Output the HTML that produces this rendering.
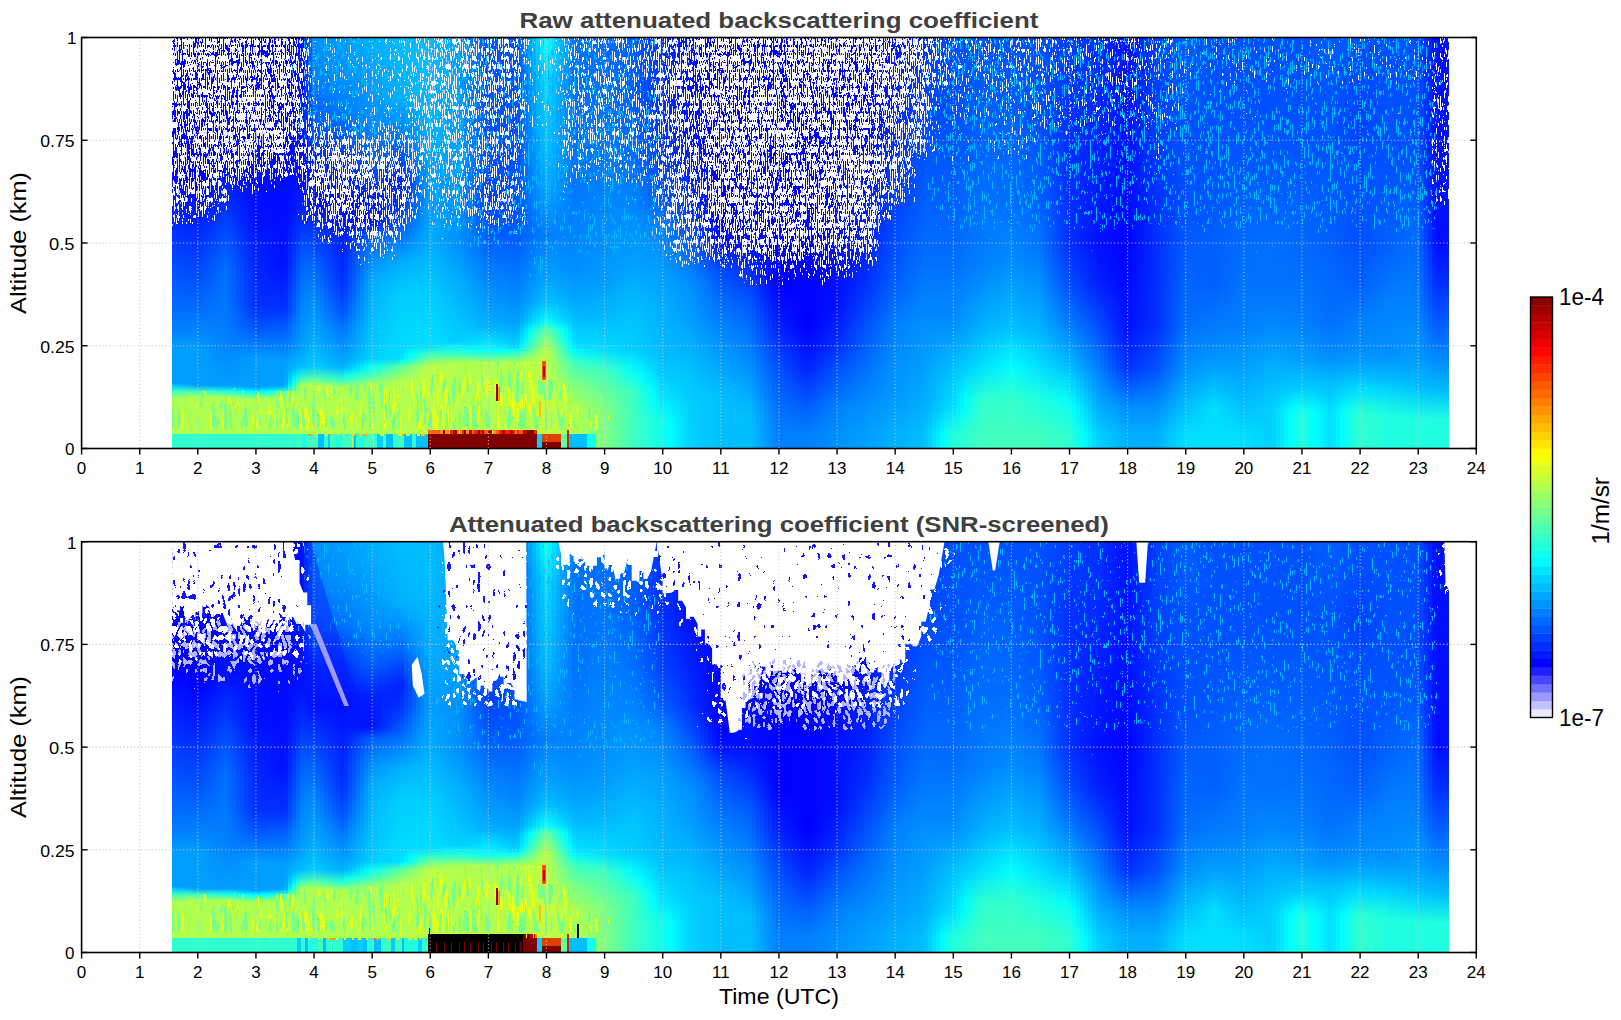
<!DOCTYPE html><html><head><meta charset="utf-8"><style>html,body{margin:0;padding:0;background:#fff;width:1621px;height:1020px;overflow:hidden;position:relative}i{position:absolute;top:0;height:100%;display:block}b{position:absolute;display:block}</style></head><body><div style="position:absolute;left:172.20px;top:37.50px;width:1276.79px;height:411.00px;overflow:hidden"><i style="left:0px;width:4.5px;background:linear-gradient(0deg,#afff50 3.5%,#afff50 12.0%,#96ff69 12.5%,#40ffbf 14.0%,#00c4ff 15.5%,#009fff 16.0%,#009fff 24.0%,#009fff 24.5%,#0080ff 29.0%,#007cff 30.0%,#0064ff 37.0%,#005fff 38.5%,#0048ff 46.0%,#003fff 49.0%,#002cff 55.0%,#001fff 59.0%,#000dff 65.0%,#0000ff 70.0%,#0000ff 100.0%)"></i><i style="left:4px;width:4.5px;background:linear-gradient(0deg,#afff50 3.5%,#afff50 12.0%,#9aff65 12.5%,#40ffbf 14.0%,#00beff 15.5%,#009fff 16.0%,#009fff 24.0%,#009fff 24.5%,#0081ff 29.0%,#007dff 30.0%,#0063ff 37.0%,#005eff 38.5%,#0047ff 46.0%,#003dff 49.0%,#002aff 55.0%,#001dff 59.0%,#000bff 65.0%,#0000ff 70.0%,#0000ff 100.0%)"></i><i style="left:8px;width:4.5px;background:linear-gradient(0deg,#afff50 3.5%,#afff50 12.0%,#9eff61 12.5%,#40ffbf 14.0%,#00b8ff 15.5%,#009fff 16.0%,#009fff 24.0%,#009eff 24.5%,#0082ff 29.0%,#007dff 30.0%,#0063ff 37.0%,#005eff 38.5%,#0045ff 46.0%,#003cff 49.0%,#0028ff 55.0%,#001bff 59.0%,#0009ff 65.0%,#0000ff 70.0%,#0000ff 100.0%)"></i><i style="left:12px;width:4.5px;background:linear-gradient(0deg,#afff50 3.5%,#afff50 12.0%,#a3ff5c 12.5%,#40ffbf 14.0%,#00b1ff 15.5%,#009fff 16.0%,#009fff 24.0%,#009eff 24.5%,#0082ff 29.0%,#007eff 30.0%,#0062ff 37.0%,#005dff 38.5%,#0044ff 46.0%,#003aff 49.0%,#0026ff 55.0%,#0019ff 59.0%,#0007ff 65.0%,#0000ff 70.0%,#0000ff 100.0%)"></i><i style="left:16px;width:4.5px;background:linear-gradient(0deg,#afff50 3.5%,#afff50 12.0%,#a7ff58 12.5%,#40ffbf 14.0%,#00abff 15.5%,#009fff 16.0%,#009fff 24.0%,#009eff 24.5%,#0083ff 29.0%,#007eff 30.0%,#0061ff 37.0%,#005cff 38.5%,#0042ff 46.0%,#0038ff 49.0%,#0024ff 55.0%,#0017ff 59.0%,#0004ff 65.0%,#0000ff 70.0%,#0000ff 100.0%)"></i><i style="left:20px;width:4.5px;background:linear-gradient(0deg,#afff50 3.5%,#afff50 12.0%,#abff54 12.5%,#40ffbf 14.0%,#00a5ff 15.5%,#009fff 16.0%,#009fff 24.0%,#009dff 24.5%,#0084ff 29.0%,#007fff 30.0%,#0060ff 37.0%,#005bff 38.5%,#0041ff 46.0%,#0037ff 49.0%,#0022ff 55.0%,#0015ff 59.0%,#0002ff 65.0%,#0000ff 70.0%,#0000ff 100.0%)"></i><i style="left:24px;width:4.5px;background:linear-gradient(0deg,#afff50 3.5%,#afff50 12.5%,#3fffc0 14.0%,#009fff 15.5%,#009fff 24.0%,#008fff 27.0%,#007fff 30.0%,#0060ff 37.0%,#004bff 43.0%,#0040ff 46.0%,#002bff 52.0%,#0020ff 55.0%,#0010ff 60.0%,#0000ff 65.0%,#0000ff 68.0%,#0000ff 100.0%)"></i><i style="left:28px;width:4.5px;background:linear-gradient(0deg,#afff50 3.5%,#afff50 12.5%,#3bffc4 14.0%,#009fff 15.5%,#009cff 24.0%,#008dff 27.0%,#007fff 30.0%,#0063ff 37.0%,#0050ff 43.0%,#0045ff 46.0%,#0030ff 52.0%,#0025ff 55.0%,#0015ff 60.0%,#0004ff 65.0%,#0002ff 68.0%,#0000ff 100.0%)"></i><i style="left:32px;width:4.5px;background:linear-gradient(0deg,#afff50 3.5%,#afff50 12.5%,#37ffc8 14.0%,#009fff 15.5%,#0099ff 24.0%,#008bff 27.0%,#007fff 30.0%,#0066ff 37.0%,#0055ff 43.0%,#004aff 46.0%,#0035ff 52.0%,#002aff 55.0%,#0019ff 60.0%,#0008ff 65.0%,#0005ff 68.0%,#0000ff 100.0%)"></i><i style="left:36px;width:4.5px;background:linear-gradient(0deg,#afff50 3.5%,#afff50 12.5%,#32ffcd 14.0%,#009fff 15.5%,#0095ff 24.0%,#0089ff 27.0%,#007eff 30.0%,#0069ff 37.0%,#005aff 43.0%,#0050ff 46.0%,#003aff 52.0%,#002fff 55.0%,#001eff 60.0%,#000cff 65.0%,#0007ff 68.0%,#0000ff 100.0%)"></i><i style="left:40px;width:4.5px;background:linear-gradient(0deg,#afff50 3.5%,#afff50 12.5%,#2effd1 14.0%,#009fff 15.5%,#0092ff 24.0%,#0086ff 27.0%,#007eff 30.0%,#006cff 37.0%,#005fff 43.0%,#0055ff 46.0%,#003fff 52.0%,#0034ff 55.0%,#0022ff 60.0%,#0010ff 65.0%,#0009ff 68.0%,#0000ff 100.0%)"></i><i style="left:44px;width:4.5px;background:linear-gradient(0deg,#afff50 3.5%,#afff50 12.5%,#29ffd6 14.0%,#009fff 15.5%,#008fff 24.0%,#0084ff 27.0%,#007dff 30.0%,#006fff 37.0%,#0064ff 43.0%,#005aff 46.0%,#0045ff 52.0%,#0039ff 55.0%,#0026ff 60.0%,#0014ff 65.0%,#000bff 68.0%,#0000ff 100.0%)"></i><i style="left:48px;width:4.5px;background:linear-gradient(0deg,#afff50 3.5%,#afff50 12.5%,#25ffda 14.0%,#009fff 15.5%,#008cff 24.0%,#0082ff 27.0%,#007dff 30.0%,#0072ff 37.0%,#006aff 43.0%,#005fff 46.0%,#004aff 52.0%,#003eff 55.0%,#002bff 60.0%,#0017ff 65.0%,#000dff 68.0%,#0000ff 100.0%)"></i><i style="left:52px;width:4.5px;background:linear-gradient(0deg,#afff50 3.5%,#afff50 12.5%,#21ffde 14.0%,#009fff 15.5%,#0088ff 24.0%,#0080ff 27.0%,#007dff 30.0%,#0075ff 37.0%,#006fff 43.0%,#0064ff 46.0%,#004fff 52.0%,#0043ff 55.0%,#002fff 60.0%,#001bff 65.0%,#0010ff 68.0%,#0000ff 100.0%)"></i><i style="left:56px;width:4.5px;background:linear-gradient(0deg,#afff50 3.5%,#afff50 12.0%,#aaff55 12.5%,#4affb5 13.5%,#1bffe4 14.0%,#00c5ff 15.0%,#009fff 15.5%,#008fff 22.0%,#0084ff 25.0%,#007dff 27.0%,#0077ff 30.0%,#006fff 35.0%,#0067ff 43.0%,#0054ff 49.0%,#0049ff 52.0%,#003eff 55.0%,#002cff 60.0%,#000fff 68.0%,#0000ff 100.0%)"></i><i style="left:60px;width:4.5px;background:linear-gradient(0deg,#afff50 3.5%,#afff50 12.0%,#a3ff5c 12.5%,#44ffbb 13.5%,#15ffea 14.0%,#00bfff 15.0%,#009fff 15.5%,#0092ff 22.0%,#0084ff 25.0%,#007bff 27.0%,#0071ff 30.0%,#0065ff 35.0%,#005dff 43.0%,#004cff 49.0%,#0042ff 52.0%,#0037ff 55.0%,#0027ff 60.0%,#000fff 68.0%,#0000ff 100.0%)"></i><i style="left:64px;width:4.5px;background:linear-gradient(0deg,#afff50 3.5%,#afff50 12.0%,#9dff62 12.5%,#3dffc2 13.5%,#0ffff0 14.0%,#00b9ff 15.0%,#009fff 15.5%,#0094ff 22.0%,#0083ff 25.0%,#0078ff 27.0%,#006bff 30.0%,#005cff 35.0%,#0053ff 43.0%,#0044ff 49.0%,#003aff 52.0%,#0030ff 55.0%,#0023ff 60.0%,#000eff 68.0%,#0000ff 100.0%)"></i><i style="left:68px;width:4.5px;background:linear-gradient(0deg,#afff50 3.5%,#afff50 12.0%,#96ff69 12.5%,#36ffc9 13.5%,#09fff6 14.0%,#00b3ff 15.0%,#009fff 15.5%,#0097ff 22.0%,#0082ff 25.0%,#0075ff 27.0%,#0065ff 30.0%,#0052ff 35.0%,#0049ff 43.0%,#003cff 49.0%,#0032ff 52.0%,#0028ff 55.0%,#001eff 60.0%,#000eff 68.0%,#0000ff 100.0%)"></i><i style="left:72px;width:4.5px;background:linear-gradient(0deg,#afff50 3.5%,#afff50 12.0%,#90ff6f 12.5%,#30ffcf 13.5%,#04fffb 14.0%,#00aeff 15.0%,#009fff 15.5%,#0099ff 22.0%,#0081ff 25.0%,#0073ff 27.0%,#005fff 30.0%,#0048ff 35.0%,#003fff 43.0%,#0033ff 49.0%,#002bff 52.0%,#0021ff 55.0%,#0019ff 60.0%,#000dff 68.0%,#0000ff 100.0%)"></i><i style="left:76px;width:4.5px;background:linear-gradient(0deg,#afff50 3.5%,#afff50 12.0%,#89ff76 12.5%,#29ffd6 13.5%,#00fdff 14.0%,#00a8ff 15.0%,#009fff 15.5%,#009cff 22.0%,#0081ff 25.0%,#0070ff 27.0%,#0059ff 30.0%,#003eff 35.0%,#0035ff 43.0%,#002bff 49.0%,#0023ff 52.0%,#001aff 55.0%,#0015ff 60.0%,#000cff 68.0%,#0000ff 100.0%)"></i><i style="left:80px;width:4.5px;background:linear-gradient(0deg,#afff50 3.5%,#afff50 12.0%,#82ff7d 12.5%,#23ffdc 13.5%,#00f7ff 14.0%,#00a2ff 15.0%,#009fff 15.5%,#009eff 22.0%,#0080ff 25.0%,#006eff 27.0%,#0052ff 30.0%,#0034ff 35.0%,#002bff 43.0%,#0023ff 49.0%,#001bff 52.0%,#0013ff 55.0%,#0010ff 60.0%,#000cff 68.0%,#0000ff 100.0%)"></i><i style="left:84px;width:4.5px;background:linear-gradient(0deg,#afff50 3.5%,#afff50 12.0%,#83ff7c 12.5%,#24ffdb 13.5%,#00f8ff 14.0%,#00a3ff 15.0%,#009fff 15.5%,#009fff 21.0%,#009fff 22.0%,#0080ff 25.0%,#005aff 29.0%,#0050ff 30.0%,#0036ff 34.0%,#0030ff 35.0%,#0023ff 45.0%,#001fff 49.0%,#0010ff 55.0%,#0000ff 100.0%)"></i><i style="left:88px;width:4.5px;background:linear-gradient(0deg,#afff50 3.5%,#afff50 12.0%,#8aff75 12.5%,#2affd5 13.5%,#00feff 14.0%,#00a9ff 15.0%,#009fff 15.5%,#009fff 21.0%,#009eff 22.0%,#0080ff 25.0%,#005bff 29.0%,#0051ff 30.0%,#0035ff 34.0%,#002fff 35.0%,#0020ff 45.0%,#001cff 49.0%,#000fff 55.0%,#0000ff 100.0%)"></i><i style="left:92px;width:4.5px;background:linear-gradient(0deg,#afff50 3.5%,#afff50 12.0%,#90ff6f 12.5%,#31ffce 13.5%,#04fffb 14.0%,#00aeff 15.0%,#009fff 15.5%,#009fff 21.0%,#009dff 22.0%,#0080ff 25.0%,#005cff 29.0%,#0052ff 30.0%,#0034ff 34.0%,#002fff 35.0%,#001dff 45.0%,#001aff 49.0%,#000fff 55.0%,#0000ff 100.0%)"></i><i style="left:96px;width:4.5px;background:linear-gradient(0deg,#afff50 3.5%,#afff50 12.0%,#97ff68 12.5%,#37ffc8 13.5%,#0afff5 14.0%,#00b4ff 15.0%,#009fff 15.5%,#009fff 21.0%,#009bff 22.0%,#0080ff 25.0%,#005cff 29.0%,#0053ff 30.0%,#0033ff 34.0%,#002eff 35.0%,#001aff 45.0%,#0017ff 49.0%,#000fff 55.0%,#0000ff 100.0%)"></i><i style="left:100px;width:4.5px;background:linear-gradient(0deg,#afff50 3.5%,#afff50 12.0%,#9eff61 12.5%,#3effc1 13.5%,#10ffef 14.0%,#00baff 15.0%,#009fff 15.5%,#009fff 21.0%,#009aff 22.0%,#0080ff 25.0%,#005dff 29.0%,#0054ff 30.0%,#0032ff 34.0%,#002eff 35.0%,#0018ff 45.0%,#0015ff 49.0%,#000eff 55.0%,#0000ff 100.0%)"></i><i style="left:104px;width:4.5px;background:linear-gradient(0deg,#afff50 3.5%,#afff50 12.0%,#a4ff5b 12.5%,#45ffba 13.5%,#16ffe9 14.0%,#00c0ff 15.0%,#009fff 15.5%,#009fff 21.0%,#0099ff 22.0%,#0080ff 25.0%,#005eff 29.0%,#0055ff 30.0%,#0031ff 34.0%,#002eff 35.0%,#0015ff 45.0%,#0013ff 49.0%,#000eff 55.0%,#0000ff 100.0%)"></i><i style="left:108px;width:4.5px;background:linear-gradient(0deg,#afff50 3.5%,#afff50 12.0%,#abff54 12.5%,#4bffb4 13.5%,#1cffe3 14.0%,#00c6ff 15.0%,#009fff 15.5%,#009fff 21.0%,#0098ff 22.0%,#0080ff 25.0%,#005fff 29.0%,#0055ff 30.0%,#0030ff 34.0%,#002dff 35.0%,#0012ff 45.0%,#0010ff 49.0%,#000dff 55.0%,#0000ff 100.0%)"></i><i style="left:112px;width:4.5px;background:linear-gradient(0deg,#afff50 3.5%,#afff50 12.5%,#2affd5 14.0%,#00b2ff 15.5%,#00aaff 17.0%,#00a2ff 20.0%,#00a1ff 21.0%,#0082ff 25.0%,#0063ff 29.0%,#0036ff 34.0%,#002dff 37.0%,#0016ff 45.0%,#0015ff 46.0%,#000fff 55.0%,#000bff 65.0%,#0005ff 85.0%,#0001ff 100.0%)"></i><i style="left:116px;width:4.5px;background:linear-gradient(0deg,#afff50 3.5%,#afff50 12.5%,#4bffb4 14.0%,#00f0ff 15.5%,#00cfff 17.0%,#00a9ff 20.0%,#00a7ff 21.0%,#0089ff 25.0%,#006fff 29.0%,#004aff 34.0%,#0041ff 37.0%,#0029ff 45.0%,#0028ff 46.0%,#0017ff 55.0%,#000cff 65.0%,#0008ff 85.0%,#0005ff 100.0%)"></i><i style="left:120px;width:4.5px;background:linear-gradient(0deg,#afff50 3.5%,#afff50 12.5%,#6cff93 14.0%,#2fffd0 15.5%,#00f4ff 17.0%,#00b0ff 20.0%,#00adff 21.0%,#0090ff 25.0%,#007cff 29.0%,#005eff 34.0%,#0056ff 37.0%,#003cff 45.0%,#003aff 46.0%,#001fff 55.0%,#000dff 65.0%,#000aff 85.0%,#0008ff 100.0%)"></i><i style="left:124px;width:4.5px;background:linear-gradient(0deg,#afff50 3.5%,#afff50 12.5%,#8dff72 14.0%,#6eff91 15.5%,#19ffe6 17.0%,#00b8ff 20.0%,#00b3ff 21.0%,#0098ff 25.0%,#0088ff 29.0%,#0072ff 34.0%,#006aff 37.0%,#004fff 45.0%,#004cff 46.0%,#0027ff 55.0%,#000fff 65.0%,#000dff 85.0%,#000cff 100.0%)"></i><i style="left:128px;width:4.5px;background:linear-gradient(0deg,#afff50 3.5%,#afff50 12.5%,#adff52 14.0%,#acff53 15.5%,#3effc1 17.0%,#00bfff 20.0%,#00b9ff 21.0%,#009fff 25.0%,#0094ff 29.0%,#0086ff 34.0%,#007eff 37.0%,#0062ff 45.0%,#005fff 46.0%,#002fff 55.0%,#0010ff 65.0%,#0010ff 85.0%,#0010ff 100.0%)"></i><i style="left:132px;width:4.5px;background:linear-gradient(0deg,#afff50 3.5%,#afff50 15.5%,#4affb5 17.0%,#00c4ff 20.0%,#00a6ff 25.0%,#00a3ff 26.0%,#0086ff 36.0%,#0083ff 37.0%,#006cff 43.0%,#0060ff 46.0%,#0040ff 52.0%,#002fff 55.0%,#001bff 60.0%,#0013ff 65.0%,#0015ff 70.0%,#002aff 80.0%,#002fff 85.0%,#0034ff 90.0%,#0039ff 100.0%)"></i><i style="left:136px;width:4.5px;background:linear-gradient(0deg,#afff50 3.5%,#afff50 15.5%,#55ffaa 17.0%,#00caff 20.0%,#00aeff 25.0%,#00a9ff 26.0%,#008bff 36.0%,#0087ff 37.0%,#006eff 43.0%,#0060ff 46.0%,#0040ff 52.0%,#002eff 55.0%,#0015ff 60.0%,#0015ff 65.0%,#001bff 70.0%,#0045ff 80.0%,#0050ff 85.0%,#005bff 90.0%,#0065ff 100.0%)"></i><i style="left:140px;width:4.5px;background:linear-gradient(0deg,#afff50 3.5%,#afff50 15.0%,#afff50 15.5%,#7aff85 16.5%,#5fffa0 17.0%,#00cfff 20.0%,#00b4ff 25.0%,#00afff 26.0%,#00a2ff 30.0%,#0095ff 34.0%,#008fff 36.0%,#007dff 40.0%,#006fff 43.0%,#004aff 50.0%,#0040ff 52.0%,#0010ff 60.0%,#0020ff 70.0%,#0060ff 80.0%,#0080ff 90.0%,#0090ff 100.0%)"></i><i style="left:144px;width:4.5px;background:linear-gradient(0deg,#afff50 3.5%,#afff50 15.0%,#aaff55 15.5%,#72ff8d 16.5%,#58ffa7 17.0%,#00cbff 20.0%,#00afff 25.0%,#00aaff 26.0%,#009bff 30.0%,#008cff 34.0%,#0085ff 36.0%,#0072ff 40.0%,#0066ff 43.0%,#0044ff 50.0%,#003bff 52.0%,#0010ff 60.0%,#0022ff 70.0%,#0062ff 80.0%,#0082ff 90.0%,#0092ff 100.0%)"></i><i style="left:148px;width:4.5px;background:linear-gradient(0deg,#afff50 3.5%,#afff50 15.0%,#a5ff5a 15.5%,#6aff95 16.5%,#51ffae 17.0%,#00c6ff 20.0%,#00aaff 25.0%,#00a5ff 26.0%,#0094ff 30.0%,#0082ff 34.0%,#007bff 36.0%,#0068ff 40.0%,#005cff 43.0%,#003eff 50.0%,#0036ff 52.0%,#0010ff 60.0%,#0024ff 70.0%,#0064ff 80.0%,#0084ff 90.0%,#0094ff 100.0%)"></i><i style="left:152px;width:4.5px;background:linear-gradient(0deg,#afff50 3.5%,#afff50 15.0%,#a0ff5f 15.5%,#62ff9d 16.5%,#4affb5 17.0%,#00c2ff 20.0%,#00a5ff 25.0%,#009fff 26.0%,#008dff 30.0%,#0078ff 34.0%,#0070ff 36.0%,#005dff 40.0%,#0053ff 43.0%,#0039ff 50.0%,#0031ff 52.0%,#0010ff 60.0%,#0027ff 70.0%,#0066ff 80.0%,#0086ff 90.0%,#0096ff 100.0%)"></i><i style="left:156px;width:4.5px;background:linear-gradient(0deg,#afff50 3.5%,#afff50 15.0%,#9bff64 15.5%,#5affa5 16.5%,#43ffbc 17.0%,#00bdff 20.0%,#00a0ff 25.0%,#009aff 26.0%,#0086ff 30.0%,#006fff 34.0%,#0066ff 36.0%,#0052ff 40.0%,#0049ff 43.0%,#0033ff 50.0%,#002cff 52.0%,#0010ff 60.0%,#0029ff 70.0%,#0068ff 80.0%,#0088ff 90.0%,#0098ff 100.0%)"></i><i style="left:160px;width:4.5px;background:linear-gradient(0deg,#afff50 3.5%,#afff50 15.0%,#96ff69 15.5%,#52ffad 16.5%,#3bffc4 17.0%,#00b9ff 20.0%,#009bff 25.0%,#0095ff 26.0%,#007fff 30.0%,#0065ff 34.0%,#005cff 36.0%,#0048ff 40.0%,#0040ff 43.0%,#002dff 50.0%,#0027ff 52.0%,#0010ff 60.0%,#002bff 70.0%,#006bff 80.0%,#008bff 90.0%,#009aff 100.0%)"></i><i style="left:164px;width:4.5px;background:linear-gradient(0deg,#afff50 3.5%,#afff50 15.0%,#90ff6f 15.5%,#4affb5 16.5%,#34ffcb 17.0%,#00b5ff 20.0%,#0096ff 25.0%,#0090ff 26.0%,#0078ff 30.0%,#005cff 34.0%,#0052ff 36.0%,#003dff 40.0%,#0037ff 43.0%,#0027ff 50.0%,#0023ff 52.0%,#0010ff 60.0%,#002dff 70.0%,#006dff 80.0%,#008dff 90.0%,#009dff 100.0%)"></i><i style="left:168px;width:4.5px;background:linear-gradient(0deg,#afff50 3.5%,#afff50 15.0%,#8bff74 15.5%,#42ffbd 16.5%,#2dffd2 17.0%,#00b0ff 20.0%,#0091ff 25.0%,#008aff 26.0%,#0071ff 30.0%,#0052ff 34.0%,#0047ff 36.0%,#0032ff 40.0%,#002dff 43.0%,#0021ff 50.0%,#001eff 52.0%,#0010ff 60.0%,#002fff 70.0%,#006fff 80.0%,#008fff 90.0%,#009fff 100.0%)"></i><i style="left:172px;width:4.5px;background:linear-gradient(0deg,#afff50 3.5%,#afff50 15.0%,#8eff71 15.5%,#47ffb8 16.5%,#09fff6 18.0%,#00b9ff 20.0%,#00a7ff 22.0%,#0096ff 25.0%,#0078ff 30.0%,#0071ff 31.0%,#005bff 34.0%,#003dff 40.0%,#0031ff 46.0%,#0028ff 50.0%,#0024ff 52.0%,#0017ff 55.0%,#0011ff 60.0%,#0017ff 62.0%,#0035ff 70.0%,#0073ff 80.0%,#0091ff 90.0%,#00a1ff 100.0%)"></i><i style="left:176px;width:4.5px;background:linear-gradient(0deg,#afff50 3.5%,#afff50 15.0%,#93ff6c 15.5%,#50ffaf 16.5%,#11ffee 18.0%,#00c5ff 20.0%,#00adff 22.0%,#009eff 25.0%,#0083ff 30.0%,#007dff 31.0%,#006aff 34.0%,#004fff 40.0%,#0040ff 46.0%,#0033ff 50.0%,#002dff 52.0%,#0016ff 55.0%,#0013ff 60.0%,#0019ff 62.0%,#003bff 70.0%,#0077ff 80.0%,#0093ff 90.0%,#00a3ff 100.0%)"></i><i style="left:180px;width:4.5px;background:linear-gradient(0deg,#afff50 3.5%,#afff50 15.0%,#98ff67 15.5%,#59ffa6 16.5%,#1affe5 18.0%,#00d1ff 20.0%,#00b4ff 22.0%,#00a6ff 25.0%,#008fff 30.0%,#0089ff 31.0%,#0078ff 34.0%,#0060ff 40.0%,#004eff 46.0%,#003eff 50.0%,#0036ff 52.0%,#0015ff 55.0%,#0014ff 60.0%,#001aff 62.0%,#0042ff 70.0%,#007cff 80.0%,#0096ff 90.0%,#00a5ff 100.0%)"></i><i style="left:184px;width:4.5px;background:linear-gradient(0deg,#afff50 3.5%,#afff50 15.0%,#9dff62 15.5%,#63ff9c 16.5%,#22ffdd 18.0%,#00ddff 20.0%,#00baff 22.0%,#00aeff 25.0%,#009aff 30.0%,#0095ff 31.0%,#0087ff 34.0%,#0072ff 40.0%,#005dff 46.0%,#0049ff 50.0%,#003fff 52.0%,#0014ff 55.0%,#0016ff 60.0%,#001bff 62.0%,#0049ff 70.0%,#0080ff 80.0%,#0098ff 90.0%,#00a8ff 100.0%)"></i><i style="left:188px;width:4.5px;background:linear-gradient(0deg,#afff50 3.5%,#afff50 15.0%,#a3ff5c 15.5%,#6cff93 16.5%,#2bffd4 18.0%,#00e9ff 20.0%,#00c0ff 22.0%,#00b6ff 25.0%,#00a5ff 30.0%,#00a1ff 31.0%,#0095ff 34.0%,#0084ff 40.0%,#006bff 46.0%,#0054ff 50.0%,#0049ff 52.0%,#0013ff 55.0%,#0017ff 60.0%,#001dff 62.0%,#004fff 70.0%,#0085ff 80.0%,#009aff 90.0%,#00aaff 100.0%)"></i><i style="left:192px;width:4.5px;background:linear-gradient(0deg,#afff50 3.5%,#afff50 15.0%,#a8ff57 15.5%,#75ff8a 16.5%,#33ffcc 18.0%,#00f5ff 20.0%,#00c6ff 22.0%,#00beff 25.0%,#00b0ff 30.0%,#00adff 31.0%,#00a4ff 34.0%,#0095ff 40.0%,#007aff 46.0%,#005fff 50.0%,#0052ff 52.0%,#0012ff 55.0%,#0019ff 60.0%,#001eff 62.0%,#0056ff 70.0%,#0089ff 80.0%,#009cff 90.0%,#00acff 100.0%)"></i><i style="left:196px;width:4.5px;background:linear-gradient(0deg,#afff50 3.5%,#afff50 15.0%,#adff52 15.5%,#7eff81 16.5%,#3cffc3 18.0%,#02fffd 20.0%,#00ccff 22.0%,#00c6ff 25.0%,#00bcff 30.0%,#00b9ff 31.0%,#00b3ff 34.0%,#00a7ff 40.0%,#0088ff 46.0%,#006aff 50.0%,#005bff 52.0%,#0010ff 55.0%,#001bff 60.0%,#001fff 62.0%,#005cff 70.0%,#008dff 80.0%,#009eff 90.0%,#00aeff 100.0%)"></i><i style="left:200px;width:4.5px;background:linear-gradient(0deg,#afff50 3.5%,#afff50 15.5%,#86ff79 16.5%,#45ffba 18.0%,#0efff1 20.0%,#00d0ff 22.0%,#00c1ff 31.0%,#00b6ff 37.0%,#00b1ff 40.0%,#0097ff 45.0%,#0091ff 46.0%,#0061ff 52.0%,#0015ff 55.0%,#001dff 60.0%,#0021ff 62.0%,#0036ff 65.0%,#005eff 70.0%,#0077ff 75.0%,#008fff 80.0%,#0099ff 85.0%,#00a1ff 90.0%,#00b0ff 100.0%)"></i><i style="left:204px;width:4.5px;background:linear-gradient(0deg,#afff50 3.5%,#afff50 15.5%,#8cff73 16.5%,#50ffaf 18.0%,#1affe5 20.0%,#00d2ff 22.0%,#00c4ff 31.0%,#00baff 37.0%,#00b3ff 40.0%,#009aff 45.0%,#0094ff 46.0%,#0063ff 52.0%,#001fff 55.0%,#0020ff 60.0%,#0022ff 62.0%,#0033ff 65.0%,#005bff 70.0%,#0076ff 75.0%,#008fff 80.0%,#009cff 85.0%,#00a4ff 90.0%,#00b3ff 100.0%)"></i><i style="left:208px;width:4.5px;background:linear-gradient(0deg,#afff50 3.5%,#afff50 15.5%,#92ff6d 16.5%,#5affa5 18.0%,#26ffd9 20.0%,#00d5ff 22.0%,#00c7ff 31.0%,#00beff 37.0%,#00b6ff 40.0%,#009eff 45.0%,#0097ff 46.0%,#0065ff 52.0%,#0029ff 55.0%,#0022ff 60.0%,#0023ff 62.0%,#0030ff 65.0%,#0057ff 70.0%,#0075ff 75.0%,#008fff 80.0%,#00a0ff 85.0%,#00a7ff 90.0%,#00b5ff 100.0%)"></i><i style="left:212px;width:4.5px;background:linear-gradient(0deg,#afff50 3.5%,#afff50 15.5%,#98ff67 16.5%,#65ff9a 18.0%,#32ffcd 20.0%,#00d7ff 22.0%,#00caff 31.0%,#00c1ff 37.0%,#00b9ff 40.0%,#00a2ff 45.0%,#009aff 46.0%,#0067ff 52.0%,#0033ff 55.0%,#0025ff 60.0%,#0024ff 62.0%,#002cff 65.0%,#0054ff 70.0%,#0074ff 75.0%,#008fff 80.0%,#00a3ff 85.0%,#00aaff 90.0%,#00b7ff 100.0%)"></i><i style="left:216px;width:4.5px;background:linear-gradient(0deg,#afff50 3.5%,#afff50 15.5%,#9eff61 16.5%,#70ff8f 18.0%,#3effc1 20.0%,#00d9ff 22.0%,#00cdff 31.0%,#00c5ff 37.0%,#00bcff 40.0%,#00a5ff 45.0%,#009eff 46.0%,#006aff 52.0%,#003cff 55.0%,#0028ff 60.0%,#0026ff 62.0%,#0029ff 65.0%,#0051ff 70.0%,#0073ff 75.0%,#008fff 80.0%,#00a6ff 85.0%,#00adff 90.0%,#00b9ff 100.0%)"></i><i style="left:220px;width:4.5px;background:linear-gradient(0deg,#afff50 3.5%,#afff50 15.5%,#a5ff5a 16.5%,#7aff85 18.0%,#4affb5 20.0%,#00dbff 22.0%,#00d0ff 31.0%,#00c9ff 37.0%,#00beff 40.0%,#00a9ff 45.0%,#00a1ff 46.0%,#006cff 52.0%,#0046ff 55.0%,#002bff 60.0%,#0027ff 62.0%,#0026ff 65.0%,#004dff 70.0%,#0071ff 75.0%,#008fff 80.0%,#00aaff 85.0%,#00afff 90.0%,#00bbff 100.0%)"></i><i style="left:224px;width:4.5px;background:linear-gradient(0deg,#afff50 3.5%,#afff50 15.5%,#abff54 16.5%,#85ff7a 18.0%,#57ffa8 20.0%,#00ddff 22.0%,#00d3ff 31.0%,#00ccff 37.0%,#00c1ff 40.0%,#00adff 45.0%,#00a4ff 46.0%,#006eff 52.0%,#0050ff 55.0%,#002eff 60.0%,#0028ff 62.0%,#0022ff 65.0%,#004aff 70.0%,#0070ff 75.0%,#008fff 80.0%,#00adff 85.0%,#00b2ff 90.0%,#00beff 100.0%)"></i><i style="left:228px;width:4.5px;background:linear-gradient(0deg,#b0ff4f 3.5%,#b0ff4f 16.5%,#63ff9c 20.0%,#04fffb 21.5%,#00e4ff 22.0%,#00e1ff 23.0%,#00dcff 25.0%,#00cfff 37.0%,#00b0ff 45.0%,#0083ff 50.0%,#0072ff 52.0%,#0034ff 60.0%,#0024ff 65.0%,#0072ff 75.0%,#00b0ff 85.0%,#00b5ff 90.0%,#00bfff 100.0%)"></i><i style="left:232px;width:4.5px;background:linear-gradient(0deg,#b2ff4d 3.5%,#b2ff4d 16.5%,#70ff8f 20.0%,#16ffe9 21.5%,#00f7ff 22.0%,#00efff 23.0%,#00dcff 25.0%,#00cfff 37.0%,#00b1ff 45.0%,#008aff 50.0%,#007aff 52.0%,#0043ff 60.0%,#0037ff 65.0%,#007aff 75.0%,#00b1ff 85.0%,#00b6ff 90.0%,#00bfff 100.0%)"></i><i style="left:236px;width:4.5px;background:linear-gradient(0deg,#b4ff4b 3.5%,#b4ff4b 16.5%,#7dff82 20.0%,#27ffd8 21.5%,#0bfff4 22.0%,#00fcff 23.0%,#00ddff 25.0%,#00cfff 37.0%,#00b3ff 45.0%,#0090ff 50.0%,#0082ff 52.0%,#0052ff 60.0%,#0049ff 65.0%,#0083ff 75.0%,#00b3ff 85.0%,#00b8ff 90.0%,#00bfff 100.0%)"></i><i style="left:240px;width:4.5px;background:linear-gradient(0deg,#b6ff49 3.5%,#b6ff49 16.5%,#8aff75 20.0%,#39ffc6 21.5%,#1effe1 22.0%,#0afff5 23.0%,#00ddff 25.0%,#00cfff 37.0%,#00b5ff 45.0%,#0096ff 50.0%,#008bff 52.0%,#0062ff 60.0%,#005bff 65.0%,#008cff 75.0%,#00b4ff 85.0%,#00b9ff 90.0%,#00bfff 100.0%)"></i><i style="left:244px;width:4.5px;background:linear-gradient(0deg,#b9ff46 3.5%,#b9ff46 16.5%,#98ff67 20.0%,#4bffb4 21.5%,#31ffce 22.0%,#18ffe7 23.0%,#00deff 25.0%,#00cfff 37.0%,#00b6ff 45.0%,#009cff 50.0%,#0093ff 52.0%,#0071ff 60.0%,#006dff 65.0%,#0095ff 75.0%,#00b6ff 85.0%,#00bbff 90.0%,#00bfff 100.0%)"></i><i style="left:248px;width:4.5px;background:linear-gradient(0deg,#bbff44 3.5%,#bbff44 16.5%,#a5ff5a 20.0%,#5cffa3 21.5%,#44ffbb 22.0%,#25ffda 23.0%,#00deff 25.0%,#00cfff 37.0%,#00b8ff 45.0%,#00a3ff 50.0%,#009bff 52.0%,#0080ff 60.0%,#0080ff 65.0%,#009eff 75.0%,#00b7ff 85.0%,#00bcff 90.0%,#00bfff 100.0%)"></i><i style="left:252px;width:4.5px;background:linear-gradient(0deg,#bdff42 3.5%,#bdff42 16.5%,#b2ff4d 20.0%,#6eff91 21.5%,#57ffa8 22.0%,#32ffcd 23.0%,#00dfff 25.0%,#00cfff 37.0%,#00baff 45.0%,#00a9ff 50.0%,#00a4ff 52.0%,#0090ff 60.0%,#0092ff 65.0%,#00a6ff 75.0%,#00b8ff 85.0%,#00beff 90.0%,#00bfff 100.0%)"></i><i style="left:256px;width:4.5px;background:linear-gradient(0deg,#bfff40 3.5%,#bfff40 16.5%,#bfff40 20.0%,#7fff80 21.5%,#6aff95 22.0%,#3fffc0 23.0%,#00dfff 25.0%,#00cfff 37.0%,#00bcff 45.0%,#00afff 50.0%,#00acff 52.0%,#009fff 60.0%,#00a4ff 65.0%,#00afff 75.0%,#00baff 85.0%,#00bfff 90.0%,#00bfff 100.0%)"></i><i style="left:260px;width:4.5px;background:linear-gradient(0deg,#bdff42 3.5%,#bdff42 20.0%,#98ff67 21.0%,#82ff7d 21.5%,#40ffbf 23.0%,#00e2ff 25.0%,#00dcff 26.0%,#00ccff 37.0%,#00c5ff 40.0%,#00abff 50.0%,#009dff 60.0%,#00a9ff 70.0%,#00adff 75.0%,#00bbff 90.0%,#00bbff 100.0%)"></i><i style="left:264px;width:4.5px;background:linear-gradient(0deg,#bbff44 3.5%,#bbff44 20.0%,#9cff63 21.0%,#85ff7a 21.5%,#40ffbf 23.0%,#00e5ff 25.0%,#00daff 26.0%,#00c8ff 37.0%,#00c1ff 40.0%,#00a7ff 50.0%,#009bff 60.0%,#00a7ff 70.0%,#00abff 75.0%,#00b7ff 90.0%,#00b7ff 100.0%)"></i><i style="left:268px;width:4.5px;background:linear-gradient(0deg,#b9ff46 3.5%,#b9ff46 20.0%,#a0ff5f 21.0%,#88ff77 21.5%,#40ffbf 23.0%,#00e8ff 25.0%,#00d8ff 26.0%,#00c5ff 37.0%,#00beff 40.0%,#00a2ff 50.0%,#0099ff 60.0%,#00a6ff 70.0%,#00a9ff 75.0%,#00b2ff 90.0%,#00b2ff 100.0%)"></i><i style="left:272px;width:4.5px;background:linear-gradient(0deg,#b7ff48 3.5%,#b7ff48 20.0%,#a3ff5c 21.0%,#8aff75 21.5%,#40ffbf 23.0%,#00ebff 25.0%,#00d6ff 26.0%,#00c1ff 37.0%,#00baff 40.0%,#009eff 50.0%,#0097ff 60.0%,#00a4ff 70.0%,#00a7ff 75.0%,#00aeff 90.0%,#00aeff 100.0%)"></i><i style="left:276px;width:4.5px;background:linear-gradient(0deg,#b4ff4b 3.5%,#b4ff4b 20.0%,#a7ff58 21.0%,#8dff72 21.5%,#40ffbf 23.0%,#00eeff 25.0%,#00d4ff 26.0%,#00beff 37.0%,#00b7ff 40.0%,#0099ff 50.0%,#0094ff 60.0%,#00a3ff 70.0%,#00a4ff 75.0%,#00a9ff 90.0%,#00a9ff 100.0%)"></i><i style="left:280px;width:4.5px;background:linear-gradient(0deg,#b2ff4d 3.5%,#b2ff4d 20.0%,#abff54 21.0%,#90ff6f 21.5%,#40ffbf 23.0%,#00f1ff 25.0%,#00d2ff 26.0%,#00bbff 37.0%,#00b4ff 40.0%,#0095ff 50.0%,#0092ff 60.0%,#00a1ff 70.0%,#00a2ff 75.0%,#00a5ff 90.0%,#00a5ff 100.0%)"></i><i style="left:284px;width:4.5px;background:linear-gradient(0deg,#b0ff4f 3.5%,#b0ff4f 20.0%,#aeff51 21.0%,#93ff6c 21.5%,#40ffbf 23.0%,#00f4ff 25.0%,#00d0ff 26.0%,#00b7ff 37.0%,#00b0ff 40.0%,#0091ff 50.0%,#0090ff 60.0%,#00a0ff 70.0%,#00a0ff 75.0%,#00a1ff 90.0%,#00a1ff 100.0%)"></i><i style="left:288px;width:4.5px;background:linear-gradient(0deg,#afff50 3.5%,#afff50 21.0%,#75ff8a 22.0%,#3effc1 23.0%,#18ffe7 24.0%,#00d1ff 26.0%,#00c4ff 30.0%,#00aeff 39.0%,#00acff 40.0%,#0095ff 47.0%,#008bff 50.0%,#0089ff 56.0%,#0088ff 60.0%,#008aff 62.0%,#0098ff 70.0%,#0098ff 100.0%)"></i><i style="left:292px;width:4.5px;background:linear-gradient(0deg,#afff50 3.5%,#afff50 21.0%,#72ff8d 22.0%,#3cffc3 23.0%,#14ffeb 24.0%,#00d4ff 26.0%,#00c1ff 30.0%,#00aaff 39.0%,#00a7ff 40.0%,#008fff 47.0%,#0085ff 50.0%,#0080ff 56.0%,#007eff 60.0%,#007fff 62.0%,#008dff 70.0%,#008dff 100.0%)"></i><i style="left:296px;width:4.5px;background:linear-gradient(0deg,#afff50 3.5%,#afff50 21.0%,#6fff90 22.0%,#3affc5 23.0%,#11ffee 24.0%,#00d7ff 26.0%,#00beff 30.0%,#00a5ff 39.0%,#00a2ff 40.0%,#008aff 47.0%,#0080ff 50.0%,#0078ff 56.0%,#0074ff 60.0%,#0074ff 62.0%,#0082ff 70.0%,#0082ff 100.0%)"></i><i style="left:300px;width:4.5px;background:linear-gradient(0deg,#afff50 3.5%,#afff50 21.0%,#6bff94 22.0%,#38ffc7 23.0%,#0dfff2 24.0%,#00daff 26.0%,#00baff 30.0%,#00a0ff 39.0%,#009dff 40.0%,#0084ff 47.0%,#007aff 50.0%,#006fff 56.0%,#0069ff 60.0%,#0068ff 62.0%,#0077ff 70.0%,#0077ff 100.0%)"></i><i style="left:304px;width:4.5px;background:linear-gradient(0deg,#afff50 3.5%,#afff50 21.0%,#68ff97 22.0%,#35ffca 23.0%,#09fff6 24.0%,#00ddff 26.0%,#00b7ff 30.0%,#009bff 39.0%,#0098ff 40.0%,#007eff 47.0%,#0074ff 50.0%,#0066ff 56.0%,#005fff 60.0%,#005dff 62.0%,#006cff 70.0%,#006cff 100.0%)"></i><i style="left:308px;width:4.5px;background:linear-gradient(0deg,#afff50 3.5%,#afff50 21.0%,#65ff9a 22.0%,#33ffcc 23.0%,#06fff9 24.0%,#00e0ff 26.0%,#00b4ff 30.0%,#0097ff 39.0%,#0093ff 40.0%,#0078ff 47.0%,#006eff 50.0%,#005dff 56.0%,#0055ff 60.0%,#0051ff 62.0%,#0061ff 70.0%,#0061ff 100.0%)"></i><i style="left:312px;width:4.5px;background:linear-gradient(0deg,#afff50 3.5%,#afff50 21.0%,#61ff9e 22.0%,#31ffce 23.0%,#02fffd 24.0%,#00e3ff 26.0%,#00b1ff 30.0%,#0092ff 39.0%,#008eff 40.0%,#0073ff 47.0%,#0068ff 50.0%,#0054ff 56.0%,#004bff 60.0%,#0046ff 62.0%,#0056ff 70.0%,#0056ff 100.0%)"></i><i style="left:316px;width:4.5px;background:linear-gradient(0deg,#afff50 3.5%,#afff50 21.0%,#61ff9e 22.0%,#31ffce 23.0%,#00ffff 24.0%,#00f0ff 25.0%,#00afff 30.0%,#00abff 31.0%,#008eff 39.0%,#006fff 47.0%,#0065ff 50.0%,#0050ff 56.0%,#0046ff 60.0%,#0041ff 62.0%,#0050ff 70.0%,#0050ff 100.0%)"></i><i style="left:320px;width:4.5px;background:linear-gradient(0deg,#afff50 3.5%,#afff50 21.0%,#64ff9b 22.0%,#33ffcc 23.0%,#02fffd 24.0%,#00ebff 25.0%,#00aeff 30.0%,#00a9ff 31.0%,#008cff 39.0%,#006eff 47.0%,#0064ff 50.0%,#0051ff 56.0%,#0047ff 60.0%,#0043ff 62.0%,#0050ff 70.0%,#0050ff 100.0%)"></i><i style="left:324px;width:4.5px;background:linear-gradient(0deg,#afff50 3.5%,#afff50 21.0%,#68ff97 22.0%,#35ffca 23.0%,#03fffc 24.0%,#00e6ff 25.0%,#00adff 30.0%,#00a8ff 31.0%,#008aff 39.0%,#006dff 47.0%,#0063ff 50.0%,#0052ff 56.0%,#0049ff 60.0%,#0045ff 62.0%,#0050ff 70.0%,#0050ff 100.0%)"></i><i style="left:328px;width:4.5px;background:linear-gradient(0deg,#afff50 3.5%,#afff50 21.0%,#6bff94 22.0%,#37ffc8 23.0%,#04fffb 24.0%,#00e1ff 25.0%,#00acff 30.0%,#00a6ff 31.0%,#0088ff 39.0%,#006cff 47.0%,#0062ff 50.0%,#0053ff 56.0%,#004aff 60.0%,#0047ff 62.0%,#0050ff 70.0%,#0050ff 100.0%)"></i><i style="left:332px;width:4.5px;background:linear-gradient(0deg,#afff50 3.5%,#afff50 21.0%,#6eff91 22.0%,#3affc5 23.0%,#05fffa 24.0%,#00ddff 25.0%,#00aaff 30.0%,#00a4ff 31.0%,#0086ff 39.0%,#006bff 47.0%,#0062ff 50.0%,#0054ff 56.0%,#004cff 60.0%,#004aff 62.0%,#0050ff 70.0%,#0050ff 100.0%)"></i><i style="left:336px;width:4.5px;background:linear-gradient(0deg,#afff50 3.5%,#afff50 21.0%,#72ff8d 22.0%,#3cffc3 23.0%,#06fff9 24.0%,#00d8ff 25.0%,#00a9ff 30.0%,#00a2ff 31.0%,#0083ff 39.0%,#006aff 47.0%,#0061ff 50.0%,#0054ff 56.0%,#004dff 60.0%,#004cff 62.0%,#0050ff 70.0%,#0050ff 100.0%)"></i><i style="left:340px;width:4.5px;background:linear-gradient(0deg,#afff50 3.5%,#afff50 21.0%,#75ff8a 22.0%,#3effc1 23.0%,#07fff8 24.0%,#00d3ff 25.0%,#00a8ff 30.0%,#00a1ff 31.0%,#0081ff 39.0%,#0069ff 47.0%,#0060ff 50.0%,#0055ff 56.0%,#004fff 60.0%,#004eff 62.0%,#0050ff 70.0%,#0050ff 100.0%)"></i><i style="left:344px;width:4.5px;background:linear-gradient(0deg,#b0ff4f 3.5%,#b0ff4f 21.0%,#43ffbc 23.0%,#0dfff2 24.0%,#00d5ff 25.0%,#00b4ff 29.0%,#00a2ff 31.0%,#008dff 36.0%,#0081ff 39.0%,#0075ff 43.0%,#0061ff 50.0%,#005dff 52.0%,#0052ff 60.0%,#0053ff 70.0%,#0053ff 90.0%,#0055ff 100.0%)"></i><i style="left:348px;width:4.5px;background:linear-gradient(0deg,#b2ff4d 3.5%,#b2ff4d 21.0%,#55ffaa 23.0%,#26ffd9 24.0%,#00f3ff 25.0%,#00ccff 29.0%,#00afff 31.0%,#0094ff 36.0%,#0088ff 39.0%,#007bff 43.0%,#0066ff 50.0%,#0062ff 52.0%,#005dff 60.0%,#0062ff 70.0%,#0067ff 90.0%,#006fff 100.0%)"></i><i style="left:352px;width:4.5px;background:linear-gradient(0deg,#b4ff4b 3.5%,#b4ff4b 21.0%,#66ff99 23.0%,#3fffc0 24.0%,#12ffed 25.0%,#00e4ff 29.0%,#00bcff 31.0%,#009bff 36.0%,#008fff 39.0%,#0081ff 43.0%,#006bff 50.0%,#0067ff 52.0%,#0068ff 60.0%,#0071ff 70.0%,#007bff 90.0%,#0089ff 100.0%)"></i><i style="left:356px;width:4.5px;background:linear-gradient(0deg,#b6ff49 3.5%,#b6ff49 21.0%,#78ff87 23.0%,#58ffa7 24.0%,#31ffce 25.0%,#00fcff 29.0%,#00c9ff 31.0%,#00a2ff 36.0%,#0095ff 39.0%,#0087ff 43.0%,#0071ff 50.0%,#006cff 52.0%,#0073ff 60.0%,#0081ff 70.0%,#008fff 90.0%,#00a4ff 100.0%)"></i><i style="left:360px;width:4.5px;background:linear-gradient(0deg,#b9ff46 3.5%,#b9ff46 21.0%,#89ff76 23.0%,#72ff8d 24.0%,#4fffb0 25.0%,#15ffea 29.0%,#00d7ff 31.0%,#00a9ff 36.0%,#009cff 39.0%,#008dff 43.0%,#0076ff 50.0%,#0071ff 52.0%,#007eff 60.0%,#0090ff 70.0%,#00a2ff 90.0%,#00beff 100.0%)"></i><i style="left:364px;width:4.5px;background:linear-gradient(0deg,#bbff44 3.5%,#bbff44 21.0%,#9bff64 23.0%,#8bff74 24.0%,#6dff92 25.0%,#2effd1 29.0%,#00e4ff 31.0%,#00b0ff 36.0%,#00a3ff 39.0%,#0093ff 43.0%,#007bff 50.0%,#0075ff 52.0%,#0089ff 60.0%,#009fff 70.0%,#00b6ff 90.0%,#00d8ff 100.0%)"></i><i style="left:368px;width:4.5px;background:linear-gradient(0deg,#bdff42 3.5%,#bdff42 21.0%,#acff53 23.0%,#a4ff5b 24.0%,#8cff73 25.0%,#46ffb9 29.0%,#00f1ff 31.0%,#00b8ff 36.0%,#00aaff 39.0%,#0099ff 43.0%,#0081ff 50.0%,#007aff 52.0%,#0094ff 60.0%,#00afff 70.0%,#00caff 90.0%,#00f3ff 100.0%)"></i><i style="left:372px;width:4.5px;background:linear-gradient(0deg,#bfff40 3.5%,#bfff40 21.0%,#beff41 23.0%,#bdff42 24.0%,#aaff55 25.0%,#5effa1 29.0%,#00feff 31.0%,#00bfff 36.0%,#00b1ff 39.0%,#009fff 43.0%,#0086ff 50.0%,#007fff 52.0%,#009fff 60.0%,#00beff 70.0%,#00deff 90.0%,#0efff1 100.0%)"></i><i style="left:376px;width:4.5px;background:linear-gradient(0deg,#bdff42 3.5%,#bdff42 10.0%,#b7ff48 15.5%,#afff50 21.0%,#a6ff59 24.0%,#92ff6d 25.0%,#4dffb2 29.0%,#00f7ff 31.0%,#00d3ff 34.0%,#00bcff 36.0%,#009dff 43.0%,#0080ff 52.0%,#008aff 55.0%,#009bff 60.0%,#00b5ff 70.0%,#00d1ff 90.0%,#00fbff 100.0%)"></i><i style="left:380px;width:4.5px;background:linear-gradient(0deg,#bbff44 3.5%,#bbff44 10.0%,#aeff51 15.5%,#9dff62 21.0%,#8aff75 24.0%,#76ff89 25.0%,#38ffc7 29.0%,#00eeff 31.0%,#00ceff 34.0%,#00b9ff 36.0%,#009bff 43.0%,#0081ff 52.0%,#0088ff 55.0%,#0096ff 60.0%,#00aaff 70.0%,#00c2ff 90.0%,#00e5ff 100.0%)"></i><i style="left:384px;width:4.5px;background:linear-gradient(0deg,#b9ff46 3.5%,#b9ff46 10.0%,#a6ff59 15.5%,#8cff73 21.0%,#6fff90 24.0%,#5affa5 25.0%,#24ffdb 29.0%,#00e5ff 31.0%,#00c8ff 34.0%,#00b6ff 36.0%,#0099ff 43.0%,#0081ff 52.0%,#0087ff 55.0%,#0090ff 60.0%,#009fff 70.0%,#00b2ff 90.0%,#00cfff 100.0%)"></i><i style="left:388px;width:4.5px;background:linear-gradient(0deg,#b7ff48 3.5%,#b7ff48 10.0%,#9dff62 15.5%,#7aff85 21.0%,#54ffab 24.0%,#3effc1 25.0%,#0ffff0 29.0%,#00ddff 31.0%,#00c2ff 34.0%,#00b3ff 36.0%,#0097ff 43.0%,#0082ff 52.0%,#0085ff 55.0%,#008bff 60.0%,#0094ff 70.0%,#00a3ff 90.0%,#00b9ff 100.0%)"></i><i style="left:392px;width:4.5px;background:linear-gradient(0deg,#b4ff4b 3.5%,#b4ff4b 10.0%,#94ff6b 15.5%,#69ff96 21.0%,#38ffc7 24.0%,#22ffdd 25.0%,#00faff 29.0%,#00d4ff 31.0%,#00bdff 34.0%,#00b0ff 36.0%,#0095ff 43.0%,#0082ff 52.0%,#0083ff 55.0%,#0086ff 60.0%,#0089ff 70.0%,#0093ff 90.0%,#00a3ff 100.0%)"></i><i style="left:396px;width:4.5px;background:linear-gradient(0deg,#b2ff4d 3.5%,#b2ff4d 10.0%,#8bff74 15.5%,#57ffa8 21.0%,#1dffe2 24.0%,#06fff9 25.0%,#00e5ff 29.0%,#00cbff 31.0%,#00b7ff 34.0%,#00acff 36.0%,#0092ff 43.0%,#0083ff 52.0%,#0082ff 55.0%,#0081ff 60.0%,#007eff 70.0%,#0084ff 90.0%,#008dff 100.0%)"></i><i style="left:400px;width:4.5px;background:linear-gradient(0deg,#b0ff4f 3.5%,#b0ff4f 10.0%,#82ff7d 15.5%,#46ffb9 21.0%,#01fffe 24.0%,#00e9ff 25.0%,#00d1ff 29.0%,#00c2ff 31.0%,#00b1ff 34.0%,#00a9ff 36.0%,#0090ff 43.0%,#0083ff 52.0%,#0080ff 55.0%,#007cff 60.0%,#0073ff 70.0%,#0075ff 90.0%,#0077ff 100.0%)"></i><i style="left:404px;width:4.5px;background:linear-gradient(0deg,#abff54 3.5%,#abff54 10.0%,#7cff83 15.5%,#50ffaf 19.5%,#3dffc2 21.0%,#00f5ff 24.0%,#00dfff 25.0%,#00bfff 31.0%,#00b0ff 34.0%,#009bff 40.0%,#0090ff 43.0%,#0087ff 50.0%,#0081ff 55.0%,#0071ff 70.0%,#0070ff 90.0%,#0070ff 100.0%)"></i><i style="left:408px;width:4.5px;background:linear-gradient(0deg,#a4ff5b 3.5%,#a4ff5b 10.0%,#77ff88 15.5%,#4dffb2 19.5%,#38ffc7 21.0%,#00f2ff 24.0%,#00deff 25.0%,#00bfff 31.0%,#00b1ff 34.0%,#009bff 40.0%,#0092ff 43.0%,#0088ff 50.0%,#0082ff 55.0%,#0073ff 70.0%,#0070ff 90.0%,#0070ff 100.0%)"></i><i style="left:412px;width:4.5px;background:linear-gradient(0deg,#9eff61 3.5%,#9eff61 10.0%,#72ff8d 15.5%,#4bffb4 19.5%,#34ffcb 21.0%,#00eeff 24.0%,#00ddff 25.0%,#00bfff 31.0%,#00b1ff 34.0%,#009cff 40.0%,#0094ff 43.0%,#008aff 50.0%,#0084ff 55.0%,#0075ff 70.0%,#0070ff 90.0%,#0070ff 100.0%)"></i><i style="left:416px;width:4.5px;background:linear-gradient(0deg,#97ff68 3.5%,#97ff68 10.0%,#6dff92 15.5%,#48ffb7 19.5%,#30ffcf 21.0%,#00ebff 24.0%,#00ddff 25.0%,#00bfff 31.0%,#00b2ff 34.0%,#009dff 40.0%,#0095ff 43.0%,#008bff 50.0%,#0086ff 55.0%,#0078ff 70.0%,#0070ff 90.0%,#0070ff 100.0%)"></i><i style="left:420px;width:4.5px;background:linear-gradient(0deg,#91ff6e 3.5%,#91ff6e 10.0%,#68ff97 15.5%,#46ffb9 19.5%,#2bffd4 21.0%,#00e8ff 24.0%,#00dcff 25.0%,#00bfff 31.0%,#00b3ff 34.0%,#009dff 40.0%,#0097ff 43.0%,#008cff 50.0%,#0087ff 55.0%,#007aff 70.0%,#0070ff 90.0%,#0070ff 100.0%)"></i><i style="left:424px;width:4.5px;background:linear-gradient(0deg,#8aff75 3.5%,#8aff75 10.0%,#63ff9c 15.5%,#44ffbb 19.5%,#27ffd8 21.0%,#00e4ff 24.0%,#00dcff 25.0%,#00bfff 31.0%,#00b3ff 34.0%,#009eff 40.0%,#0098ff 43.0%,#008dff 50.0%,#0089ff 55.0%,#007cff 70.0%,#0070ff 90.0%,#0070ff 100.0%)"></i><i style="left:428px;width:4.5px;background:linear-gradient(0deg,#83ff7c 3.5%,#83ff7c 10.0%,#5effa1 15.5%,#41ffbe 19.5%,#23ffdc 21.0%,#00e1ff 24.0%,#00dbff 25.0%,#00bfff 31.0%,#00b4ff 34.0%,#009fff 40.0%,#009aff 43.0%,#008fff 50.0%,#008aff 55.0%,#007eff 70.0%,#0070ff 90.0%,#0070ff 100.0%)"></i><i style="left:432px;width:4.5px;background:linear-gradient(0deg,#7cff83 3.5%,#7cff83 10.0%,#66ff99 13.5%,#47ffb8 18.0%,#3cffc3 19.5%,#00deff 24.0%,#00c0ff 31.0%,#00b5ff 34.0%,#00a0ff 40.0%,#0096ff 46.0%,#0090ff 50.0%,#008cff 55.0%,#007fff 70.0%,#0072ff 85.0%,#006fff 90.0%,#006fff 100.0%)"></i><i style="left:436px;width:4.5px;background:linear-gradient(0deg,#73ff8c 3.5%,#73ff8c 10.0%,#60ff9f 13.5%,#3fffc0 18.0%,#33ffcc 19.5%,#00dcff 24.0%,#00c0ff 31.0%,#00b7ff 34.0%,#00a2ff 40.0%,#0098ff 46.0%,#0091ff 50.0%,#008cff 55.0%,#007cff 70.0%,#0070ff 85.0%,#006cff 90.0%,#006cff 100.0%)"></i><i style="left:440px;width:4.5px;background:linear-gradient(0deg,#6aff95 3.5%,#6aff95 10.0%,#5bffa4 13.5%,#37ffc8 18.0%,#2bffd4 19.5%,#00daff 24.0%,#00c1ff 31.0%,#00b8ff 34.0%,#00a5ff 40.0%,#0099ff 46.0%,#0092ff 50.0%,#008dff 55.0%,#007aff 70.0%,#006dff 85.0%,#006aff 90.0%,#006aff 100.0%)"></i><i style="left:444px;width:4.5px;background:linear-gradient(0deg,#62ff9d 3.5%,#62ff9d 10.0%,#55ffaa 13.5%,#2fffd0 18.0%,#22ffdd 19.5%,#00d8ff 24.0%,#00c1ff 31.0%,#00baff 34.0%,#00a7ff 40.0%,#009aff 46.0%,#0094ff 50.0%,#008dff 55.0%,#0078ff 70.0%,#006aff 85.0%,#0068ff 90.0%,#0068ff 100.0%)"></i><i style="left:448px;width:4.5px;background:linear-gradient(0deg,#59ffa6 3.5%,#59ffa6 10.0%,#50ffaf 13.5%,#27ffd8 18.0%,#19ffe6 19.5%,#00d5ff 24.0%,#00c2ff 31.0%,#00bbff 34.0%,#00a9ff 40.0%,#009cff 46.0%,#0095ff 50.0%,#008eff 55.0%,#0076ff 70.0%,#0067ff 85.0%,#0066ff 90.0%,#0066ff 100.0%)"></i><i style="left:452px;width:4.5px;background:linear-gradient(0deg,#50ffaf 3.5%,#50ffaf 10.0%,#4affb5 13.5%,#1fffe0 18.0%,#10ffef 19.5%,#00d3ff 24.0%,#00c3ff 31.0%,#00bdff 34.0%,#00abff 40.0%,#009dff 46.0%,#0096ff 50.0%,#008eff 55.0%,#0074ff 70.0%,#0065ff 85.0%,#0064ff 90.0%,#0064ff 100.0%)"></i><i style="left:456px;width:4.5px;background:linear-gradient(0deg,#47ffb8 3.5%,#47ffb8 10.0%,#45ffba 13.5%,#17ffe8 18.0%,#08fff7 19.5%,#00d1ff 24.0%,#00c3ff 31.0%,#00beff 34.0%,#00adff 40.0%,#009eff 46.0%,#0097ff 50.0%,#008fff 55.0%,#0071ff 70.0%,#0062ff 85.0%,#0062ff 90.0%,#0062ff 100.0%)"></i><i style="left:460px;width:4.5px;background:linear-gradient(0deg,#3fffc0 3.5%,#3fffc0 7.0%,#3effc1 13.5%,#0ffff0 18.0%,#00e4ff 22.0%,#00cfff 24.0%,#00bfff 34.0%,#00a7ff 43.0%,#009fff 46.0%,#008fff 55.0%,#0084ff 60.0%,#006fff 70.0%,#005fff 85.0%,#005fff 100.0%)"></i><i style="left:464px;width:4.5px;background:linear-gradient(0deg,#38ffc7 3.5%,#38ffc7 7.0%,#31ffce 13.5%,#06fff9 18.0%,#00dfff 22.0%,#00ccff 24.0%,#00bdff 34.0%,#00a6ff 43.0%,#009eff 46.0%,#008dff 55.0%,#007fff 60.0%,#0068ff 70.0%,#0058ff 85.0%,#0058ff 100.0%)"></i><i style="left:468px;width:4.5px;background:linear-gradient(0deg,#32ffcd 3.5%,#32ffcd 7.0%,#24ffdb 13.5%,#00fcff 18.0%,#00daff 22.0%,#00caff 24.0%,#00bbff 34.0%,#00a5ff 43.0%,#009dff 46.0%,#008bff 55.0%,#007aff 60.0%,#0062ff 70.0%,#0052ff 85.0%,#0052ff 100.0%)"></i><i style="left:472px;width:4.5px;background:linear-gradient(0deg,#2bffd4 3.5%,#2bffd4 7.0%,#17ffe8 13.5%,#00f3ff 18.0%,#00d4ff 22.0%,#00c7ff 24.0%,#00b8ff 34.0%,#00a4ff 43.0%,#009cff 46.0%,#0089ff 55.0%,#0075ff 60.0%,#005bff 70.0%,#004bff 85.0%,#004bff 100.0%)"></i><i style="left:476px;width:4.5px;background:linear-gradient(0deg,#25ffda 3.5%,#25ffda 7.0%,#09fff6 13.5%,#00eaff 18.0%,#00cfff 22.0%,#00c5ff 24.0%,#00b6ff 34.0%,#00a3ff 43.0%,#009bff 46.0%,#0086ff 55.0%,#0070ff 60.0%,#0054ff 70.0%,#0044ff 85.0%,#0044ff 100.0%)"></i><i style="left:480px;width:4.5px;background:linear-gradient(0deg,#1effe1 3.5%,#1effe1 7.0%,#00fbff 13.5%,#00e1ff 18.0%,#00caff 22.0%,#00c2ff 24.0%,#00b4ff 34.0%,#00a2ff 43.0%,#009aff 46.0%,#0084ff 55.0%,#006bff 60.0%,#004eff 70.0%,#003eff 85.0%,#003eff 100.0%)"></i><i style="left:484px;width:4.5px;background:linear-gradient(0deg,#17ffe8 3.5%,#17ffe8 7.0%,#00eeff 13.5%,#00d8ff 18.0%,#00c5ff 22.0%,#00bfff 24.0%,#00b2ff 34.0%,#00a1ff 43.0%,#0099ff 46.0%,#0082ff 55.0%,#0065ff 60.0%,#0047ff 70.0%,#0037ff 85.0%,#0037ff 100.0%)"></i><i style="left:488px;width:4.5px;background:linear-gradient(0deg,#11ffee 3.5%,#11ffee 7.0%,#00e1ff 13.5%,#00cfff 18.0%,#00c0ff 22.0%,#00bdff 24.0%,#00b0ff 34.0%,#00a0ff 43.0%,#0098ff 46.0%,#0080ff 55.0%,#0060ff 60.0%,#0041ff 70.0%,#0031ff 85.0%,#0031ff 100.0%)"></i><i style="left:492px;width:4.5px;background:linear-gradient(0deg,#08fff7 3.5%,#08fff7 7.0%,#00f4ff 10.0%,#00ddff 13.5%,#00c8ff 19.5%,#00beff 22.0%,#00b1ff 31.0%,#00adff 34.0%,#00a2ff 40.0%,#009cff 43.0%,#0087ff 50.0%,#0079ff 55.0%,#005aff 60.0%,#003cff 70.0%,#0031ff 80.0%,#002cff 85.0%,#002cff 100.0%)"></i><i style="left:496px;width:4.5px;background:linear-gradient(0deg,#00ffff 3.5%,#00ffff 7.0%,#00eeff 10.0%,#00daff 13.5%,#00c6ff 19.5%,#00bdff 22.0%,#00aeff 31.0%,#00aaff 34.0%,#009fff 40.0%,#0098ff 43.0%,#0081ff 50.0%,#0071ff 55.0%,#0053ff 60.0%,#0038ff 70.0%,#002cff 80.0%,#0028ff 85.0%,#0028ff 100.0%)"></i><i style="left:500px;width:4.5px;background:linear-gradient(0deg,#00f6ff 3.5%,#00f6ff 7.0%,#00e8ff 10.0%,#00d7ff 13.5%,#00c5ff 19.5%,#00bdff 22.0%,#00abff 31.0%,#00a7ff 34.0%,#009cff 40.0%,#0093ff 43.0%,#007bff 50.0%,#0069ff 55.0%,#004dff 60.0%,#0033ff 70.0%,#0026ff 80.0%,#0023ff 85.0%,#0023ff 100.0%)"></i><i style="left:504px;width:4.5px;background:linear-gradient(0deg,#00edff 3.5%,#00edff 7.0%,#00e3ff 10.0%,#00d4ff 13.5%,#00c4ff 19.5%,#00bcff 22.0%,#00a9ff 31.0%,#00a4ff 34.0%,#0099ff 40.0%,#008fff 43.0%,#0075ff 50.0%,#0062ff 55.0%,#0046ff 60.0%,#002fff 70.0%,#0021ff 80.0%,#001fff 85.0%,#001fff 100.0%)"></i><i style="left:508px;width:4.5px;background:linear-gradient(0deg,#00e4ff 3.5%,#00e4ff 7.0%,#00ddff 10.0%,#00d1ff 13.5%,#00c2ff 19.5%,#00bbff 22.0%,#00a6ff 31.0%,#00a1ff 34.0%,#0096ff 40.0%,#008bff 43.0%,#006fff 50.0%,#005aff 55.0%,#0040ff 60.0%,#002aff 70.0%,#001cff 80.0%,#001aff 85.0%,#001aff 100.0%)"></i><i style="left:512px;width:4.5px;background:linear-gradient(0deg,#00dbff 3.5%,#00dbff 7.0%,#00d7ff 10.0%,#00ceff 13.5%,#00c1ff 19.5%,#00baff 22.0%,#00a3ff 31.0%,#009eff 34.0%,#0094ff 40.0%,#0087ff 43.0%,#0068ff 50.0%,#0052ff 55.0%,#0039ff 60.0%,#0026ff 70.0%,#0017ff 80.0%,#0016ff 85.0%,#0016ff 100.0%)"></i><i style="left:516px;width:4.5px;background:linear-gradient(0deg,#00d3ff 3.5%,#00d3ff 7.0%,#00d1ff 10.0%,#00cbff 13.5%,#00c0ff 19.5%,#00b9ff 22.0%,#00a0ff 31.0%,#009bff 34.0%,#0091ff 40.0%,#0083ff 43.0%,#0062ff 50.0%,#004bff 55.0%,#0032ff 60.0%,#0022ff 70.0%,#0012ff 80.0%,#0012ff 85.0%,#0012ff 100.0%)"></i><i style="left:520px;width:4.5px;background:linear-gradient(0deg,#00ceff 3.5%,#00ceff 10.0%,#00c9ff 13.0%,#00bdff 19.5%,#00b6ff 22.0%,#009dff 31.0%,#008bff 40.0%,#007dff 43.0%,#0059ff 50.0%,#0042ff 55.0%,#002cff 60.0%,#001dff 70.0%,#000fff 80.0%,#000fff 100.0%)"></i><i style="left:524px;width:4.5px;background:linear-gradient(0deg,#00ccff 3.5%,#00ccff 10.0%,#00c8ff 13.0%,#00baff 19.5%,#00b3ff 22.0%,#0098ff 31.0%,#0084ff 40.0%,#0076ff 43.0%,#004eff 50.0%,#0038ff 55.0%,#0025ff 60.0%,#0019ff 70.0%,#000cff 80.0%,#000cff 100.0%)"></i><i style="left:528px;width:4.5px;background:linear-gradient(0deg,#00c9ff 3.5%,#00c9ff 10.0%,#00c6ff 13.0%,#00b7ff 19.5%,#00afff 22.0%,#0094ff 31.0%,#007dff 40.0%,#006fff 43.0%,#0043ff 50.0%,#002eff 55.0%,#001fff 60.0%,#0014ff 70.0%,#000aff 80.0%,#000aff 100.0%)"></i><i style="left:532px;width:4.5px;background:linear-gradient(0deg,#00c7ff 3.5%,#00c7ff 10.0%,#00c5ff 13.0%,#00b4ff 19.5%,#00acff 22.0%,#0090ff 31.0%,#0076ff 40.0%,#0069ff 43.0%,#0038ff 50.0%,#0024ff 55.0%,#0018ff 60.0%,#0010ff 70.0%,#0008ff 80.0%,#0008ff 100.0%)"></i><i style="left:536px;width:4.5px;background:linear-gradient(0deg,#00c5ff 3.5%,#00c5ff 10.0%,#00c3ff 13.0%,#00b1ff 19.5%,#00a9ff 22.0%,#008bff 31.0%,#006fff 40.0%,#0062ff 43.0%,#002dff 50.0%,#001aff 55.0%,#0012ff 60.0%,#000cff 70.0%,#0006ff 80.0%,#0006ff 100.0%)"></i><i style="left:540px;width:4.5px;background:linear-gradient(0deg,#00c3ff 3.5%,#00c3ff 10.0%,#00c2ff 13.0%,#00adff 19.5%,#00a5ff 22.0%,#0087ff 31.0%,#0067ff 40.0%,#005bff 43.0%,#0022ff 50.0%,#0010ff 55.0%,#000bff 60.0%,#0007ff 70.0%,#0004ff 80.0%,#0004ff 100.0%)"></i><i style="left:544px;width:4.5px;background:linear-gradient(0deg,#00c1ff 3.5%,#00c1ff 10.0%,#00c0ff 13.0%,#00aaff 19.5%,#00a2ff 22.0%,#0082ff 31.0%,#0060ff 40.0%,#0054ff 43.0%,#0017ff 50.0%,#0007ff 55.0%,#0004ff 60.0%,#0003ff 70.0%,#0001ff 80.0%,#0001ff 100.0%)"></i><i style="left:548px;width:4.5px;background:linear-gradient(0deg,#00bfff 3.5%,#00bfff 8.5%,#00beff 13.0%,#00b4ff 16.0%,#009eff 22.0%,#0094ff 25.0%,#007fff 31.0%,#0073ff 34.0%,#004eff 43.0%,#0010ff 50.0%,#0001ff 55.0%,#0000ff 100.0%)"></i><i style="left:552px;width:4.5px;background:linear-gradient(0deg,#00bfff 3.5%,#00bfff 8.5%,#00bcff 13.0%,#00b1ff 16.0%,#009bff 22.0%,#0091ff 25.0%,#007cff 31.0%,#0070ff 34.0%,#004aff 43.0%,#0010ff 50.0%,#0003ff 55.0%,#0000ff 100.0%)"></i><i style="left:556px;width:4.5px;background:linear-gradient(0deg,#00bfff 3.5%,#00bfff 8.5%,#00b9ff 13.0%,#00aeff 16.0%,#0099ff 22.0%,#008eff 25.0%,#0079ff 31.0%,#006dff 34.0%,#0045ff 43.0%,#0010ff 50.0%,#0005ff 55.0%,#0000ff 100.0%)"></i><i style="left:560px;width:4.5px;background:linear-gradient(0deg,#00bfff 3.5%,#00bfff 8.5%,#00b6ff 13.0%,#00abff 16.0%,#0096ff 22.0%,#008bff 25.0%,#0076ff 31.0%,#006aff 34.0%,#0041ff 43.0%,#0010ff 50.0%,#0007ff 55.0%,#0000ff 100.0%)"></i><i style="left:564px;width:4.5px;background:linear-gradient(0deg,#00bfff 3.5%,#00bfff 8.5%,#00b4ff 13.0%,#00a8ff 16.0%,#0093ff 22.0%,#0088ff 25.0%,#0073ff 31.0%,#0068ff 34.0%,#003dff 43.0%,#0010ff 50.0%,#0009ff 55.0%,#0000ff 100.0%)"></i><i style="left:568px;width:4.5px;background:linear-gradient(0deg,#00bfff 3.5%,#00bfff 8.5%,#00b1ff 13.0%,#00a5ff 16.0%,#0090ff 22.0%,#0085ff 25.0%,#0070ff 31.0%,#0065ff 34.0%,#0038ff 43.0%,#0010ff 50.0%,#000bff 55.0%,#0000ff 100.0%)"></i><i style="left:572px;width:4.5px;background:linear-gradient(0deg,#00bfff 3.5%,#00bfff 8.5%,#00afff 13.0%,#00a2ff 16.0%,#008dff 22.0%,#0082ff 25.0%,#006dff 31.0%,#0062ff 34.0%,#0034ff 43.0%,#0010ff 50.0%,#000dff 55.0%,#0000ff 100.0%)"></i><i style="left:576px;width:4.5px;background:linear-gradient(0deg,#00bfff 3.5%,#00beff 8.5%,#00b8ff 10.0%,#009fff 16.0%,#0091ff 20.0%,#007fff 25.0%,#006dff 30.0%,#005fff 34.0%,#003fff 40.0%,#002fff 43.0%,#0010ff 50.0%,#0000ff 100.0%)"></i><i style="left:580px;width:4.5px;background:linear-gradient(0deg,#00b6ff 3.5%,#00b4ff 8.5%,#00aeff 10.0%,#0095ff 16.0%,#0088ff 20.0%,#0075ff 25.0%,#0062ff 30.0%,#0054ff 34.0%,#0036ff 40.0%,#0029ff 43.0%,#000eff 50.0%,#0000ff 100.0%)"></i><i style="left:584px;width:4.5px;background:linear-gradient(0deg,#00adff 3.5%,#00aaff 8.5%,#00a4ff 10.0%,#008cff 16.0%,#007eff 20.0%,#006bff 25.0%,#0058ff 30.0%,#004aff 34.0%,#002eff 40.0%,#0022ff 43.0%,#000bff 50.0%,#0000ff 100.0%)"></i><i style="left:588px;width:4.5px;background:linear-gradient(0deg,#00a4ff 3.5%,#009fff 8.5%,#009aff 10.0%,#0083ff 16.0%,#0075ff 20.0%,#0061ff 25.0%,#004dff 30.0%,#003fff 34.0%,#0025ff 40.0%,#001cff 43.0%,#0009ff 50.0%,#0000ff 100.0%)"></i><i style="left:592px;width:4.5px;background:linear-gradient(0deg,#009bff 3.5%,#0095ff 8.5%,#0090ff 10.0%,#007aff 16.0%,#006cff 20.0%,#0057ff 25.0%,#0042ff 30.0%,#0035ff 34.0%,#001cff 40.0%,#0015ff 43.0%,#0007ff 50.0%,#0000ff 100.0%)"></i><i style="left:596px;width:4.5px;background:linear-gradient(0deg,#0093ff 3.5%,#008aff 8.5%,#0086ff 10.0%,#0071ff 16.0%,#0063ff 20.0%,#004dff 25.0%,#0037ff 30.0%,#002aff 34.0%,#0013ff 40.0%,#000eff 43.0%,#0005ff 50.0%,#0000ff 100.0%)"></i><i style="left:600px;width:4.5px;background:linear-gradient(0deg,#008aff 3.5%,#0080ff 8.5%,#007cff 10.0%,#0067ff 16.0%,#005aff 20.0%,#0044ff 25.0%,#002dff 30.0%,#0020ff 34.0%,#000aff 40.0%,#0008ff 43.0%,#0003ff 50.0%,#0000ff 100.0%)"></i><i style="left:604px;width:4.5px;background:linear-gradient(0deg,#0081ff 3.5%,#0075ff 8.5%,#0071ff 10.0%,#005eff 16.0%,#0051ff 20.0%,#003aff 25.0%,#0022ff 30.0%,#0015ff 34.0%,#0002ff 40.0%,#0001ff 43.0%,#0000ff 50.0%,#0000ff 100.0%)"></i><i style="left:608px;width:4.5px;background:linear-gradient(0deg,#0080ff 3.5%,#006eff 10.0%,#005cff 15.0%,#004aff 20.0%,#001cff 30.0%,#0000ff 40.0%,#0000ff 100.0%)"></i><i style="left:612px;width:4.5px;background:linear-gradient(0deg,#0080ff 3.5%,#006cff 10.0%,#0058ff 15.0%,#0044ff 20.0%,#0018ff 30.0%,#0000ff 40.0%,#0000ff 100.0%)"></i><i style="left:616px;width:4.5px;background:linear-gradient(0deg,#0080ff 3.5%,#0069ff 10.0%,#0053ff 15.0%,#003dff 20.0%,#0014ff 30.0%,#0000ff 40.0%,#0000ff 100.0%)"></i><i style="left:620px;width:4.5px;background:linear-gradient(0deg,#0080ff 3.5%,#0067ff 10.0%,#004fff 15.0%,#0037ff 20.0%,#000fff 30.0%,#0000ff 40.0%,#0000ff 100.0%)"></i><i style="left:624px;width:4.5px;background:linear-gradient(0deg,#0080ff 3.5%,#0065ff 10.0%,#004bff 15.0%,#0030ff 20.0%,#000bff 30.0%,#0000ff 40.0%,#0000ff 100.0%)"></i><i style="left:628px;width:4.5px;background:linear-gradient(0deg,#0080ff 3.5%,#0063ff 10.0%,#0046ff 15.0%,#0029ff 20.0%,#0006ff 30.0%,#0000ff 40.0%,#0000ff 100.0%)"></i><i style="left:632px;width:4.5px;background:linear-gradient(0deg,#0080ff 3.5%,#0061ff 10.0%,#0042ff 15.0%,#0023ff 20.0%,#0002ff 30.0%,#0000ff 40.0%,#0000ff 100.0%)"></i><i style="left:636px;width:4.5px;background:linear-gradient(0deg,#0081ff 3.5%,#0062ff 10.0%,#0043ff 15.0%,#0023ff 20.0%,#0012ff 25.0%,#0002ff 30.0%,#0001ff 35.0%,#0001ff 45.0%,#0001ff 50.0%,#0000ff 100.0%)"></i><i style="left:640px;width:4.5px;background:linear-gradient(0deg,#0083ff 3.5%,#0066ff 10.0%,#0048ff 15.0%,#002aff 20.0%,#0017ff 25.0%,#0007ff 30.0%,#0003ff 35.0%,#0003ff 45.0%,#0003ff 50.0%,#0000ff 100.0%)"></i><i style="left:644px;width:4.5px;background:linear-gradient(0deg,#0085ff 3.5%,#006bff 10.0%,#004eff 15.0%,#0031ff 20.0%,#001bff 25.0%,#000bff 30.0%,#0006ff 35.0%,#0006ff 45.0%,#0006ff 50.0%,#0000ff 100.0%)"></i><i style="left:648px;width:4.5px;background:linear-gradient(0deg,#0087ff 3.5%,#006fff 10.0%,#0053ff 15.0%,#0037ff 20.0%,#0020ff 25.0%,#0010ff 30.0%,#0008ff 35.0%,#0008ff 45.0%,#0008ff 50.0%,#0000ff 100.0%)"></i><i style="left:652px;width:4.5px;background:linear-gradient(0deg,#0089ff 3.5%,#0074ff 10.0%,#0059ff 15.0%,#003eff 20.0%,#0024ff 25.0%,#0014ff 30.0%,#000aff 35.0%,#000aff 45.0%,#000aff 50.0%,#0000ff 100.0%)"></i><i style="left:656px;width:4.5px;background:linear-gradient(0deg,#008cff 3.5%,#0078ff 10.0%,#005eff 15.0%,#0044ff 20.0%,#0028ff 25.0%,#0018ff 30.0%,#000cff 35.0%,#000cff 45.0%,#000cff 50.0%,#0000ff 100.0%)"></i><i style="left:660px;width:4.5px;background:linear-gradient(0deg,#008eff 3.5%,#007cff 10.0%,#0064ff 15.0%,#004bff 20.0%,#002dff 25.0%,#001dff 30.0%,#000eff 35.0%,#000eff 45.0%,#000eff 50.0%,#0000ff 100.0%)"></i><i style="left:664px;width:4.5px;background:linear-gradient(0deg,#0090ff 3.5%,#0080ff 10.0%,#0051ff 20.0%,#0032ff 25.0%,#0022ff 30.0%,#0012ff 35.0%,#0011ff 40.0%,#0011ff 45.0%,#0011ff 50.0%,#000dff 60.0%,#000aff 70.0%,#0000ff 100.0%)"></i><i style="left:668px;width:4.5px;background:linear-gradient(0deg,#0092ff 3.5%,#0082ff 10.0%,#0055ff 20.0%,#0038ff 25.0%,#0028ff 30.0%,#0018ff 35.0%,#0016ff 40.0%,#0014ff 45.0%,#0013ff 50.0%,#0010ff 60.0%,#000bff 70.0%,#0000ff 100.0%)"></i><i style="left:672px;width:4.5px;background:linear-gradient(0deg,#0094ff 3.5%,#0085ff 10.0%,#005aff 20.0%,#003fff 25.0%,#002fff 30.0%,#001fff 35.0%,#001aff 40.0%,#0017ff 45.0%,#0015ff 50.0%,#0013ff 60.0%,#000cff 70.0%,#0000ff 100.0%)"></i><i style="left:676px;width:4.5px;background:linear-gradient(0deg,#0097ff 3.5%,#0087ff 10.0%,#005eff 20.0%,#0045ff 25.0%,#0035ff 30.0%,#0026ff 35.0%,#001eff 40.0%,#001bff 45.0%,#0017ff 50.0%,#0015ff 60.0%,#000cff 70.0%,#0000ff 100.0%)"></i><i style="left:680px;width:4.5px;background:linear-gradient(0deg,#0099ff 3.5%,#0089ff 10.0%,#0062ff 20.0%,#004cff 25.0%,#003cff 30.0%,#002cff 35.0%,#0023ff 40.0%,#001eff 45.0%,#0019ff 50.0%,#0018ff 60.0%,#000dff 70.0%,#0000ff 100.0%)"></i><i style="left:684px;width:4.5px;background:linear-gradient(0deg,#009bff 3.5%,#008bff 10.0%,#0067ff 20.0%,#0053ff 25.0%,#0043ff 30.0%,#0033ff 35.0%,#0027ff 40.0%,#0021ff 45.0%,#001cff 50.0%,#001bff 60.0%,#000eff 70.0%,#0000ff 100.0%)"></i><i style="left:688px;width:4.5px;background:linear-gradient(0deg,#009dff 3.5%,#008dff 10.0%,#006bff 20.0%,#0059ff 25.0%,#0049ff 30.0%,#0039ff 35.0%,#002cff 40.0%,#0025ff 45.0%,#001eff 50.0%,#001dff 60.0%,#000fff 70.0%,#0000ff 100.0%)"></i><i style="left:692px;width:4.5px;background:linear-gradient(0deg,#009fff 3.5%,#008fff 10.0%,#0070ff 20.0%,#0050ff 30.0%,#0030ff 40.0%,#0020ff 50.0%,#0020ff 60.0%,#0010ff 70.0%,#000dff 75.0%,#0000ff 100.0%)"></i><i style="left:696px;width:4.5px;background:linear-gradient(0deg,#00a2ff 3.5%,#0092ff 10.0%,#0074ff 20.0%,#0056ff 30.0%,#0037ff 40.0%,#0027ff 50.0%,#0024ff 60.0%,#0015ff 70.0%,#0012ff 75.0%,#0002ff 100.0%)"></i><i style="left:700px;width:4.5px;background:linear-gradient(0deg,#00a4ff 3.5%,#0094ff 10.0%,#0078ff 20.0%,#005dff 30.0%,#003dff 40.0%,#002dff 50.0%,#0029ff 60.0%,#001aff 70.0%,#0017ff 75.0%,#0004ff 100.0%)"></i><i style="left:704px;width:4.5px;background:linear-gradient(0deg,#00a6ff 3.5%,#0096ff 10.0%,#007dff 20.0%,#0064ff 30.0%,#0044ff 40.0%,#0034ff 50.0%,#002dff 60.0%,#001fff 70.0%,#001cff 75.0%,#0007ff 100.0%)"></i><i style="left:708px;width:4.5px;background:linear-gradient(0deg,#00a8ff 3.5%,#0098ff 10.0%,#0081ff 20.0%,#006aff 30.0%,#004aff 40.0%,#003aff 50.0%,#0032ff 60.0%,#0025ff 70.0%,#0020ff 75.0%,#0009ff 100.0%)"></i><i style="left:712px;width:4.5px;background:linear-gradient(0deg,#00aaff 3.5%,#009aff 10.0%,#0086ff 20.0%,#0071ff 30.0%,#0051ff 40.0%,#0041ff 50.0%,#0036ff 60.0%,#002aff 70.0%,#0025ff 75.0%,#000bff 100.0%)"></i><i style="left:716px;width:4.5px;background:linear-gradient(0deg,#00adff 3.5%,#009dff 10.0%,#008aff 20.0%,#0077ff 30.0%,#0057ff 40.0%,#0047ff 50.0%,#003aff 60.0%,#002fff 70.0%,#002aff 75.0%,#000dff 100.0%)"></i><i style="left:720px;width:4.5px;background:linear-gradient(0deg,#00afff 3.5%,#009fff 10.0%,#008eff 20.0%,#007eff 30.0%,#005eff 40.0%,#004eff 50.0%,#003fff 60.0%,#0034ff 70.0%,#002fff 75.0%,#000fff 100.0%)"></i><i style="left:724px;width:4.5px;background:linear-gradient(0deg,#00b1ff 3.5%,#00a1ff 10.0%,#0091ff 20.0%,#0081ff 30.0%,#0062ff 40.0%,#005aff 45.0%,#0052ff 50.0%,#0043ff 60.0%,#0033ff 75.0%,#0020ff 90.0%,#0013ff 100.0%)"></i><i style="left:728px;width:4.5px;background:linear-gradient(0deg,#00b3ff 3.5%,#00a3ff 10.0%,#0093ff 20.0%,#0083ff 30.0%,#0066ff 40.0%,#005dff 45.0%,#0056ff 50.0%,#0047ff 60.0%,#0038ff 75.0%,#0025ff 90.0%,#0018ff 100.0%)"></i><i style="left:732px;width:4.5px;background:linear-gradient(0deg,#00b5ff 3.5%,#00a5ff 10.0%,#0095ff 20.0%,#0086ff 30.0%,#006aff 40.0%,#0061ff 45.0%,#005aff 50.0%,#004cff 60.0%,#003cff 75.0%,#002aff 90.0%,#001cff 100.0%)"></i><i style="left:736px;width:4.5px;background:linear-gradient(0deg,#00b8ff 3.5%,#00a8ff 10.0%,#0098ff 20.0%,#0088ff 30.0%,#006dff 40.0%,#0064ff 45.0%,#005dff 50.0%,#0050ff 60.0%,#0040ff 75.0%,#002fff 90.0%,#0020ff 100.0%)"></i><i style="left:740px;width:4.5px;background:linear-gradient(0deg,#00baff 3.5%,#00aaff 10.0%,#009aff 20.0%,#008aff 30.0%,#0071ff 40.0%,#0067ff 45.0%,#0061ff 50.0%,#0055ff 60.0%,#0045ff 75.0%,#0034ff 90.0%,#0025ff 100.0%)"></i><i style="left:744px;width:4.5px;background:linear-gradient(0deg,#00bcff 3.5%,#00acff 10.0%,#009cff 20.0%,#008cff 30.0%,#0075ff 40.0%,#006bff 45.0%,#0065ff 50.0%,#0059ff 60.0%,#0049ff 75.0%,#0038ff 90.0%,#0029ff 100.0%)"></i><i style="left:748px;width:4.5px;background:linear-gradient(0deg,#00beff 3.5%,#00aeff 10.0%,#009eff 20.0%,#008eff 30.0%,#0078ff 40.0%,#006eff 45.0%,#0068ff 50.0%,#005dff 60.0%,#004dff 75.0%,#003dff 90.0%,#002eff 100.0%)"></i><i style="left:752px;width:4.5px;background:linear-gradient(0deg,#00c6ff 3.5%,#00b3ff 10.0%,#00a2ff 20.0%,#008fff 30.0%,#0070ff 45.0%,#0060ff 60.0%,#0050ff 75.0%,#004bff 80.0%,#0041ff 90.0%,#0032ff 100.0%)"></i><i style="left:756px;width:4.5px;background:linear-gradient(0deg,#00d3ff 3.5%,#00b9ff 10.0%,#00a6ff 20.0%,#008fff 30.0%,#0070ff 45.0%,#0060ff 60.0%,#0051ff 75.0%,#004bff 80.0%,#0043ff 90.0%,#0036ff 100.0%)"></i><i style="left:760px;width:4.5px;background:linear-gradient(0deg,#00e0ff 3.5%,#00c0ff 10.0%,#00aaff 20.0%,#008fff 30.0%,#0070ff 45.0%,#0060ff 60.0%,#0051ff 75.0%,#004cff 80.0%,#0045ff 90.0%,#003bff 100.0%)"></i><i style="left:764px;width:4.5px;background:linear-gradient(0deg,#00edff 3.5%,#00c6ff 10.0%,#00afff 20.0%,#008fff 30.0%,#0070ff 45.0%,#0060ff 60.0%,#0052ff 75.0%,#004dff 80.0%,#0047ff 90.0%,#003fff 100.0%)"></i><i style="left:768px;width:4.5px;background:linear-gradient(0deg,#00faff 3.5%,#00cdff 10.0%,#00b3ff 20.0%,#008fff 30.0%,#0070ff 45.0%,#0060ff 60.0%,#0052ff 75.0%,#004eff 80.0%,#004aff 90.0%,#0044ff 100.0%)"></i><i style="left:772px;width:4.5px;background:linear-gradient(0deg,#09fff6 3.5%,#00d3ff 10.0%,#00b7ff 20.0%,#008fff 30.0%,#0070ff 45.0%,#0060ff 60.0%,#0053ff 75.0%,#004eff 80.0%,#004cff 90.0%,#0048ff 100.0%)"></i><i style="left:776px;width:4.5px;background:linear-gradient(0deg,#16ffe9 3.5%,#00daff 10.0%,#00bcff 20.0%,#008fff 30.0%,#0070ff 45.0%,#0060ff 60.0%,#0053ff 75.0%,#004fff 80.0%,#004eff 90.0%,#004cff 100.0%)"></i><i style="left:780px;width:4.5px;background:linear-gradient(0deg,#21ffde 3.5%,#00e2ff 10.0%,#00dbff 12.0%,#00c0ff 20.0%,#0090ff 30.0%,#0070ff 45.0%,#0060ff 60.0%,#0050ff 80.0%,#0050ff 100.0%)"></i><i style="left:784px;width:4.5px;background:linear-gradient(0deg,#25ffda 3.5%,#00edff 10.0%,#00e7ff 12.0%,#00c5ff 20.0%,#0095ff 30.0%,#0072ff 45.0%,#0062ff 60.0%,#0052ff 80.0%,#0050ff 100.0%)"></i><i style="left:788px;width:4.5px;background:linear-gradient(0deg,#2affd5 3.5%,#00f9ff 10.0%,#00f3ff 12.0%,#00c9ff 20.0%,#0099ff 30.0%,#0074ff 45.0%,#0065ff 60.0%,#0055ff 80.0%,#0050ff 100.0%)"></i><i style="left:792px;width:4.5px;background:linear-gradient(0deg,#2effd1 3.5%,#05fffa 10.0%,#00ffff 12.0%,#00cdff 20.0%,#009eff 30.0%,#0077ff 45.0%,#0067ff 60.0%,#0057ff 80.0%,#0050ff 100.0%)"></i><i style="left:796px;width:4.5px;background:linear-gradient(0deg,#32ffcd 3.5%,#11ffee 10.0%,#0cfff3 12.0%,#00d2ff 20.0%,#00a2ff 30.0%,#0079ff 45.0%,#0069ff 60.0%,#0059ff 80.0%,#0050ff 100.0%)"></i><i style="left:800px;width:4.5px;background:linear-gradient(0deg,#37ffc8 3.5%,#1cffe3 10.0%,#18ffe7 12.0%,#00d6ff 20.0%,#00a6ff 30.0%,#007bff 45.0%,#006bff 60.0%,#005bff 80.0%,#0050ff 100.0%)"></i><i style="left:804px;width:4.5px;background:linear-gradient(0deg,#3bffc4 3.5%,#28ffd7 10.0%,#24ffdb 12.0%,#00dbff 20.0%,#00abff 30.0%,#007dff 45.0%,#006dff 60.0%,#005dff 80.0%,#0050ff 100.0%)"></i><i style="left:808px;width:4.5px;background:linear-gradient(0deg,#40ffbf 3.5%,#33ffcc 10.0%,#2fffd0 12.0%,#00dfff 20.0%,#00afff 30.0%,#007fff 45.0%,#006fff 60.0%,#0060ff 80.0%,#0050ff 100.0%)"></i><i style="left:812px;width:4.5px;background:linear-gradient(0deg,#40ffbf 3.5%,#30ffcf 12.0%,#27ffd8 13.0%,#00e3ff 20.0%,#00b1ff 30.0%,#0082ff 45.0%,#0070ff 60.0%,#0060ff 80.0%,#0050ff 100.0%)"></i><i style="left:816px;width:4.5px;background:linear-gradient(0deg,#40ffbf 3.5%,#30ffcf 12.0%,#29ffd6 13.0%,#00e8ff 20.0%,#00b4ff 30.0%,#0084ff 45.0%,#0070ff 60.0%,#0060ff 80.0%,#0050ff 100.0%)"></i><i style="left:820px;width:4.5px;background:linear-gradient(0deg,#40ffbf 3.5%,#30ffcf 12.0%,#2affd5 13.0%,#00ecff 20.0%,#00b6ff 30.0%,#0086ff 45.0%,#0070ff 60.0%,#0060ff 80.0%,#0050ff 100.0%)"></i><i style="left:824px;width:4.5px;background:linear-gradient(0deg,#40ffbf 3.5%,#31ffce 12.0%,#2bffd4 13.0%,#00f1ff 20.0%,#00b8ff 30.0%,#0088ff 45.0%,#0070ff 60.0%,#0060ff 80.0%,#0050ff 100.0%)"></i><i style="left:828px;width:4.5px;background:linear-gradient(0deg,#40ffbf 3.5%,#31ffce 12.0%,#2dffd2 13.0%,#00f5ff 20.0%,#00baff 30.0%,#008aff 45.0%,#0070ff 60.0%,#0060ff 80.0%,#0050ff 100.0%)"></i><i style="left:832px;width:4.5px;background:linear-gradient(0deg,#40ffbf 3.5%,#31ffce 12.0%,#2effd1 13.0%,#00f9ff 20.0%,#00bcff 30.0%,#008dff 45.0%,#0070ff 60.0%,#0060ff 80.0%,#0050ff 100.0%)"></i><i style="left:836px;width:4.5px;background:linear-gradient(0deg,#40ffbf 3.5%,#31ffce 12.0%,#2fffd0 13.0%,#00feff 20.0%,#00bfff 30.0%,#008fff 45.0%,#0070ff 60.0%,#0060ff 80.0%,#0050ff 100.0%)"></i><i style="left:840px;width:4.5px;background:linear-gradient(0deg,#40ffbf 3.5%,#30ffcf 12.0%,#2effd1 13.0%,#00fcff 20.0%,#00beff 30.0%,#008eff 45.0%,#006eff 60.0%,#005eff 80.0%,#0050ff 100.0%)"></i><i style="left:844px;width:4.5px;background:linear-gradient(0deg,#40ffbf 3.5%,#2dffd2 12.0%,#2affd5 13.0%,#00f8ff 20.0%,#00bcff 30.0%,#008cff 45.0%,#006cff 60.0%,#005cff 80.0%,#0050ff 100.0%)"></i><i style="left:848px;width:4.5px;background:linear-gradient(0deg,#40ffbf 3.5%,#2bffd4 12.0%,#27ffd8 13.0%,#00f3ff 20.0%,#00b9ff 30.0%,#008aff 45.0%,#006aff 60.0%,#005aff 80.0%,#0050ff 100.0%)"></i><i style="left:852px;width:4.5px;background:linear-gradient(0deg,#40ffbf 3.5%,#29ffd6 12.0%,#24ffdb 13.0%,#00efff 20.0%,#00b7ff 30.0%,#0087ff 45.0%,#0067ff 60.0%,#0058ff 80.0%,#0050ff 100.0%)"></i><i style="left:856px;width:4.5px;background:linear-gradient(0deg,#40ffbf 3.5%,#26ffd9 12.0%,#20ffdf 13.0%,#00eaff 20.0%,#00b5ff 30.0%,#0085ff 45.0%,#0065ff 60.0%,#0055ff 80.0%,#0050ff 100.0%)"></i><i style="left:860px;width:4.5px;background:linear-gradient(0deg,#40ffbf 3.5%,#24ffdb 12.0%,#1dffe2 13.0%,#00e6ff 20.0%,#00b3ff 30.0%,#0083ff 45.0%,#0063ff 60.0%,#0053ff 80.0%,#0050ff 100.0%)"></i><i style="left:864px;width:4.5px;background:linear-gradient(0deg,#40ffbf 3.5%,#21ffde 12.0%,#1affe5 13.0%,#00e2ff 20.0%,#00b1ff 30.0%,#0081ff 45.0%,#0061ff 60.0%,#0051ff 80.0%,#0050ff 100.0%)"></i><i style="left:868px;width:4.5px;background:linear-gradient(0deg,#3fffc0 3.5%,#26ffd9 10.0%,#1effe1 12.0%,#00ddff 20.0%,#00acff 30.0%,#008cff 40.0%,#007cff 45.0%,#0071ff 50.0%,#005dff 60.0%,#004eff 80.0%,#004fff 100.0%)"></i><i style="left:872px;width:4.5px;background:linear-gradient(0deg,#3dffc2 3.5%,#23ffdc 10.0%,#1affe5 12.0%,#00d9ff 20.0%,#00a6ff 30.0%,#0083ff 40.0%,#0073ff 45.0%,#0067ff 50.0%,#0056ff 60.0%,#0049ff 80.0%,#004dff 100.0%)"></i><i style="left:876px;width:4.5px;background:linear-gradient(0deg,#3affc5 3.5%,#20ffdf 10.0%,#15ffea 12.0%,#00d4ff 20.0%,#009fff 30.0%,#007aff 40.0%,#006aff 45.0%,#005eff 50.0%,#0050ff 60.0%,#0045ff 80.0%,#004aff 100.0%)"></i><i style="left:880px;width:4.5px;background:linear-gradient(0deg,#38ffc7 3.5%,#1cffe3 10.0%,#11ffee 12.0%,#00d0ff 20.0%,#0099ff 30.0%,#0071ff 40.0%,#0061ff 45.0%,#0054ff 50.0%,#0049ff 60.0%,#0041ff 80.0%,#0048ff 100.0%)"></i><i style="left:884px;width:4.5px;background:linear-gradient(0deg,#36ffc9 3.5%,#19ffe6 10.0%,#0cfff3 12.0%,#00ccff 20.0%,#0092ff 30.0%,#0069ff 40.0%,#0059ff 45.0%,#004bff 50.0%,#0042ff 60.0%,#003cff 80.0%,#0046ff 100.0%)"></i><i style="left:888px;width:4.5px;background:linear-gradient(0deg,#34ffcb 3.5%,#16ffe9 10.0%,#08fff7 12.0%,#00c7ff 20.0%,#008cff 30.0%,#0060ff 40.0%,#0050ff 45.0%,#0041ff 50.0%,#003cff 60.0%,#0038ff 80.0%,#0044ff 100.0%)"></i><i style="left:892px;width:4.5px;background:linear-gradient(0deg,#32ffcd 3.5%,#13ffec 10.0%,#04fffb 12.0%,#00c3ff 20.0%,#0085ff 30.0%,#0057ff 40.0%,#0047ff 45.0%,#0038ff 50.0%,#0035ff 60.0%,#0033ff 80.0%,#0042ff 100.0%)"></i><i style="left:896px;width:4.5px;background:linear-gradient(0deg,#2effd1 3.5%,#0efff1 10.0%,#00beff 20.0%,#007eff 30.0%,#004fff 40.0%,#002fff 50.0%,#002fff 60.0%,#002fff 70.0%,#0030ff 80.0%,#0038ff 90.0%,#003fff 100.0%)"></i><i style="left:900px;width:4.5px;background:linear-gradient(0deg,#20ffdf 3.5%,#01fffe 10.0%,#00b5ff 20.0%,#0078ff 30.0%,#0048ff 40.0%,#002bff 50.0%,#002cff 60.0%,#002dff 70.0%,#002fff 80.0%,#0036ff 90.0%,#003dff 100.0%)"></i><i style="left:904px;width:4.5px;background:linear-gradient(0deg,#13ffec 3.5%,#00f2ff 10.0%,#00acff 20.0%,#0071ff 30.0%,#0041ff 40.0%,#0026ff 50.0%,#0029ff 60.0%,#002bff 70.0%,#002dff 80.0%,#0035ff 90.0%,#003bff 100.0%)"></i><i style="left:908px;width:4.5px;background:linear-gradient(0deg,#06fff9 3.5%,#00e5ff 10.0%,#00a3ff 20.0%,#006bff 30.0%,#003bff 40.0%,#0022ff 50.0%,#0025ff 60.0%,#0029ff 70.0%,#002cff 80.0%,#0034ff 90.0%,#0039ff 100.0%)"></i><i style="left:912px;width:4.5px;background:linear-gradient(0deg,#00f8ff 3.5%,#00d8ff 10.0%,#009bff 20.0%,#0064ff 30.0%,#0034ff 40.0%,#001eff 50.0%,#0022ff 60.0%,#0027ff 70.0%,#002bff 80.0%,#0033ff 90.0%,#0037ff 100.0%)"></i><i style="left:916px;width:4.5px;background:linear-gradient(0deg,#00ebff 3.5%,#00cbff 10.0%,#0092ff 20.0%,#005dff 30.0%,#002eff 40.0%,#0019ff 50.0%,#001fff 60.0%,#0024ff 70.0%,#002aff 80.0%,#0032ff 90.0%,#0034ff 100.0%)"></i><i style="left:920px;width:4.5px;background:linear-gradient(0deg,#00deff 3.5%,#00beff 10.0%,#0089ff 20.0%,#0057ff 30.0%,#0027ff 40.0%,#0015ff 50.0%,#001cff 60.0%,#0022ff 70.0%,#0029ff 80.0%,#0031ff 90.0%,#0032ff 100.0%)"></i><i style="left:924px;width:4.5px;background:linear-gradient(0deg,#00d0ff 3.5%,#00b1ff 10.0%,#0080ff 20.0%,#0050ff 30.0%,#0020ff 40.0%,#0010ff 50.0%,#0018ff 60.0%,#0020ff 70.0%,#0028ff 80.0%,#0030ff 90.0%,#0030ff 100.0%)"></i><i style="left:928px;width:4.5px;background:linear-gradient(0deg,#00cbff 3.5%,#00abff 10.0%,#0090ff 15.0%,#0076ff 20.0%,#0048ff 30.0%,#001dff 40.0%,#000eff 50.0%,#001eff 70.0%,#002cff 90.0%,#002cff 100.0%)"></i><i style="left:932px;width:4.5px;background:linear-gradient(0deg,#00c7ff 3.5%,#00a7ff 10.0%,#0089ff 15.0%,#006bff 20.0%,#003fff 30.0%,#001aff 40.0%,#000cff 50.0%,#001cff 70.0%,#0027ff 90.0%,#0027ff 100.0%)"></i><i style="left:936px;width:4.5px;background:linear-gradient(0deg,#00c2ff 3.5%,#00a3ff 10.0%,#0081ff 15.0%,#0060ff 20.0%,#0036ff 30.0%,#0016ff 40.0%,#000aff 50.0%,#0019ff 70.0%,#0023ff 90.0%,#0023ff 100.0%)"></i><i style="left:940px;width:4.5px;background:linear-gradient(0deg,#00beff 3.5%,#009eff 10.0%,#0079ff 15.0%,#0055ff 20.0%,#002dff 30.0%,#0013ff 40.0%,#0007ff 50.0%,#0017ff 70.0%,#001fff 90.0%,#001fff 100.0%)"></i><i style="left:944px;width:4.5px;background:linear-gradient(0deg,#00baff 3.5%,#009aff 10.0%,#0072ff 15.0%,#004aff 20.0%,#0025ff 30.0%,#0010ff 40.0%,#0005ff 50.0%,#0015ff 70.0%,#001aff 90.0%,#001aff 100.0%)"></i><i style="left:948px;width:4.5px;background:linear-gradient(0deg,#00b5ff 3.5%,#0095ff 10.0%,#006aff 15.0%,#003fff 20.0%,#001cff 30.0%,#000cff 40.0%,#0003ff 50.0%,#0013ff 70.0%,#0016ff 90.0%,#0016ff 100.0%)"></i><i style="left:952px;width:4.5px;background:linear-gradient(0deg,#00b1ff 3.5%,#0091ff 10.0%,#0062ff 15.0%,#0034ff 20.0%,#0013ff 30.0%,#0009ff 40.0%,#0001ff 50.0%,#0011ff 70.0%,#0012ff 90.0%,#0012ff 100.0%)"></i><i style="left:956px;width:4.5px;background:linear-gradient(0deg,#00afff 3.5%,#008fff 10.0%,#0061ff 15.0%,#0033ff 20.0%,#0013ff 30.0%,#0008ff 45.0%,#0004ff 50.0%,#000bff 60.0%,#0013ff 70.0%,#0014ff 80.0%,#0014ff 90.0%,#0014ff 100.0%)"></i><i style="left:960px;width:4.5px;background:linear-gradient(0deg,#00afff 3.5%,#008fff 10.0%,#0063ff 15.0%,#0037ff 20.0%,#0017ff 30.0%,#000eff 45.0%,#000bff 50.0%,#0011ff 60.0%,#0019ff 70.0%,#001bff 80.0%,#001bff 90.0%,#001bff 100.0%)"></i><i style="left:964px;width:4.5px;background:linear-gradient(0deg,#00afff 3.5%,#008fff 10.0%,#0065ff 15.0%,#003bff 20.0%,#001cff 30.0%,#0014ff 45.0%,#0011ff 50.0%,#0016ff 60.0%,#001eff 70.0%,#0021ff 80.0%,#0021ff 90.0%,#0021ff 100.0%)"></i><i style="left:968px;width:4.5px;background:linear-gradient(0deg,#00afff 3.5%,#008fff 10.0%,#0068ff 15.0%,#0040ff 20.0%,#0020ff 30.0%,#001aff 45.0%,#0018ff 50.0%,#001cff 60.0%,#0024ff 70.0%,#0028ff 80.0%,#0028ff 90.0%,#0028ff 100.0%)"></i><i style="left:972px;width:4.5px;background:linear-gradient(0deg,#00afff 3.5%,#008fff 10.0%,#006aff 15.0%,#0044ff 20.0%,#0024ff 30.0%,#0020ff 45.0%,#001fff 50.0%,#0021ff 60.0%,#0029ff 70.0%,#002eff 80.0%,#002eff 90.0%,#002eff 100.0%)"></i><i style="left:976px;width:4.5px;background:linear-gradient(0deg,#00afff 3.5%,#008fff 10.0%,#006cff 15.0%,#0049ff 20.0%,#0029ff 30.0%,#0026ff 45.0%,#0025ff 50.0%,#0027ff 60.0%,#002fff 70.0%,#0035ff 80.0%,#0035ff 90.0%,#0035ff 100.0%)"></i><i style="left:980px;width:4.5px;background:linear-gradient(0deg,#00afff 3.5%,#008fff 10.0%,#006eff 15.0%,#004dff 20.0%,#002dff 30.0%,#002cff 45.0%,#002cff 50.0%,#002cff 60.0%,#0034ff 70.0%,#003cff 80.0%,#003cff 90.0%,#003cff 100.0%)"></i><i style="left:984px;width:4.5px;background:linear-gradient(0deg,#00b2ff 3.5%,#0092ff 10.0%,#0053ff 20.0%,#0033ff 30.0%,#0032ff 45.0%,#0031ff 60.0%,#0041ff 80.0%,#0041ff 100.0%)"></i><i style="left:988px;width:4.5px;background:linear-gradient(0deg,#00b8ff 3.5%,#0099ff 10.0%,#005cff 20.0%,#003cff 30.0%,#0039ff 45.0%,#0036ff 60.0%,#0043ff 80.0%,#0046ff 100.0%)"></i><i style="left:992px;width:4.5px;background:linear-gradient(0deg,#00bfff 3.5%,#009fff 10.0%,#0065ff 20.0%,#0045ff 30.0%,#003fff 45.0%,#003aff 60.0%,#0045ff 80.0%,#004aff 100.0%)"></i><i style="left:996px;width:4.5px;background:linear-gradient(0deg,#00c6ff 3.5%,#00a6ff 10.0%,#006dff 20.0%,#004dff 30.0%,#0046ff 45.0%,#003fff 60.0%,#0047ff 80.0%,#004fff 100.0%)"></i><i style="left:1000px;width:4.5px;background:linear-gradient(0deg,#00ccff 3.5%,#00acff 10.0%,#0076ff 20.0%,#0056ff 30.0%,#004dff 45.0%,#0043ff 60.0%,#0049ff 80.0%,#0053ff 100.0%)"></i><i style="left:1004px;width:4.5px;background:linear-gradient(0deg,#00d3ff 3.5%,#00b3ff 10.0%,#007fff 20.0%,#005fff 30.0%,#0053ff 45.0%,#0047ff 60.0%,#004cff 80.0%,#0057ff 100.0%)"></i><i style="left:1008px;width:4.5px;background:linear-gradient(0deg,#00d9ff 3.5%,#00b9ff 10.0%,#0088ff 20.0%,#0068ff 30.0%,#005aff 45.0%,#004cff 60.0%,#004eff 80.0%,#005cff 100.0%)"></i><i style="left:1012px;width:4.5px;background:linear-gradient(0deg,#00dfff 3.5%,#00c0ff 10.0%,#00a8ff 15.0%,#0090ff 20.0%,#0076ff 28.0%,#0070ff 30.0%,#0065ff 40.0%,#0060ff 45.0%,#005aff 50.0%,#0050ff 60.0%,#0050ff 70.0%,#0050ff 80.0%,#005fff 100.0%)"></i><i style="left:1016px;width:4.5px;background:linear-gradient(0deg,#00dfff 3.5%,#00c4ff 10.0%,#00abff 15.0%,#0092ff 20.0%,#0077ff 28.0%,#0071ff 30.0%,#0064ff 40.0%,#0060ff 45.0%,#005bff 50.0%,#0051ff 60.0%,#0050ff 70.0%,#0050ff 80.0%,#005dff 100.0%)"></i><i style="left:1020px;width:4.5px;background:linear-gradient(0deg,#00dfff 3.5%,#00c9ff 10.0%,#00aeff 15.0%,#0094ff 20.0%,#0079ff 28.0%,#0073ff 30.0%,#0063ff 40.0%,#0060ff 45.0%,#005cff 50.0%,#0052ff 60.0%,#0050ff 70.0%,#0050ff 80.0%,#005bff 100.0%)"></i><i style="left:1024px;width:4.5px;background:linear-gradient(0deg,#00dfff 3.5%,#00cdff 10.0%,#00b2ff 15.0%,#0096ff 20.0%,#007aff 28.0%,#0074ff 30.0%,#0063ff 40.0%,#0060ff 45.0%,#005dff 50.0%,#0053ff 60.0%,#0050ff 70.0%,#0050ff 80.0%,#0059ff 100.0%)"></i><i style="left:1028px;width:4.5px;background:linear-gradient(0deg,#00dfff 3.5%,#00d1ff 10.0%,#00b5ff 15.0%,#0098ff 20.0%,#007bff 28.0%,#0076ff 30.0%,#0062ff 40.0%,#0060ff 45.0%,#005dff 50.0%,#0054ff 60.0%,#0050ff 70.0%,#0050ff 80.0%,#0057ff 100.0%)"></i><i style="left:1032px;width:4.5px;background:linear-gradient(0deg,#00dfff 3.5%,#00d6ff 10.0%,#00b8ff 15.0%,#009bff 20.0%,#007dff 28.0%,#0077ff 30.0%,#0061ff 40.0%,#0060ff 45.0%,#005eff 50.0%,#0055ff 60.0%,#0050ff 70.0%,#0050ff 80.0%,#0054ff 100.0%)"></i><i style="left:1036px;width:4.5px;background:linear-gradient(0deg,#00dfff 3.5%,#00daff 10.0%,#00bbff 15.0%,#009dff 20.0%,#007eff 28.0%,#0079ff 30.0%,#0060ff 40.0%,#0060ff 45.0%,#005fff 50.0%,#0056ff 60.0%,#0050ff 70.0%,#0050ff 80.0%,#0052ff 100.0%)"></i><i style="left:1040px;width:4.5px;background:linear-gradient(0deg,#00dfff 3.5%,#00deff 10.0%,#00bfff 15.0%,#009fff 20.0%,#007fff 28.0%,#007aff 30.0%,#0060ff 40.0%,#0060ff 45.0%,#0060ff 50.0%,#0057ff 60.0%,#0050ff 70.0%,#0050ff 80.0%,#0050ff 100.0%)"></i><i style="left:1044px;width:4.5px;background:linear-gradient(0deg,#00dfff 3.5%,#00dbff 10.0%,#00bdff 15.0%,#009fff 20.0%,#0080ff 28.0%,#007bff 30.0%,#0062ff 40.0%,#0061ff 45.0%,#0061ff 50.0%,#0059ff 60.0%,#0051ff 70.0%,#0050ff 80.0%,#0050ff 100.0%)"></i><i style="left:1048px;width:4.5px;background:linear-gradient(0deg,#00dfff 3.5%,#00d7ff 10.0%,#00bbff 15.0%,#009fff 20.0%,#0081ff 28.0%,#007cff 30.0%,#0065ff 40.0%,#0064ff 45.0%,#0062ff 50.0%,#005aff 60.0%,#0052ff 70.0%,#0050ff 80.0%,#0050ff 100.0%)"></i><i style="left:1052px;width:4.5px;background:linear-gradient(0deg,#00dfff 3.5%,#00d3ff 10.0%,#00b9ff 15.0%,#009fff 20.0%,#0082ff 28.0%,#007cff 30.0%,#0068ff 40.0%,#0066ff 45.0%,#0064ff 50.0%,#005bff 60.0%,#0053ff 70.0%,#0050ff 80.0%,#0050ff 100.0%)"></i><i style="left:1056px;width:4.5px;background:linear-gradient(0deg,#00dfff 3.5%,#00ceff 10.0%,#00b7ff 15.0%,#009fff 20.0%,#0083ff 28.0%,#007dff 30.0%,#006bff 40.0%,#0068ff 45.0%,#0065ff 50.0%,#005cff 60.0%,#0054ff 70.0%,#0050ff 80.0%,#0050ff 100.0%)"></i><i style="left:1060px;width:4.5px;background:linear-gradient(0deg,#00dfff 3.5%,#00caff 10.0%,#00b5ff 15.0%,#009fff 20.0%,#0084ff 28.0%,#007eff 30.0%,#006eff 40.0%,#006aff 45.0%,#0067ff 50.0%,#005dff 60.0%,#0055ff 70.0%,#0050ff 80.0%,#0050ff 100.0%)"></i><i style="left:1064px;width:4.5px;background:linear-gradient(0deg,#00dfff 3.5%,#00c5ff 10.0%,#00b2ff 15.0%,#009fff 20.0%,#0085ff 28.0%,#007eff 30.0%,#0071ff 40.0%,#006cff 45.0%,#0068ff 50.0%,#005eff 60.0%,#0056ff 70.0%,#0050ff 80.0%,#0050ff 100.0%)"></i><i style="left:1068px;width:4.5px;background:linear-gradient(0deg,#00dfff 3.5%,#00c1ff 10.0%,#00b0ff 15.0%,#009fff 20.0%,#0086ff 28.0%,#007fff 30.0%,#0074ff 40.0%,#006fff 45.0%,#006aff 50.0%,#005fff 60.0%,#0057ff 70.0%,#0050ff 80.0%,#0050ff 100.0%)"></i><i style="left:1072px;width:4.5px;background:linear-gradient(0deg,#00deff 3.5%,#00c1ff 10.0%,#00a1ff 20.0%,#0087ff 28.0%,#0080ff 30.0%,#0074ff 40.0%,#0070ff 45.0%,#006bff 50.0%,#0060ff 60.0%,#0050ff 80.0%,#0050ff 100.0%)"></i><i style="left:1076px;width:4.5px;background:linear-gradient(0deg,#00dcff 3.5%,#00c3ff 10.0%,#00a3ff 20.0%,#0088ff 28.0%,#0082ff 30.0%,#0074ff 40.0%,#0070ff 45.0%,#006bff 50.0%,#0060ff 60.0%,#0050ff 80.0%,#0050ff 100.0%)"></i><i style="left:1080px;width:4.5px;background:linear-gradient(0deg,#00d9ff 3.5%,#00c5ff 10.0%,#00a5ff 20.0%,#0089ff 28.0%,#0083ff 30.0%,#0073ff 40.0%,#0070ff 45.0%,#006cff 50.0%,#0060ff 60.0%,#0050ff 80.0%,#0050ff 100.0%)"></i><i style="left:1084px;width:4.5px;background:linear-gradient(0deg,#00d7ff 3.5%,#00c7ff 10.0%,#00a7ff 20.0%,#008bff 28.0%,#0085ff 30.0%,#0072ff 40.0%,#0070ff 45.0%,#006dff 50.0%,#0060ff 60.0%,#0050ff 80.0%,#0050ff 100.0%)"></i><i style="left:1088px;width:4.5px;background:linear-gradient(0deg,#00d5ff 3.5%,#00c9ff 10.0%,#00a9ff 20.0%,#008cff 28.0%,#0086ff 30.0%,#0072ff 40.0%,#0070ff 45.0%,#006eff 50.0%,#0060ff 60.0%,#0050ff 80.0%,#0050ff 100.0%)"></i><i style="left:1092px;width:4.5px;background:linear-gradient(0deg,#00d3ff 3.5%,#00ccff 10.0%,#00acff 20.0%,#008dff 28.0%,#0088ff 30.0%,#0071ff 40.0%,#0070ff 45.0%,#006eff 50.0%,#0060ff 60.0%,#0050ff 80.0%,#0050ff 100.0%)"></i><i style="left:1096px;width:4.5px;background:linear-gradient(0deg,#00d1ff 3.5%,#00ceff 10.0%,#00aeff 20.0%,#008fff 28.0%,#0089ff 30.0%,#0070ff 40.0%,#0070ff 45.0%,#006fff 50.0%,#0060ff 60.0%,#0050ff 80.0%,#0050ff 100.0%)"></i><i style="left:1100px;width:4.5px;background:linear-gradient(0deg,#00d3ff 3.5%,#00d3ff 8.5%,#00d2ff 10.0%,#00c1ff 14.5%,#00afff 20.0%,#00a7ff 22.0%,#008fff 28.0%,#0087ff 31.0%,#0070ff 40.0%,#0070ff 43.0%,#006fff 50.0%,#0060ff 60.0%,#0050ff 80.0%,#0050ff 100.0%)"></i><i style="left:1104px;width:4.5px;background:linear-gradient(0deg,#00deff 3.5%,#00deff 8.5%,#00daff 10.0%,#00c3ff 14.5%,#00afff 20.0%,#00a6ff 22.0%,#008eff 28.0%,#0086ff 31.0%,#0070ff 40.0%,#0070ff 43.0%,#006eff 50.0%,#0060ff 60.0%,#0050ff 80.0%,#0050ff 100.0%)"></i><i style="left:1108px;width:4.5px;background:linear-gradient(0deg,#00e9ff 3.5%,#00e9ff 8.5%,#00e2ff 10.0%,#00c5ff 14.5%,#00aeff 20.0%,#00a5ff 22.0%,#008eff 28.0%,#0085ff 31.0%,#0071ff 40.0%,#0070ff 43.0%,#006dff 50.0%,#0060ff 60.0%,#0050ff 80.0%,#0050ff 100.0%)"></i><i style="left:1112px;width:4.5px;background:linear-gradient(0deg,#00f4ff 3.5%,#00f4ff 8.5%,#00ebff 10.0%,#00c7ff 14.5%,#00aeff 20.0%,#00a4ff 22.0%,#008dff 28.0%,#0084ff 31.0%,#0071ff 40.0%,#0070ff 43.0%,#006dff 50.0%,#0060ff 60.0%,#0050ff 80.0%,#0050ff 100.0%)"></i><i style="left:1116px;width:4.5px;background:linear-gradient(0deg,#00ffff 3.5%,#00ffff 8.5%,#00f3ff 10.0%,#00c9ff 14.5%,#00adff 20.0%,#00a3ff 22.0%,#008cff 28.0%,#0083ff 31.0%,#0072ff 40.0%,#0070ff 43.0%,#006cff 50.0%,#0060ff 60.0%,#0050ff 80.0%,#0050ff 100.0%)"></i><i style="left:1120px;width:4.5px;background:linear-gradient(0deg,#0bfff4 3.5%,#0bfff4 8.5%,#00fbff 10.0%,#00cbff 14.5%,#00adff 20.0%,#00a2ff 22.0%,#008cff 28.0%,#0082ff 31.0%,#0072ff 40.0%,#0070ff 43.0%,#006bff 50.0%,#0060ff 60.0%,#0050ff 80.0%,#0050ff 100.0%)"></i><i style="left:1124px;width:4.5px;background:linear-gradient(0deg,#16ffe9 3.5%,#16ffe9 8.5%,#04fffb 10.0%,#00cdff 14.5%,#00adff 20.0%,#00a0ff 22.0%,#008bff 28.0%,#0081ff 31.0%,#0073ff 40.0%,#0070ff 43.0%,#006aff 50.0%,#0060ff 60.0%,#0050ff 80.0%,#0050ff 100.0%)"></i><i style="left:1128px;width:4.5px;background:linear-gradient(0deg,#1fffe0 3.5%,#1fffe0 8.5%,#19ffe6 9.0%,#00cfff 14.5%,#00c6ff 16.0%,#009fff 22.0%,#007fff 31.0%,#006fff 43.0%,#0069ff 50.0%,#0060ff 60.0%,#0050ff 80.0%,#0050ff 100.0%)"></i><i style="left:1132px;width:4.5px;background:linear-gradient(0deg,#17ffe8 3.5%,#17ffe8 8.5%,#11ffee 9.0%,#00ceff 14.5%,#00c5ff 16.0%,#009dff 22.0%,#007dff 31.0%,#006eff 43.0%,#0068ff 50.0%,#005fff 60.0%,#0050ff 80.0%,#0052ff 100.0%)"></i><i style="left:1136px;width:4.5px;background:linear-gradient(0deg,#0efff1 3.5%,#0efff1 8.5%,#09fff6 9.0%,#00cdff 14.5%,#00c4ff 16.0%,#009bff 22.0%,#007bff 31.0%,#006dff 43.0%,#0066ff 50.0%,#005eff 60.0%,#0050ff 80.0%,#0054ff 100.0%)"></i><i style="left:1140px;width:4.5px;background:linear-gradient(0deg,#05fffa 3.5%,#05fffa 8.5%,#01fffe 9.0%,#00cbff 14.5%,#00c3ff 16.0%,#0099ff 22.0%,#0079ff 31.0%,#006bff 43.0%,#0065ff 50.0%,#005dff 60.0%,#0050ff 80.0%,#0056ff 100.0%)"></i><i style="left:1144px;width:4.5px;background:linear-gradient(0deg,#00fbff 3.5%,#00fbff 8.5%,#00f8ff 9.0%,#00caff 14.5%,#00c2ff 16.0%,#0096ff 22.0%,#0077ff 31.0%,#006aff 43.0%,#0064ff 50.0%,#005dff 60.0%,#0050ff 80.0%,#0059ff 100.0%)"></i><i style="left:1148px;width:4.5px;background:linear-gradient(0deg,#00f2ff 3.5%,#00f2ff 8.5%,#00f0ff 9.0%,#00c9ff 14.5%,#00c1ff 16.0%,#0094ff 22.0%,#0074ff 31.0%,#0069ff 43.0%,#0062ff 50.0%,#005cff 60.0%,#0050ff 80.0%,#005bff 100.0%)"></i><i style="left:1152px;width:4.5px;background:linear-gradient(0deg,#00eaff 3.5%,#00eaff 8.5%,#00e9ff 9.0%,#00c8ff 14.5%,#00c0ff 16.0%,#0092ff 22.0%,#0072ff 31.0%,#0067ff 43.0%,#0061ff 50.0%,#005bff 60.0%,#0050ff 80.0%,#005dff 100.0%)"></i><i style="left:1156px;width:4.5px;background:linear-gradient(0deg,#00e1ff 3.5%,#00e1ff 8.5%,#00e1ff 9.0%,#00c6ff 14.5%,#00bfff 16.0%,#0090ff 22.0%,#0070ff 31.0%,#0066ff 43.0%,#0060ff 50.0%,#005aff 60.0%,#0050ff 80.0%,#005fff 100.0%)"></i><i style="left:1160px;width:4.5px;background:linear-gradient(0deg,#00e8ff 3.5%,#00e8ff 8.5%,#00e7ff 9.0%,#00c9ff 14.5%,#00c1ff 16.0%,#00a8ff 19.0%,#0091ff 22.0%,#0089ff 24.0%,#0071ff 31.0%,#0067ff 40.0%,#005eff 50.0%,#0054ff 70.0%,#004eff 80.0%,#005eff 100.0%)"></i><i style="left:1164px;width:4.5px;background:linear-gradient(0deg,#00f3ff 3.5%,#00f3ff 8.5%,#00f1ff 9.0%,#00ccff 14.5%,#00c3ff 16.0%,#00a9ff 19.0%,#0093ff 22.0%,#008aff 24.0%,#0074ff 31.0%,#0066ff 40.0%,#005cff 50.0%,#0054ff 70.0%,#004cff 80.0%,#005cff 100.0%)"></i><i style="left:1168px;width:4.5px;background:linear-gradient(0deg,#00feff 3.5%,#00feff 8.5%,#00fbff 9.0%,#00d0ff 14.5%,#00c5ff 16.0%,#00aaff 19.0%,#0094ff 22.0%,#008bff 24.0%,#0076ff 31.0%,#0065ff 40.0%,#0059ff 50.0%,#0053ff 70.0%,#004aff 80.0%,#0059ff 100.0%)"></i><i style="left:1172px;width:4.5px;background:linear-gradient(0deg,#0afff5 3.5%,#0afff5 8.5%,#06fff9 9.0%,#00d3ff 14.5%,#00c8ff 16.0%,#00acff 19.0%,#0096ff 22.0%,#008cff 24.0%,#0078ff 31.0%,#0064ff 40.0%,#0057ff 50.0%,#0052ff 70.0%,#0047ff 80.0%,#0057ff 100.0%)"></i><i style="left:1176px;width:4.5px;background:linear-gradient(0deg,#15ffea 3.5%,#15ffea 8.5%,#10ffef 9.0%,#00d7ff 14.5%,#00caff 16.0%,#00adff 19.0%,#0098ff 22.0%,#008dff 24.0%,#007aff 31.0%,#0062ff 40.0%,#0055ff 50.0%,#0051ff 70.0%,#0045ff 80.0%,#0055ff 100.0%)"></i><i style="left:1180px;width:4.5px;background:linear-gradient(0deg,#20ffdf 3.5%,#20ffdf 8.5%,#1affe5 9.0%,#00daff 14.5%,#00ccff 16.0%,#00aeff 19.0%,#009aff 22.0%,#008eff 24.0%,#007cff 31.0%,#0061ff 40.0%,#0053ff 50.0%,#0051ff 70.0%,#0043ff 80.0%,#0053ff 100.0%)"></i><i style="left:1184px;width:4.5px;background:linear-gradient(0deg,#2bffd4 3.5%,#2bffd4 8.5%,#24ffdb 9.0%,#00deff 14.5%,#00ceff 16.0%,#00afff 19.0%,#009bff 22.0%,#008fff 24.0%,#007eff 31.0%,#0060ff 40.0%,#0051ff 50.0%,#0050ff 70.0%,#0041ff 80.0%,#0051ff 100.0%)"></i><i style="left:1188px;width:4.5px;background:linear-gradient(0deg,#2fffd0 3.5%,#2fffd0 8.0%,#2effd1 8.5%,#00deff 14.5%,#00c9ff 16.5%,#00afff 19.0%,#0095ff 23.0%,#008fff 24.0%,#0080ff 31.0%,#006fff 36.0%,#0061ff 40.0%,#0051ff 50.0%,#0050ff 70.0%,#0041ff 80.0%,#0050ff 100.0%)"></i><i style="left:1192px;width:4.5px;background:linear-gradient(0deg,#2cffd3 3.5%,#2cffd3 8.0%,#2bffd4 8.5%,#00ddff 14.5%,#00c8ff 16.5%,#00afff 19.0%,#0094ff 23.0%,#008fff 24.0%,#0081ff 31.0%,#0072ff 36.0%,#0064ff 40.0%,#0053ff 50.0%,#0050ff 70.0%,#0043ff 80.0%,#0050ff 100.0%)"></i><i style="left:1196px;width:4.5px;background:linear-gradient(0deg,#2affd5 3.5%,#2affd5 8.0%,#28ffd7 8.5%,#00dcff 14.5%,#00c6ff 16.5%,#00aeff 19.0%,#0094ff 23.0%,#008fff 24.0%,#0082ff 31.0%,#0074ff 36.0%,#0068ff 40.0%,#0055ff 50.0%,#0050ff 70.0%,#0045ff 80.0%,#0050ff 100.0%)"></i><i style="left:1200px;width:4.5px;background:linear-gradient(0deg,#28ffd7 3.5%,#28ffd7 8.0%,#25ffda 8.5%,#00dbff 14.5%,#00c5ff 16.5%,#00aeff 19.0%,#0093ff 23.0%,#008fff 24.0%,#0082ff 31.0%,#0076ff 36.0%,#006bff 40.0%,#0057ff 50.0%,#0050ff 70.0%,#0047ff 80.0%,#0050ff 100.0%)"></i><i style="left:1204px;width:4.5px;background:linear-gradient(0deg,#26ffd9 3.5%,#26ffd9 8.0%,#22ffdd 8.5%,#00d9ff 14.5%,#00c3ff 16.5%,#00aeff 19.0%,#0092ff 23.0%,#008fff 24.0%,#0083ff 31.0%,#0079ff 36.0%,#006eff 40.0%,#005aff 50.0%,#0050ff 70.0%,#004aff 80.0%,#0050ff 100.0%)"></i><i style="left:1208px;width:4.5px;background:linear-gradient(0deg,#24ffdb 3.5%,#24ffdb 8.0%,#1fffe0 8.5%,#00d8ff 14.5%,#00c2ff 16.5%,#00adff 19.0%,#0091ff 23.0%,#008fff 24.0%,#0084ff 31.0%,#007bff 36.0%,#0071ff 40.0%,#005cff 50.0%,#0050ff 70.0%,#004cff 80.0%,#0050ff 100.0%)"></i><i style="left:1212px;width:4.5px;background:linear-gradient(0deg,#21ffde 3.5%,#21ffde 8.0%,#1cffe3 8.5%,#00d7ff 14.5%,#00c0ff 16.5%,#00adff 19.0%,#0090ff 23.0%,#008eff 24.0%,#0085ff 31.0%,#007eff 36.0%,#0074ff 40.0%,#005eff 50.0%,#0050ff 70.0%,#004eff 80.0%,#0050ff 100.0%)"></i><i style="left:1216px;width:4.5px;background:linear-gradient(0deg,#20ffdf 3.5%,#20ffdf 7.0%,#1fffe0 8.0%,#00d0ff 15.0%,#00bfff 16.5%,#009eff 21.0%,#0090ff 23.0%,#0080ff 36.0%,#0060ff 50.0%,#0058ff 60.0%,#0050ff 70.0%,#0050ff 100.0%)"></i><i style="left:1220px;width:4.5px;background:linear-gradient(0deg,#20ffdf 3.5%,#20ffdf 7.0%,#1effe1 8.0%,#00cdff 15.0%,#00beff 16.5%,#009eff 21.0%,#0091ff 23.0%,#0080ff 36.0%,#0062ff 50.0%,#0059ff 60.0%,#0050ff 70.0%,#0050ff 100.0%)"></i><i style="left:1224px;width:4.5px;background:linear-gradient(0deg,#20ffdf 3.5%,#20ffdf 7.0%,#1cffe3 8.0%,#00cbff 15.0%,#00bdff 16.5%,#009fff 21.0%,#0093ff 23.0%,#0080ff 36.0%,#0065ff 50.0%,#005aff 60.0%,#0050ff 70.0%,#0050ff 100.0%)"></i><i style="left:1228px;width:4.5px;background:linear-gradient(0deg,#20ffdf 3.5%,#20ffdf 7.0%,#1affe5 8.0%,#00c9ff 15.0%,#00bcff 16.5%,#009fff 21.0%,#0095ff 23.0%,#0080ff 36.0%,#0067ff 50.0%,#005bff 60.0%,#0050ff 70.0%,#0050ff 100.0%)"></i><i style="left:1232px;width:4.5px;background:linear-gradient(0deg,#20ffdf 3.5%,#20ffdf 7.0%,#19ffe6 8.0%,#00c6ff 15.0%,#00bbff 16.5%,#009fff 21.0%,#0096ff 23.0%,#0080ff 36.0%,#0069ff 50.0%,#005cff 60.0%,#0050ff 70.0%,#0050ff 100.0%)"></i><i style="left:1236px;width:4.5px;background:linear-gradient(0deg,#20ffdf 3.5%,#20ffdf 7.0%,#17ffe8 8.0%,#00c4ff 15.0%,#00b9ff 16.5%,#009fff 21.0%,#0098ff 23.0%,#0080ff 36.0%,#006bff 50.0%,#005dff 60.0%,#0050ff 70.0%,#0050ff 100.0%)"></i><i style="left:1240px;width:4.5px;background:linear-gradient(0deg,#20ffdf 3.5%,#20ffdf 7.0%,#16ffe9 8.0%,#00c2ff 15.0%,#00b8ff 16.5%,#009fff 21.0%,#009aff 23.0%,#0080ff 36.0%,#006dff 50.0%,#005fff 60.0%,#0050ff 70.0%,#0050ff 100.0%)"></i><i style="left:1244px;width:4.5px;background:linear-gradient(0deg,#20ffdf 3.5%,#20ffdf 7.0%,#00cbff 14.0%,#00bfff 15.0%,#009fff 21.0%,#008cff 30.0%,#007fff 36.0%,#007bff 40.0%,#0070ff 50.0%,#0060ff 60.0%,#0050ff 70.0%,#0050ff 100.0%)"></i><i style="left:1248px;width:4.5px;background:linear-gradient(0deg,#20ffdf 3.5%,#20ffdf 7.0%,#00c8ff 14.0%,#00beff 15.0%,#009cff 21.0%,#0082ff 30.0%,#0072ff 36.0%,#006aff 40.0%,#005aff 50.0%,#004dff 60.0%,#0041ff 70.0%,#0041ff 100.0%)"></i><i style="left:1252px;width:4.5px;background:linear-gradient(0deg,#20ffdf 3.5%,#20ffdf 7.0%,#00c6ff 14.0%,#00bcff 15.0%,#0098ff 21.0%,#0078ff 30.0%,#0064ff 36.0%,#0058ff 40.0%,#0044ff 50.0%,#003bff 60.0%,#0032ff 70.0%,#0032ff 100.0%)"></i><i style="left:1256px;width:4.5px;background:linear-gradient(0deg,#20ffdf 3.5%,#20ffdf 7.0%,#00c3ff 14.0%,#00bbff 15.0%,#0094ff 21.0%,#006eff 30.0%,#0056ff 36.0%,#0047ff 40.0%,#002eff 50.0%,#0029ff 60.0%,#0024ff 70.0%,#0024ff 100.0%)"></i><i style="left:1260px;width:4.5px;background:linear-gradient(0deg,#20ffdf 3.5%,#20ffdf 7.0%,#00c0ff 14.0%,#00b9ff 15.0%,#0091ff 21.0%,#0063ff 30.0%,#0048ff 36.0%,#0036ff 40.0%,#0018ff 50.0%,#0016ff 60.0%,#0015ff 70.0%,#0015ff 100.0%)"></i><i style="left:1264px;width:4.5px;background:linear-gradient(0deg,#20ffdf 3.5%,#20ffdf 7.0%,#00bfff 14.0%,#008fff 21.0%,#0060ff 30.0%,#0030ff 40.0%,#0010ff 50.0%,#0010ff 100.0%)"></i><i style="left:1268px;width:4.5px;background:linear-gradient(0deg,#20ffdf 3.5%,#20ffdf 7.0%,#00bfff 14.0%,#008fff 21.0%,#0060ff 30.0%,#0030ff 40.0%,#0010ff 50.0%,#0010ff 100.0%)"></i><i style="left:1272px;width:4.5px;background:linear-gradient(0deg,#20ffdf 3.5%,#20ffdf 7.0%,#00bfff 14.0%,#008fff 21.0%,#0060ff 30.0%,#0030ff 40.0%,#0010ff 50.0%,#0010ff 100.0%)"></i><i style="left:1276px;width:4.5px;background:linear-gradient(0deg,#20ffdf 3.5%,#20ffdf 7.0%,#00bfff 14.0%,#008fff 21.0%,#0060ff 30.0%,#0030ff 40.0%,#0010ff 50.0%,#0010ff 100.0%)"></i></div><div style="position:absolute;left:172.20px;top:37.50px;width:1276.79px;height:411.00px;overflow:hidden;filter:url(#spkY)"><i style="left:0px;width:12.5px;background:linear-gradient(0deg,#000000 3.0%,#cfcfcf 5.0%,#cfcfcf 11.0%,#c8c8c8 12.0%,#9e9e9e 14.0%,#000000 16.0%,#000000 100.0%)"></i><i style="left:12px;width:12.5px;background:linear-gradient(0deg,#000000 3.0%,#cfcfcf 5.0%,#cfcfcf 11.0%,#c9c9c9 12.0%,#a7a7a7 14.0%,#000000 16.0%,#000000 100.0%)"></i><i style="left:24px;width:12.5px;background:linear-gradient(0deg,#000000 3.0%,#cfcfcf 5.0%,#cfcfcf 11.0%,#cacaca 12.0%,#adadad 14.0%,#000000 16.0%,#000000 100.0%)"></i><i style="left:36px;width:12.5px;background:linear-gradient(0deg,#000000 3.0%,#cfcfcf 5.0%,#cfcfcf 11.0%,#cacaca 12.0%,#b3b3b3 14.0%,#000000 16.0%,#000000 100.0%)"></i><i style="left:48px;width:12.5px;background:linear-gradient(0deg,#000000 3.0%,#cfcfcf 5.0%,#cfcfcf 11.0%,#cbcbcb 12.0%,#b5b5b5 14.0%,#000000 16.0%,#000000 100.0%)"></i><i style="left:60px;width:12.5px;background:linear-gradient(0deg,#000000 3.0%,#cfcfcf 5.0%,#cfcfcf 11.0%,#cbcbcb 12.0%,#b7b7b7 14.0%,#000000 16.0%,#000000 100.0%)"></i><i style="left:72px;width:12.5px;background:linear-gradient(0deg,#000000 3.0%,#cfcfcf 5.0%,#cfcfcf 11.0%,#cccccc 12.0%,#b9b9b9 14.0%,#000000 16.0%,#000000 100.0%)"></i><i style="left:84px;width:12.5px;background:linear-gradient(0deg,#000000 3.0%,#cfcfcf 5.0%,#cfcfcf 11.0%,#cdcdcd 12.0%,#bbbbbb 14.0%,#000000 16.0%,#000000 100.0%)"></i><i style="left:96px;width:12.5px;background:linear-gradient(0deg,#000000 3.0%,#cfcfcf 5.0%,#cfcfcf 11.0%,#cecece 12.0%,#bdbdbd 14.0%,#000000 16.0%,#000000 100.0%)"></i><i style="left:108px;width:12.5px;background:linear-gradient(0deg,#000000 3.0%,#cfcfcf 5.0%,#cfcfcf 11.0%,#cecece 12.0%,#bfbfbf 14.0%,#000000 16.0%,#000000 100.0%)"></i><i style="left:120px;width:12.5px;background:linear-gradient(0deg,#000000 3.0%,#cfcfcf 5.0%,#cfcfcf 12.0%,#c1c1c1 14.0%,#9a9a9a 16.0%,#000000 18.0%,#000000 100.0%)"></i><i style="left:132px;width:12.5px;background:linear-gradient(0deg,#000000 3.0%,#cfcfcf 5.0%,#cfcfcf 12.0%,#c4c4c4 14.0%,#a6a6a6 16.0%,#000000 18.0%,#000000 100.0%)"></i><i style="left:144px;width:12.5px;background:linear-gradient(0deg,#000000 3.0%,#cfcfcf 5.0%,#cfcfcf 12.0%,#c7c7c7 14.0%,#adadad 16.0%,#000000 18.0%,#000000 100.0%)"></i><i style="left:156px;width:12.5px;background:linear-gradient(0deg,#000000 3.0%,#cfcfcf 5.0%,#cfcfcf 12.0%,#c8c8c8 14.0%,#b3b3b3 16.0%,#000000 18.0%,#000000 100.0%)"></i><i style="left:168px;width:12.5px;background:linear-gradient(0deg,#000000 3.0%,#cfcfcf 5.0%,#cfcfcf 12.0%,#c9c9c9 14.0%,#b6b6b6 16.0%,#000000 18.0%,#000000 100.0%)"></i><i style="left:180px;width:12.5px;background:linear-gradient(0deg,#000000 3.0%,#cfcfcf 5.0%,#cfcfcf 12.0%,#cacaca 14.0%,#b8b8b8 16.0%,#000000 18.0%,#000000 100.0%)"></i><i style="left:192px;width:12.5px;background:linear-gradient(0deg,#000000 3.0%,#cfcfcf 5.0%,#cfcfcf 12.0%,#cccccc 14.0%,#bbbbbb 16.0%,#000000 18.0%,#000000 100.0%)"></i><i style="left:204px;width:12.5px;background:linear-gradient(0deg,#000000 3.0%,#cfcfcf 5.0%,#cfcfcf 12.0%,#cdcdcd 14.0%,#bdbdbd 16.0%,#000000 18.0%,#000000 100.0%)"></i><i style="left:216px;width:12.5px;background:linear-gradient(0deg,#000000 3.0%,#cfcfcf 5.0%,#cfcfcf 12.0%,#cecece 14.0%,#bfbfbf 16.0%,#000000 18.0%,#000000 100.0%)"></i><i style="left:228px;width:12.5px;background:linear-gradient(0deg,#000000 3.0%,#bdbdbd 4.0%,#d0d0d0 5.0%,#d0d0d0 14.0%,#bdbdbd 17.0%,#b1b1b1 18.0%,#000000 21.0%,#000000 100.0%)"></i><i style="left:240px;width:12.5px;background:linear-gradient(0deg,#000000 3.0%,#b4b4b4 4.0%,#d2d2d2 5.0%,#d2d2d2 14.0%,#cbcbcb 17.0%,#c2c2c2 18.0%,#000000 21.0%,#000000 100.0%)"></i><i style="left:252px;width:12.5px;background:linear-gradient(0deg,#000000 3.0%,#000000 4.0%,#d4d4d4 5.0%,#d4d4d4 14.0%,#d4d4d4 17.0%,#cdcdcd 18.0%,#000000 21.0%,#000000 100.0%)"></i><i style="left:264px;width:12.5px;background:linear-gradient(0deg,#000000 4.0%,#d4d4d4 5.0%,#d4d4d4 17.0%,#cdcdcd 18.0%,#a5a5a5 21.0%,#000000 23.0%,#000000 100.0%)"></i><i style="left:276px;width:12.5px;background:linear-gradient(0deg,#000000 4.0%,#d4d4d4 5.0%,#d4d4d4 17.0%,#cecece 18.0%,#acacac 21.0%,#000000 23.0%,#000000 100.0%)"></i><i style="left:288px;width:12.5px;background:linear-gradient(0deg,#000000 4.0%,#d4d4d4 5.0%,#d4d4d4 17.0%,#cfcfcf 18.0%,#b3b3b3 21.0%,#000000 23.0%,#000000 100.0%)"></i><i style="left:300px;width:12.5px;background:linear-gradient(0deg,#000000 4.0%,#d4d4d4 5.0%,#d4d4d4 17.0%,#d0d0d0 18.0%,#b5b5b5 21.0%,#000000 23.0%,#000000 100.0%)"></i><i style="left:312px;width:12.5px;background:linear-gradient(0deg,#000000 4.0%,#d4d4d4 5.0%,#d4d4d4 17.0%,#d1d1d1 18.0%,#b8b8b8 21.0%,#000000 23.0%,#000000 100.0%)"></i><i style="left:324px;width:12.5px;background:linear-gradient(0deg,#000000 4.0%,#d4d4d4 5.0%,#d4d4d4 17.0%,#d1d1d1 18.0%,#bababa 21.0%,#000000 23.0%,#000000 100.0%)"></i><i style="left:336px;width:12.5px;background:linear-gradient(0deg,#000000 4.0%,#d4d4d4 5.0%,#d4d4d4 17.0%,#d2d2d2 18.0%,#bcbcbc 21.0%,#000000 23.0%,#000000 100.0%)"></i><i style="left:348px;width:12.5px;background:linear-gradient(0deg,#000000 4.0%,#d4d4d4 5.0%,#d4d4d4 17.0%,#d4d4d4 18.0%,#bebebe 21.0%,#000000 23.0%,#000000 100.0%)"></i><i style="left:360px;width:12.5px;background:linear-gradient(0deg,#000000 3.0%,#a0a0a0 4.0%,#d3d3d3 5.0%,#d3d3d3 12.0%,#d1d1d1 16.0%,#d1d1d1 18.0%,#000000 23.0%,#000000 100.0%)"></i><i style="left:372px;width:12.5px;background:linear-gradient(0deg,#000000 3.0%,#b1b1b1 4.0%,#d0d0d0 5.0%,#d0d0d0 12.0%,#cacaca 16.0%,#cacaca 18.0%,#000000 23.0%,#000000 100.0%)"></i><i style="left:384px;width:12.5px;background:linear-gradient(0deg,#000000 3.0%,#b7b7b7 4.0%,#cdcdcd 5.0%,#cdcdcd 12.0%,#bcbcbc 16.0%,#bcbcbc 18.0%,#000000 23.0%,#000000 100.0%)"></i><i style="left:396px;width:12.5px;background:linear-gradient(0deg,#000000 3.0%,#bcbcbc 4.0%,#cbcbcb 5.0%,#cbcbcb 12.0%,#a1a1a1 16.0%,#a1a1a1 18.0%,#000000 23.0%,#000000 100.0%)"></i><i style="left:408px;width:12.5px;background:linear-gradient(0deg,#000000 3.0%,#c7c7c7 5.0%,#c7c7c7 10.0%,#c7c7c7 12.0%,#bebebe 13.0%,#000000 16.0%,#000000 100.0%)"></i><i style="left:420px;width:12.5px;background:linear-gradient(0deg,#000000 3.0%,#bfbfbf 5.0%,#bfbfbf 10.0%,#bcbcbc 12.0%,#b7b7b7 13.0%,#000000 16.0%,#000000 100.0%)"></i><i style="left:432px;width:12.5px;background:linear-gradient(0deg,#000000 3.0%,#b8b8b8 5.0%,#b8b8b8 10.0%,#b3b3b3 12.0%,#a9a9a9 13.0%,#000000 16.0%,#000000 100.0%)"></i><i style="left:444px;width:12.5px;background:linear-gradient(0deg,#000000 0.0%,#000000 3.0%,#aaaaaa 5.0%,#aaaaaa 10.0%,#000000 13.0%,#000000 100.0%)"></i></div><div style="position:absolute;left:172.20px;top:37.50px;width:1276.79px;height:411.00px;overflow:hidden;filter:url(#spkG)"><i style="left:0px;width:12.5px;background:linear-gradient(0deg,#000000 3.0%,#cbcbcb 5.0%,#cbcbcb 11.0%,#c3c3c3 12.0%,#9c9c9c 14.0%,#000000 16.0%,#000000 100.0%)"></i><i style="left:12px;width:12.5px;background:linear-gradient(0deg,#000000 3.0%,#cbcbcb 5.0%,#cbcbcb 11.0%,#c5c5c5 12.0%,#a5a5a5 14.0%,#000000 16.0%,#000000 100.0%)"></i><i style="left:24px;width:12.5px;background:linear-gradient(0deg,#000000 3.0%,#cbcbcb 5.0%,#cbcbcb 11.0%,#c6c6c6 12.0%,#aaaaaa 14.0%,#000000 16.0%,#000000 100.0%)"></i><i style="left:36px;width:12.5px;background:linear-gradient(0deg,#000000 3.0%,#cbcbcb 5.0%,#cbcbcb 11.0%,#c7c7c7 12.0%,#afafaf 14.0%,#000000 16.0%,#000000 100.0%)"></i><i style="left:48px;width:12.5px;background:linear-gradient(0deg,#000000 3.0%,#cbcbcb 5.0%,#cbcbcb 11.0%,#c8c8c8 12.0%,#b3b3b3 14.0%,#000000 16.0%,#000000 100.0%)"></i><i style="left:60px;width:12.5px;background:linear-gradient(0deg,#000000 3.0%,#cbcbcb 5.0%,#cbcbcb 11.0%,#c8c8c8 12.0%,#b5b5b5 14.0%,#000000 16.0%,#000000 100.0%)"></i><i style="left:72px;width:12.5px;background:linear-gradient(0deg,#000000 3.0%,#cbcbcb 5.0%,#cbcbcb 11.0%,#c9c9c9 12.0%,#b6b6b6 14.0%,#000000 16.0%,#000000 100.0%)"></i><i style="left:84px;width:12.5px;background:linear-gradient(0deg,#000000 3.0%,#cbcbcb 5.0%,#cbcbcb 11.0%,#c9c9c9 12.0%,#b8b8b8 14.0%,#000000 16.0%,#000000 100.0%)"></i><i style="left:96px;width:12.5px;background:linear-gradient(0deg,#000000 3.0%,#cbcbcb 5.0%,#cbcbcb 11.0%,#cacaca 12.0%,#bababa 14.0%,#000000 16.0%,#000000 100.0%)"></i><i style="left:108px;width:12.5px;background:linear-gradient(0deg,#000000 3.0%,#cbcbcb 5.0%,#cbcbcb 11.0%,#cacaca 12.0%,#bbbbbb 14.0%,#000000 16.0%,#000000 100.0%)"></i><i style="left:120px;width:12.5px;background:linear-gradient(0deg,#000000 3.0%,#cbcbcb 5.0%,#cbcbcb 12.0%,#bdbdbd 14.0%,#999999 16.0%,#000000 18.0%,#000000 100.0%)"></i><i style="left:132px;width:12.5px;background:linear-gradient(0deg,#000000 3.0%,#cbcbcb 5.0%,#cbcbcb 12.0%,#bfbfbf 14.0%,#a4a4a4 16.0%,#000000 18.0%,#000000 100.0%)"></i><i style="left:144px;width:12.5px;background:linear-gradient(0deg,#000000 3.0%,#cbcbcb 5.0%,#cbcbcb 12.0%,#c1c1c1 14.0%,#aaaaaa 16.0%,#000000 18.0%,#000000 100.0%)"></i><i style="left:156px;width:12.5px;background:linear-gradient(0deg,#000000 3.0%,#cbcbcb 5.0%,#cbcbcb 12.0%,#c3c3c3 14.0%,#b0b0b0 16.0%,#000000 18.0%,#000000 100.0%)"></i><i style="left:168px;width:12.5px;background:linear-gradient(0deg,#000000 3.0%,#cbcbcb 5.0%,#cbcbcb 12.0%,#c6c6c6 14.0%,#b4b4b4 16.0%,#000000 18.0%,#000000 100.0%)"></i><i style="left:180px;width:12.5px;background:linear-gradient(0deg,#000000 3.0%,#cbcbcb 5.0%,#cbcbcb 12.0%,#c7c7c7 14.0%,#b6b6b6 16.0%,#000000 18.0%,#000000 100.0%)"></i><i style="left:192px;width:12.5px;background:linear-gradient(0deg,#000000 3.0%,#cbcbcb 5.0%,#cbcbcb 12.0%,#c8c8c8 14.0%,#b8b8b8 16.0%,#000000 18.0%,#000000 100.0%)"></i><i style="left:204px;width:12.5px;background:linear-gradient(0deg,#000000 3.0%,#cbcbcb 5.0%,#cbcbcb 12.0%,#c9c9c9 14.0%,#bababa 16.0%,#000000 18.0%,#000000 100.0%)"></i><i style="left:216px;width:12.5px;background:linear-gradient(0deg,#000000 3.0%,#cbcbcb 5.0%,#cbcbcb 12.0%,#cacaca 14.0%,#bcbcbc 16.0%,#000000 18.0%,#000000 100.0%)"></i><i style="left:228px;width:12.5px;background:linear-gradient(0deg,#000000 3.0%,#bababa 4.0%,#cbcbcb 5.0%,#cbcbcb 14.0%,#bababa 17.0%,#aeaeae 18.0%,#000000 21.0%,#000000 100.0%)"></i><i style="left:240px;width:12.5px;background:linear-gradient(0deg,#000000 3.0%,#b3b3b3 4.0%,#cccccc 5.0%,#cccccc 14.0%,#c7c7c7 17.0%,#bdbdbd 18.0%,#000000 21.0%,#000000 100.0%)"></i><i style="left:252px;width:12.5px;background:linear-gradient(0deg,#000000 3.0%,#000000 4.0%,#cecece 5.0%,#cecece 14.0%,#cecece 17.0%,#c9c9c9 18.0%,#000000 21.0%,#000000 100.0%)"></i><i style="left:264px;width:12.5px;background:linear-gradient(0deg,#000000 4.0%,#cecece 5.0%,#cecece 17.0%,#cacaca 18.0%,#a2a2a2 21.0%,#000000 23.0%,#000000 100.0%)"></i><i style="left:276px;width:12.5px;background:linear-gradient(0deg,#000000 4.0%,#cecece 5.0%,#cecece 17.0%,#cacaca 18.0%,#a9a9a9 21.0%,#000000 23.0%,#000000 100.0%)"></i><i style="left:288px;width:12.5px;background:linear-gradient(0deg,#000000 4.0%,#cecece 5.0%,#cecece 17.0%,#cbcbcb 18.0%,#afafaf 21.0%,#000000 23.0%,#000000 100.0%)"></i><i style="left:300px;width:12.5px;background:linear-gradient(0deg,#000000 4.0%,#cecece 5.0%,#cecece 17.0%,#cbcbcb 18.0%,#b3b3b3 21.0%,#000000 23.0%,#000000 100.0%)"></i><i style="left:312px;width:12.5px;background:linear-gradient(0deg,#000000 4.0%,#cecece 5.0%,#cecece 17.0%,#cccccc 18.0%,#b5b5b5 21.0%,#000000 23.0%,#000000 100.0%)"></i><i style="left:324px;width:12.5px;background:linear-gradient(0deg,#000000 4.0%,#cecece 5.0%,#cecece 17.0%,#cccccc 18.0%,#b7b7b7 21.0%,#000000 23.0%,#000000 100.0%)"></i><i style="left:336px;width:12.5px;background:linear-gradient(0deg,#000000 4.0%,#cecece 5.0%,#cecece 17.0%,#cdcdcd 18.0%,#b9b9b9 21.0%,#000000 23.0%,#000000 100.0%)"></i><i style="left:348px;width:12.5px;background:linear-gradient(0deg,#000000 4.0%,#cecece 5.0%,#cecece 17.0%,#cecece 18.0%,#bbbbbb 21.0%,#000000 23.0%,#000000 100.0%)"></i><i style="left:360px;width:12.5px;background:linear-gradient(0deg,#000000 3.0%,#9e9e9e 4.0%,#cdcdcd 5.0%,#cdcdcd 12.0%,#cccccc 16.0%,#cccccc 18.0%,#000000 23.0%,#000000 100.0%)"></i><i style="left:372px;width:12.5px;background:linear-gradient(0deg,#000000 3.0%,#adadad 4.0%,#cbcbcb 5.0%,#cbcbcb 12.0%,#c6c6c6 16.0%,#c6c6c6 18.0%,#000000 23.0%,#000000 100.0%)"></i><i style="left:384px;width:12.5px;background:linear-gradient(0deg,#000000 3.0%,#b5b5b5 4.0%,#c9c9c9 5.0%,#c9c9c9 12.0%,#b9b9b9 16.0%,#b9b9b9 18.0%,#000000 23.0%,#000000 100.0%)"></i><i style="left:396px;width:12.5px;background:linear-gradient(0deg,#000000 3.0%,#b9b9b9 4.0%,#c8c8c8 5.0%,#c8c8c8 12.0%,#9f9f9f 16.0%,#9f9f9f 18.0%,#000000 23.0%,#000000 100.0%)"></i><i style="left:408px;width:12.5px;background:linear-gradient(0deg,#000000 3.0%,#c2c2c2 5.0%,#c2c2c2 10.0%,#c0c0c0 12.0%,#bbbbbb 13.0%,#000000 16.0%,#000000 100.0%)"></i><i style="left:420px;width:12.5px;background:linear-gradient(0deg,#000000 3.0%,#bcbcbc 5.0%,#bcbcbc 10.0%,#b9b9b9 12.0%,#b5b5b5 13.0%,#000000 16.0%,#000000 100.0%)"></i><i style="left:432px;width:12.5px;background:linear-gradient(0deg,#000000 3.0%,#b6b6b6 5.0%,#b6b6b6 10.0%,#b0b0b0 12.0%,#a7a7a7 13.0%,#000000 16.0%,#000000 100.0%)"></i><i style="left:444px;width:12.5px;background:linear-gradient(0deg,#000000 0.0%,#000000 3.0%,#a8a8a8 5.0%,#a8a8a8 10.0%,#000000 13.0%,#000000 100.0%)"></i></div><b style="left:172.2px;top:433.7px;width:124.4px;height:14.8px;background:#30ffcf"></b><b style="left:296.6px;top:433.7px;width:4.1px;height:14.8px;background:#40ffbf"></b><b style="left:300.7px;top:433.7px;width:6.2px;height:14.8px;background:#20ffdf"></b><b style="left:307.0px;top:433.7px;width:4.1px;height:14.8px;background:#40ffbf"></b><b style="left:311.1px;top:433.7px;width:2.7px;height:14.8px;background:#40ffbf"></b><b style="left:313.8px;top:433.7px;width:4.2px;height:14.8px;background:#40ffbf"></b><b style="left:318.0px;top:433.7px;width:5.9px;height:14.8px;background:#00bfff"></b><b style="left:323.9px;top:433.7px;width:4.1px;height:14.8px;background:#30ffcf"></b><b style="left:328.0px;top:433.7px;width:2.2px;height:14.8px;background:#00cfff"></b><b style="left:330.2px;top:433.7px;width:5.1px;height:14.8px;background:#40ffbf"></b><b style="left:335.3px;top:433.7px;width:6.9px;height:14.8px;background:#20ffdf"></b><b style="left:342.2px;top:433.7px;width:5.2px;height:14.8px;background:#40ffbf"></b><b style="left:347.3px;top:433.7px;width:5.1px;height:14.8px;background:#40ffbf"></b><b style="left:352.5px;top:433.7px;width:1.8px;height:14.8px;background:#40ffbf"></b><b style="left:354.3px;top:433.7px;width:2.1px;height:14.8px;background:#00bfff"></b><b style="left:356.4px;top:433.7px;width:2.7px;height:14.8px;background:#30ffcf"></b><b style="left:359.1px;top:433.7px;width:4.9px;height:14.8px;background:#20ffdf"></b><b style="left:364.0px;top:433.7px;width:3.4px;height:14.8px;background:#40ffbf"></b><b style="left:367.4px;top:433.7px;width:6.1px;height:14.8px;background:#40ffbf"></b><b style="left:373.6px;top:433.7px;width:3.0px;height:14.8px;background:#30ffcf"></b><b style="left:376.5px;top:433.7px;width:4.4px;height:14.8px;background:#00cfff"></b><b style="left:380.9px;top:433.7px;width:2.2px;height:14.8px;background:#00cfff"></b><b style="left:383.1px;top:433.7px;width:3.2px;height:14.8px;background:#40ffbf"></b><b style="left:386.3px;top:433.7px;width:7.0px;height:14.8px;background:#00bfff"></b><b style="left:393.2px;top:433.7px;width:5.4px;height:14.8px;background:#30ffcf"></b><b style="left:398.7px;top:433.7px;width:5.7px;height:14.8px;background:#40ffbf"></b><b style="left:404.4px;top:433.7px;width:3.3px;height:14.8px;background:#00bfff"></b><b style="left:407.6px;top:433.7px;width:4.7px;height:14.8px;background:#00bfff"></b><b style="left:412.3px;top:433.7px;width:3.8px;height:14.8px;background:#30ffcf"></b><b style="left:416.2px;top:433.7px;width:3.8px;height:14.8px;background:#00bfff"></b><b style="left:419.9px;top:433.7px;width:6.2px;height:14.8px;background:#00bfff"></b><b style="left:426.1px;top:433.7px;width:1.8px;height:14.8px;background:#00bfff"></b><b style="left:308.2px;top:433.7px;width:2.8px;height:2.5px;background:#ffa000"></b><b style="left:314.7px;top:433.7px;width:3.1px;height:2.5px;background:#ffd000"></b><b style="left:324.6px;top:433.7px;width:2.1px;height:2.5px;background:#f0ff10"></b><b style="left:329.4px;top:433.7px;width:1.2px;height:2.5px;background:#ffa000"></b><b style="left:337.3px;top:433.7px;width:1.6px;height:2.5px;background:#ffd000"></b><b style="left:345.0px;top:433.7px;width:1.2px;height:2.5px;background:#ffa000"></b><b style="left:353.1px;top:433.7px;width:1.8px;height:2.5px;background:#ffd000"></b><b style="left:358.8px;top:433.7px;width:1.8px;height:2.5px;background:#ffd000"></b><b style="left:364.3px;top:433.7px;width:2.5px;height:2.5px;background:#ffa000"></b><b style="left:370.5px;top:433.7px;width:1.9px;height:2.5px;background:#c0ff40"></b><b style="left:379.9px;top:433.7px;width:4.6px;height:2.5px;background:#c0ff40"></b><b style="left:393.2px;top:433.7px;width:1.2px;height:2.5px;background:#ffd000"></b><b style="left:397.8px;top:433.7px;width:4.1px;height:2.5px;background:#f0ff10"></b><b style="left:402.4px;top:433.7px;width:1.7px;height:2.5px;background:#ffa000"></b><b style="left:406.3px;top:433.7px;width:3.9px;height:2.5px;background:#c0ff40"></b><b style="left:417.4px;top:433.7px;width:2.5px;height:2.5px;background:#f0ff10"></b><b style="left:420.7px;top:433.7px;width:3.2px;height:2.5px;background:#ffd000"></b><b style="left:424.0px;top:433.7px;width:2.4px;height:2.5px;background:#ffa000"></b><b style="left:427.5px;top:433.7px;width:0.4px;height:2.5px;background:#ffd000"></b><b style="left:428.0px;top:433.7px;width:108.7px;height:14.8px;background:#800000"></b><b style="left:428.0px;top:430.0px;width:1.8px;height:3.7px;background:#ff6000"></b><b style="left:429.8px;top:430.0px;width:2.2px;height:3.7px;background:#ff6000"></b><b style="left:432.0px;top:430.0px;width:4.0px;height:3.7px;background:#ff6000"></b><b style="left:436.0px;top:430.0px;width:3.7px;height:3.7px;background:#ff6000"></b><b style="left:439.7px;top:430.0px;width:3.7px;height:3.7px;background:#ff9000"></b><b style="left:443.4px;top:430.0px;width:1.8px;height:3.7px;background:#800000"></b><b style="left:445.3px;top:430.0px;width:4.2px;height:3.7px;background:#ff9000"></b><b style="left:449.5px;top:430.0px;width:1.4px;height:3.7px;background:#ff2000"></b><b style="left:451.0px;top:430.0px;width:1.5px;height:3.7px;background:#ff2000"></b><b style="left:452.5px;top:430.0px;width:2.9px;height:3.7px;background:#c00000"></b><b style="left:455.4px;top:430.0px;width:2.0px;height:3.7px;background:#800000"></b><b style="left:457.4px;top:430.0px;width:2.1px;height:3.7px;background:#ff9000"></b><b style="left:459.5px;top:430.0px;width:2.9px;height:3.7px;background:#ff9000"></b><b style="left:462.4px;top:430.0px;width:1.8px;height:3.7px;background:#ff2000"></b><b style="left:464.1px;top:430.0px;width:1.6px;height:3.7px;background:#800000"></b><b style="left:465.7px;top:430.0px;width:3.1px;height:3.7px;background:#ff9000"></b><b style="left:468.9px;top:430.0px;width:3.3px;height:3.7px;background:#c00000"></b><b style="left:472.2px;top:430.0px;width:1.9px;height:3.7px;background:#ff6000"></b><b style="left:474.1px;top:430.0px;width:3.8px;height:3.7px;background:#ff2000"></b><b style="left:477.8px;top:430.0px;width:2.1px;height:3.7px;background:#800000"></b><b style="left:479.9px;top:430.0px;width:2.0px;height:3.7px;background:#ff2000"></b><b style="left:482.0px;top:430.0px;width:1.8px;height:3.7px;background:#c00000"></b><b style="left:483.7px;top:430.0px;width:3.0px;height:3.7px;background:#ff6000"></b><b style="left:486.8px;top:430.0px;width:1.5px;height:3.7px;background:#ff6000"></b><b style="left:488.2px;top:430.0px;width:4.3px;height:3.7px;background:#c00000"></b><b style="left:492.5px;top:430.0px;width:3.5px;height:3.7px;background:#ff9000"></b><b style="left:496.0px;top:430.0px;width:3.2px;height:3.7px;background:#ff6000"></b><b style="left:499.2px;top:430.0px;width:3.2px;height:3.7px;background:#ff2000"></b><b style="left:502.4px;top:430.0px;width:2.8px;height:3.7px;background:#c00000"></b><b style="left:505.2px;top:430.0px;width:3.6px;height:3.7px;background:#ff2000"></b><b style="left:508.8px;top:430.0px;width:1.2px;height:3.7px;background:#ff2000"></b><b style="left:510.0px;top:430.0px;width:2.8px;height:3.7px;background:#c00000"></b><b style="left:512.9px;top:430.0px;width:2.3px;height:3.7px;background:#ff2000"></b><b style="left:515.2px;top:430.0px;width:1.4px;height:3.7px;background:#ff9000"></b><b style="left:516.6px;top:430.0px;width:2.4px;height:3.7px;background:#ff2000"></b><b style="left:519.0px;top:430.0px;width:4.3px;height:3.7px;background:#ff6000"></b><b style="left:523.3px;top:430.0px;width:3.9px;height:3.7px;background:#c00000"></b><b style="left:527.3px;top:430.0px;width:2.4px;height:3.7px;background:#800000"></b><b style="left:529.6px;top:430.0px;width:4.3px;height:3.7px;background:#800000"></b><b style="left:533.9px;top:430.0px;width:2.7px;height:3.7px;background:#ff2000"></b><b style="left:536.6px;top:433.7px;width:5.2px;height:14.8px;background:#00cfff"></b><b style="left:541.9px;top:441.8px;width:19.2px;height:6.7px;background:#800000"></b><b style="left:541.9px;top:433.7px;width:19.2px;height:8.1px;background:#e04000"></b><b style="left:561.0px;top:433.7px;width:6.4px;height:14.8px;background:#60ff9f"></b><b style="left:567.4px;top:430.0px;width:1.7px;height:18.5px;background:#d02000"></b><b style="left:569.2px;top:433.7px;width:18.0px;height:14.8px;background:#00bfff"></b><b style="left:587.2px;top:433.7px;width:8.7px;height:14.8px;background:#10ffef"></b><b style="left:495.9px;top:384.4px;width:1.7px;height:16.4px;background:#a00000"></b><b style="left:497.7px;top:386.9px;width:2.3px;height:14.0px;background:#ffa000"></b><b style="left:542.4px;top:361.0px;width:4.1px;height:18.5px;background:#ff5000"></b><b style="left:543.3px;top:366.3px;width:1.7px;height:10.3px;background:#c00000"></b><b style="left:538.9px;top:400.8px;width:1.7px;height:16.4px;background:#ffc000"></b><div style="position:absolute;left:172.20px;top:37.50px;width:1276.79px;height:411.00px;overflow:hidden;filter:url(#spkC)"><i style="left:120px;width:6.5px;background:linear-gradient(0deg,#000000 0.0%,#000000 60.0%,#ababab 75.0%,#b1b1b1 100.0%)"></i><i style="left:126px;width:6.5px;background:linear-gradient(0deg,#000000 0.0%,#000000 60.0%,#b6b6b6 75.0%,#bbbbbb 100.0%)"></i><i style="left:132px;width:6.5px;background:linear-gradient(0deg,#000000 0.0%,#000000 60.0%,#bcbcbc 75.0%,#c4c4c4 100.0%)"></i><i style="left:138px;width:6.5px;background:linear-gradient(0deg,#000000 60.0%,#bdbdbd 75.0%,#c6c6c6 100.0%)"></i><i style="left:144px;width:6.5px;background:linear-gradient(0deg,#000000 60.0%,#bdbdbd 75.0%,#c6c6c6 100.0%)"></i><i style="left:150px;width:6.5px;background:linear-gradient(0deg,#000000 60.0%,#bdbdbd 75.0%,#c6c6c6 100.0%)"></i><i style="left:156px;width:6.5px;background:linear-gradient(0deg,#000000 60.0%,#bdbdbd 75.0%,#c6c6c6 100.0%)"></i><i style="left:162px;width:6.5px;background:linear-gradient(0deg,#000000 60.0%,#bdbdbd 75.0%,#c6c6c6 100.0%)"></i><i style="left:168px;width:6.5px;background:linear-gradient(0deg,#000000 60.0%,#bdbdbd 75.0%,#c6c6c6 100.0%)"></i><i style="left:174px;width:6.5px;background:linear-gradient(0deg,#000000 60.0%,#bdbdbd 75.0%,#c6c6c6 100.0%)"></i><i style="left:180px;width:6.5px;background:linear-gradient(0deg,#000000 60.0%,#bdbdbd 75.0%,#c6c6c6 100.0%)"></i><i style="left:186px;width:6.5px;background:linear-gradient(0deg,#000000 60.0%,#bdbdbd 75.0%,#c6c6c6 100.0%)"></i><i style="left:192px;width:6.5px;background:linear-gradient(0deg,#000000 60.0%,#bdbdbd 75.0%,#c6c6c6 100.0%)"></i><i style="left:198px;width:6.5px;background:linear-gradient(0deg,#000000 60.0%,#bdbdbd 75.0%,#c6c6c6 100.0%)"></i><i style="left:204px;width:6.5px;background:linear-gradient(0deg,#000000 60.0%,#bdbdbd 75.0%,#c6c6c6 100.0%)"></i><i style="left:210px;width:6.5px;background:linear-gradient(0deg,#000000 60.0%,#bdbdbd 75.0%,#c6c6c6 100.0%)"></i><i style="left:216px;width:6.5px;background:linear-gradient(0deg,#000000 60.0%,#bdbdbd 75.0%,#c6c6c6 100.0%)"></i><i style="left:222px;width:6.5px;background:linear-gradient(0deg,#000000 60.0%,#bdbdbd 75.0%,#c6c6c6 100.0%)"></i><i style="left:228px;width:6.5px;background:linear-gradient(0deg,#000000 60.0%,#bdbdbd 75.0%,#c6c6c6 100.0%)"></i><i style="left:234px;width:6.5px;background:linear-gradient(0deg,#000000 60.0%,#bdbdbd 75.0%,#c6c6c6 100.0%)"></i><i style="left:240px;width:6.5px;background:linear-gradient(0deg,#000000 60.0%,#bdbdbd 75.0%,#c6c6c6 100.0%)"></i><i style="left:246px;width:6.5px;background:linear-gradient(0deg,#000000 40.0%,#a2a2a2 50.0%,#a3a3a3 60.0%,#bdbdbd 75.0%,#c6c6c6 100.0%)"></i><i style="left:252px;width:6.5px;background:linear-gradient(0deg,#000000 40.0%,#b0b0b0 50.0%,#b2b2b2 60.0%,#bebebe 75.0%,#c6c6c6 100.0%)"></i><i style="left:258px;width:6.5px;background:linear-gradient(0deg,#000000 40.0%,#b6b6b6 50.0%,#b8b8b8 60.0%,#bfbfbf 75.0%,#c6c6c6 100.0%)"></i><i style="left:264px;width:6.5px;background:linear-gradient(0deg,#000000 40.0%,#bbbbbb 50.0%,#bcbcbc 60.0%,#c0c0c0 75.0%,#c6c6c6 100.0%)"></i><i style="left:270px;width:6.5px;background:linear-gradient(0deg,#000000 40.0%,#bdbdbd 50.0%,#c6c6c6 100.0%)"></i><i style="left:276px;width:6.5px;background:linear-gradient(0deg,#000000 40.0%,#bdbdbd 50.0%,#c6c6c6 100.0%)"></i><i style="left:282px;width:6.5px;background:linear-gradient(0deg,#000000 40.0%,#bdbdbd 50.0%,#c6c6c6 100.0%)"></i><i style="left:288px;width:6.5px;background:linear-gradient(0deg,#000000 40.0%,#bdbdbd 50.0%,#c6c6c6 100.0%)"></i><i style="left:294px;width:6.5px;background:linear-gradient(0deg,#000000 40.0%,#bdbdbd 50.0%,#c6c6c6 100.0%)"></i><i style="left:300px;width:6.5px;background:linear-gradient(0deg,#000000 40.0%,#bdbdbd 50.0%,#c6c6c6 100.0%)"></i><i style="left:306px;width:6.5px;background:linear-gradient(0deg,#000000 40.0%,#bdbdbd 50.0%,#c6c6c6 100.0%)"></i><i style="left:312px;width:6.5px;background:linear-gradient(0deg,#000000 40.0%,#bdbdbd 50.0%,#c6c6c6 100.0%)"></i><i style="left:318px;width:6.5px;background:linear-gradient(0deg,#000000 40.0%,#bdbdbd 50.0%,#c6c6c6 100.0%)"></i><i style="left:324px;width:6.5px;background:linear-gradient(0deg,#000000 40.0%,#bdbdbd 50.0%,#c6c6c6 100.0%)"></i><i style="left:330px;width:6.5px;background:linear-gradient(0deg,#000000 40.0%,#bdbdbd 50.0%,#c6c6c6 100.0%)"></i><i style="left:336px;width:6.5px;background:linear-gradient(0deg,#000000 40.0%,#bdbdbd 50.0%,#c6c6c6 100.0%)"></i><i style="left:342px;width:6.5px;background:linear-gradient(0deg,#000000 40.0%,#bdbdbd 50.0%,#c6c6c6 100.0%)"></i><i style="left:348px;width:6.5px;background:linear-gradient(0deg,#000000 40.0%,#bdbdbd 50.0%,#c6c6c6 100.0%)"></i><i style="left:354px;width:6.5px;background:linear-gradient(0deg,#000000 30.0%,#a8a8a8 40.0%,#bfbfbf 50.0%,#c8c8c8 100.0%)"></i><i style="left:360px;width:6.5px;background:linear-gradient(0deg,#000000 30.0%,#b1b1b1 40.0%,#c1c1c1 50.0%,#c9c9c9 100.0%)"></i><i style="left:366px;width:6.5px;background:linear-gradient(0deg,#000000 30.0%,#b6b6b6 40.0%,#c4c4c4 50.0%,#cacaca 100.0%)"></i><i style="left:372px;width:6.5px;background:linear-gradient(0deg,#000000 30.0%,#c6c6c6 50.0%,#cacaca 100.0%)"></i><i style="left:378px;width:6.5px;background:linear-gradient(0deg,#000000 30.0%,#c3c3c3 50.0%,#c8c8c8 100.0%)"></i><i style="left:384px;width:6.5px;background:linear-gradient(0deg,#000000 30.0%,#c1c1c1 50.0%,#c5c5c5 100.0%)"></i><i style="left:390px;width:6.5px;background:linear-gradient(0deg,#000000 30.0%,#bebebe 50.0%,#c0c0c0 100.0%)"></i><i style="left:396px;width:6.5px;background:linear-gradient(0deg,#000000 30.0%,#bdbdbd 50.0%,#bdbdbd 100.0%)"></i><i style="left:402px;width:6.5px;background:linear-gradient(0deg,#000000 30.0%,#bdbdbd 50.0%,#bdbdbd 100.0%)"></i><i style="left:408px;width:6.5px;background:linear-gradient(0deg,#000000 30.0%,#bdbdbd 50.0%,#bdbdbd 100.0%)"></i><i style="left:414px;width:6.5px;background:linear-gradient(0deg,#000000 30.0%,#bdbdbd 50.0%,#bdbdbd 100.0%)"></i><i style="left:420px;width:6.5px;background:linear-gradient(0deg,#000000 30.0%,#bdbdbd 50.0%,#bdbdbd 100.0%)"></i><i style="left:426px;width:6.5px;background:linear-gradient(0deg,#000000 30.0%,#bdbdbd 50.0%,#bdbdbd 100.0%)"></i><i style="left:432px;width:6.5px;background:linear-gradient(0deg,#000000 30.0%,#bdbdbd 50.0%,#bdbdbd 100.0%)"></i><i style="left:438px;width:6.5px;background:linear-gradient(0deg,#000000 30.0%,#bdbdbd 50.0%,#bdbdbd 100.0%)"></i><i style="left:444px;width:6.5px;background:linear-gradient(0deg,#000000 30.0%,#bdbdbd 50.0%,#bdbdbd 100.0%)"></i><i style="left:450px;width:6.5px;background:linear-gradient(0deg,#000000 30.0%,#bdbdbd 50.0%,#bdbdbd 100.0%)"></i><i style="left:456px;width:6.5px;background:linear-gradient(0deg,#000000 30.0%,#bdbdbd 50.0%,#bdbdbd 100.0%)"></i><i style="left:462px;width:6.5px;background:linear-gradient(0deg,#000000 30.0%,#bdbdbd 50.0%,#bdbdbd 100.0%)"></i><i style="left:468px;width:6.5px;background:linear-gradient(0deg,#000000 30.0%,#bdbdbd 50.0%,#bdbdbd 100.0%)"></i><i style="left:474px;width:6.5px;background:linear-gradient(0deg,#000000 30.0%,#bdbdbd 50.0%,#bdbdbd 100.0%)"></i><i style="left:480px;width:6.5px;background:linear-gradient(0deg,#000000 30.0%,#bdbdbd 50.0%,#bdbdbd 100.0%)"></i><i style="left:486px;width:6.5px;background:linear-gradient(0deg,#000000 0.0%,#000000 30.0%,#b7b7b7 50.0%,#b7b7b7 100.0%)"></i><i style="left:492px;width:6.5px;background:linear-gradient(0deg,#000000 0.0%,#000000 30.0%,#a3a3a3 50.0%,#a3a3a3 100.0%)"></i><i style="left:750px;width:6.5px;background:linear-gradient(0deg,#000000 0.0%,#000000 40.0%,#9d9d9d 55.0%,#9e9e9e 100.0%)"></i><i style="left:756px;width:6.5px;background:linear-gradient(0deg,#000000 0.0%,#000000 40.0%,#b0b0b0 55.0%,#b3b3b3 100.0%)"></i><i style="left:762px;width:6.5px;background:linear-gradient(0deg,#000000 0.0%,#000000 40.0%,#b7b7b7 55.0%,#bababa 100.0%)"></i><i style="left:768px;width:6.5px;background:linear-gradient(0deg,#000000 0.0%,#000000 40.0%,#bcbcbc 55.0%,#c1c1c1 100.0%)"></i><i style="left:774px;width:6.5px;background:linear-gradient(0deg,#000000 40.0%,#c0c0c0 55.0%,#c6c6c6 100.0%)"></i><i style="left:780px;width:6.5px;background:linear-gradient(0deg,#000000 40.0%,#c0c0c0 55.0%,#c6c6c6 100.0%)"></i><i style="left:786px;width:6.5px;background:linear-gradient(0deg,#000000 40.0%,#c0c0c0 55.0%,#c6c6c6 100.0%)"></i><i style="left:792px;width:6.5px;background:linear-gradient(0deg,#000000 40.0%,#c0c0c0 55.0%,#c6c6c6 100.0%)"></i><i style="left:798px;width:6.5px;background:linear-gradient(0deg,#000000 40.0%,#c0c0c0 55.0%,#c6c6c6 100.0%)"></i><i style="left:804px;width:6.5px;background:linear-gradient(0deg,#000000 40.0%,#c0c0c0 55.0%,#c6c6c6 100.0%)"></i><i style="left:810px;width:6.5px;background:linear-gradient(0deg,#000000 40.0%,#c0c0c0 55.0%,#c6c6c6 100.0%)"></i><i style="left:816px;width:6.5px;background:linear-gradient(0deg,#000000 40.0%,#c0c0c0 55.0%,#c6c6c6 100.0%)"></i><i style="left:822px;width:6.5px;background:linear-gradient(0deg,#000000 40.0%,#c0c0c0 55.0%,#c6c6c6 100.0%)"></i><i style="left:828px;width:6.5px;background:linear-gradient(0deg,#000000 40.0%,#c0c0c0 55.0%,#c6c6c6 100.0%)"></i><i style="left:834px;width:6.5px;background:linear-gradient(0deg,#000000 40.0%,#c0c0c0 55.0%,#c6c6c6 100.0%)"></i><i style="left:840px;width:6.5px;background:linear-gradient(0deg,#000000 40.0%,#c0c0c0 55.0%,#c6c6c6 100.0%)"></i><i style="left:846px;width:6.5px;background:linear-gradient(0deg,#000000 40.0%,#c0c0c0 55.0%,#c6c6c6 100.0%)"></i><i style="left:852px;width:6.5px;background:linear-gradient(0deg,#000000 40.0%,#c0c0c0 55.0%,#c6c6c6 100.0%)"></i><i style="left:858px;width:6.5px;background:linear-gradient(0deg,#000000 40.0%,#c0c0c0 55.0%,#c6c6c6 100.0%)"></i><i style="left:864px;width:6.5px;background:linear-gradient(0deg,#000000 40.0%,#c0c0c0 55.0%,#c6c6c6 100.0%)"></i><i style="left:870px;width:6.5px;background:linear-gradient(0deg,#000000 40.0%,#c0c0c0 55.0%,#c6c6c6 100.0%)"></i><i style="left:876px;width:6.5px;background:linear-gradient(0deg,#000000 40.0%,#c0c0c0 55.0%,#c6c6c6 100.0%)"></i><i style="left:882px;width:6.5px;background:linear-gradient(0deg,#000000 40.0%,#c0c0c0 55.0%,#c6c6c6 100.0%)"></i><i style="left:888px;width:6.5px;background:linear-gradient(0deg,#000000 40.0%,#c0c0c0 55.0%,#c6c6c6 100.0%)"></i><i style="left:894px;width:6.5px;background:linear-gradient(0deg,#000000 40.0%,#c0c0c0 55.0%,#c6c6c6 100.0%)"></i><i style="left:900px;width:6.5px;background:linear-gradient(0deg,#000000 40.0%,#c0c0c0 55.0%,#c6c6c6 100.0%)"></i><i style="left:906px;width:6.5px;background:linear-gradient(0deg,#000000 40.0%,#c0c0c0 55.0%,#c6c6c6 100.0%)"></i><i style="left:912px;width:6.5px;background:linear-gradient(0deg,#000000 40.0%,#c0c0c0 55.0%,#c6c6c6 100.0%)"></i><i style="left:918px;width:6.5px;background:linear-gradient(0deg,#000000 40.0%,#c0c0c0 55.0%,#c6c6c6 100.0%)"></i><i style="left:924px;width:6.5px;background:linear-gradient(0deg,#000000 40.0%,#c0c0c0 55.0%,#c6c6c6 100.0%)"></i><i style="left:930px;width:6.5px;background:linear-gradient(0deg,#000000 40.0%,#c0c0c0 55.0%,#c6c6c6 100.0%)"></i><i style="left:936px;width:6.5px;background:linear-gradient(0deg,#000000 40.0%,#c0c0c0 55.0%,#c6c6c6 100.0%)"></i><i style="left:942px;width:6.5px;background:linear-gradient(0deg,#000000 40.0%,#c0c0c0 55.0%,#c6c6c6 100.0%)"></i><i style="left:948px;width:6.5px;background:linear-gradient(0deg,#000000 40.0%,#c0c0c0 55.0%,#c6c6c6 100.0%)"></i><i style="left:954px;width:6.5px;background:linear-gradient(0deg,#000000 40.0%,#c0c0c0 55.0%,#c6c6c6 100.0%)"></i><i style="left:960px;width:6.5px;background:linear-gradient(0deg,#000000 40.0%,#c0c0c0 55.0%,#c6c6c6 100.0%)"></i><i style="left:966px;width:6.5px;background:linear-gradient(0deg,#000000 40.0%,#c0c0c0 55.0%,#c6c6c6 100.0%)"></i><i style="left:972px;width:6.5px;background:linear-gradient(0deg,#000000 40.0%,#c0c0c0 55.0%,#c6c6c6 100.0%)"></i><i style="left:978px;width:6.5px;background:linear-gradient(0deg,#000000 40.0%,#c0c0c0 55.0%,#c6c6c6 100.0%)"></i><i style="left:984px;width:6.5px;background:linear-gradient(0deg,#000000 40.0%,#c0c0c0 55.0%,#c6c6c6 100.0%)"></i><i style="left:990px;width:6.5px;background:linear-gradient(0deg,#000000 40.0%,#c0c0c0 55.0%,#c6c6c6 100.0%)"></i><i style="left:996px;width:6.5px;background:linear-gradient(0deg,#000000 40.0%,#c0c0c0 55.0%,#c6c6c6 100.0%)"></i><i style="left:1002px;width:6.5px;background:linear-gradient(0deg,#000000 40.0%,#c0c0c0 55.0%,#c6c6c6 100.0%)"></i><i style="left:1008px;width:6.5px;background:linear-gradient(0deg,#000000 40.0%,#c0c0c0 55.0%,#c6c6c6 100.0%)"></i><i style="left:1014px;width:6.5px;background:linear-gradient(0deg,#000000 40.0%,#c0c0c0 55.0%,#c6c6c6 100.0%)"></i><i style="left:1020px;width:6.5px;background:linear-gradient(0deg,#000000 40.0%,#c0c0c0 55.0%,#c6c6c6 100.0%)"></i><i style="left:1026px;width:6.5px;background:linear-gradient(0deg,#000000 40.0%,#c0c0c0 55.0%,#c6c6c6 100.0%)"></i><i style="left:1032px;width:6.5px;background:linear-gradient(0deg,#000000 40.0%,#c0c0c0 55.0%,#c6c6c6 100.0%)"></i><i style="left:1038px;width:6.5px;background:linear-gradient(0deg,#000000 40.0%,#c0c0c0 55.0%,#c6c6c6 100.0%)"></i><i style="left:1044px;width:6.5px;background:linear-gradient(0deg,#000000 40.0%,#c0c0c0 55.0%,#c6c6c6 100.0%)"></i><i style="left:1050px;width:6.5px;background:linear-gradient(0deg,#000000 40.0%,#c0c0c0 55.0%,#c6c6c6 100.0%)"></i><i style="left:1056px;width:6.5px;background:linear-gradient(0deg,#000000 40.0%,#c0c0c0 55.0%,#c6c6c6 100.0%)"></i><i style="left:1062px;width:6.5px;background:linear-gradient(0deg,#000000 40.0%,#c0c0c0 55.0%,#c6c6c6 100.0%)"></i><i style="left:1068px;width:6.5px;background:linear-gradient(0deg,#000000 40.0%,#c0c0c0 55.0%,#c6c6c6 100.0%)"></i><i style="left:1074px;width:6.5px;background:linear-gradient(0deg,#000000 40.0%,#c0c0c0 55.0%,#c6c6c6 100.0%)"></i><i style="left:1080px;width:6.5px;background:linear-gradient(0deg,#000000 40.0%,#c0c0c0 55.0%,#c6c6c6 100.0%)"></i><i style="left:1086px;width:6.5px;background:linear-gradient(0deg,#000000 40.0%,#c0c0c0 55.0%,#c6c6c6 100.0%)"></i><i style="left:1092px;width:6.5px;background:linear-gradient(0deg,#000000 40.0%,#c0c0c0 55.0%,#c6c6c6 100.0%)"></i><i style="left:1098px;width:6.5px;background:linear-gradient(0deg,#000000 40.0%,#c0c0c0 55.0%,#c6c6c6 100.0%)"></i><i style="left:1104px;width:6.5px;background:linear-gradient(0deg,#000000 40.0%,#c0c0c0 55.0%,#c6c6c6 100.0%)"></i><i style="left:1110px;width:6.5px;background:linear-gradient(0deg,#000000 40.0%,#c0c0c0 55.0%,#c6c6c6 100.0%)"></i><i style="left:1116px;width:6.5px;background:linear-gradient(0deg,#000000 40.0%,#c0c0c0 55.0%,#c6c6c6 100.0%)"></i><i style="left:1122px;width:6.5px;background:linear-gradient(0deg,#000000 40.0%,#c0c0c0 55.0%,#c6c6c6 100.0%)"></i><i style="left:1128px;width:6.5px;background:linear-gradient(0deg,#000000 40.0%,#c0c0c0 55.0%,#c6c6c6 100.0%)"></i><i style="left:1134px;width:6.5px;background:linear-gradient(0deg,#000000 40.0%,#c0c0c0 55.0%,#c6c6c6 100.0%)"></i><i style="left:1140px;width:6.5px;background:linear-gradient(0deg,#000000 40.0%,#c0c0c0 55.0%,#c6c6c6 100.0%)"></i><i style="left:1146px;width:6.5px;background:linear-gradient(0deg,#000000 40.0%,#c0c0c0 55.0%,#c6c6c6 100.0%)"></i><i style="left:1152px;width:6.5px;background:linear-gradient(0deg,#000000 40.0%,#c0c0c0 55.0%,#c6c6c6 100.0%)"></i><i style="left:1158px;width:6.5px;background:linear-gradient(0deg,#000000 40.0%,#c0c0c0 55.0%,#c6c6c6 100.0%)"></i><i style="left:1164px;width:6.5px;background:linear-gradient(0deg,#000000 40.0%,#c0c0c0 55.0%,#c6c6c6 100.0%)"></i><i style="left:1170px;width:6.5px;background:linear-gradient(0deg,#000000 40.0%,#c0c0c0 55.0%,#c6c6c6 100.0%)"></i><i style="left:1176px;width:6.5px;background:linear-gradient(0deg,#000000 40.0%,#c0c0c0 55.0%,#c6c6c6 100.0%)"></i><i style="left:1182px;width:6.5px;background:linear-gradient(0deg,#000000 40.0%,#c0c0c0 55.0%,#c6c6c6 100.0%)"></i><i style="left:1188px;width:6.5px;background:linear-gradient(0deg,#000000 40.0%,#c0c0c0 55.0%,#c6c6c6 100.0%)"></i><i style="left:1194px;width:6.5px;background:linear-gradient(0deg,#000000 40.0%,#c0c0c0 55.0%,#c6c6c6 100.0%)"></i><i style="left:1200px;width:6.5px;background:linear-gradient(0deg,#000000 40.0%,#c0c0c0 55.0%,#c6c6c6 100.0%)"></i><i style="left:1206px;width:6.5px;background:linear-gradient(0deg,#000000 40.0%,#c0c0c0 55.0%,#c6c6c6 100.0%)"></i><i style="left:1212px;width:6.5px;background:linear-gradient(0deg,#000000 40.0%,#c0c0c0 55.0%,#c6c6c6 100.0%)"></i><i style="left:1218px;width:6.5px;background:linear-gradient(0deg,#000000 40.0%,#c0c0c0 55.0%,#c6c6c6 100.0%)"></i><i style="left:1224px;width:6.5px;background:linear-gradient(0deg,#000000 40.0%,#c0c0c0 55.0%,#c6c6c6 100.0%)"></i><i style="left:1230px;width:6.5px;background:linear-gradient(0deg,#000000 40.0%,#c0c0c0 55.0%,#c6c6c6 100.0%)"></i><i style="left:1236px;width:6.5px;background:linear-gradient(0deg,#000000 40.0%,#c0c0c0 55.0%,#c6c6c6 100.0%)"></i><i style="left:1242px;width:6.5px;background:linear-gradient(0deg,#000000 40.0%,#c0c0c0 55.0%,#c6c6c6 100.0%)"></i><i style="left:1248px;width:6.5px;background:linear-gradient(0deg,#000000 40.0%,#c0c0c0 55.0%,#c6c6c6 100.0%)"></i><i style="left:1254px;width:6.5px;background:linear-gradient(0deg,#000000 40.0%,#c0c0c0 55.0%,#c6c6c6 100.0%)"></i><i style="left:1260px;width:6.5px;background:linear-gradient(0deg,#000000 40.0%,#c0c0c0 55.0%,#c6c6c6 100.0%)"></i><i style="left:1266px;width:6.5px;background:linear-gradient(0deg,#000000 0.0%,#000000 40.0%,#9d9d9d 55.0%,#9e9e9e 100.0%)"></i></div><div style="position:absolute;left:172.20px;top:37.50px;width:1276.79px;height:411.00px;overflow:hidden;filter:url(#spkRL)"><i style="left:0px;width:6.5px;background:linear-gradient(0deg,#000000 50.0%,#b3b3b3 55.0%,#b6b6b6 56.0%,#c6c6c6 62.0%,#c6c6c6 64.0%,#c9c9c9 100.0%)"></i><i style="left:6px;width:6.5px;background:linear-gradient(0deg,#000000 50.0%,#b2b2b2 55.0%,#b5b5b5 56.0%,#c5c5c5 62.0%,#c6c6c6 64.0%,#c9c9c9 100.0%)"></i><i style="left:12px;width:6.5px;background:linear-gradient(0deg,#000000 50.0%,#b1b1b1 55.0%,#b4b4b4 56.0%,#c4c4c4 62.0%,#c6c6c6 64.0%,#c9c9c9 100.0%)"></i><i style="left:18px;width:6.5px;background:linear-gradient(0deg,#000000 50.0%,#b0b0b0 55.0%,#b3b3b3 56.0%,#c3c3c3 62.0%,#c6c6c6 64.0%,#c9c9c9 100.0%)"></i><i style="left:24px;width:6.5px;background:linear-gradient(0deg,#000000 50.0%,#aeaeae 55.0%,#b3b3b3 56.0%,#c2c2c2 62.0%,#c6c6c6 64.0%,#c9c9c9 100.0%)"></i><i style="left:30px;width:6.5px;background:linear-gradient(0deg,#000000 50.0%,#adadad 55.0%,#b1b1b1 56.0%,#c1c1c1 62.0%,#c6c6c6 64.0%,#c9c9c9 100.0%)"></i><i style="left:36px;width:6.5px;background:linear-gradient(0deg,#000000 50.0%,#acacac 55.0%,#aeaeae 56.0%,#c1c1c1 62.0%,#c6c6c6 64.0%,#c9c9c9 100.0%)"></i><i style="left:42px;width:6.5px;background:linear-gradient(0deg,#000000 50.0%,#ababab 56.0%,#b9b9b9 60.0%,#c4c4c4 64.0%,#c5c5c5 66.0%,#c7c7c7 70.0%,#c9c9c9 100.0%)"></i><i style="left:48px;width:6.5px;background:linear-gradient(0deg,#000000 50.0%,#a6a6a6 56.0%,#b4b4b4 60.0%,#bebebe 64.0%,#c1c1c1 66.0%,#c7c7c7 70.0%,#c9c9c9 100.0%)"></i><i style="left:54px;width:6.5px;background:linear-gradient(0deg,#000000 50.0%,#9e9e9e 56.0%,#a7a7a7 60.0%,#b9b9b9 64.0%,#bdbdbd 66.0%,#c8c8c8 70.0%,#c9c9c9 100.0%)"></i><i style="left:60px;width:6.5px;background:linear-gradient(0deg,#000000 60.0%,#acacac 62.0%,#bbbbbb 66.0%,#bebebe 67.0%,#c8c8c8 70.0%,#c8c8c8 72.0%,#c9c9c9 100.0%)"></i><i style="left:66px;width:6.5px;background:linear-gradient(0deg,#000000 60.0%,#ababab 62.0%,#bbbbbb 66.0%,#bebebe 67.0%,#c8c8c8 70.0%,#c8c8c8 72.0%,#c9c9c9 100.0%)"></i><i style="left:72px;width:6.5px;background:linear-gradient(0deg,#000000 60.0%,#a9a9a9 62.0%,#bbbbbb 66.0%,#bebebe 67.0%,#c7c7c7 70.0%,#c8c8c8 72.0%,#c9c9c9 100.0%)"></i><i style="left:78px;width:6.5px;background:linear-gradient(0deg,#000000 60.0%,#a7a7a7 62.0%,#bbbbbb 66.0%,#bebebe 67.0%,#c7c7c7 70.0%,#c8c8c8 72.0%,#c9c9c9 100.0%)"></i><i style="left:84px;width:6.5px;background:linear-gradient(0deg,#000000 60.0%,#a6a6a6 62.0%,#bbbbbb 66.0%,#bebebe 67.0%,#c7c7c7 70.0%,#c8c8c8 72.0%,#c9c9c9 100.0%)"></i><i style="left:90px;width:6.5px;background:linear-gradient(0deg,#000000 60.0%,#a2a2a2 62.0%,#bababa 66.0%,#bebebe 67.0%,#c7c7c7 70.0%,#c8c8c8 72.0%,#c9c9c9 100.0%)"></i><i style="left:96px;width:6.5px;background:linear-gradient(0deg,#000000 60.0%,#9f9f9f 62.0%,#bababa 66.0%,#bebebe 67.0%,#c6c6c6 70.0%,#c8c8c8 72.0%,#c9c9c9 100.0%)"></i><i style="left:102px;width:6.5px;background:linear-gradient(0deg,#000000 60.0%,#9c9c9c 62.0%,#bababa 66.0%,#bebebe 67.0%,#c6c6c6 70.0%,#c8c8c8 72.0%,#c9c9c9 100.0%)"></i><i style="left:108px;width:6.5px;background:linear-gradient(0deg,#000000 60.0%,#999999 62.0%,#bababa 66.0%,#bdbdbd 67.0%,#c5c5c5 70.0%,#c8c8c8 72.0%,#c9c9c9 100.0%)"></i><i style="left:114px;width:6.5px;background:linear-gradient(0deg,#000000 62.0%,#bbbbbb 67.0%,#c1c1c1 70.0%,#c6c6c6 72.0%,#c8c8c8 80.0%,#c8c8c8 90.0%,#c7c7c7 100.0%)"></i><i style="left:120px;width:6.5px;background:linear-gradient(0deg,#000000 62.0%,#b6b6b6 67.0%,#bcbcbc 70.0%,#bebebe 72.0%,#c7c7c7 80.0%,#c4c4c4 90.0%,#bfbfbf 100.0%)"></i><i style="left:126px;width:6.5px;background:linear-gradient(0deg,#000000 50.0%,#aaaaaa 56.0%,#afafaf 62.0%,#b7b7b7 65.0%,#bdbdbd 70.0%,#c1c1c1 75.0%,#c1c1c1 80.0%,#bfbfbf 82.0%,#bdbdbd 90.0%,#bababa 100.0%)"></i><i style="left:132px;width:6.5px;background:linear-gradient(0deg,#000000 50.0%,#b5b5b5 56.0%,#b9b9b9 62.0%,#bdbdbd 65.0%,#c0c0c0 70.0%,#c2c2c2 75.0%,#bbbbbb 80.0%,#b8b8b8 82.0%,#b7b7b7 90.0%,#b4b4b4 100.0%)"></i><i style="left:138px;width:6.5px;background:linear-gradient(0deg,#000000 50.0%,#bababa 56.0%,#c1c1c1 62.0%,#c5c5c5 65.0%,#c4c4c4 70.0%,#c3c3c3 75.0%,#b6b6b6 80.0%,#adadad 82.0%,#ababab 90.0%,#a8a8a8 100.0%)"></i><i style="left:144px;width:6.5px;background:linear-gradient(0deg,#000000 45.0%,#a2a2a2 50.0%,#b2b2b2 52.0%,#bcbcbc 56.0%,#c1c1c1 60.0%,#c6c6c6 65.0%,#c4c4c4 75.0%,#b4b4b4 80.0%,#aaaaaa 82.0%,#a6a6a6 100.0%)"></i><i style="left:150px;width:6.5px;background:linear-gradient(0deg,#000000 45.0%,#aaaaaa 50.0%,#b5b5b5 52.0%,#bdbdbd 56.0%,#c2c2c2 60.0%,#c6c6c6 65.0%,#c4c4c4 75.0%,#b3b3b3 80.0%,#aaaaaa 82.0%,#a6a6a6 100.0%)"></i><i style="left:156px;width:6.5px;background:linear-gradient(0deg,#000000 45.0%,#b1b1b1 50.0%,#b7b7b7 52.0%,#bebebe 56.0%,#c3c3c3 60.0%,#c6c6c6 65.0%,#c5c5c5 75.0%,#b1b1b1 80.0%,#aaaaaa 82.0%,#a6a6a6 100.0%)"></i><i style="left:162px;width:6.5px;background:linear-gradient(0deg,#000000 45.0%,#b4b4b4 50.0%,#b9b9b9 52.0%,#bfbfbf 56.0%,#c5c5c5 60.0%,#c6c6c6 65.0%,#c5c5c5 75.0%,#adadad 80.0%,#aaaaaa 82.0%,#a6a6a6 100.0%)"></i><i style="left:168px;width:6.5px;background:linear-gradient(0deg,#000000 44.0%,#000000 45.0%,#bbbbbb 52.0%,#c6c6c6 60.0%,#c6c6c6 75.0%,#aaaaaa 80.0%,#a6a6a6 100.0%)"></i><i style="left:174px;width:6.5px;background:linear-gradient(0deg,#000000 44.0%,#9b9b9b 45.0%,#bcbcbc 52.0%,#c6c6c6 60.0%,#c5c5c5 75.0%,#aaaaaa 80.0%,#a6a6a6 100.0%)"></i><i style="left:180px;width:6.5px;background:linear-gradient(0deg,#000000 44.0%,#9d9d9d 45.0%,#bcbcbc 52.0%,#c6c6c6 60.0%,#c5c5c5 75.0%,#aaaaaa 80.0%,#a6a6a6 100.0%)"></i><i style="left:186px;width:6.5px;background:linear-gradient(0deg,#000000 44.0%,#a0a0a0 45.0%,#bdbdbd 52.0%,#c6c6c6 60.0%,#c4c4c4 75.0%,#aaaaaa 80.0%,#a6a6a6 100.0%)"></i><i style="left:192px;width:6.5px;background:linear-gradient(0deg,#000000 44.0%,#a2a2a2 45.0%,#bdbdbd 52.0%,#c6c6c6 60.0%,#c4c4c4 75.0%,#aaaaaa 80.0%,#a6a6a6 100.0%)"></i><i style="left:198px;width:6.5px;background:linear-gradient(0deg,#000000 44.0%,#ababab 46.0%,#bdbdbd 52.0%,#c0c0c0 55.0%,#c6c6c6 60.0%,#c5c5c5 65.0%,#c3c3c3 72.0%,#c3c3c3 75.0%,#aaaaaa 80.0%,#a6a6a6 100.0%)"></i><i style="left:204px;width:6.5px;background:linear-gradient(0deg,#000000 44.0%,#a9a9a9 46.0%,#bcbcbc 52.0%,#bfbfbf 55.0%,#c5c5c5 60.0%,#c5c5c5 65.0%,#c2c2c2 72.0%,#c0c0c0 75.0%,#ababab 80.0%,#a8a8a8 100.0%)"></i><i style="left:210px;width:6.5px;background:linear-gradient(0deg,#000000 44.0%,#a6a6a6 46.0%,#bbbbbb 52.0%,#bebebe 55.0%,#c3c3c3 60.0%,#c4c4c4 65.0%,#c0c0c0 72.0%,#bebebe 75.0%,#ababab 80.0%,#aaaaaa 100.0%)"></i><i style="left:216px;width:6.5px;background:linear-gradient(0deg,#000000 44.0%,#a3a3a3 46.0%,#b9b9b9 52.0%,#bdbdbd 55.0%,#c2c2c2 60.0%,#c4c4c4 65.0%,#bfbfbf 72.0%,#bcbcbc 75.0%,#acacac 80.0%,#ababab 100.0%)"></i><i style="left:222px;width:6.5px;background:linear-gradient(0deg,#000000 44.0%,#9f9f9f 46.0%,#b8b8b8 52.0%,#bcbcbc 55.0%,#c1c1c1 60.0%,#c4c4c4 65.0%,#bdbdbd 72.0%,#bababa 75.0%,#acacac 80.0%,#adadad 100.0%)"></i><i style="left:228px;width:6.5px;background:linear-gradient(0deg,#000000 44.0%,#9b9b9b 46.0%,#b7b7b7 52.0%,#bcbcbc 55.0%,#bfbfbf 60.0%,#c3c3c3 65.0%,#bcbcbc 72.0%,#b9b9b9 75.0%,#adadad 80.0%,#afafaf 100.0%)"></i><i style="left:234px;width:6.5px;background:linear-gradient(0deg,#000000 46.0%,#b9b9b9 55.0%,#bebebe 62.0%,#c1c1c1 65.0%,#bdbdbd 70.0%,#bbbbbb 72.0%,#b0b0b0 80.0%,#b3b3b3 100.0%)"></i><i style="left:240px;width:6.5px;background:linear-gradient(0deg,#000000 46.0%,#b4b4b4 55.0%,#b9b9b9 62.0%,#bcbcbc 65.0%,#bbbbbb 70.0%,#bababa 72.0%,#b5b5b5 80.0%,#b6b6b6 100.0%)"></i><i style="left:246px;width:6.5px;background:linear-gradient(0deg,#000000 46.0%,#a7a7a7 55.0%,#b4b4b4 62.0%,#b7b7b7 65.0%,#b9b9b9 70.0%,#b9b9b9 72.0%,#b8b8b8 80.0%,#b9b9b9 100.0%)"></i><i style="left:252px;width:6.5px;background:linear-gradient(0deg,#000000 45.0%,#9b9b9b 55.0%,#acacac 60.0%,#afafaf 62.0%,#b9b9b9 70.0%,#bbbbbb 100.0%)"></i><i style="left:258px;width:6.5px;background:linear-gradient(0deg,#000000 45.0%,#a2a2a2 55.0%,#b1b1b1 60.0%,#b3b3b3 62.0%,#b9b9b9 70.0%,#bbbbbb 100.0%)"></i><i style="left:264px;width:6.5px;background:linear-gradient(0deg,#000000 45.0%,#a8a8a8 55.0%,#b4b4b4 60.0%,#b5b5b5 62.0%,#bababa 70.0%,#bcbcbc 100.0%)"></i><i style="left:270px;width:6.5px;background:linear-gradient(0deg,#000000 45.0%,#acacac 55.0%,#b6b6b6 60.0%,#b7b7b7 62.0%,#bababa 70.0%,#bcbcbc 100.0%)"></i><i style="left:276px;width:6.5px;background:linear-gradient(0deg,#000000 45.0%,#afafaf 55.0%,#b8b8b8 60.0%,#b9b9b9 62.0%,#bbbbbb 70.0%,#bcbcbc 100.0%)"></i><i style="left:282px;width:6.5px;background:linear-gradient(0deg,#000000 45.0%,#b3b3b3 55.0%,#bababa 60.0%,#bababa 62.0%,#bbbbbb 70.0%,#bcbcbc 100.0%)"></i><i style="left:288px;width:6.5px;background:linear-gradient(0deg,#000000 45.0%,#b3b3b3 55.0%,#bbbbbb 60.0%,#bcbcbc 100.0%)"></i><i style="left:294px;width:6.5px;background:linear-gradient(0deg,#000000 45.0%,#b3b3b3 55.0%,#bbbbbb 60.0%,#bcbcbc 100.0%)"></i><i style="left:300px;width:6.5px;background:linear-gradient(0deg,#000000 45.0%,#b3b3b3 55.0%,#bbbbbb 60.0%,#bcbcbc 100.0%)"></i><i style="left:306px;width:6.5px;background:linear-gradient(0deg,#000000 45.0%,#b3b3b3 55.0%,#bbbbbb 60.0%,#bcbcbc 100.0%)"></i><i style="left:312px;width:6.5px;background:linear-gradient(0deg,#000000 45.0%,#b3b3b3 55.0%,#bbbbbb 60.0%,#bcbcbc 100.0%)"></i><i style="left:318px;width:6.5px;background:linear-gradient(0deg,#000000 45.0%,#b3b3b3 55.0%,#bbbbbb 60.0%,#bcbcbc 100.0%)"></i><i style="left:324px;width:6.5px;background:linear-gradient(0deg,#000000 45.0%,#b3b3b3 55.0%,#bbbbbb 60.0%,#bcbcbc 100.0%)"></i><i style="left:330px;width:6.5px;background:linear-gradient(0deg,#000000 45.0%,#b3b3b3 55.0%,#bbbbbb 60.0%,#bcbcbc 100.0%)"></i><i style="left:336px;width:6.5px;background:linear-gradient(0deg,#000000 45.0%,#b3b3b3 55.0%,#bbbbbb 60.0%,#bcbcbc 100.0%)"></i><i style="left:342px;width:6.5px;background:linear-gradient(0deg,#000000 45.0%,#b3b3b3 55.0%,#bbbbbb 60.0%,#bcbcbc 100.0%)"></i><i style="left:348px;width:6.5px;background:linear-gradient(0deg,#000000 45.0%,#aaaaaa 55.0%,#b3b3b3 60.0%,#b5b5b5 80.0%,#b5b5b5 100.0%)"></i><i style="left:354px;width:6.5px;background:linear-gradient(0deg,#000000 60.0%,#a6a6a6 80.0%,#a6a6a6 100.0%)"></i><i style="left:360px;width:6.5px;background:linear-gradient(0deg,#000000 60.0%,#a6a6a6 80.0%,#a7a7a7 100.0%)"></i><i style="left:366px;width:6.5px;background:linear-gradient(0deg,#000000 60.0%,#a6a6a6 80.0%,#a9a9a9 100.0%)"></i><i style="left:372px;width:6.5px;background:linear-gradient(0deg,#000000 60.0%,#a6a6a6 80.0%,#aaaaaa 100.0%)"></i><i style="left:378px;width:6.5px;background:linear-gradient(0deg,#000000 60.0%,#a6a6a6 80.0%,#acacac 100.0%)"></i><i style="left:384px;width:6.5px;background:linear-gradient(0deg,#000000 55.0%,#999999 60.0%,#9e9e9e 65.0%,#a7a7a7 75.0%,#a8a8a8 80.0%,#afafaf 100.0%)"></i><i style="left:390px;width:6.5px;background:linear-gradient(0deg,#000000 55.0%,#a0a0a0 60.0%,#a8a8a8 65.0%,#b4b4b4 75.0%,#b4b4b4 80.0%,#b5b5b5 100.0%)"></i><i style="left:396px;width:6.5px;background:linear-gradient(0deg,#000000 55.0%,#adadad 65.0%,#b9b9b9 75.0%,#b9b9b9 100.0%)"></i><i style="left:402px;width:6.5px;background:linear-gradient(0deg,#000000 55.0%,#adadad 65.0%,#b9b9b9 75.0%,#b9b9b9 100.0%)"></i><i style="left:408px;width:6.5px;background:linear-gradient(0deg,#000000 55.0%,#adadad 65.0%,#b9b9b9 75.0%,#b9b9b9 100.0%)"></i><i style="left:414px;width:6.5px;background:linear-gradient(0deg,#000000 55.0%,#adadad 65.0%,#b9b9b9 75.0%,#b9b9b9 100.0%)"></i><i style="left:420px;width:6.5px;background:linear-gradient(0deg,#000000 55.0%,#adadad 65.0%,#b9b9b9 75.0%,#b9b9b9 100.0%)"></i><i style="left:426px;width:6.5px;background:linear-gradient(0deg,#000000 55.0%,#adadad 65.0%,#b9b9b9 75.0%,#b9b9b9 100.0%)"></i><i style="left:432px;width:6.5px;background:linear-gradient(0deg,#000000 55.0%,#adadad 65.0%,#b9b9b9 75.0%,#b9b9b9 100.0%)"></i><i style="left:438px;width:6.5px;background:linear-gradient(0deg,#000000 55.0%,#adadad 65.0%,#b9b9b9 75.0%,#b9b9b9 100.0%)"></i><i style="left:444px;width:6.5px;background:linear-gradient(0deg,#000000 55.0%,#adadad 65.0%,#b9b9b9 75.0%,#b9b9b9 100.0%)"></i><i style="left:450px;width:6.5px;background:linear-gradient(0deg,#000000 55.0%,#adadad 65.0%,#b9b9b9 75.0%,#b9b9b9 100.0%)"></i><i style="left:456px;width:6.5px;background:linear-gradient(0deg,#000000 55.0%,#adadad 65.0%,#b9b9b9 75.0%,#b9b9b9 100.0%)"></i><i style="left:462px;width:6.5px;background:linear-gradient(0deg,#000000 55.0%,#adadad 65.0%,#b9b9b9 75.0%,#b9b9b9 100.0%)"></i><i style="left:468px;width:6.5px;background:linear-gradient(0deg,#000000 55.0%,#adadad 65.0%,#b9b9b9 75.0%,#b9b9b9 100.0%)"></i><i style="left:474px;width:6.5px;background:linear-gradient(0deg,#000000 55.0%,#adadad 65.0%,#b9b9b9 75.0%,#b9b9b9 100.0%)"></i><i style="left:480px;width:6.5px;background:linear-gradient(0deg,#000000 45.0%,#a9a9a9 50.0%,#aeaeae 55.0%,#b5b5b5 60.0%,#b6b6b6 65.0%,#bbbbbb 75.0%,#bcbcbc 100.0%)"></i><i style="left:486px;width:6.5px;background:linear-gradient(0deg,#000000 45.0%,#b5b5b5 50.0%,#b9b9b9 55.0%,#bebebe 60.0%,#bebebe 65.0%,#c0c0c0 75.0%,#c1c1c1 100.0%)"></i><i style="left:492px;width:6.5px;background:linear-gradient(0deg,#000000 40.0%,#9c9c9c 45.0%,#b7b7b7 50.0%,#c1c1c1 60.0%,#c4c4c4 100.0%)"></i><i style="left:498px;width:6.5px;background:linear-gradient(0deg,#000000 40.0%,#a2a2a2 45.0%,#b8b8b8 50.0%,#c2c2c2 60.0%,#c5c5c5 100.0%)"></i><i style="left:504px;width:6.5px;background:linear-gradient(0deg,#000000 40.0%,#a7a7a7 45.0%,#b9b9b9 50.0%,#c3c3c3 60.0%,#c6c6c6 100.0%)"></i><i style="left:510px;width:6.5px;background:linear-gradient(0deg,#000000 40.0%,#aaaaaa 45.0%,#bababa 50.0%,#c4c4c4 60.0%,#c7c7c7 100.0%)"></i><i style="left:516px;width:6.5px;background:linear-gradient(0deg,#000000 40.0%,#adadad 45.0%,#bbbbbb 50.0%,#c4c4c4 60.0%,#c7c7c7 100.0%)"></i><i style="left:522px;width:6.5px;background:linear-gradient(0deg,#000000 40.0%,#b0b0b0 45.0%,#bcbcbc 50.0%,#c5c5c5 60.0%,#c8c8c8 100.0%)"></i><i style="left:528px;width:6.5px;background:linear-gradient(0deg,#000000 40.0%,#b3b3b3 45.0%,#bdbdbd 50.0%,#c6c6c6 60.0%,#c8c8c8 100.0%)"></i><i style="left:534px;width:6.5px;background:linear-gradient(0deg,#000000 40.0%,#b4b4b4 45.0%,#bebebe 50.0%,#c7c7c7 60.0%,#c8c8c8 100.0%)"></i><i style="left:540px;width:6.5px;background:linear-gradient(0deg,#000000 40.0%,#b5b5b5 45.0%,#bfbfbf 50.0%,#c7c7c7 60.0%,#c9c9c9 100.0%)"></i><i style="left:546px;width:6.5px;background:linear-gradient(0deg,#000000 38.0%,#000000 40.0%,#b6b6b6 45.0%,#c0c0c0 50.0%,#c8c8c8 60.0%,#c9c9c9 100.0%)"></i><i style="left:552px;width:6.5px;background:linear-gradient(0deg,#000000 38.0%,#9c9c9c 40.0%,#b7b7b7 45.0%,#c2c2c2 50.0%,#c8c8c8 60.0%,#c9c9c9 100.0%)"></i><i style="left:558px;width:6.5px;background:linear-gradient(0deg,#000000 38.0%,#a0a0a0 40.0%,#b7b7b7 45.0%,#c4c4c4 50.0%,#c8c8c8 60.0%,#c9c9c9 100.0%)"></i><i style="left:564px;width:6.5px;background:linear-gradient(0deg,#000000 38.0%,#a4a4a4 40.0%,#b8b8b8 45.0%,#c6c6c6 50.0%,#c8c8c8 60.0%,#c9c9c9 100.0%)"></i><i style="left:570px;width:6.5px;background:linear-gradient(0deg,#000000 38.0%,#a7a7a7 40.0%,#b8b8b8 45.0%,#c7c7c7 50.0%,#c8c8c8 60.0%,#c9c9c9 100.0%)"></i><i style="left:576px;width:6.5px;background:linear-gradient(0deg,#000000 38.0%,#a9a9a9 40.0%,#b9b9b9 45.0%,#c8c8c8 50.0%,#c9c9c9 100.0%)"></i><i style="left:582px;width:6.5px;background:linear-gradient(0deg,#000000 38.0%,#a8a8a8 40.0%,#b9b9b9 45.0%,#c8c8c8 50.0%,#c9c9c9 100.0%)"></i><i style="left:588px;width:6.5px;background:linear-gradient(0deg,#000000 38.0%,#a8a8a8 40.0%,#b9b9b9 45.0%,#c8c8c8 50.0%,#c9c9c9 100.0%)"></i><i style="left:594px;width:6.5px;background:linear-gradient(0deg,#000000 38.0%,#a7a7a7 40.0%,#b9b9b9 45.0%,#c8c8c8 50.0%,#c9c9c9 100.0%)"></i><i style="left:600px;width:6.5px;background:linear-gradient(0deg,#000000 38.0%,#a7a7a7 40.0%,#b9b9b9 45.0%,#c8c8c8 50.0%,#c9c9c9 100.0%)"></i><i style="left:606px;width:6.5px;background:linear-gradient(0deg,#000000 38.0%,#a6a6a6 40.0%,#b9b9b9 45.0%,#c8c8c8 50.0%,#c9c9c9 100.0%)"></i><i style="left:612px;width:6.5px;background:linear-gradient(0deg,#000000 38.0%,#a5a5a5 40.0%,#b9b9b9 45.0%,#c8c8c8 50.0%,#c9c9c9 100.0%)"></i><i style="left:618px;width:6.5px;background:linear-gradient(0deg,#000000 38.0%,#a4a4a4 40.0%,#b9b9b9 45.0%,#c8c8c8 50.0%,#c9c9c9 100.0%)"></i><i style="left:624px;width:6.5px;background:linear-gradient(0deg,#000000 38.0%,#a3a3a3 40.0%,#b9b9b9 45.0%,#c8c8c8 50.0%,#c9c9c9 100.0%)"></i><i style="left:630px;width:6.5px;background:linear-gradient(0deg,#000000 38.0%,#a2a2a2 40.0%,#b9b9b9 45.0%,#c8c8c8 50.0%,#c9c9c9 100.0%)"></i><i style="left:636px;width:6.5px;background:linear-gradient(0deg,#000000 38.0%,#a1a1a1 40.0%,#b9b9b9 45.0%,#c8c8c8 50.0%,#c9c9c9 100.0%)"></i><i style="left:642px;width:6.5px;background:linear-gradient(0deg,#000000 38.0%,#a0a0a0 40.0%,#b9b9b9 45.0%,#c8c8c8 50.0%,#c9c9c9 100.0%)"></i><i style="left:648px;width:6.5px;background:linear-gradient(0deg,#000000 38.0%,#9f9f9f 40.0%,#b9b9b9 45.0%,#c8c8c8 50.0%,#c9c9c9 100.0%)"></i><i style="left:654px;width:6.5px;background:linear-gradient(0deg,#000000 38.0%,#9e9e9e 40.0%,#b9b9b9 45.0%,#c8c8c8 50.0%,#c9c9c9 100.0%)"></i><i style="left:660px;width:6.5px;background:linear-gradient(0deg,#000000 38.0%,#9d9d9d 40.0%,#b9b9b9 45.0%,#c8c8c8 50.0%,#c9c9c9 100.0%)"></i><i style="left:666px;width:6.5px;background:linear-gradient(0deg,#000000 38.0%,#9c9c9c 40.0%,#b9b9b9 45.0%,#c8c8c8 50.0%,#c9c9c9 100.0%)"></i><i style="left:672px;width:6.5px;background:linear-gradient(0deg,#000000 38.0%,#9b9b9b 40.0%,#b9b9b9 45.0%,#c8c8c8 50.0%,#c9c9c9 100.0%)"></i><i style="left:678px;width:6.5px;background:linear-gradient(0deg,#000000 38.0%,#9a9a9a 40.0%,#b9b9b9 45.0%,#c8c8c8 50.0%,#c9c9c9 100.0%)"></i><i style="left:684px;width:6.5px;background:linear-gradient(0deg,#000000 38.0%,#999999 40.0%,#b9b9b9 45.0%,#c8c8c8 50.0%,#c9c9c9 100.0%)"></i><i style="left:690px;width:6.5px;background:linear-gradient(0deg,#000000 38.0%,#000000 40.0%,#b9b9b9 45.0%,#c8c8c8 50.0%,#c9c9c9 100.0%)"></i><i style="left:696px;width:6.5px;background:linear-gradient(0deg,#000000 40.0%,#b4b4b4 45.0%,#c1c1c1 50.0%,#c4c4c4 55.0%,#c7c7c7 60.0%,#c9c9c9 100.0%)"></i><i style="left:702px;width:6.5px;background:linear-gradient(0deg,#000000 40.0%,#a7a7a7 45.0%,#b8b8b8 50.0%,#bebebe 55.0%,#c5c5c5 60.0%,#c9c9c9 100.0%)"></i><i style="left:708px;width:6.5px;background:linear-gradient(0deg,#000000 45.0%,#b8b8b8 55.0%,#c1c1c1 60.0%,#c4c4c4 65.0%,#c9c9c9 100.0%)"></i><i style="left:714px;width:6.5px;background:linear-gradient(0deg,#000000 45.0%,#b1b1b1 55.0%,#bebebe 60.0%,#c4c4c4 65.0%,#c9c9c9 100.0%)"></i><i style="left:720px;width:6.5px;background:linear-gradient(0deg,#000000 55.0%,#bbbbbb 60.0%,#c3c3c3 65.0%,#c5c5c5 72.0%,#c7c7c7 78.0%,#c9c9c9 100.0%)"></i><i style="left:726px;width:6.5px;background:linear-gradient(0deg,#000000 55.0%,#b7b7b7 60.0%,#bdbdbd 65.0%,#c2c2c2 72.0%,#c6c6c6 78.0%,#c9c9c9 100.0%)"></i><i style="left:732px;width:6.5px;background:linear-gradient(0deg,#000000 55.0%,#b3b3b3 60.0%,#b7b7b7 65.0%,#bfbfbf 72.0%,#c5c5c5 78.0%,#c9c9c9 100.0%)"></i><i style="left:738px;width:6.5px;background:linear-gradient(0deg,#000000 55.0%,#a8a8a8 60.0%,#adadad 65.0%,#bdbdbd 72.0%,#c4c4c4 78.0%,#c9c9c9 100.0%)"></i><i style="left:744px;width:6.5px;background:linear-gradient(0deg,#000000 65.0%,#bbbbbb 72.0%,#c2c2c2 78.0%,#c5c5c5 85.0%,#c7c7c7 90.0%,#c9c9c9 100.0%)"></i><i style="left:750px;width:6.5px;background:linear-gradient(0deg,#000000 65.0%,#b7b7b7 72.0%,#bcbcbc 78.0%,#bebebe 85.0%,#c4c4c4 90.0%,#c8c8c8 100.0%)"></i><i style="left:756px;width:6.5px;background:linear-gradient(0deg,#000000 65.0%,#b2b2b2 72.0%,#b6b6b6 78.0%,#b7b7b7 85.0%,#c1c1c1 90.0%,#c6c6c6 100.0%)"></i><i style="left:762px;width:6.5px;background:linear-gradient(0deg,#000000 65.0%,#a7a7a7 72.0%,#ababab 78.0%,#adadad 85.0%,#bdbdbd 90.0%,#c3c3c3 100.0%)"></i><i style="left:768px;width:6.5px;background:linear-gradient(0deg,#000000 70.0%,#9b9b9b 85.0%,#bababa 90.0%,#bebebe 100.0%)"></i><i style="left:774px;width:6.5px;background:linear-gradient(0deg,#000000 70.0%,#a5a5a5 85.0%,#b4b4b4 90.0%,#b7b7b7 100.0%)"></i><i style="left:780px;width:6.5px;background:linear-gradient(0deg,#000000 60.0%,#000000 70.0%,#a6a6a6 80.0%,#adadad 90.0%,#b0b0b0 100.0%)"></i><i style="left:786px;width:6.5px;background:linear-gradient(0deg,#000000 60.0%,#999999 70.0%,#a6a6a6 80.0%,#adadad 90.0%,#b0b0b0 100.0%)"></i><i style="left:792px;width:6.5px;background:linear-gradient(0deg,#000000 60.0%,#9a9a9a 70.0%,#a7a7a7 80.0%,#aeaeae 90.0%,#b1b1b1 100.0%)"></i><i style="left:798px;width:6.5px;background:linear-gradient(0deg,#000000 60.0%,#9b9b9b 70.0%,#a7a7a7 80.0%,#aeaeae 90.0%,#b1b1b1 100.0%)"></i><i style="left:804px;width:6.5px;background:linear-gradient(0deg,#000000 60.0%,#9c9c9c 70.0%,#a8a8a8 80.0%,#aeaeae 90.0%,#b1b1b1 100.0%)"></i><i style="left:810px;width:6.5px;background:linear-gradient(0deg,#000000 60.0%,#9d9d9d 70.0%,#a8a8a8 80.0%,#aeaeae 90.0%,#b2b2b2 100.0%)"></i><i style="left:816px;width:6.5px;background:linear-gradient(0deg,#000000 60.0%,#9e9e9e 70.0%,#a9a9a9 80.0%,#afafaf 90.0%,#b2b2b2 100.0%)"></i><i style="left:822px;width:6.5px;background:linear-gradient(0deg,#000000 60.0%,#9f9f9f 70.0%,#a9a9a9 80.0%,#afafaf 90.0%,#b2b2b2 100.0%)"></i><i style="left:828px;width:6.5px;background:linear-gradient(0deg,#000000 60.0%,#a0a0a0 70.0%,#aaaaaa 80.0%,#afafaf 90.0%,#b3b3b3 100.0%)"></i><i style="left:834px;width:6.5px;background:linear-gradient(0deg,#000000 60.0%,#a1a1a1 70.0%,#aaaaaa 80.0%,#afafaf 90.0%,#b3b3b3 100.0%)"></i><i style="left:840px;width:6.5px;background:linear-gradient(0deg,#000000 60.0%,#a2a2a2 70.0%,#ababab 80.0%,#b0b0b0 90.0%,#b3b3b3 100.0%)"></i><i style="left:846px;width:6.5px;background:linear-gradient(0deg,#000000 60.0%,#a3a3a3 70.0%,#ababab 80.0%,#b0b0b0 90.0%,#b3b3b3 100.0%)"></i><i style="left:852px;width:6.5px;background:linear-gradient(0deg,#000000 60.0%,#a4a4a4 70.0%,#acacac 80.0%,#b0b0b0 90.0%,#b3b3b3 100.0%)"></i><i style="left:858px;width:6.5px;background:linear-gradient(0deg,#000000 60.0%,#a5a5a5 70.0%,#acacac 80.0%,#b0b0b0 90.0%,#b3b3b3 100.0%)"></i><i style="left:864px;width:6.5px;background:linear-gradient(0deg,#000000 60.0%,#a6a6a6 70.0%,#adadad 80.0%,#b1b1b1 90.0%,#b3b3b3 100.0%)"></i><i style="left:870px;width:6.5px;background:linear-gradient(0deg,#000000 60.0%,#adadad 80.0%,#b3b3b3 100.0%)"></i><i style="left:876px;width:6.5px;background:linear-gradient(0deg,#000000 60.0%,#adadad 80.0%,#b3b3b3 100.0%)"></i><i style="left:882px;width:6.5px;background:linear-gradient(0deg,#000000 60.0%,#adadad 80.0%,#b3b3b3 100.0%)"></i><i style="left:888px;width:6.5px;background:linear-gradient(0deg,#000000 60.0%,#adadad 80.0%,#b3b3b3 100.0%)"></i><i style="left:894px;width:6.5px;background:linear-gradient(0deg,#000000 60.0%,#adadad 80.0%,#b3b3b3 100.0%)"></i><i style="left:900px;width:6.5px;background:linear-gradient(0deg,#000000 60.0%,#adadad 80.0%,#b3b3b3 100.0%)"></i><i style="left:906px;width:6.5px;background:linear-gradient(0deg,#000000 60.0%,#adadad 80.0%,#b3b3b3 100.0%)"></i><i style="left:912px;width:6.5px;background:linear-gradient(0deg,#000000 60.0%,#adadad 80.0%,#b3b3b3 100.0%)"></i><i style="left:918px;width:6.5px;background:linear-gradient(0deg,#000000 60.0%,#adadad 80.0%,#b3b3b3 100.0%)"></i><i style="left:924px;width:6.5px;background:linear-gradient(0deg,#000000 60.0%,#adadad 80.0%,#b3b3b3 100.0%)"></i><i style="left:930px;width:6.5px;background:linear-gradient(0deg,#000000 60.0%,#adadad 80.0%,#b3b3b3 100.0%)"></i><i style="left:936px;width:6.5px;background:linear-gradient(0deg,#000000 60.0%,#adadad 80.0%,#b3b3b3 100.0%)"></i><i style="left:942px;width:6.5px;background:linear-gradient(0deg,#000000 60.0%,#adadad 80.0%,#b3b3b3 100.0%)"></i><i style="left:948px;width:6.5px;background:linear-gradient(0deg,#000000 60.0%,#adadad 80.0%,#b3b3b3 100.0%)"></i><i style="left:954px;width:6.5px;background:linear-gradient(0deg,#000000 60.0%,#adadad 80.0%,#b3b3b3 100.0%)"></i><i style="left:960px;width:6.5px;background:linear-gradient(0deg,#000000 60.0%,#adadad 80.0%,#b3b3b3 100.0%)"></i><i style="left:966px;width:6.5px;background:linear-gradient(0deg,#000000 60.0%,#adadad 80.0%,#b3b3b3 100.0%)"></i><i style="left:972px;width:6.5px;background:linear-gradient(0deg,#000000 60.0%,#adadad 80.0%,#b3b3b3 100.0%)"></i><i style="left:978px;width:6.5px;background:linear-gradient(0deg,#000000 60.0%,#adadad 80.0%,#b3b3b3 100.0%)"></i><i style="left:984px;width:6.5px;background:linear-gradient(0deg,#000000 60.0%,#a5a5a5 70.0%,#acacac 80.0%,#b0b0b0 90.0%,#b3b3b3 100.0%)"></i><i style="left:990px;width:6.5px;background:linear-gradient(0deg,#000000 60.0%,#a2a2a2 70.0%,#aaaaaa 80.0%,#adadad 90.0%,#b0b0b0 100.0%)"></i><i style="left:996px;width:6.5px;background:linear-gradient(0deg,#000000 60.0%,#9f9f9f 70.0%,#a7a7a7 80.0%,#ababab 90.0%,#adadad 100.0%)"></i><i style="left:1002px;width:6.5px;background:linear-gradient(0deg,#000000 60.0%,#9c9c9c 70.0%,#a4a4a4 80.0%,#a8a8a8 90.0%,#aaaaaa 100.0%)"></i><i style="left:1008px;width:6.5px;background:linear-gradient(0deg,#000000 60.0%,#999999 70.0%,#9f9f9f 80.0%,#a5a5a5 90.0%,#a7a7a7 100.0%)"></i><i style="left:1014px;width:6.5px;background:linear-gradient(0deg,#000000 70.0%,#a3a3a3 90.0%,#a6a6a6 100.0%)"></i><i style="left:1020px;width:6.5px;background:linear-gradient(0deg,#000000 70.0%,#a3a3a3 90.0%,#a6a6a6 100.0%)"></i><i style="left:1026px;width:6.5px;background:linear-gradient(0deg,#000000 70.0%,#a3a3a3 90.0%,#a6a6a6 100.0%)"></i><i style="left:1032px;width:6.5px;background:linear-gradient(0deg,#000000 70.0%,#a3a3a3 90.0%,#a6a6a6 100.0%)"></i><i style="left:1038px;width:6.5px;background:linear-gradient(0deg,#000000 70.0%,#a3a3a3 90.0%,#a6a6a6 100.0%)"></i><i style="left:1044px;width:6.5px;background:linear-gradient(0deg,#000000 70.0%,#a3a3a3 90.0%,#a6a6a6 100.0%)"></i><i style="left:1050px;width:6.5px;background:linear-gradient(0deg,#000000 70.0%,#a3a3a3 90.0%,#a6a6a6 100.0%)"></i><i style="left:1056px;width:6.5px;background:linear-gradient(0deg,#000000 70.0%,#a3a3a3 90.0%,#a6a6a6 100.0%)"></i><i style="left:1062px;width:6.5px;background:linear-gradient(0deg,#000000 70.0%,#a3a3a3 90.0%,#a6a6a6 100.0%)"></i><i style="left:1068px;width:6.5px;background:linear-gradient(0deg,#000000 70.0%,#a3a3a3 90.0%,#a6a6a6 100.0%)"></i><i style="left:1074px;width:6.5px;background:linear-gradient(0deg,#000000 70.0%,#a3a3a3 90.0%,#a6a6a6 100.0%)"></i><i style="left:1080px;width:6.5px;background:linear-gradient(0deg,#000000 70.0%,#a3a3a3 90.0%,#a6a6a6 100.0%)"></i><i style="left:1086px;width:6.5px;background:linear-gradient(0deg,#000000 70.0%,#a3a3a3 90.0%,#a6a6a6 100.0%)"></i><i style="left:1092px;width:6.5px;background:linear-gradient(0deg,#000000 70.0%,#a3a3a3 90.0%,#a6a6a6 100.0%)"></i><i style="left:1098px;width:6.5px;background:linear-gradient(0deg,#000000 70.0%,#a3a3a3 90.0%,#a6a6a6 100.0%)"></i><i style="left:1104px;width:6.5px;background:linear-gradient(0deg,#000000 70.0%,#a3a3a3 90.0%,#a6a6a6 100.0%)"></i><i style="left:1110px;width:6.5px;background:linear-gradient(0deg,#000000 70.0%,#a3a3a3 90.0%,#a6a6a6 100.0%)"></i><i style="left:1116px;width:6.5px;background:linear-gradient(0deg,#000000 70.0%,#a3a3a3 90.0%,#a6a6a6 100.0%)"></i><i style="left:1122px;width:6.5px;background:linear-gradient(0deg,#000000 70.0%,#a3a3a3 90.0%,#a6a6a6 100.0%)"></i><i style="left:1128px;width:6.5px;background:linear-gradient(0deg,#000000 70.0%,#a3a3a3 90.0%,#a6a6a6 100.0%)"></i><i style="left:1134px;width:6.5px;background:linear-gradient(0deg,#000000 70.0%,#a3a3a3 90.0%,#a6a6a6 100.0%)"></i><i style="left:1140px;width:6.5px;background:linear-gradient(0deg,#000000 70.0%,#a3a3a3 90.0%,#a6a6a6 100.0%)"></i><i style="left:1146px;width:6.5px;background:linear-gradient(0deg,#000000 70.0%,#a3a3a3 90.0%,#a6a6a6 100.0%)"></i><i style="left:1152px;width:6.5px;background:linear-gradient(0deg,#000000 70.0%,#a3a3a3 90.0%,#a6a6a6 100.0%)"></i><i style="left:1158px;width:6.5px;background:linear-gradient(0deg,#000000 70.0%,#a3a3a3 90.0%,#a6a6a6 100.0%)"></i><i style="left:1164px;width:6.5px;background:linear-gradient(0deg,#000000 70.0%,#a3a3a3 90.0%,#a6a6a6 100.0%)"></i><i style="left:1170px;width:6.5px;background:linear-gradient(0deg,#000000 70.0%,#a3a3a3 90.0%,#a6a6a6 100.0%)"></i><i style="left:1176px;width:6.5px;background:linear-gradient(0deg,#000000 70.0%,#a3a3a3 90.0%,#a6a6a6 100.0%)"></i><i style="left:1182px;width:6.5px;background:linear-gradient(0deg,#000000 70.0%,#a3a3a3 90.0%,#a6a6a6 100.0%)"></i><i style="left:1188px;width:6.5px;background:linear-gradient(0deg,#000000 70.0%,#a3a3a3 90.0%,#a6a6a6 100.0%)"></i><i style="left:1194px;width:6.5px;background:linear-gradient(0deg,#000000 70.0%,#a3a3a3 90.0%,#a6a6a6 100.0%)"></i><i style="left:1200px;width:6.5px;background:linear-gradient(0deg,#000000 70.0%,#a3a3a3 90.0%,#a6a6a6 100.0%)"></i><i style="left:1206px;width:6.5px;background:linear-gradient(0deg,#000000 70.0%,#a3a3a3 90.0%,#a6a6a6 100.0%)"></i><i style="left:1212px;width:6.5px;background:linear-gradient(0deg,#000000 70.0%,#a3a3a3 90.0%,#a6a6a6 100.0%)"></i><i style="left:1218px;width:6.5px;background:linear-gradient(0deg,#000000 70.0%,#a3a3a3 90.0%,#a6a6a6 100.0%)"></i><i style="left:1224px;width:6.5px;background:linear-gradient(0deg,#000000 70.0%,#a3a3a3 90.0%,#a6a6a6 100.0%)"></i><i style="left:1230px;width:6.5px;background:linear-gradient(0deg,#000000 70.0%,#a3a3a3 90.0%,#a6a6a6 100.0%)"></i><i style="left:1236px;width:6.5px;background:linear-gradient(0deg,#000000 70.0%,#a3a3a3 90.0%,#a6a6a6 100.0%)"></i><i style="left:1242px;width:6.5px;background:linear-gradient(0deg,#000000 70.0%,#a3a3a3 90.0%,#a6a6a6 100.0%)"></i><i style="left:1248px;width:6.5px;background:linear-gradient(0deg,#000000 70.0%,#a3a3a3 90.0%,#a6a6a6 100.0%)"></i><i style="left:1254px;width:6.5px;background:linear-gradient(0deg,#000000 70.0%,#a3a3a3 90.0%,#a6a6a6 100.0%)"></i><i style="left:1260px;width:6.5px;background:linear-gradient(0deg,#000000 50.0%,#acacac 60.0%,#adadad 70.0%,#b2b2b2 90.0%,#b3b3b3 100.0%)"></i><i style="left:1266px;width:6.5px;background:linear-gradient(0deg,#000000 50.0%,#b3b3b3 60.0%,#b6b6b6 100.0%)"></i><i style="left:1272px;width:6.5px;background:linear-gradient(0deg,#000000 50.0%,#b3b3b3 60.0%,#b6b6b6 100.0%)"></i></div><div style="position:absolute;left:172.20px;top:37.50px;width:1276.79px;height:411.00px;overflow:hidden;filter:url(#spkW)"><i style="left:0px;width:6.5px;background:linear-gradient(0deg,#000000 50.0%,#c5c5c5 55.0%,#cacaca 56.0%,#e6e6e6 62.0%,#e8e8e8 64.0%,#efefef 100.0%)"></i><i style="left:6px;width:6.5px;background:linear-gradient(0deg,#000000 50.0%,#c3c3c3 55.0%,#c9c9c9 56.0%,#e5e5e5 62.0%,#e7e7e7 64.0%,#efefef 100.0%)"></i><i style="left:12px;width:6.5px;background:linear-gradient(0deg,#000000 50.0%,#c1c1c1 55.0%,#c8c8c8 56.0%,#e5e5e5 62.0%,#e7e7e7 64.0%,#efefef 100.0%)"></i><i style="left:18px;width:6.5px;background:linear-gradient(0deg,#000000 50.0%,#c0c0c0 55.0%,#c6c6c6 56.0%,#e4e4e4 62.0%,#e7e7e7 64.0%,#efefef 100.0%)"></i><i style="left:24px;width:6.5px;background:linear-gradient(0deg,#000000 50.0%,#bebebe 55.0%,#c4c4c4 56.0%,#e3e3e3 62.0%,#e7e7e7 64.0%,#efefef 100.0%)"></i><i style="left:30px;width:6.5px;background:linear-gradient(0deg,#000000 50.0%,#bcbcbc 55.0%,#c1c1c1 56.0%,#e2e2e2 62.0%,#e7e7e7 64.0%,#efefef 100.0%)"></i><i style="left:36px;width:6.5px;background:linear-gradient(0deg,#000000 50.0%,#bbbbbb 55.0%,#bebebe 56.0%,#e1e1e1 62.0%,#e7e7e7 64.0%,#efefef 100.0%)"></i><i style="left:42px;width:6.5px;background:linear-gradient(0deg,#000000 50.0%,#bbbbbb 56.0%,#d0d0d0 60.0%,#e5e5e5 64.0%,#e6e6e6 66.0%,#e9e9e9 70.0%,#efefef 100.0%)"></i><i style="left:48px;width:6.5px;background:linear-gradient(0deg,#000000 50.0%,#b5b5b5 56.0%,#c8c8c8 60.0%,#dddddd 64.0%,#e2e2e2 66.0%,#eaeaea 70.0%,#efefef 100.0%)"></i><i style="left:54px;width:6.5px;background:linear-gradient(0deg,#000000 50.0%,#a8a8a8 56.0%,#b6b6b6 60.0%,#d0d0d0 64.0%,#dadada 66.0%,#ebebeb 70.0%,#efefef 100.0%)"></i><i style="left:60px;width:6.5px;background:linear-gradient(0deg,#000000 60.0%,#bcbcbc 62.0%,#d4d4d4 66.0%,#dcdcdc 67.0%,#ebebeb 70.0%,#ececec 72.0%,#efefef 100.0%)"></i><i style="left:66px;width:6.5px;background:linear-gradient(0deg,#000000 60.0%,#bababa 62.0%,#d4d4d4 66.0%,#dcdcdc 67.0%,#ebebeb 70.0%,#ececec 72.0%,#efefef 100.0%)"></i><i style="left:72px;width:6.5px;background:linear-gradient(0deg,#000000 60.0%,#b8b8b8 62.0%,#d4d4d4 66.0%,#dcdcdc 67.0%,#eaeaea 70.0%,#ededed 72.0%,#efefef 100.0%)"></i><i style="left:78px;width:6.5px;background:linear-gradient(0deg,#000000 60.0%,#b6b6b6 62.0%,#d3d3d3 66.0%,#dcdcdc 67.0%,#e9e9e9 70.0%,#ededed 72.0%,#efefef 100.0%)"></i><i style="left:84px;width:6.5px;background:linear-gradient(0deg,#000000 60.0%,#b4b4b4 62.0%,#d3d3d3 66.0%,#dcdcdc 67.0%,#e9e9e9 70.0%,#ededed 72.0%,#efefef 100.0%)"></i><i style="left:90px;width:6.5px;background:linear-gradient(0deg,#000000 60.0%,#b1b1b1 62.0%,#d3d3d3 66.0%,#dbdbdb 67.0%,#e8e8e8 70.0%,#ededed 72.0%,#efefef 100.0%)"></i><i style="left:96px;width:6.5px;background:linear-gradient(0deg,#000000 60.0%,#ababab 62.0%,#d2d2d2 66.0%,#dbdbdb 67.0%,#e7e7e7 70.0%,#ededed 72.0%,#efefef 100.0%)"></i><i style="left:102px;width:6.5px;background:linear-gradient(0deg,#000000 60.0%,#a6a6a6 62.0%,#d2d2d2 66.0%,#dbdbdb 67.0%,#e7e7e7 70.0%,#ededed 72.0%,#efefef 100.0%)"></i><i style="left:108px;width:6.5px;background:linear-gradient(0deg,#000000 60.0%,#9b9b9b 62.0%,#d2d2d2 66.0%,#dbdbdb 67.0%,#e6e6e6 70.0%,#eeeeee 72.0%,#efefef 100.0%)"></i><i style="left:114px;width:6.5px;background:linear-gradient(0deg,#000000 62.0%,#d3d3d3 67.0%,#e2e2e2 70.0%,#e6e6e6 72.0%,#ececec 80.0%,#ebebeb 90.0%,#e9e9e9 100.0%)"></i><i style="left:120px;width:6.5px;background:linear-gradient(0deg,#000000 62.0%,#cbcbcb 67.0%,#d7d7d7 70.0%,#dddddd 72.0%,#e8e8e8 80.0%,#e5e5e5 90.0%,#dfdfdf 100.0%)"></i><i style="left:126px;width:6.5px;background:linear-gradient(0deg,#000000 50.0%,#b9b9b9 56.0%,#bfbfbf 62.0%,#cccccc 65.0%,#dadada 70.0%,#e2e2e2 75.0%,#e2e2e2 80.0%,#dfdfdf 82.0%,#dbdbdb 90.0%,#d1d1d1 100.0%)"></i><i style="left:132px;width:6.5px;background:linear-gradient(0deg,#000000 50.0%,#c9c9c9 56.0%,#d0d0d0 62.0%,#dadada 65.0%,#e1e1e1 70.0%,#e3e3e3 75.0%,#d5d5d5 80.0%,#cecece 82.0%,#cccccc 90.0%,#c8c8c8 100.0%)"></i><i style="left:138px;width:6.5px;background:linear-gradient(0deg,#000000 50.0%,#d2d2d2 56.0%,#e2e2e2 62.0%,#e5e5e5 65.0%,#e5e5e5 70.0%,#e4e4e4 75.0%,#cbcbcb 80.0%,#bdbdbd 82.0%,#bababa 90.0%,#b7b7b7 100.0%)"></i><i style="left:144px;width:6.5px;background:linear-gradient(0deg,#000000 45.0%,#b1b1b1 50.0%,#c3c3c3 52.0%,#d6d6d6 56.0%,#e1e1e1 60.0%,#e7e7e7 65.0%,#e4e4e4 75.0%,#c8c8c8 80.0%,#b9b9b9 82.0%,#b4b4b4 100.0%)"></i><i style="left:150px;width:6.5px;background:linear-gradient(0deg,#000000 45.0%,#bababa 50.0%,#c9c9c9 52.0%,#d9d9d9 56.0%,#e3e3e3 60.0%,#e7e7e7 65.0%,#e5e5e5 75.0%,#c5c5c5 80.0%,#b9b9b9 82.0%,#b4b4b4 100.0%)"></i><i style="left:156px;width:6.5px;background:linear-gradient(0deg,#000000 45.0%,#c1c1c1 50.0%,#cccccc 52.0%,#dcdcdc 56.0%,#e4e4e4 60.0%,#e7e7e7 65.0%,#e5e5e5 75.0%,#c1c1c1 80.0%,#b9b9b9 82.0%,#b4b4b4 100.0%)"></i><i style="left:162px;width:6.5px;background:linear-gradient(0deg,#000000 45.0%,#c8c8c8 50.0%,#d0d0d0 52.0%,#dfdfdf 56.0%,#e5e5e5 60.0%,#e7e7e7 65.0%,#e6e6e6 75.0%,#bdbdbd 80.0%,#b9b9b9 82.0%,#b4b4b4 100.0%)"></i><i style="left:168px;width:6.5px;background:linear-gradient(0deg,#000000 44.0%,#000000 45.0%,#d4d4d4 52.0%,#e7e7e7 60.0%,#e7e7e7 75.0%,#b9b9b9 80.0%,#b4b4b4 100.0%)"></i><i style="left:174px;width:6.5px;background:linear-gradient(0deg,#000000 44.0%,#a0a0a0 45.0%,#d6d6d6 52.0%,#e7e7e7 60.0%,#e6e6e6 75.0%,#b9b9b9 80.0%,#b4b4b4 100.0%)"></i><i style="left:180px;width:6.5px;background:linear-gradient(0deg,#000000 44.0%,#a7a7a7 45.0%,#d7d7d7 52.0%,#e7e7e7 60.0%,#e5e5e5 75.0%,#b9b9b9 80.0%,#b4b4b4 100.0%)"></i><i style="left:186px;width:6.5px;background:linear-gradient(0deg,#000000 44.0%,#acacac 45.0%,#d8d8d8 52.0%,#e7e7e7 60.0%,#e5e5e5 75.0%,#b9b9b9 80.0%,#b4b4b4 100.0%)"></i><i style="left:192px;width:6.5px;background:linear-gradient(0deg,#000000 44.0%,#b0b0b0 45.0%,#dadada 52.0%,#e7e7e7 60.0%,#e4e4e4 75.0%,#b9b9b9 80.0%,#b4b4b4 100.0%)"></i><i style="left:198px;width:6.5px;background:linear-gradient(0deg,#000000 44.0%,#bababa 46.0%,#dadada 52.0%,#e1e1e1 55.0%,#e7e7e7 60.0%,#e5e5e5 65.0%,#e4e4e4 72.0%,#e3e3e3 75.0%,#b9b9b9 80.0%,#b5b5b5 100.0%)"></i><i style="left:204px;width:6.5px;background:linear-gradient(0deg,#000000 44.0%,#b8b8b8 46.0%,#d7d7d7 52.0%,#e0e0e0 55.0%,#e5e5e5 60.0%,#e5e5e5 65.0%,#e2e2e2 72.0%,#e1e1e1 75.0%,#bababa 80.0%,#b7b7b7 100.0%)"></i><i style="left:210px;width:6.5px;background:linear-gradient(0deg,#000000 44.0%,#b5b5b5 46.0%,#d4d4d4 52.0%,#dddddd 55.0%,#e4e4e4 60.0%,#e5e5e5 65.0%,#e1e1e1 72.0%,#dddddd 75.0%,#bbbbbb 80.0%,#b9b9b9 100.0%)"></i><i style="left:216px;width:6.5px;background:linear-gradient(0deg,#000000 44.0%,#b2b2b2 46.0%,#d1d1d1 52.0%,#dadada 55.0%,#e3e3e3 60.0%,#e5e5e5 65.0%,#dedede 72.0%,#d8d8d8 75.0%,#bbbbbb 80.0%,#bbbbbb 100.0%)"></i><i style="left:222px;width:6.5px;background:linear-gradient(0deg,#000000 44.0%,#aaaaaa 46.0%,#cecece 52.0%,#d8d8d8 55.0%,#e2e2e2 60.0%,#e4e4e4 65.0%,#dadada 72.0%,#d3d3d3 75.0%,#bcbcbc 80.0%,#bdbdbd 100.0%)"></i><i style="left:228px;width:6.5px;background:linear-gradient(0deg,#000000 44.0%,#a1a1a1 46.0%,#cccccc 52.0%,#d6d6d6 55.0%,#e0e0e0 60.0%,#e4e4e4 65.0%,#d6d6d6 72.0%,#cfcfcf 75.0%,#bcbcbc 80.0%,#bfbfbf 100.0%)"></i><i style="left:234px;width:6.5px;background:linear-gradient(0deg,#000000 46.0%,#d0d0d0 55.0%,#dddddd 62.0%,#e2e2e2 65.0%,#d8d8d8 70.0%,#d4d4d4 72.0%,#c0c0c0 80.0%,#c5c5c5 100.0%)"></i><i style="left:240px;width:6.5px;background:linear-gradient(0deg,#000000 46.0%,#c7c7c7 55.0%,#d0d0d0 62.0%,#d6d6d6 65.0%,#d4d4d4 70.0%,#d2d2d2 72.0%,#c9c9c9 80.0%,#cbcbcb 100.0%)"></i><i style="left:246px;width:6.5px;background:linear-gradient(0deg,#000000 46.0%,#b5b5b5 55.0%,#c7c7c7 62.0%,#cbcbcb 65.0%,#d0d0d0 70.0%,#d0d0d0 72.0%,#cecece 80.0%,#d0d0d0 100.0%)"></i><i style="left:252px;width:6.5px;background:linear-gradient(0deg,#000000 45.0%,#a3a3a3 55.0%,#bbbbbb 60.0%,#bfbfbf 62.0%,#cfcfcf 70.0%,#d5d5d5 100.0%)"></i><i style="left:258px;width:6.5px;background:linear-gradient(0deg,#000000 45.0%,#b1b1b1 55.0%,#c2c2c2 60.0%,#c6c6c6 62.0%,#d0d0d0 70.0%,#d5d5d5 100.0%)"></i><i style="left:264px;width:6.5px;background:linear-gradient(0deg,#000000 45.0%,#b7b7b7 55.0%,#c8c8c8 60.0%,#c9c9c9 62.0%,#d1d1d1 70.0%,#d6d6d6 100.0%)"></i><i style="left:270px;width:6.5px;background:linear-gradient(0deg,#000000 45.0%,#bbbbbb 55.0%,#cbcbcb 60.0%,#cccccc 62.0%,#d2d2d2 70.0%,#d7d7d7 100.0%)"></i><i style="left:276px;width:6.5px;background:linear-gradient(0deg,#000000 45.0%,#bfbfbf 55.0%,#cfcfcf 60.0%,#cfcfcf 62.0%,#d4d4d4 70.0%,#d7d7d7 100.0%)"></i><i style="left:282px;width:6.5px;background:linear-gradient(0deg,#000000 45.0%,#c4c4c4 55.0%,#d3d3d3 60.0%,#d3d3d3 62.0%,#d5d5d5 70.0%,#d8d8d8 100.0%)"></i><i style="left:288px;width:6.5px;background:linear-gradient(0deg,#000000 45.0%,#c6c6c6 55.0%,#d4d4d4 60.0%,#d8d8d8 100.0%)"></i><i style="left:294px;width:6.5px;background:linear-gradient(0deg,#000000 45.0%,#c6c6c6 55.0%,#d4d4d4 60.0%,#d8d8d8 100.0%)"></i><i style="left:300px;width:6.5px;background:linear-gradient(0deg,#000000 45.0%,#c6c6c6 55.0%,#d4d4d4 60.0%,#d8d8d8 100.0%)"></i><i style="left:306px;width:6.5px;background:linear-gradient(0deg,#000000 45.0%,#c6c6c6 55.0%,#d4d4d4 60.0%,#d8d8d8 100.0%)"></i><i style="left:312px;width:6.5px;background:linear-gradient(0deg,#000000 45.0%,#c6c6c6 55.0%,#d4d4d4 60.0%,#d8d8d8 100.0%)"></i><i style="left:318px;width:6.5px;background:linear-gradient(0deg,#000000 45.0%,#c6c6c6 55.0%,#d4d4d4 60.0%,#d8d8d8 100.0%)"></i><i style="left:324px;width:6.5px;background:linear-gradient(0deg,#000000 45.0%,#c6c6c6 55.0%,#d4d4d4 60.0%,#d8d8d8 100.0%)"></i><i style="left:330px;width:6.5px;background:linear-gradient(0deg,#000000 45.0%,#c6c6c6 55.0%,#d4d4d4 60.0%,#d8d8d8 100.0%)"></i><i style="left:336px;width:6.5px;background:linear-gradient(0deg,#000000 45.0%,#c6c6c6 55.0%,#d4d4d4 60.0%,#d8d8d8 100.0%)"></i><i style="left:342px;width:6.5px;background:linear-gradient(0deg,#000000 45.0%,#c6c6c6 55.0%,#d4d4d4 60.0%,#d8d8d8 100.0%)"></i><i style="left:348px;width:6.5px;background:linear-gradient(0deg,#000000 45.0%,#b9b9b9 55.0%,#c6c6c6 60.0%,#c9c9c9 80.0%,#cacaca 100.0%)"></i><i style="left:354px;width:6.5px;background:linear-gradient(0deg,#000000 60.0%,#b4b4b4 80.0%,#b4b4b4 100.0%)"></i><i style="left:360px;width:6.5px;background:linear-gradient(0deg,#000000 60.0%,#b4b4b4 80.0%,#b6b6b6 100.0%)"></i><i style="left:366px;width:6.5px;background:linear-gradient(0deg,#000000 60.0%,#b4b4b4 80.0%,#b8b8b8 100.0%)"></i><i style="left:372px;width:6.5px;background:linear-gradient(0deg,#000000 60.0%,#b4b4b4 80.0%,#bababa 100.0%)"></i><i style="left:378px;width:6.5px;background:linear-gradient(0deg,#000000 60.0%,#b4b4b4 80.0%,#bbbbbb 100.0%)"></i><i style="left:384px;width:6.5px;background:linear-gradient(0deg,#000000 55.0%,#9c9c9c 60.0%,#a8a8a8 65.0%,#b5b5b5 75.0%,#b8b8b8 80.0%,#bfbfbf 100.0%)"></i><i style="left:390px;width:6.5px;background:linear-gradient(0deg,#000000 55.0%,#adadad 60.0%,#b7b7b7 65.0%,#c8c8c8 75.0%,#c8c8c8 80.0%,#cacaca 100.0%)"></i><i style="left:396px;width:6.5px;background:linear-gradient(0deg,#000000 55.0%,#bdbdbd 65.0%,#cfcfcf 75.0%,#cfcfcf 100.0%)"></i><i style="left:402px;width:6.5px;background:linear-gradient(0deg,#000000 55.0%,#bdbdbd 65.0%,#cfcfcf 75.0%,#cfcfcf 100.0%)"></i><i style="left:408px;width:6.5px;background:linear-gradient(0deg,#000000 55.0%,#bdbdbd 65.0%,#cfcfcf 75.0%,#cfcfcf 100.0%)"></i><i style="left:414px;width:6.5px;background:linear-gradient(0deg,#000000 55.0%,#bdbdbd 65.0%,#cfcfcf 75.0%,#cfcfcf 100.0%)"></i><i style="left:420px;width:6.5px;background:linear-gradient(0deg,#000000 55.0%,#bdbdbd 65.0%,#cfcfcf 75.0%,#cfcfcf 100.0%)"></i><i style="left:426px;width:6.5px;background:linear-gradient(0deg,#000000 55.0%,#bdbdbd 65.0%,#cfcfcf 75.0%,#cfcfcf 100.0%)"></i><i style="left:432px;width:6.5px;background:linear-gradient(0deg,#000000 55.0%,#bdbdbd 65.0%,#cfcfcf 75.0%,#cfcfcf 100.0%)"></i><i style="left:438px;width:6.5px;background:linear-gradient(0deg,#000000 55.0%,#bdbdbd 65.0%,#cfcfcf 75.0%,#cfcfcf 100.0%)"></i><i style="left:444px;width:6.5px;background:linear-gradient(0deg,#000000 55.0%,#bdbdbd 65.0%,#cfcfcf 75.0%,#cfcfcf 100.0%)"></i><i style="left:450px;width:6.5px;background:linear-gradient(0deg,#000000 55.0%,#bdbdbd 65.0%,#cfcfcf 75.0%,#cfcfcf 100.0%)"></i><i style="left:456px;width:6.5px;background:linear-gradient(0deg,#000000 55.0%,#bdbdbd 65.0%,#cfcfcf 75.0%,#cfcfcf 100.0%)"></i><i style="left:462px;width:6.5px;background:linear-gradient(0deg,#000000 55.0%,#bdbdbd 65.0%,#cfcfcf 75.0%,#cfcfcf 100.0%)"></i><i style="left:468px;width:6.5px;background:linear-gradient(0deg,#000000 55.0%,#bdbdbd 65.0%,#cfcfcf 75.0%,#cfcfcf 100.0%)"></i><i style="left:474px;width:6.5px;background:linear-gradient(0deg,#000000 55.0%,#bdbdbd 65.0%,#cfcfcf 75.0%,#cfcfcf 100.0%)"></i><i style="left:480px;width:6.5px;background:linear-gradient(0deg,#000000 45.0%,#b8b8b8 50.0%,#bebebe 55.0%,#c8c8c8 60.0%,#cbcbcb 65.0%,#d5d5d5 75.0%,#d7d7d7 100.0%)"></i><i style="left:486px;width:6.5px;background:linear-gradient(0deg,#000000 45.0%,#c8c8c8 50.0%,#d0d0d0 55.0%,#dbdbdb 60.0%,#dddddd 65.0%,#e1e1e1 75.0%,#e2e2e2 100.0%)"></i><i style="left:492px;width:6.5px;background:linear-gradient(0deg,#000000 40.0%,#a6a6a6 45.0%,#cccccc 50.0%,#e2e2e2 60.0%,#e4e4e4 100.0%)"></i><i style="left:498px;width:6.5px;background:linear-gradient(0deg,#000000 40.0%,#b0b0b0 45.0%,#cecece 50.0%,#e2e2e2 60.0%,#e5e5e5 100.0%)"></i><i style="left:504px;width:6.5px;background:linear-gradient(0deg,#000000 40.0%,#b5b5b5 45.0%,#d0d0d0 50.0%,#e3e3e3 60.0%,#e6e6e6 100.0%)"></i><i style="left:510px;width:6.5px;background:linear-gradient(0deg,#000000 40.0%,#b9b9b9 45.0%,#d2d2d2 50.0%,#e4e4e4 60.0%,#e8e8e8 100.0%)"></i><i style="left:516px;width:6.5px;background:linear-gradient(0deg,#000000 40.0%,#bcbcbc 45.0%,#d4d4d4 50.0%,#e5e5e5 60.0%,#e9e9e9 100.0%)"></i><i style="left:522px;width:6.5px;background:linear-gradient(0deg,#000000 40.0%,#c0c0c0 45.0%,#d7d7d7 50.0%,#e6e6e6 60.0%,#ebebeb 100.0%)"></i><i style="left:528px;width:6.5px;background:linear-gradient(0deg,#000000 40.0%,#c4c4c4 45.0%,#d9d9d9 50.0%,#e7e7e7 60.0%,#ececec 100.0%)"></i><i style="left:534px;width:6.5px;background:linear-gradient(0deg,#000000 40.0%,#c7c7c7 45.0%,#dcdcdc 50.0%,#e9e9e9 60.0%,#ededed 100.0%)"></i><i style="left:540px;width:6.5px;background:linear-gradient(0deg,#000000 40.0%,#c9c9c9 45.0%,#dfdfdf 50.0%,#eaeaea 60.0%,#eeeeee 100.0%)"></i><i style="left:546px;width:6.5px;background:linear-gradient(0deg,#000000 38.0%,#000000 40.0%,#cbcbcb 45.0%,#e1e1e1 50.0%,#ececec 60.0%,#eeeeee 100.0%)"></i><i style="left:552px;width:6.5px;background:linear-gradient(0deg,#000000 38.0%,#a6a6a6 40.0%,#cbcbcb 45.0%,#e3e3e3 50.0%,#ececec 60.0%,#eeeeee 100.0%)"></i><i style="left:558px;width:6.5px;background:linear-gradient(0deg,#000000 38.0%,#adadad 40.0%,#cccccc 45.0%,#e5e5e5 50.0%,#ececec 60.0%,#efefef 100.0%)"></i><i style="left:564px;width:6.5px;background:linear-gradient(0deg,#000000 38.0%,#b3b3b3 40.0%,#cdcdcd 45.0%,#e7e7e7 50.0%,#ededed 60.0%,#efefef 100.0%)"></i><i style="left:570px;width:6.5px;background:linear-gradient(0deg,#000000 38.0%,#b6b6b6 40.0%,#cecece 45.0%,#eaeaea 50.0%,#ededed 60.0%,#efefef 100.0%)"></i><i style="left:576px;width:6.5px;background:linear-gradient(0deg,#000000 38.0%,#b8b8b8 40.0%,#cfcfcf 45.0%,#ececec 50.0%,#efefef 100.0%)"></i><i style="left:582px;width:6.5px;background:linear-gradient(0deg,#000000 38.0%,#b7b7b7 40.0%,#cfcfcf 45.0%,#ececec 50.0%,#efefef 100.0%)"></i><i style="left:588px;width:6.5px;background:linear-gradient(0deg,#000000 38.0%,#b7b7b7 40.0%,#cfcfcf 45.0%,#ececec 50.0%,#efefef 100.0%)"></i><i style="left:594px;width:6.5px;background:linear-gradient(0deg,#000000 38.0%,#b6b6b6 40.0%,#cfcfcf 45.0%,#ececec 50.0%,#efefef 100.0%)"></i><i style="left:600px;width:6.5px;background:linear-gradient(0deg,#000000 38.0%,#b5b5b5 40.0%,#cfcfcf 45.0%,#ececec 50.0%,#efefef 100.0%)"></i><i style="left:606px;width:6.5px;background:linear-gradient(0deg,#000000 38.0%,#b5b5b5 40.0%,#cfcfcf 45.0%,#ececec 50.0%,#efefef 100.0%)"></i><i style="left:612px;width:6.5px;background:linear-gradient(0deg,#000000 38.0%,#b4b4b4 40.0%,#cfcfcf 45.0%,#ececec 50.0%,#efefef 100.0%)"></i><i style="left:618px;width:6.5px;background:linear-gradient(0deg,#000000 38.0%,#b3b3b3 40.0%,#cfcfcf 45.0%,#ececec 50.0%,#efefef 100.0%)"></i><i style="left:624px;width:6.5px;background:linear-gradient(0deg,#000000 38.0%,#b3b3b3 40.0%,#cfcfcf 45.0%,#ececec 50.0%,#efefef 100.0%)"></i><i style="left:630px;width:6.5px;background:linear-gradient(0deg,#000000 38.0%,#b1b1b1 40.0%,#cfcfcf 45.0%,#ececec 50.0%,#efefef 100.0%)"></i><i style="left:636px;width:6.5px;background:linear-gradient(0deg,#000000 38.0%,#afafaf 40.0%,#cfcfcf 45.0%,#ececec 50.0%,#efefef 100.0%)"></i><i style="left:642px;width:6.5px;background:linear-gradient(0deg,#000000 38.0%,#adadad 40.0%,#cfcfcf 45.0%,#ececec 50.0%,#efefef 100.0%)"></i><i style="left:648px;width:6.5px;background:linear-gradient(0deg,#000000 38.0%,#ababab 40.0%,#cfcfcf 45.0%,#ececec 50.0%,#efefef 100.0%)"></i><i style="left:654px;width:6.5px;background:linear-gradient(0deg,#000000 38.0%,#aaaaaa 40.0%,#cfcfcf 45.0%,#ececec 50.0%,#efefef 100.0%)"></i><i style="left:660px;width:6.5px;background:linear-gradient(0deg,#000000 38.0%,#a8a8a8 40.0%,#cfcfcf 45.0%,#ececec 50.0%,#efefef 100.0%)"></i><i style="left:666px;width:6.5px;background:linear-gradient(0deg,#000000 38.0%,#a6a6a6 40.0%,#cfcfcf 45.0%,#ececec 50.0%,#efefef 100.0%)"></i><i style="left:672px;width:6.5px;background:linear-gradient(0deg,#000000 38.0%,#a3a3a3 40.0%,#cfcfcf 45.0%,#ececec 50.0%,#efefef 100.0%)"></i><i style="left:678px;width:6.5px;background:linear-gradient(0deg,#000000 38.0%,#9f9f9f 40.0%,#cfcfcf 45.0%,#ececec 50.0%,#efefef 100.0%)"></i><i style="left:684px;width:6.5px;background:linear-gradient(0deg,#000000 38.0%,#9c9c9c 40.0%,#cfcfcf 45.0%,#ececec 50.0%,#efefef 100.0%)"></i><i style="left:690px;width:6.5px;background:linear-gradient(0deg,#000000 38.0%,#000000 40.0%,#cfcfcf 45.0%,#ececec 50.0%,#efefef 100.0%)"></i><i style="left:696px;width:6.5px;background:linear-gradient(0deg,#000000 40.0%,#c8c8c8 45.0%,#e2e2e2 50.0%,#e5e5e5 55.0%,#eaeaea 60.0%,#efefef 100.0%)"></i><i style="left:702px;width:6.5px;background:linear-gradient(0deg,#000000 40.0%,#b6b6b6 45.0%,#cfcfcf 50.0%,#dddddd 55.0%,#e5e5e5 60.0%,#efefef 100.0%)"></i><i style="left:708px;width:6.5px;background:linear-gradient(0deg,#000000 45.0%,#cfcfcf 55.0%,#e2e2e2 60.0%,#e5e5e5 65.0%,#efefef 100.0%)"></i><i style="left:714px;width:6.5px;background:linear-gradient(0deg,#000000 45.0%,#c1c1c1 55.0%,#dcdcdc 60.0%,#e4e4e4 65.0%,#efefef 100.0%)"></i><i style="left:720px;width:6.5px;background:linear-gradient(0deg,#000000 55.0%,#d4d4d4 60.0%,#e4e4e4 65.0%,#e6e6e6 72.0%,#e8e8e8 78.0%,#efefef 100.0%)"></i><i style="left:726px;width:6.5px;background:linear-gradient(0deg,#000000 55.0%,#cccccc 60.0%,#d8d8d8 65.0%,#e3e3e3 72.0%,#e7e7e7 78.0%,#efefef 100.0%)"></i><i style="left:732px;width:6.5px;background:linear-gradient(0deg,#000000 55.0%,#c5c5c5 60.0%,#cccccc 65.0%,#e0e0e0 72.0%,#e5e5e5 78.0%,#efefef 100.0%)"></i><i style="left:738px;width:6.5px;background:linear-gradient(0deg,#000000 55.0%,#b7b7b7 60.0%,#bdbdbd 65.0%,#dadada 72.0%,#e4e4e4 78.0%,#efefef 100.0%)"></i><i style="left:744px;width:6.5px;background:linear-gradient(0deg,#000000 65.0%,#d3d3d3 72.0%,#e3e3e3 78.0%,#e6e6e6 85.0%,#eaeaea 90.0%,#efefef 100.0%)"></i><i style="left:750px;width:6.5px;background:linear-gradient(0deg,#000000 65.0%,#cccccc 72.0%,#d7d7d7 78.0%,#dcdcdc 85.0%,#e5e5e5 90.0%,#ececec 100.0%)"></i><i style="left:756px;width:6.5px;background:linear-gradient(0deg,#000000 65.0%,#c3c3c3 72.0%,#cbcbcb 78.0%,#cdcdcd 85.0%,#e1e1e1 90.0%,#e7e7e7 100.0%)"></i><i style="left:762px;width:6.5px;background:linear-gradient(0deg,#000000 65.0%,#b6b6b6 72.0%,#bababa 78.0%,#bcbcbc 85.0%,#dadada 90.0%,#e3e3e3 100.0%)"></i><i style="left:768px;width:6.5px;background:linear-gradient(0deg,#000000 70.0%,#a1a1a1 85.0%,#d1d1d1 90.0%,#dddddd 100.0%)"></i><i style="left:774px;width:6.5px;background:linear-gradient(0deg,#000000 70.0%,#b4b4b4 85.0%,#c8c8c8 90.0%,#cccccc 100.0%)"></i><i style="left:780px;width:6.5px;background:linear-gradient(0deg,#000000 60.0%,#999999 70.0%,#b4b4b4 80.0%,#bdbdbd 90.0%,#c0c0c0 100.0%)"></i><i style="left:786px;width:6.5px;background:linear-gradient(0deg,#000000 60.0%,#9c9c9c 70.0%,#b5b5b5 80.0%,#bdbdbd 90.0%,#c1c1c1 100.0%)"></i><i style="left:792px;width:6.5px;background:linear-gradient(0deg,#000000 60.0%,#9f9f9f 70.0%,#b6b6b6 80.0%,#bdbdbd 90.0%,#c1c1c1 100.0%)"></i><i style="left:798px;width:6.5px;background:linear-gradient(0deg,#000000 60.0%,#a2a2a2 70.0%,#b6b6b6 80.0%,#bebebe 90.0%,#c1c1c1 100.0%)"></i><i style="left:804px;width:6.5px;background:linear-gradient(0deg,#000000 60.0%,#a6a6a6 70.0%,#b7b7b7 80.0%,#bebebe 90.0%,#c2c2c2 100.0%)"></i><i style="left:810px;width:6.5px;background:linear-gradient(0deg,#000000 60.0%,#a7a7a7 70.0%,#b7b7b7 80.0%,#bebebe 90.0%,#c2c2c2 100.0%)"></i><i style="left:816px;width:6.5px;background:linear-gradient(0deg,#000000 60.0%,#a9a9a9 70.0%,#b8b8b8 80.0%,#bebebe 90.0%,#c3c3c3 100.0%)"></i><i style="left:822px;width:6.5px;background:linear-gradient(0deg,#000000 60.0%,#ababab 70.0%,#b9b9b9 80.0%,#bfbfbf 90.0%,#c3c3c3 100.0%)"></i><i style="left:828px;width:6.5px;background:linear-gradient(0deg,#000000 60.0%,#acacac 70.0%,#b9b9b9 80.0%,#bfbfbf 90.0%,#c4c4c4 100.0%)"></i><i style="left:834px;width:6.5px;background:linear-gradient(0deg,#000000 60.0%,#aeaeae 70.0%,#bababa 80.0%,#bfbfbf 90.0%,#c4c4c4 100.0%)"></i><i style="left:840px;width:6.5px;background:linear-gradient(0deg,#000000 60.0%,#b0b0b0 70.0%,#bababa 80.0%,#c0c0c0 90.0%,#c4c4c4 100.0%)"></i><i style="left:846px;width:6.5px;background:linear-gradient(0deg,#000000 60.0%,#b1b1b1 70.0%,#bbbbbb 80.0%,#c0c0c0 90.0%,#c5c5c5 100.0%)"></i><i style="left:852px;width:6.5px;background:linear-gradient(0deg,#000000 60.0%,#b3b3b3 70.0%,#bbbbbb 80.0%,#c0c0c0 90.0%,#c5c5c5 100.0%)"></i><i style="left:858px;width:6.5px;background:linear-gradient(0deg,#000000 60.0%,#b3b3b3 70.0%,#bcbcbc 80.0%,#c1c1c1 90.0%,#c6c6c6 100.0%)"></i><i style="left:864px;width:6.5px;background:linear-gradient(0deg,#000000 60.0%,#b4b4b4 70.0%,#bdbdbd 80.0%,#c1c1c1 90.0%,#c6c6c6 100.0%)"></i><i style="left:870px;width:6.5px;background:linear-gradient(0deg,#000000 60.0%,#bdbdbd 80.0%,#c6c6c6 100.0%)"></i><i style="left:876px;width:6.5px;background:linear-gradient(0deg,#000000 60.0%,#bdbdbd 80.0%,#c6c6c6 100.0%)"></i><i style="left:882px;width:6.5px;background:linear-gradient(0deg,#000000 60.0%,#bdbdbd 80.0%,#c6c6c6 100.0%)"></i><i style="left:888px;width:6.5px;background:linear-gradient(0deg,#000000 60.0%,#bdbdbd 80.0%,#c6c6c6 100.0%)"></i><i style="left:894px;width:6.5px;background:linear-gradient(0deg,#000000 60.0%,#bdbdbd 80.0%,#c6c6c6 100.0%)"></i><i style="left:900px;width:6.5px;background:linear-gradient(0deg,#000000 60.0%,#bdbdbd 80.0%,#c6c6c6 100.0%)"></i><i style="left:906px;width:6.5px;background:linear-gradient(0deg,#000000 60.0%,#bdbdbd 80.0%,#c6c6c6 100.0%)"></i><i style="left:912px;width:6.5px;background:linear-gradient(0deg,#000000 60.0%,#bdbdbd 80.0%,#c6c6c6 100.0%)"></i><i style="left:918px;width:6.5px;background:linear-gradient(0deg,#000000 60.0%,#bdbdbd 80.0%,#c6c6c6 100.0%)"></i><i style="left:924px;width:6.5px;background:linear-gradient(0deg,#000000 60.0%,#bdbdbd 80.0%,#c6c6c6 100.0%)"></i><i style="left:930px;width:6.5px;background:linear-gradient(0deg,#000000 60.0%,#bdbdbd 80.0%,#c6c6c6 100.0%)"></i><i style="left:936px;width:6.5px;background:linear-gradient(0deg,#000000 60.0%,#bdbdbd 80.0%,#c6c6c6 100.0%)"></i><i style="left:942px;width:6.5px;background:linear-gradient(0deg,#000000 60.0%,#bdbdbd 80.0%,#c6c6c6 100.0%)"></i><i style="left:948px;width:6.5px;background:linear-gradient(0deg,#000000 60.0%,#bdbdbd 80.0%,#c6c6c6 100.0%)"></i><i style="left:954px;width:6.5px;background:linear-gradient(0deg,#000000 60.0%,#bdbdbd 80.0%,#c6c6c6 100.0%)"></i><i style="left:960px;width:6.5px;background:linear-gradient(0deg,#000000 60.0%,#bdbdbd 80.0%,#c6c6c6 100.0%)"></i><i style="left:966px;width:6.5px;background:linear-gradient(0deg,#000000 60.0%,#bdbdbd 80.0%,#c6c6c6 100.0%)"></i><i style="left:972px;width:6.5px;background:linear-gradient(0deg,#000000 60.0%,#bdbdbd 80.0%,#c6c6c6 100.0%)"></i><i style="left:978px;width:6.5px;background:linear-gradient(0deg,#000000 60.0%,#bdbdbd 80.0%,#c6c6c6 100.0%)"></i><i style="left:984px;width:6.5px;background:linear-gradient(0deg,#000000 60.0%,#b3b3b3 70.0%,#bcbcbc 80.0%,#c0c0c0 90.0%,#c4c4c4 100.0%)"></i><i style="left:990px;width:6.5px;background:linear-gradient(0deg,#000000 60.0%,#b0b0b0 70.0%,#b9b9b9 80.0%,#bdbdbd 90.0%,#c0c0c0 100.0%)"></i><i style="left:996px;width:6.5px;background:linear-gradient(0deg,#000000 60.0%,#ababab 70.0%,#b6b6b6 80.0%,#bababa 90.0%,#bdbdbd 100.0%)"></i><i style="left:1002px;width:6.5px;background:linear-gradient(0deg,#000000 60.0%,#a5a5a5 70.0%,#b3b3b3 80.0%,#b7b7b7 90.0%,#b9b9b9 100.0%)"></i><i style="left:1008px;width:6.5px;background:linear-gradient(0deg,#000000 60.0%,#9c9c9c 70.0%,#acacac 80.0%,#b4b4b4 90.0%,#b6b6b6 100.0%)"></i><i style="left:1014px;width:6.5px;background:linear-gradient(0deg,#000000 70.0%,#b2b2b2 90.0%,#b4b4b4 100.0%)"></i><i style="left:1020px;width:6.5px;background:linear-gradient(0deg,#000000 70.0%,#b2b2b2 90.0%,#b4b4b4 100.0%)"></i><i style="left:1026px;width:6.5px;background:linear-gradient(0deg,#000000 70.0%,#b2b2b2 90.0%,#b4b4b4 100.0%)"></i><i style="left:1032px;width:6.5px;background:linear-gradient(0deg,#000000 70.0%,#b2b2b2 90.0%,#b4b4b4 100.0%)"></i><i style="left:1038px;width:6.5px;background:linear-gradient(0deg,#000000 70.0%,#b2b2b2 90.0%,#b4b4b4 100.0%)"></i><i style="left:1044px;width:6.5px;background:linear-gradient(0deg,#000000 70.0%,#b2b2b2 90.0%,#b4b4b4 100.0%)"></i><i style="left:1050px;width:6.5px;background:linear-gradient(0deg,#000000 70.0%,#b2b2b2 90.0%,#b4b4b4 100.0%)"></i><i style="left:1056px;width:6.5px;background:linear-gradient(0deg,#000000 70.0%,#b2b2b2 90.0%,#b4b4b4 100.0%)"></i><i style="left:1062px;width:6.5px;background:linear-gradient(0deg,#000000 70.0%,#b2b2b2 90.0%,#b4b4b4 100.0%)"></i><i style="left:1068px;width:6.5px;background:linear-gradient(0deg,#000000 70.0%,#b2b2b2 90.0%,#b4b4b4 100.0%)"></i><i style="left:1074px;width:6.5px;background:linear-gradient(0deg,#000000 70.0%,#b2b2b2 90.0%,#b4b4b4 100.0%)"></i><i style="left:1080px;width:6.5px;background:linear-gradient(0deg,#000000 70.0%,#b2b2b2 90.0%,#b4b4b4 100.0%)"></i><i style="left:1086px;width:6.5px;background:linear-gradient(0deg,#000000 70.0%,#b2b2b2 90.0%,#b4b4b4 100.0%)"></i><i style="left:1092px;width:6.5px;background:linear-gradient(0deg,#000000 70.0%,#b2b2b2 90.0%,#b4b4b4 100.0%)"></i><i style="left:1098px;width:6.5px;background:linear-gradient(0deg,#000000 70.0%,#b2b2b2 90.0%,#b4b4b4 100.0%)"></i><i style="left:1104px;width:6.5px;background:linear-gradient(0deg,#000000 70.0%,#b2b2b2 90.0%,#b4b4b4 100.0%)"></i><i style="left:1110px;width:6.5px;background:linear-gradient(0deg,#000000 70.0%,#b2b2b2 90.0%,#b4b4b4 100.0%)"></i><i style="left:1116px;width:6.5px;background:linear-gradient(0deg,#000000 70.0%,#b2b2b2 90.0%,#b4b4b4 100.0%)"></i><i style="left:1122px;width:6.5px;background:linear-gradient(0deg,#000000 70.0%,#b2b2b2 90.0%,#b4b4b4 100.0%)"></i><i style="left:1128px;width:6.5px;background:linear-gradient(0deg,#000000 70.0%,#b2b2b2 90.0%,#b4b4b4 100.0%)"></i><i style="left:1134px;width:6.5px;background:linear-gradient(0deg,#000000 70.0%,#b2b2b2 90.0%,#b4b4b4 100.0%)"></i><i style="left:1140px;width:6.5px;background:linear-gradient(0deg,#000000 70.0%,#b2b2b2 90.0%,#b4b4b4 100.0%)"></i><i style="left:1146px;width:6.5px;background:linear-gradient(0deg,#000000 70.0%,#b2b2b2 90.0%,#b4b4b4 100.0%)"></i><i style="left:1152px;width:6.5px;background:linear-gradient(0deg,#000000 70.0%,#b2b2b2 90.0%,#b4b4b4 100.0%)"></i><i style="left:1158px;width:6.5px;background:linear-gradient(0deg,#000000 70.0%,#b2b2b2 90.0%,#b4b4b4 100.0%)"></i><i style="left:1164px;width:6.5px;background:linear-gradient(0deg,#000000 70.0%,#b2b2b2 90.0%,#b4b4b4 100.0%)"></i><i style="left:1170px;width:6.5px;background:linear-gradient(0deg,#000000 70.0%,#b2b2b2 90.0%,#b4b4b4 100.0%)"></i><i style="left:1176px;width:6.5px;background:linear-gradient(0deg,#000000 70.0%,#b2b2b2 90.0%,#b4b4b4 100.0%)"></i><i style="left:1182px;width:6.5px;background:linear-gradient(0deg,#000000 70.0%,#b2b2b2 90.0%,#b4b4b4 100.0%)"></i><i style="left:1188px;width:6.5px;background:linear-gradient(0deg,#000000 70.0%,#b2b2b2 90.0%,#b4b4b4 100.0%)"></i><i style="left:1194px;width:6.5px;background:linear-gradient(0deg,#000000 70.0%,#b2b2b2 90.0%,#b4b4b4 100.0%)"></i><i style="left:1200px;width:6.5px;background:linear-gradient(0deg,#000000 70.0%,#b2b2b2 90.0%,#b4b4b4 100.0%)"></i><i style="left:1206px;width:6.5px;background:linear-gradient(0deg,#000000 70.0%,#b2b2b2 90.0%,#b4b4b4 100.0%)"></i><i style="left:1212px;width:6.5px;background:linear-gradient(0deg,#000000 70.0%,#b2b2b2 90.0%,#b4b4b4 100.0%)"></i><i style="left:1218px;width:6.5px;background:linear-gradient(0deg,#000000 70.0%,#b2b2b2 90.0%,#b4b4b4 100.0%)"></i><i style="left:1224px;width:6.5px;background:linear-gradient(0deg,#000000 70.0%,#b2b2b2 90.0%,#b4b4b4 100.0%)"></i><i style="left:1230px;width:6.5px;background:linear-gradient(0deg,#000000 70.0%,#b2b2b2 90.0%,#b4b4b4 100.0%)"></i><i style="left:1236px;width:6.5px;background:linear-gradient(0deg,#000000 70.0%,#b2b2b2 90.0%,#b4b4b4 100.0%)"></i><i style="left:1242px;width:6.5px;background:linear-gradient(0deg,#000000 70.0%,#b2b2b2 90.0%,#b4b4b4 100.0%)"></i><i style="left:1248px;width:6.5px;background:linear-gradient(0deg,#000000 70.0%,#b2b2b2 90.0%,#b4b4b4 100.0%)"></i><i style="left:1254px;width:6.5px;background:linear-gradient(0deg,#000000 70.0%,#b2b2b2 90.0%,#b4b4b4 100.0%)"></i><i style="left:1260px;width:6.5px;background:linear-gradient(0deg,#000000 50.0%,#bbbbbb 60.0%,#bdbdbd 70.0%,#c2c2c2 90.0%,#c5c5c5 100.0%)"></i><i style="left:1266px;width:6.5px;background:linear-gradient(0deg,#000000 50.0%,#c6c6c6 60.0%,#cbcbcb 100.0%)"></i><i style="left:1272px;width:6.5px;background:linear-gradient(0deg,#000000 50.0%,#c6c6c6 60.0%,#cbcbcb 100.0%)"></i></div><div style="position:absolute;left:172.20px;top:541.70px;width:1276.79px;height:410.80px;overflow:hidden"><i style="left:0px;width:4.5px;background:linear-gradient(0deg,#afff50 3.5%,#afff50 12.0%,#96ff69 12.5%,#40ffbf 14.0%,#00c4ff 15.5%,#009fff 16.0%,#009fff 24.0%,#009fff 24.5%,#0080ff 29.0%,#007cff 30.0%,#0064ff 37.0%,#005fff 38.5%,#0048ff 46.0%,#003fff 49.0%,#002cff 55.0%,#001fff 59.0%,#000dff 65.0%,#0000ff 70.0%,#0000ff 100.0%)"></i><i style="left:4px;width:4.5px;background:linear-gradient(0deg,#afff50 3.5%,#afff50 12.0%,#9aff65 12.5%,#40ffbf 14.0%,#00beff 15.5%,#009fff 16.0%,#009fff 24.0%,#009fff 24.5%,#0081ff 29.0%,#007dff 30.0%,#0063ff 37.0%,#005eff 38.5%,#0047ff 46.0%,#003dff 49.0%,#002aff 55.0%,#001dff 59.0%,#000bff 65.0%,#0000ff 70.0%,#0000ff 100.0%)"></i><i style="left:8px;width:4.5px;background:linear-gradient(0deg,#afff50 3.5%,#afff50 12.0%,#9eff61 12.5%,#40ffbf 14.0%,#00b8ff 15.5%,#009fff 16.0%,#009fff 24.0%,#009eff 24.5%,#0082ff 29.0%,#007dff 30.0%,#0063ff 37.0%,#005eff 38.5%,#0045ff 46.0%,#003cff 49.0%,#0028ff 55.0%,#001bff 59.0%,#0009ff 65.0%,#0000ff 70.0%,#0000ff 100.0%)"></i><i style="left:12px;width:4.5px;background:linear-gradient(0deg,#afff50 3.5%,#afff50 12.0%,#a3ff5c 12.5%,#40ffbf 14.0%,#00b1ff 15.5%,#009fff 16.0%,#009fff 24.0%,#009eff 24.5%,#0082ff 29.0%,#007eff 30.0%,#0062ff 37.0%,#005dff 38.5%,#0044ff 46.0%,#003aff 49.0%,#0026ff 55.0%,#0019ff 59.0%,#0007ff 65.0%,#0000ff 70.0%,#0000ff 100.0%)"></i><i style="left:16px;width:4.5px;background:linear-gradient(0deg,#afff50 3.5%,#afff50 12.0%,#a7ff58 12.5%,#40ffbf 14.0%,#00abff 15.5%,#009fff 16.0%,#009fff 24.0%,#009eff 24.5%,#0083ff 29.0%,#007eff 30.0%,#0061ff 37.0%,#005cff 38.5%,#0042ff 46.0%,#0038ff 49.0%,#0024ff 55.0%,#0017ff 59.0%,#0004ff 65.0%,#0000ff 70.0%,#0000ff 100.0%)"></i><i style="left:20px;width:4.5px;background:linear-gradient(0deg,#afff50 3.5%,#afff50 12.0%,#abff54 12.5%,#40ffbf 14.0%,#00a5ff 15.5%,#009fff 16.0%,#009fff 24.0%,#009dff 24.5%,#0084ff 29.0%,#007fff 30.0%,#0060ff 37.0%,#005bff 38.5%,#0041ff 46.0%,#0037ff 49.0%,#0022ff 55.0%,#0015ff 59.0%,#0002ff 65.0%,#0000ff 70.0%,#0000ff 100.0%)"></i><i style="left:24px;width:4.5px;background:linear-gradient(0deg,#afff50 3.5%,#afff50 12.5%,#3fffc0 14.0%,#009fff 15.5%,#009fff 24.0%,#008fff 27.0%,#007fff 30.0%,#0060ff 37.0%,#004bff 43.0%,#0040ff 46.0%,#002bff 52.0%,#0020ff 55.0%,#0010ff 60.0%,#0000ff 65.0%,#0000ff 68.0%,#0000ff 100.0%)"></i><i style="left:28px;width:4.5px;background:linear-gradient(0deg,#afff50 3.5%,#afff50 12.5%,#3bffc4 14.0%,#009fff 15.5%,#009cff 24.0%,#008dff 27.0%,#007fff 30.0%,#0063ff 37.0%,#0050ff 43.0%,#0045ff 46.0%,#0030ff 52.0%,#0025ff 55.0%,#0015ff 60.0%,#0004ff 65.0%,#0002ff 68.0%,#0000ff 100.0%)"></i><i style="left:32px;width:4.5px;background:linear-gradient(0deg,#afff50 3.5%,#afff50 12.5%,#37ffc8 14.0%,#009fff 15.5%,#0099ff 24.0%,#008bff 27.0%,#007fff 30.0%,#0066ff 37.0%,#0055ff 43.0%,#004aff 46.0%,#0035ff 52.0%,#002aff 55.0%,#0019ff 60.0%,#0008ff 65.0%,#0005ff 68.0%,#0000ff 100.0%)"></i><i style="left:36px;width:4.5px;background:linear-gradient(0deg,#afff50 3.5%,#afff50 12.5%,#32ffcd 14.0%,#009fff 15.5%,#0095ff 24.0%,#0089ff 27.0%,#007eff 30.0%,#0069ff 37.0%,#005aff 43.0%,#0050ff 46.0%,#003aff 52.0%,#002fff 55.0%,#001eff 60.0%,#000cff 65.0%,#0007ff 68.0%,#0000ff 100.0%)"></i><i style="left:40px;width:4.5px;background:linear-gradient(0deg,#afff50 3.5%,#afff50 12.5%,#2effd1 14.0%,#009fff 15.5%,#0092ff 24.0%,#0086ff 27.0%,#007eff 30.0%,#006cff 37.0%,#005fff 43.0%,#0055ff 46.0%,#003fff 52.0%,#0034ff 55.0%,#0022ff 60.0%,#0010ff 65.0%,#0009ff 68.0%,#0000ff 100.0%)"></i><i style="left:44px;width:4.5px;background:linear-gradient(0deg,#afff50 3.5%,#afff50 12.5%,#29ffd6 14.0%,#009fff 15.5%,#008fff 24.0%,#0084ff 27.0%,#007dff 30.0%,#006fff 37.0%,#0064ff 43.0%,#005aff 46.0%,#0045ff 52.0%,#0039ff 55.0%,#0026ff 60.0%,#0014ff 65.0%,#000bff 68.0%,#0000ff 100.0%)"></i><i style="left:48px;width:4.5px;background:linear-gradient(0deg,#afff50 3.5%,#afff50 12.5%,#25ffda 14.0%,#009fff 15.5%,#008cff 24.0%,#0082ff 27.0%,#007dff 30.0%,#0072ff 37.0%,#006aff 43.0%,#005fff 46.0%,#004aff 52.0%,#003eff 55.0%,#002bff 60.0%,#0017ff 65.0%,#000dff 68.0%,#0000ff 100.0%)"></i><i style="left:52px;width:4.5px;background:linear-gradient(0deg,#afff50 3.5%,#afff50 12.5%,#21ffde 14.0%,#009fff 15.5%,#0088ff 24.0%,#0080ff 27.0%,#007dff 30.0%,#0075ff 37.0%,#006fff 43.0%,#0064ff 46.0%,#004fff 52.0%,#0043ff 55.0%,#002fff 60.0%,#001bff 65.0%,#0010ff 68.0%,#0000ff 100.0%)"></i><i style="left:56px;width:4.5px;background:linear-gradient(0deg,#afff50 3.5%,#afff50 12.0%,#aaff55 12.5%,#4affb5 13.5%,#1bffe4 14.0%,#00c5ff 15.0%,#009fff 15.5%,#008fff 22.0%,#0084ff 25.0%,#007dff 27.0%,#0077ff 30.0%,#006fff 35.0%,#0067ff 43.0%,#0054ff 49.0%,#0049ff 52.0%,#003eff 55.0%,#002cff 60.0%,#000fff 68.0%,#0000ff 100.0%)"></i><i style="left:60px;width:4.5px;background:linear-gradient(0deg,#afff50 3.5%,#afff50 12.0%,#a3ff5c 12.5%,#44ffbb 13.5%,#15ffea 14.0%,#00bfff 15.0%,#009fff 15.5%,#0092ff 22.0%,#0084ff 25.0%,#007bff 27.0%,#0071ff 30.0%,#0065ff 35.0%,#005dff 43.0%,#004cff 49.0%,#0042ff 52.0%,#0037ff 55.0%,#0027ff 60.0%,#000fff 68.0%,#0000ff 100.0%)"></i><i style="left:64px;width:4.5px;background:linear-gradient(0deg,#afff50 3.5%,#afff50 12.0%,#9dff62 12.5%,#3dffc2 13.5%,#0ffff0 14.0%,#00b9ff 15.0%,#009fff 15.5%,#0094ff 22.0%,#0083ff 25.0%,#0078ff 27.0%,#006bff 30.0%,#005cff 35.0%,#0053ff 43.0%,#0044ff 49.0%,#003aff 52.0%,#0030ff 55.0%,#0023ff 60.0%,#000eff 68.0%,#0000ff 100.0%)"></i><i style="left:68px;width:4.5px;background:linear-gradient(0deg,#afff50 3.5%,#afff50 12.0%,#96ff69 12.5%,#36ffc9 13.5%,#09fff6 14.0%,#00b3ff 15.0%,#009fff 15.5%,#0097ff 22.0%,#0082ff 25.0%,#0075ff 27.0%,#0065ff 30.0%,#0052ff 35.0%,#0049ff 43.0%,#003cff 49.0%,#0032ff 52.0%,#0028ff 55.0%,#001eff 60.0%,#000eff 68.0%,#0000ff 100.0%)"></i><i style="left:72px;width:4.5px;background:linear-gradient(0deg,#afff50 3.5%,#afff50 12.0%,#90ff6f 12.5%,#30ffcf 13.5%,#04fffb 14.0%,#00aeff 15.0%,#009fff 15.5%,#0099ff 22.0%,#0081ff 25.0%,#0073ff 27.0%,#005fff 30.0%,#0048ff 35.0%,#003fff 43.0%,#0033ff 49.0%,#002bff 52.0%,#0021ff 55.0%,#0019ff 60.0%,#000dff 68.0%,#0000ff 100.0%)"></i><i style="left:76px;width:4.5px;background:linear-gradient(0deg,#afff50 3.5%,#afff50 12.0%,#89ff76 12.5%,#29ffd6 13.5%,#00fdff 14.0%,#00a8ff 15.0%,#009fff 15.5%,#009cff 22.0%,#0081ff 25.0%,#0070ff 27.0%,#0059ff 30.0%,#003eff 35.0%,#0035ff 43.0%,#002bff 49.0%,#0023ff 52.0%,#001aff 55.0%,#0015ff 60.0%,#000cff 68.0%,#0000ff 100.0%)"></i><i style="left:80px;width:4.5px;background:linear-gradient(0deg,#afff50 3.5%,#afff50 12.0%,#82ff7d 12.5%,#23ffdc 13.5%,#00f7ff 14.0%,#00a2ff 15.0%,#009fff 15.5%,#009eff 22.0%,#0080ff 25.0%,#006eff 27.0%,#0052ff 30.0%,#0034ff 35.0%,#002bff 43.0%,#0023ff 49.0%,#001bff 52.0%,#0013ff 55.0%,#0010ff 60.0%,#000cff 68.0%,#0000ff 100.0%)"></i><i style="left:84px;width:4.5px;background:linear-gradient(0deg,#afff50 3.5%,#afff50 12.0%,#83ff7c 12.5%,#24ffdb 13.5%,#00f8ff 14.0%,#00a3ff 15.0%,#009fff 15.5%,#009fff 21.0%,#009fff 22.0%,#0080ff 25.0%,#005aff 29.0%,#0050ff 30.0%,#0036ff 34.0%,#0030ff 35.0%,#0023ff 45.0%,#001fff 49.0%,#0010ff 55.0%,#0000ff 100.0%)"></i><i style="left:88px;width:4.5px;background:linear-gradient(0deg,#afff50 3.5%,#afff50 12.0%,#8aff75 12.5%,#2affd5 13.5%,#00feff 14.0%,#00a9ff 15.0%,#009fff 15.5%,#009fff 21.0%,#009eff 22.0%,#0080ff 25.0%,#005bff 29.0%,#0051ff 30.0%,#0035ff 34.0%,#002fff 35.0%,#0020ff 45.0%,#001cff 49.0%,#000fff 55.0%,#0000ff 100.0%)"></i><i style="left:92px;width:4.5px;background:linear-gradient(0deg,#afff50 3.5%,#afff50 12.0%,#90ff6f 12.5%,#31ffce 13.5%,#04fffb 14.0%,#00aeff 15.0%,#009fff 15.5%,#009fff 21.0%,#009dff 22.0%,#0080ff 25.0%,#005cff 29.0%,#0052ff 30.0%,#0034ff 34.0%,#002fff 35.0%,#001dff 45.0%,#001aff 49.0%,#000fff 55.0%,#0000ff 100.0%)"></i><i style="left:96px;width:4.5px;background:linear-gradient(0deg,#afff50 3.5%,#afff50 12.0%,#97ff68 12.5%,#37ffc8 13.5%,#0afff5 14.0%,#00b4ff 15.0%,#009fff 15.5%,#009fff 21.0%,#009bff 22.0%,#0080ff 25.0%,#005cff 29.0%,#0053ff 30.0%,#0033ff 34.0%,#002eff 35.0%,#001aff 45.0%,#0017ff 49.0%,#000fff 55.0%,#0000ff 100.0%)"></i><i style="left:100px;width:4.5px;background:linear-gradient(0deg,#afff50 3.5%,#afff50 12.0%,#9eff61 12.5%,#3effc1 13.5%,#10ffef 14.0%,#00baff 15.0%,#009fff 15.5%,#009fff 21.0%,#009aff 22.0%,#0080ff 25.0%,#005dff 29.0%,#0054ff 30.0%,#0032ff 34.0%,#002eff 35.0%,#0018ff 45.0%,#0015ff 49.0%,#000eff 55.0%,#0000ff 100.0%)"></i><i style="left:104px;width:4.5px;background:linear-gradient(0deg,#afff50 3.5%,#afff50 12.0%,#a4ff5b 12.5%,#45ffba 13.5%,#16ffe9 14.0%,#00c0ff 15.0%,#009fff 15.5%,#009fff 21.0%,#0099ff 22.0%,#0080ff 25.0%,#005eff 29.0%,#0055ff 30.0%,#0031ff 34.0%,#002eff 35.0%,#0015ff 45.0%,#0013ff 49.0%,#000eff 55.0%,#0000ff 100.0%)"></i><i style="left:108px;width:4.5px;background:linear-gradient(0deg,#afff50 3.5%,#afff50 12.0%,#abff54 12.5%,#4bffb4 13.5%,#1cffe3 14.0%,#00c6ff 15.0%,#009fff 15.5%,#009fff 21.0%,#0098ff 22.0%,#0080ff 25.0%,#005fff 29.0%,#0055ff 30.0%,#0030ff 34.0%,#002dff 35.0%,#0012ff 45.0%,#0010ff 49.0%,#000dff 55.0%,#0000ff 100.0%)"></i><i style="left:112px;width:4.5px;background:linear-gradient(0deg,#afff50 3.5%,#afff50 12.5%,#2affd5 14.0%,#00b2ff 15.5%,#00aaff 17.0%,#00a2ff 20.0%,#00a1ff 21.0%,#0082ff 25.0%,#0063ff 29.0%,#0036ff 34.0%,#002dff 37.0%,#0016ff 45.0%,#0015ff 46.0%,#000fff 55.0%,#000bff 65.0%,#0005ff 85.0%,#0001ff 100.0%)"></i><i style="left:116px;width:4.5px;background:linear-gradient(0deg,#afff50 3.5%,#afff50 12.5%,#4bffb4 14.0%,#00f0ff 15.5%,#00cfff 17.0%,#00a9ff 20.0%,#00a7ff 21.0%,#0089ff 25.0%,#006fff 29.0%,#004aff 34.0%,#0041ff 37.0%,#0029ff 45.0%,#0028ff 46.0%,#0017ff 55.0%,#000cff 65.0%,#0008ff 85.0%,#0005ff 100.0%)"></i><i style="left:120px;width:4.5px;background:linear-gradient(0deg,#afff50 3.5%,#afff50 12.5%,#6cff93 14.0%,#2fffd0 15.5%,#00f4ff 17.0%,#00b0ff 20.0%,#00adff 21.0%,#0090ff 25.0%,#007cff 29.0%,#005eff 34.0%,#0056ff 37.0%,#003cff 45.0%,#003aff 46.0%,#001fff 55.0%,#000dff 65.0%,#000aff 85.0%,#0008ff 100.0%)"></i><i style="left:124px;width:4.5px;background:linear-gradient(0deg,#afff50 3.5%,#afff50 12.5%,#8dff72 14.0%,#6eff91 15.5%,#19ffe6 17.0%,#00b8ff 20.0%,#00b3ff 21.0%,#0098ff 25.0%,#0088ff 29.0%,#0072ff 34.0%,#006aff 37.0%,#004fff 45.0%,#004cff 46.0%,#0027ff 55.0%,#000fff 65.0%,#000dff 85.0%,#000cff 100.0%)"></i><i style="left:128px;width:4.5px;background:linear-gradient(0deg,#afff50 3.5%,#afff50 12.5%,#adff52 14.0%,#acff53 15.5%,#3effc1 17.0%,#00bfff 20.0%,#00b9ff 21.0%,#009fff 25.0%,#0094ff 29.0%,#0086ff 34.0%,#007eff 37.0%,#0062ff 45.0%,#005fff 46.0%,#002fff 55.0%,#0010ff 65.0%,#0010ff 85.0%,#0010ff 100.0%)"></i><i style="left:132px;width:4.5px;background:linear-gradient(0deg,#afff50 3.5%,#afff50 15.5%,#4affb5 17.0%,#00c4ff 20.0%,#00a6ff 25.0%,#00a3ff 26.0%,#0086ff 36.0%,#0083ff 37.0%,#006cff 43.0%,#0060ff 46.0%,#0040ff 52.0%,#002fff 55.0%,#001bff 60.0%,#0013ff 65.0%,#0015ff 70.0%,#002aff 80.0%,#002fff 85.0%,#0034ff 90.0%,#0039ff 100.0%)"></i><i style="left:136px;width:4.5px;background:linear-gradient(0deg,#afff50 3.5%,#afff50 15.5%,#55ffaa 17.0%,#00caff 20.0%,#00aeff 25.0%,#00a9ff 26.0%,#008bff 36.0%,#0087ff 37.0%,#006eff 43.0%,#0060ff 46.0%,#0040ff 52.0%,#002eff 55.0%,#0015ff 60.0%,#0015ff 65.0%,#001bff 70.0%,#0045ff 80.0%,#0050ff 85.0%,#005bff 90.0%,#0065ff 100.0%)"></i><i style="left:140px;width:4.5px;background:linear-gradient(0deg,#afff50 3.5%,#afff50 15.0%,#afff50 15.5%,#7aff85 16.5%,#5fffa0 17.0%,#00cfff 20.0%,#00b4ff 25.0%,#00afff 26.0%,#00a2ff 30.0%,#0095ff 34.0%,#008fff 36.0%,#007dff 40.0%,#006fff 43.0%,#004aff 50.0%,#0040ff 52.0%,#0010ff 60.0%,#0020ff 70.0%,#0060ff 80.0%,#0080ff 90.0%,#0090ff 100.0%)"></i><i style="left:144px;width:4.5px;background:linear-gradient(0deg,#afff50 3.5%,#afff50 15.0%,#aaff55 15.5%,#72ff8d 16.5%,#58ffa7 17.0%,#00cbff 20.0%,#00afff 25.0%,#00aaff 26.0%,#009bff 30.0%,#008cff 34.0%,#0085ff 36.0%,#0072ff 40.0%,#0066ff 43.0%,#0044ff 50.0%,#003bff 52.0%,#0010ff 60.0%,#0022ff 70.0%,#0062ff 80.0%,#0082ff 90.0%,#0092ff 100.0%)"></i><i style="left:148px;width:4.5px;background:linear-gradient(0deg,#afff50 3.5%,#afff50 15.0%,#a5ff5a 15.5%,#6aff95 16.5%,#51ffae 17.0%,#00c6ff 20.0%,#00aaff 25.0%,#00a5ff 26.0%,#0094ff 30.0%,#0082ff 34.0%,#007bff 36.0%,#0068ff 40.0%,#005cff 43.0%,#003eff 50.0%,#0036ff 52.0%,#0010ff 60.0%,#0024ff 70.0%,#0064ff 80.0%,#0084ff 90.0%,#0094ff 100.0%)"></i><i style="left:152px;width:4.5px;background:linear-gradient(0deg,#afff50 3.5%,#afff50 15.0%,#a0ff5f 15.5%,#62ff9d 16.5%,#4affb5 17.0%,#00c2ff 20.0%,#00a5ff 25.0%,#009fff 26.0%,#008dff 30.0%,#0078ff 34.0%,#0070ff 36.0%,#005dff 40.0%,#0053ff 43.0%,#0039ff 50.0%,#0031ff 52.0%,#0010ff 60.0%,#0027ff 70.0%,#0066ff 80.0%,#0086ff 90.0%,#0096ff 100.0%)"></i><i style="left:156px;width:4.5px;background:linear-gradient(0deg,#afff50 3.5%,#afff50 15.0%,#9bff64 15.5%,#5affa5 16.5%,#43ffbc 17.0%,#00bdff 20.0%,#00a0ff 25.0%,#009aff 26.0%,#0086ff 30.0%,#006fff 34.0%,#0066ff 36.0%,#0052ff 40.0%,#0049ff 43.0%,#0033ff 50.0%,#002cff 52.0%,#0010ff 60.0%,#0029ff 70.0%,#0068ff 80.0%,#0088ff 90.0%,#0098ff 100.0%)"></i><i style="left:160px;width:4.5px;background:linear-gradient(0deg,#afff50 3.5%,#afff50 15.0%,#96ff69 15.5%,#52ffad 16.5%,#3bffc4 17.0%,#00b9ff 20.0%,#009bff 25.0%,#0095ff 26.0%,#007fff 30.0%,#0065ff 34.0%,#005cff 36.0%,#0048ff 40.0%,#0040ff 43.0%,#002dff 50.0%,#0027ff 52.0%,#0010ff 60.0%,#002bff 70.0%,#006bff 80.0%,#008bff 90.0%,#009aff 100.0%)"></i><i style="left:164px;width:4.5px;background:linear-gradient(0deg,#afff50 3.5%,#afff50 15.0%,#90ff6f 15.5%,#4affb5 16.5%,#34ffcb 17.0%,#00b5ff 20.0%,#0096ff 25.0%,#0090ff 26.0%,#0078ff 30.0%,#005cff 34.0%,#0052ff 36.0%,#003dff 40.0%,#0037ff 43.0%,#0027ff 50.0%,#0023ff 52.0%,#0010ff 60.0%,#002dff 70.0%,#006dff 80.0%,#008dff 90.0%,#009dff 100.0%)"></i><i style="left:168px;width:4.5px;background:linear-gradient(0deg,#afff50 3.5%,#afff50 15.0%,#8bff74 15.5%,#42ffbd 16.5%,#2dffd2 17.0%,#00b0ff 20.0%,#0091ff 25.0%,#008aff 26.0%,#0071ff 30.0%,#0052ff 34.0%,#0047ff 36.0%,#0032ff 40.0%,#002dff 43.0%,#0021ff 50.0%,#001eff 52.0%,#0010ff 60.0%,#002fff 70.0%,#006fff 80.0%,#008fff 90.0%,#009fff 100.0%)"></i><i style="left:172px;width:4.5px;background:linear-gradient(0deg,#afff50 3.5%,#afff50 15.0%,#8eff71 15.5%,#47ffb8 16.5%,#09fff6 18.0%,#00b9ff 20.0%,#00a7ff 22.0%,#0096ff 25.0%,#0078ff 30.0%,#0071ff 31.0%,#005bff 34.0%,#003dff 40.0%,#0031ff 46.0%,#0028ff 50.0%,#0024ff 52.0%,#0017ff 55.0%,#0011ff 60.0%,#0017ff 62.0%,#0035ff 70.0%,#0073ff 80.0%,#0091ff 90.0%,#00a1ff 100.0%)"></i><i style="left:176px;width:4.5px;background:linear-gradient(0deg,#afff50 3.5%,#afff50 15.0%,#93ff6c 15.5%,#50ffaf 16.5%,#11ffee 18.0%,#00c5ff 20.0%,#00adff 22.0%,#009eff 25.0%,#0083ff 30.0%,#007dff 31.0%,#006aff 34.0%,#004fff 40.0%,#0040ff 46.0%,#0033ff 50.0%,#002dff 52.0%,#0016ff 55.0%,#0013ff 60.0%,#0019ff 62.0%,#003bff 70.0%,#0077ff 80.0%,#0093ff 90.0%,#00a3ff 100.0%)"></i><i style="left:180px;width:4.5px;background:linear-gradient(0deg,#afff50 3.5%,#afff50 15.0%,#98ff67 15.5%,#59ffa6 16.5%,#1affe5 18.0%,#00d1ff 20.0%,#00b4ff 22.0%,#00a6ff 25.0%,#008fff 30.0%,#0089ff 31.0%,#0078ff 34.0%,#0060ff 40.0%,#004eff 46.0%,#003eff 50.0%,#0036ff 52.0%,#0015ff 55.0%,#0014ff 60.0%,#001aff 62.0%,#0042ff 70.0%,#007cff 80.0%,#0096ff 90.0%,#00a5ff 100.0%)"></i><i style="left:184px;width:4.5px;background:linear-gradient(0deg,#afff50 3.5%,#afff50 15.0%,#9dff62 15.5%,#63ff9c 16.5%,#22ffdd 18.0%,#00ddff 20.0%,#00baff 22.0%,#00aeff 25.0%,#009aff 30.0%,#0095ff 31.0%,#0087ff 34.0%,#0072ff 40.0%,#005dff 46.0%,#0049ff 50.0%,#003fff 52.0%,#0014ff 55.0%,#0016ff 60.0%,#001bff 62.0%,#0049ff 70.0%,#0080ff 80.0%,#0098ff 90.0%,#00a8ff 100.0%)"></i><i style="left:188px;width:4.5px;background:linear-gradient(0deg,#afff50 3.5%,#afff50 15.0%,#a3ff5c 15.5%,#6cff93 16.5%,#2bffd4 18.0%,#00e9ff 20.0%,#00c0ff 22.0%,#00b6ff 25.0%,#00a5ff 30.0%,#00a1ff 31.0%,#0095ff 34.0%,#0084ff 40.0%,#006bff 46.0%,#0054ff 50.0%,#0049ff 52.0%,#0013ff 55.0%,#0017ff 60.0%,#001dff 62.0%,#004fff 70.0%,#0085ff 80.0%,#009aff 90.0%,#00aaff 100.0%)"></i><i style="left:192px;width:4.5px;background:linear-gradient(0deg,#afff50 3.5%,#afff50 15.0%,#a8ff57 15.5%,#75ff8a 16.5%,#33ffcc 18.0%,#00f5ff 20.0%,#00c6ff 22.0%,#00beff 25.0%,#00b0ff 30.0%,#00adff 31.0%,#00a4ff 34.0%,#0095ff 40.0%,#007aff 46.0%,#005fff 50.0%,#0052ff 52.0%,#0012ff 55.0%,#0019ff 60.0%,#001eff 62.0%,#0056ff 70.0%,#0089ff 80.0%,#009cff 90.0%,#00acff 100.0%)"></i><i style="left:196px;width:4.5px;background:linear-gradient(0deg,#afff50 3.5%,#afff50 15.0%,#adff52 15.5%,#7eff81 16.5%,#3cffc3 18.0%,#02fffd 20.0%,#00ccff 22.0%,#00c6ff 25.0%,#00bcff 30.0%,#00b9ff 31.0%,#00b3ff 34.0%,#00a7ff 40.0%,#0088ff 46.0%,#006aff 50.0%,#005bff 52.0%,#0010ff 55.0%,#001bff 60.0%,#001fff 62.0%,#005cff 70.0%,#008dff 80.0%,#009eff 90.0%,#00aeff 100.0%)"></i><i style="left:200px;width:4.5px;background:linear-gradient(0deg,#afff50 3.5%,#afff50 15.5%,#86ff79 16.5%,#45ffba 18.0%,#0efff1 20.0%,#00d0ff 22.0%,#00c1ff 31.0%,#00b6ff 37.0%,#00b1ff 40.0%,#0097ff 45.0%,#0091ff 46.0%,#0061ff 52.0%,#0015ff 55.0%,#001dff 60.0%,#0021ff 62.0%,#0036ff 65.0%,#005eff 70.0%,#0077ff 75.0%,#008fff 80.0%,#0099ff 85.0%,#00a1ff 90.0%,#00b0ff 100.0%)"></i><i style="left:204px;width:4.5px;background:linear-gradient(0deg,#afff50 3.5%,#afff50 15.5%,#8cff73 16.5%,#50ffaf 18.0%,#1affe5 20.0%,#00d2ff 22.0%,#00c4ff 31.0%,#00baff 37.0%,#00b3ff 40.0%,#009aff 45.0%,#0094ff 46.0%,#0063ff 52.0%,#001fff 55.0%,#0020ff 60.0%,#0022ff 62.0%,#0033ff 65.0%,#005bff 70.0%,#0076ff 75.0%,#008fff 80.0%,#009cff 85.0%,#00a4ff 90.0%,#00b3ff 100.0%)"></i><i style="left:208px;width:4.5px;background:linear-gradient(0deg,#afff50 3.5%,#afff50 15.5%,#92ff6d 16.5%,#5affa5 18.0%,#26ffd9 20.0%,#00d5ff 22.0%,#00c7ff 31.0%,#00beff 37.0%,#00b6ff 40.0%,#009eff 45.0%,#0097ff 46.0%,#0065ff 52.0%,#0029ff 55.0%,#0022ff 60.0%,#0023ff 62.0%,#0030ff 65.0%,#0057ff 70.0%,#0075ff 75.0%,#008fff 80.0%,#00a0ff 85.0%,#00a7ff 90.0%,#00b5ff 100.0%)"></i><i style="left:212px;width:4.5px;background:linear-gradient(0deg,#afff50 3.5%,#afff50 15.5%,#98ff67 16.5%,#65ff9a 18.0%,#32ffcd 20.0%,#00d7ff 22.0%,#00caff 31.0%,#00c1ff 37.0%,#00b9ff 40.0%,#00a2ff 45.0%,#009aff 46.0%,#0067ff 52.0%,#0033ff 55.0%,#0025ff 60.0%,#0024ff 62.0%,#002cff 65.0%,#0054ff 70.0%,#0074ff 75.0%,#008fff 80.0%,#00a3ff 85.0%,#00aaff 90.0%,#00b7ff 100.0%)"></i><i style="left:216px;width:4.5px;background:linear-gradient(0deg,#afff50 3.5%,#afff50 15.5%,#9eff61 16.5%,#70ff8f 18.0%,#3effc1 20.0%,#00d9ff 22.0%,#00cdff 31.0%,#00c5ff 37.0%,#00bcff 40.0%,#00a5ff 45.0%,#009eff 46.0%,#006aff 52.0%,#003cff 55.0%,#0028ff 60.0%,#0026ff 62.0%,#0029ff 65.0%,#0051ff 70.0%,#0073ff 75.0%,#008fff 80.0%,#00a6ff 85.0%,#00adff 90.0%,#00b9ff 100.0%)"></i><i style="left:220px;width:4.5px;background:linear-gradient(0deg,#afff50 3.5%,#afff50 15.5%,#a5ff5a 16.5%,#7aff85 18.0%,#4affb5 20.0%,#00dbff 22.0%,#00d0ff 31.0%,#00c9ff 37.0%,#00beff 40.0%,#00a9ff 45.0%,#00a1ff 46.0%,#006cff 52.0%,#0046ff 55.0%,#002bff 60.0%,#0027ff 62.0%,#0026ff 65.0%,#004dff 70.0%,#0071ff 75.0%,#008fff 80.0%,#00aaff 85.0%,#00afff 90.0%,#00bbff 100.0%)"></i><i style="left:224px;width:4.5px;background:linear-gradient(0deg,#afff50 3.5%,#afff50 15.5%,#abff54 16.5%,#85ff7a 18.0%,#57ffa8 20.0%,#00ddff 22.0%,#00d3ff 31.0%,#00ccff 37.0%,#00c1ff 40.0%,#00adff 45.0%,#00a4ff 46.0%,#006eff 52.0%,#0050ff 55.0%,#002eff 60.0%,#0028ff 62.0%,#0022ff 65.0%,#004aff 70.0%,#0070ff 75.0%,#008fff 80.0%,#00adff 85.0%,#00b2ff 90.0%,#00beff 100.0%)"></i><i style="left:228px;width:4.5px;background:linear-gradient(0deg,#b0ff4f 3.5%,#b0ff4f 16.5%,#63ff9c 20.0%,#04fffb 21.5%,#00e4ff 22.0%,#00e1ff 23.0%,#00dcff 25.0%,#00cfff 37.0%,#00b0ff 45.0%,#0083ff 50.0%,#0072ff 52.0%,#0034ff 60.0%,#0024ff 65.0%,#0072ff 75.0%,#00b0ff 85.0%,#00b5ff 90.0%,#00bfff 100.0%)"></i><i style="left:232px;width:4.5px;background:linear-gradient(0deg,#b2ff4d 3.5%,#b2ff4d 16.5%,#70ff8f 20.0%,#16ffe9 21.5%,#00f7ff 22.0%,#00efff 23.0%,#00dcff 25.0%,#00cfff 37.0%,#00b1ff 45.0%,#008aff 50.0%,#007aff 52.0%,#0043ff 60.0%,#0037ff 65.0%,#007aff 75.0%,#00b1ff 85.0%,#00b6ff 90.0%,#00bfff 100.0%)"></i><i style="left:236px;width:4.5px;background:linear-gradient(0deg,#b4ff4b 3.5%,#b4ff4b 16.5%,#7dff82 20.0%,#27ffd8 21.5%,#0bfff4 22.0%,#00fcff 23.0%,#00ddff 25.0%,#00cfff 37.0%,#00b3ff 45.0%,#0090ff 50.0%,#0082ff 52.0%,#0052ff 60.0%,#0049ff 65.0%,#0083ff 75.0%,#00b3ff 85.0%,#00b8ff 90.0%,#00bfff 100.0%)"></i><i style="left:240px;width:4.5px;background:linear-gradient(0deg,#b6ff49 3.5%,#b6ff49 16.5%,#8aff75 20.0%,#39ffc6 21.5%,#1effe1 22.0%,#0afff5 23.0%,#00ddff 25.0%,#00cfff 37.0%,#00b5ff 45.0%,#0096ff 50.0%,#008bff 52.0%,#0062ff 60.0%,#005bff 65.0%,#008cff 75.0%,#00b4ff 85.0%,#00b9ff 90.0%,#00bfff 100.0%)"></i><i style="left:244px;width:4.5px;background:linear-gradient(0deg,#b9ff46 3.5%,#b9ff46 16.5%,#98ff67 20.0%,#4bffb4 21.5%,#31ffce 22.0%,#18ffe7 23.0%,#00deff 25.0%,#00cfff 37.0%,#00b6ff 45.0%,#009cff 50.0%,#0093ff 52.0%,#0071ff 60.0%,#006dff 65.0%,#0095ff 75.0%,#00b6ff 85.0%,#00bbff 90.0%,#00bfff 100.0%)"></i><i style="left:248px;width:4.5px;background:linear-gradient(0deg,#bbff44 3.5%,#bbff44 16.5%,#a5ff5a 20.0%,#5cffa3 21.5%,#44ffbb 22.0%,#25ffda 23.0%,#00deff 25.0%,#00cfff 37.0%,#00b8ff 45.0%,#00a3ff 50.0%,#009bff 52.0%,#0080ff 60.0%,#0080ff 65.0%,#009eff 75.0%,#00b7ff 85.0%,#00bcff 90.0%,#00bfff 100.0%)"></i><i style="left:252px;width:4.5px;background:linear-gradient(0deg,#bdff42 3.5%,#bdff42 16.5%,#b2ff4d 20.0%,#6eff91 21.5%,#57ffa8 22.0%,#32ffcd 23.0%,#00dfff 25.0%,#00cfff 37.0%,#00baff 45.0%,#00a9ff 50.0%,#00a4ff 52.0%,#0090ff 60.0%,#0092ff 65.0%,#00a6ff 75.0%,#00b8ff 85.0%,#00beff 90.0%,#00bfff 100.0%)"></i><i style="left:256px;width:4.5px;background:linear-gradient(0deg,#bfff40 3.5%,#bfff40 16.5%,#bfff40 20.0%,#7fff80 21.5%,#6aff95 22.0%,#3fffc0 23.0%,#00dfff 25.0%,#00cfff 37.0%,#00bcff 45.0%,#00afff 50.0%,#00acff 52.0%,#009fff 60.0%,#00a4ff 65.0%,#00afff 75.0%,#00baff 85.0%,#00bfff 90.0%,#00bfff 100.0%)"></i><i style="left:260px;width:4.5px;background:linear-gradient(0deg,#bdff42 3.5%,#bdff42 20.0%,#98ff67 21.0%,#82ff7d 21.5%,#40ffbf 23.0%,#00e2ff 25.0%,#00dcff 26.0%,#00ccff 37.0%,#00c5ff 40.0%,#00abff 50.0%,#009dff 60.0%,#00a9ff 70.0%,#00adff 75.0%,#00bbff 90.0%,#00bbff 100.0%)"></i><i style="left:264px;width:4.5px;background:linear-gradient(0deg,#bbff44 3.5%,#bbff44 20.0%,#9cff63 21.0%,#85ff7a 21.5%,#40ffbf 23.0%,#00e5ff 25.0%,#00daff 26.0%,#00c8ff 37.0%,#00c1ff 40.0%,#00a7ff 50.0%,#009bff 60.0%,#00a7ff 70.0%,#00abff 75.0%,#00b7ff 90.0%,#00b7ff 100.0%)"></i><i style="left:268px;width:4.5px;background:linear-gradient(0deg,#b9ff46 3.5%,#b9ff46 20.0%,#a0ff5f 21.0%,#88ff77 21.5%,#40ffbf 23.0%,#00e8ff 25.0%,#00d8ff 26.0%,#00c5ff 37.0%,#00beff 40.0%,#00a2ff 50.0%,#0099ff 60.0%,#00a6ff 70.0%,#00a9ff 75.0%,#00b2ff 90.0%,#00b2ff 100.0%)"></i><i style="left:272px;width:4.5px;background:linear-gradient(0deg,#b7ff48 3.5%,#b7ff48 20.0%,#a3ff5c 21.0%,#8aff75 21.5%,#40ffbf 23.0%,#00ebff 25.0%,#00d6ff 26.0%,#00c1ff 37.0%,#00baff 40.0%,#009eff 50.0%,#0097ff 60.0%,#00a4ff 70.0%,#00a7ff 75.0%,#00aeff 90.0%,#00aeff 100.0%)"></i><i style="left:276px;width:4.5px;background:linear-gradient(0deg,#b4ff4b 3.5%,#b4ff4b 20.0%,#a7ff58 21.0%,#8dff72 21.5%,#40ffbf 23.0%,#00eeff 25.0%,#00d4ff 26.0%,#00beff 37.0%,#00b7ff 40.0%,#0099ff 50.0%,#0094ff 60.0%,#00a3ff 70.0%,#00a4ff 75.0%,#00a9ff 90.0%,#00a9ff 100.0%)"></i><i style="left:280px;width:4.5px;background:linear-gradient(0deg,#b2ff4d 3.5%,#b2ff4d 20.0%,#abff54 21.0%,#90ff6f 21.5%,#40ffbf 23.0%,#00f1ff 25.0%,#00d2ff 26.0%,#00bbff 37.0%,#00b4ff 40.0%,#0095ff 50.0%,#0092ff 60.0%,#00a1ff 70.0%,#00a2ff 75.0%,#00a5ff 90.0%,#00a5ff 100.0%)"></i><i style="left:284px;width:4.5px;background:linear-gradient(0deg,#b0ff4f 3.5%,#b0ff4f 20.0%,#aeff51 21.0%,#93ff6c 21.5%,#40ffbf 23.0%,#00f4ff 25.0%,#00d0ff 26.0%,#00b7ff 37.0%,#00b0ff 40.0%,#0091ff 50.0%,#0090ff 60.0%,#00a0ff 70.0%,#00a0ff 75.0%,#00a1ff 90.0%,#00a1ff 100.0%)"></i><i style="left:288px;width:4.5px;background:linear-gradient(0deg,#afff50 3.5%,#afff50 21.0%,#75ff8a 22.0%,#3effc1 23.0%,#18ffe7 24.0%,#00d1ff 26.0%,#00c4ff 30.0%,#00aeff 39.0%,#00acff 40.0%,#0095ff 47.0%,#008bff 50.0%,#0089ff 56.0%,#0088ff 60.0%,#008aff 62.0%,#0098ff 70.0%,#0098ff 100.0%)"></i><i style="left:292px;width:4.5px;background:linear-gradient(0deg,#afff50 3.5%,#afff50 21.0%,#72ff8d 22.0%,#3cffc3 23.0%,#14ffeb 24.0%,#00d4ff 26.0%,#00c1ff 30.0%,#00aaff 39.0%,#00a7ff 40.0%,#008fff 47.0%,#0085ff 50.0%,#0080ff 56.0%,#007eff 60.0%,#007fff 62.0%,#008dff 70.0%,#008dff 100.0%)"></i><i style="left:296px;width:4.5px;background:linear-gradient(0deg,#afff50 3.5%,#afff50 21.0%,#6fff90 22.0%,#3affc5 23.0%,#11ffee 24.0%,#00d7ff 26.0%,#00beff 30.0%,#00a5ff 39.0%,#00a2ff 40.0%,#008aff 47.0%,#0080ff 50.0%,#0078ff 56.0%,#0074ff 60.0%,#0074ff 62.0%,#0082ff 70.0%,#0082ff 100.0%)"></i><i style="left:300px;width:4.5px;background:linear-gradient(0deg,#afff50 3.5%,#afff50 21.0%,#6bff94 22.0%,#38ffc7 23.0%,#0dfff2 24.0%,#00daff 26.0%,#00baff 30.0%,#00a0ff 39.0%,#009dff 40.0%,#0084ff 47.0%,#007aff 50.0%,#006fff 56.0%,#0069ff 60.0%,#0068ff 62.0%,#0077ff 70.0%,#0077ff 100.0%)"></i><i style="left:304px;width:4.5px;background:linear-gradient(0deg,#afff50 3.5%,#afff50 21.0%,#68ff97 22.0%,#35ffca 23.0%,#09fff6 24.0%,#00ddff 26.0%,#00b7ff 30.0%,#009bff 39.0%,#0098ff 40.0%,#007eff 47.0%,#0074ff 50.0%,#0066ff 56.0%,#005fff 60.0%,#005dff 62.0%,#006cff 70.0%,#006cff 100.0%)"></i><i style="left:308px;width:4.5px;background:linear-gradient(0deg,#afff50 3.5%,#afff50 21.0%,#65ff9a 22.0%,#33ffcc 23.0%,#06fff9 24.0%,#00e0ff 26.0%,#00b4ff 30.0%,#0097ff 39.0%,#0093ff 40.0%,#0078ff 47.0%,#006eff 50.0%,#005dff 56.0%,#0055ff 60.0%,#0051ff 62.0%,#0061ff 70.0%,#0061ff 100.0%)"></i><i style="left:312px;width:4.5px;background:linear-gradient(0deg,#afff50 3.5%,#afff50 21.0%,#61ff9e 22.0%,#31ffce 23.0%,#02fffd 24.0%,#00e3ff 26.0%,#00b1ff 30.0%,#0092ff 39.0%,#008eff 40.0%,#0073ff 47.0%,#0068ff 50.0%,#0054ff 56.0%,#004bff 60.0%,#0046ff 62.0%,#0056ff 70.0%,#0056ff 100.0%)"></i><i style="left:316px;width:4.5px;background:linear-gradient(0deg,#afff50 3.5%,#afff50 21.0%,#61ff9e 22.0%,#31ffce 23.0%,#00ffff 24.0%,#00f0ff 25.0%,#00afff 30.0%,#00abff 31.0%,#008eff 39.0%,#006fff 47.0%,#0065ff 50.0%,#0050ff 56.0%,#0046ff 60.0%,#0041ff 62.0%,#0050ff 70.0%,#0050ff 100.0%)"></i><i style="left:320px;width:4.5px;background:linear-gradient(0deg,#afff50 3.5%,#afff50 21.0%,#64ff9b 22.0%,#33ffcc 23.0%,#02fffd 24.0%,#00ebff 25.0%,#00aeff 30.0%,#00a9ff 31.0%,#008cff 39.0%,#006eff 47.0%,#0064ff 50.0%,#0051ff 56.0%,#0047ff 60.0%,#0043ff 62.0%,#0050ff 70.0%,#0050ff 100.0%)"></i><i style="left:324px;width:4.5px;background:linear-gradient(0deg,#afff50 3.5%,#afff50 21.0%,#68ff97 22.0%,#35ffca 23.0%,#03fffc 24.0%,#00e6ff 25.0%,#00adff 30.0%,#00a8ff 31.0%,#008aff 39.0%,#006dff 47.0%,#0063ff 50.0%,#0052ff 56.0%,#0049ff 60.0%,#0045ff 62.0%,#0050ff 70.0%,#0050ff 100.0%)"></i><i style="left:328px;width:4.5px;background:linear-gradient(0deg,#afff50 3.5%,#afff50 21.0%,#6bff94 22.0%,#37ffc8 23.0%,#04fffb 24.0%,#00e1ff 25.0%,#00acff 30.0%,#00a6ff 31.0%,#0088ff 39.0%,#006cff 47.0%,#0062ff 50.0%,#0053ff 56.0%,#004aff 60.0%,#0047ff 62.0%,#0050ff 70.0%,#0050ff 100.0%)"></i><i style="left:332px;width:4.5px;background:linear-gradient(0deg,#afff50 3.5%,#afff50 21.0%,#6eff91 22.0%,#3affc5 23.0%,#05fffa 24.0%,#00ddff 25.0%,#00aaff 30.0%,#00a4ff 31.0%,#0086ff 39.0%,#006bff 47.0%,#0062ff 50.0%,#0054ff 56.0%,#004cff 60.0%,#004aff 62.0%,#0050ff 70.0%,#0050ff 100.0%)"></i><i style="left:336px;width:4.5px;background:linear-gradient(0deg,#afff50 3.5%,#afff50 21.0%,#72ff8d 22.0%,#3cffc3 23.0%,#06fff9 24.0%,#00d8ff 25.0%,#00a9ff 30.0%,#00a2ff 31.0%,#0083ff 39.0%,#006aff 47.0%,#0061ff 50.0%,#0054ff 56.0%,#004dff 60.0%,#004cff 62.0%,#0050ff 70.0%,#0050ff 100.0%)"></i><i style="left:340px;width:4.5px;background:linear-gradient(0deg,#afff50 3.5%,#afff50 21.0%,#75ff8a 22.0%,#3effc1 23.0%,#07fff8 24.0%,#00d3ff 25.0%,#00a8ff 30.0%,#00a1ff 31.0%,#0081ff 39.0%,#0069ff 47.0%,#0060ff 50.0%,#0055ff 56.0%,#004fff 60.0%,#004eff 62.0%,#0050ff 70.0%,#0050ff 100.0%)"></i><i style="left:344px;width:4.5px;background:linear-gradient(0deg,#b0ff4f 3.5%,#b0ff4f 21.0%,#43ffbc 23.0%,#0dfff2 24.0%,#00d5ff 25.0%,#00b4ff 29.0%,#00a2ff 31.0%,#008dff 36.0%,#0081ff 39.0%,#0075ff 43.0%,#0061ff 50.0%,#005dff 52.0%,#0052ff 60.0%,#0053ff 70.0%,#0053ff 90.0%,#0055ff 100.0%)"></i><i style="left:348px;width:4.5px;background:linear-gradient(0deg,#b2ff4d 3.5%,#b2ff4d 21.0%,#55ffaa 23.0%,#26ffd9 24.0%,#00f3ff 25.0%,#00ccff 29.0%,#00afff 31.0%,#0094ff 36.0%,#0088ff 39.0%,#007bff 43.0%,#0066ff 50.0%,#0062ff 52.0%,#005dff 60.0%,#0062ff 70.0%,#0067ff 90.0%,#006fff 100.0%)"></i><i style="left:352px;width:4.5px;background:linear-gradient(0deg,#b4ff4b 3.5%,#b4ff4b 21.0%,#66ff99 23.0%,#3fffc0 24.0%,#12ffed 25.0%,#00e4ff 29.0%,#00bcff 31.0%,#009bff 36.0%,#008fff 39.0%,#0081ff 43.0%,#006bff 50.0%,#0067ff 52.0%,#0068ff 60.0%,#0071ff 70.0%,#007bff 90.0%,#0089ff 100.0%)"></i><i style="left:356px;width:4.5px;background:linear-gradient(0deg,#b6ff49 3.5%,#b6ff49 21.0%,#78ff87 23.0%,#58ffa7 24.0%,#31ffce 25.0%,#00fcff 29.0%,#00c9ff 31.0%,#00a2ff 36.0%,#0095ff 39.0%,#0087ff 43.0%,#0071ff 50.0%,#006cff 52.0%,#0073ff 60.0%,#0081ff 70.0%,#008fff 90.0%,#00a4ff 100.0%)"></i><i style="left:360px;width:4.5px;background:linear-gradient(0deg,#b9ff46 3.5%,#b9ff46 21.0%,#89ff76 23.0%,#72ff8d 24.0%,#4fffb0 25.0%,#15ffea 29.0%,#00d7ff 31.0%,#00a9ff 36.0%,#009cff 39.0%,#008dff 43.0%,#0076ff 50.0%,#0071ff 52.0%,#007eff 60.0%,#0090ff 70.0%,#00a2ff 90.0%,#00beff 100.0%)"></i><i style="left:364px;width:4.5px;background:linear-gradient(0deg,#bbff44 3.5%,#bbff44 21.0%,#9bff64 23.0%,#8bff74 24.0%,#6dff92 25.0%,#2effd1 29.0%,#00e4ff 31.0%,#00b0ff 36.0%,#00a3ff 39.0%,#0093ff 43.0%,#007bff 50.0%,#0075ff 52.0%,#0089ff 60.0%,#009fff 70.0%,#00b6ff 90.0%,#00d8ff 100.0%)"></i><i style="left:368px;width:4.5px;background:linear-gradient(0deg,#bdff42 3.5%,#bdff42 21.0%,#acff53 23.0%,#a4ff5b 24.0%,#8cff73 25.0%,#46ffb9 29.0%,#00f1ff 31.0%,#00b8ff 36.0%,#00aaff 39.0%,#0099ff 43.0%,#0081ff 50.0%,#007aff 52.0%,#0094ff 60.0%,#00afff 70.0%,#00caff 90.0%,#00f3ff 100.0%)"></i><i style="left:372px;width:4.5px;background:linear-gradient(0deg,#bfff40 3.5%,#bfff40 21.0%,#beff41 23.0%,#bdff42 24.0%,#aaff55 25.0%,#5effa1 29.0%,#00feff 31.0%,#00bfff 36.0%,#00b1ff 39.0%,#009fff 43.0%,#0086ff 50.0%,#007fff 52.0%,#009fff 60.0%,#00beff 70.0%,#00deff 90.0%,#0efff1 100.0%)"></i><i style="left:376px;width:4.5px;background:linear-gradient(0deg,#bdff42 3.5%,#bdff42 10.0%,#b7ff48 15.5%,#afff50 21.0%,#a6ff59 24.0%,#92ff6d 25.0%,#4dffb2 29.0%,#00f7ff 31.0%,#00d3ff 34.0%,#00bcff 36.0%,#009dff 43.0%,#0080ff 52.0%,#008aff 55.0%,#009bff 60.0%,#00b5ff 70.0%,#00d1ff 90.0%,#00fbff 100.0%)"></i><i style="left:380px;width:4.5px;background:linear-gradient(0deg,#bbff44 3.5%,#bbff44 10.0%,#aeff51 15.5%,#9dff62 21.0%,#8aff75 24.0%,#76ff89 25.0%,#38ffc7 29.0%,#00eeff 31.0%,#00ceff 34.0%,#00b9ff 36.0%,#009bff 43.0%,#0081ff 52.0%,#0088ff 55.0%,#0096ff 60.0%,#00aaff 70.0%,#00c2ff 90.0%,#00e5ff 100.0%)"></i><i style="left:384px;width:4.5px;background:linear-gradient(0deg,#b9ff46 3.5%,#b9ff46 10.0%,#a6ff59 15.5%,#8cff73 21.0%,#6fff90 24.0%,#5affa5 25.0%,#24ffdb 29.0%,#00e5ff 31.0%,#00c8ff 34.0%,#00b6ff 36.0%,#0099ff 43.0%,#0081ff 52.0%,#0087ff 55.0%,#0090ff 60.0%,#009fff 70.0%,#00b2ff 90.0%,#00cfff 100.0%)"></i><i style="left:388px;width:4.5px;background:linear-gradient(0deg,#b7ff48 3.5%,#b7ff48 10.0%,#9dff62 15.5%,#7aff85 21.0%,#54ffab 24.0%,#3effc1 25.0%,#0ffff0 29.0%,#00ddff 31.0%,#00c2ff 34.0%,#00b3ff 36.0%,#0097ff 43.0%,#0082ff 52.0%,#0085ff 55.0%,#008bff 60.0%,#0094ff 70.0%,#00a3ff 90.0%,#00b9ff 100.0%)"></i><i style="left:392px;width:4.5px;background:linear-gradient(0deg,#b4ff4b 3.5%,#b4ff4b 10.0%,#94ff6b 15.5%,#69ff96 21.0%,#38ffc7 24.0%,#22ffdd 25.0%,#00faff 29.0%,#00d4ff 31.0%,#00bdff 34.0%,#00b0ff 36.0%,#0095ff 43.0%,#0082ff 52.0%,#0083ff 55.0%,#0086ff 60.0%,#0089ff 70.0%,#0093ff 90.0%,#00a3ff 100.0%)"></i><i style="left:396px;width:4.5px;background:linear-gradient(0deg,#b2ff4d 3.5%,#b2ff4d 10.0%,#8bff74 15.5%,#57ffa8 21.0%,#1dffe2 24.0%,#06fff9 25.0%,#00e5ff 29.0%,#00cbff 31.0%,#00b7ff 34.0%,#00acff 36.0%,#0092ff 43.0%,#0083ff 52.0%,#0082ff 55.0%,#0081ff 60.0%,#007eff 70.0%,#0084ff 90.0%,#008dff 100.0%)"></i><i style="left:400px;width:4.5px;background:linear-gradient(0deg,#b0ff4f 3.5%,#b0ff4f 10.0%,#82ff7d 15.5%,#46ffb9 21.0%,#01fffe 24.0%,#00e9ff 25.0%,#00d1ff 29.0%,#00c2ff 31.0%,#00b1ff 34.0%,#00a9ff 36.0%,#0090ff 43.0%,#0083ff 52.0%,#0080ff 55.0%,#007cff 60.0%,#0073ff 70.0%,#0075ff 90.0%,#0077ff 100.0%)"></i><i style="left:404px;width:4.5px;background:linear-gradient(0deg,#abff54 3.5%,#abff54 10.0%,#7cff83 15.5%,#50ffaf 19.5%,#3dffc2 21.0%,#00f5ff 24.0%,#00dfff 25.0%,#00bfff 31.0%,#00b0ff 34.0%,#009bff 40.0%,#0090ff 43.0%,#0087ff 50.0%,#0081ff 55.0%,#0071ff 70.0%,#0070ff 90.0%,#0070ff 100.0%)"></i><i style="left:408px;width:4.5px;background:linear-gradient(0deg,#a4ff5b 3.5%,#a4ff5b 10.0%,#77ff88 15.5%,#4dffb2 19.5%,#38ffc7 21.0%,#00f2ff 24.0%,#00deff 25.0%,#00bfff 31.0%,#00b1ff 34.0%,#009bff 40.0%,#0092ff 43.0%,#0088ff 50.0%,#0082ff 55.0%,#0073ff 70.0%,#0070ff 90.0%,#0070ff 100.0%)"></i><i style="left:412px;width:4.5px;background:linear-gradient(0deg,#9eff61 3.5%,#9eff61 10.0%,#72ff8d 15.5%,#4bffb4 19.5%,#34ffcb 21.0%,#00eeff 24.0%,#00ddff 25.0%,#00bfff 31.0%,#00b1ff 34.0%,#009cff 40.0%,#0094ff 43.0%,#008aff 50.0%,#0084ff 55.0%,#0075ff 70.0%,#0070ff 90.0%,#0070ff 100.0%)"></i><i style="left:416px;width:4.5px;background:linear-gradient(0deg,#97ff68 3.5%,#97ff68 10.0%,#6dff92 15.5%,#48ffb7 19.5%,#30ffcf 21.0%,#00ebff 24.0%,#00ddff 25.0%,#00bfff 31.0%,#00b2ff 34.0%,#009dff 40.0%,#0095ff 43.0%,#008bff 50.0%,#0086ff 55.0%,#0078ff 70.0%,#0070ff 90.0%,#0070ff 100.0%)"></i><i style="left:420px;width:4.5px;background:linear-gradient(0deg,#91ff6e 3.5%,#91ff6e 10.0%,#68ff97 15.5%,#46ffb9 19.5%,#2bffd4 21.0%,#00e8ff 24.0%,#00dcff 25.0%,#00bfff 31.0%,#00b3ff 34.0%,#009dff 40.0%,#0097ff 43.0%,#008cff 50.0%,#0087ff 55.0%,#007aff 70.0%,#0070ff 90.0%,#0070ff 100.0%)"></i><i style="left:424px;width:4.5px;background:linear-gradient(0deg,#8aff75 3.5%,#8aff75 10.0%,#63ff9c 15.5%,#44ffbb 19.5%,#27ffd8 21.0%,#00e4ff 24.0%,#00dcff 25.0%,#00bfff 31.0%,#00b3ff 34.0%,#009eff 40.0%,#0098ff 43.0%,#008dff 50.0%,#0089ff 55.0%,#007cff 70.0%,#0070ff 90.0%,#0070ff 100.0%)"></i><i style="left:428px;width:4.5px;background:linear-gradient(0deg,#83ff7c 3.5%,#83ff7c 10.0%,#5effa1 15.5%,#41ffbe 19.5%,#23ffdc 21.0%,#00e1ff 24.0%,#00dbff 25.0%,#00bfff 31.0%,#00b4ff 34.0%,#009fff 40.0%,#009aff 43.0%,#008fff 50.0%,#008aff 55.0%,#007eff 70.0%,#0070ff 90.0%,#0070ff 100.0%)"></i><i style="left:432px;width:4.5px;background:linear-gradient(0deg,#7cff83 3.5%,#7cff83 10.0%,#66ff99 13.5%,#47ffb8 18.0%,#3cffc3 19.5%,#00deff 24.0%,#00c0ff 31.0%,#00b5ff 34.0%,#00a0ff 40.0%,#0096ff 46.0%,#0090ff 50.0%,#008cff 55.0%,#007fff 70.0%,#0072ff 85.0%,#006fff 90.0%,#006fff 100.0%)"></i><i style="left:436px;width:4.5px;background:linear-gradient(0deg,#73ff8c 3.5%,#73ff8c 10.0%,#60ff9f 13.5%,#3fffc0 18.0%,#33ffcc 19.5%,#00dcff 24.0%,#00c0ff 31.0%,#00b7ff 34.0%,#00a2ff 40.0%,#0098ff 46.0%,#0091ff 50.0%,#008cff 55.0%,#007cff 70.0%,#0070ff 85.0%,#006cff 90.0%,#006cff 100.0%)"></i><i style="left:440px;width:4.5px;background:linear-gradient(0deg,#6aff95 3.5%,#6aff95 10.0%,#5bffa4 13.5%,#37ffc8 18.0%,#2bffd4 19.5%,#00daff 24.0%,#00c1ff 31.0%,#00b8ff 34.0%,#00a5ff 40.0%,#0099ff 46.0%,#0092ff 50.0%,#008dff 55.0%,#007aff 70.0%,#006dff 85.0%,#006aff 90.0%,#006aff 100.0%)"></i><i style="left:444px;width:4.5px;background:linear-gradient(0deg,#62ff9d 3.5%,#62ff9d 10.0%,#55ffaa 13.5%,#2fffd0 18.0%,#22ffdd 19.5%,#00d8ff 24.0%,#00c1ff 31.0%,#00baff 34.0%,#00a7ff 40.0%,#009aff 46.0%,#0094ff 50.0%,#008dff 55.0%,#0078ff 70.0%,#006aff 85.0%,#0068ff 90.0%,#0068ff 100.0%)"></i><i style="left:448px;width:4.5px;background:linear-gradient(0deg,#59ffa6 3.5%,#59ffa6 10.0%,#50ffaf 13.5%,#27ffd8 18.0%,#19ffe6 19.5%,#00d5ff 24.0%,#00c2ff 31.0%,#00bbff 34.0%,#00a9ff 40.0%,#009cff 46.0%,#0095ff 50.0%,#008eff 55.0%,#0076ff 70.0%,#0067ff 85.0%,#0066ff 90.0%,#0066ff 100.0%)"></i><i style="left:452px;width:4.5px;background:linear-gradient(0deg,#50ffaf 3.5%,#50ffaf 10.0%,#4affb5 13.5%,#1fffe0 18.0%,#10ffef 19.5%,#00d3ff 24.0%,#00c3ff 31.0%,#00bdff 34.0%,#00abff 40.0%,#009dff 46.0%,#0096ff 50.0%,#008eff 55.0%,#0074ff 70.0%,#0065ff 85.0%,#0064ff 90.0%,#0064ff 100.0%)"></i><i style="left:456px;width:4.5px;background:linear-gradient(0deg,#47ffb8 3.5%,#47ffb8 10.0%,#45ffba 13.5%,#17ffe8 18.0%,#08fff7 19.5%,#00d1ff 24.0%,#00c3ff 31.0%,#00beff 34.0%,#00adff 40.0%,#009eff 46.0%,#0097ff 50.0%,#008fff 55.0%,#0071ff 70.0%,#0062ff 85.0%,#0062ff 90.0%,#0062ff 100.0%)"></i><i style="left:460px;width:4.5px;background:linear-gradient(0deg,#3fffc0 3.5%,#3fffc0 7.0%,#3effc1 13.5%,#0ffff0 18.0%,#00e4ff 22.0%,#00cfff 24.0%,#00bfff 34.0%,#00a7ff 43.0%,#009fff 46.0%,#008fff 55.0%,#0084ff 60.0%,#006fff 70.0%,#005fff 85.0%,#005fff 100.0%)"></i><i style="left:464px;width:4.5px;background:linear-gradient(0deg,#38ffc7 3.5%,#38ffc7 7.0%,#31ffce 13.5%,#06fff9 18.0%,#00dfff 22.0%,#00ccff 24.0%,#00bdff 34.0%,#00a6ff 43.0%,#009eff 46.0%,#008dff 55.0%,#007fff 60.0%,#0068ff 70.0%,#0058ff 85.0%,#0058ff 100.0%)"></i><i style="left:468px;width:4.5px;background:linear-gradient(0deg,#32ffcd 3.5%,#32ffcd 7.0%,#24ffdb 13.5%,#00fcff 18.0%,#00daff 22.0%,#00caff 24.0%,#00bbff 34.0%,#00a5ff 43.0%,#009dff 46.0%,#008bff 55.0%,#007aff 60.0%,#0062ff 70.0%,#0052ff 85.0%,#0052ff 100.0%)"></i><i style="left:472px;width:4.5px;background:linear-gradient(0deg,#2bffd4 3.5%,#2bffd4 7.0%,#17ffe8 13.5%,#00f3ff 18.0%,#00d4ff 22.0%,#00c7ff 24.0%,#00b8ff 34.0%,#00a4ff 43.0%,#009cff 46.0%,#0089ff 55.0%,#0075ff 60.0%,#005bff 70.0%,#004bff 85.0%,#004bff 100.0%)"></i><i style="left:476px;width:4.5px;background:linear-gradient(0deg,#25ffda 3.5%,#25ffda 7.0%,#09fff6 13.5%,#00eaff 18.0%,#00cfff 22.0%,#00c5ff 24.0%,#00b6ff 34.0%,#00a3ff 43.0%,#009bff 46.0%,#0086ff 55.0%,#0070ff 60.0%,#0054ff 70.0%,#0044ff 85.0%,#0044ff 100.0%)"></i><i style="left:480px;width:4.5px;background:linear-gradient(0deg,#1effe1 3.5%,#1effe1 7.0%,#00fbff 13.5%,#00e1ff 18.0%,#00caff 22.0%,#00c2ff 24.0%,#00b4ff 34.0%,#00a2ff 43.0%,#009aff 46.0%,#0084ff 55.0%,#006bff 60.0%,#004eff 70.0%,#003eff 85.0%,#003eff 100.0%)"></i><i style="left:484px;width:4.5px;background:linear-gradient(0deg,#17ffe8 3.5%,#17ffe8 7.0%,#00eeff 13.5%,#00d8ff 18.0%,#00c5ff 22.0%,#00bfff 24.0%,#00b2ff 34.0%,#00a1ff 43.0%,#0099ff 46.0%,#0082ff 55.0%,#0065ff 60.0%,#0047ff 70.0%,#0037ff 85.0%,#0037ff 100.0%)"></i><i style="left:488px;width:4.5px;background:linear-gradient(0deg,#11ffee 3.5%,#11ffee 7.0%,#00e1ff 13.5%,#00cfff 18.0%,#00c0ff 22.0%,#00bdff 24.0%,#00b0ff 34.0%,#00a0ff 43.0%,#0098ff 46.0%,#0080ff 55.0%,#0060ff 60.0%,#0041ff 70.0%,#0031ff 85.0%,#0031ff 100.0%)"></i><i style="left:492px;width:4.5px;background:linear-gradient(0deg,#08fff7 3.5%,#08fff7 7.0%,#00f4ff 10.0%,#00ddff 13.5%,#00c8ff 19.5%,#00beff 22.0%,#00b1ff 31.0%,#00adff 34.0%,#00a2ff 40.0%,#009cff 43.0%,#0087ff 50.0%,#0079ff 55.0%,#005aff 60.0%,#003cff 70.0%,#0031ff 80.0%,#002cff 85.0%,#002cff 100.0%)"></i><i style="left:496px;width:4.5px;background:linear-gradient(0deg,#00ffff 3.5%,#00ffff 7.0%,#00eeff 10.0%,#00daff 13.5%,#00c6ff 19.5%,#00bdff 22.0%,#00aeff 31.0%,#00aaff 34.0%,#009fff 40.0%,#0098ff 43.0%,#0081ff 50.0%,#0071ff 55.0%,#0053ff 60.0%,#0038ff 70.0%,#002cff 80.0%,#0028ff 85.0%,#0028ff 100.0%)"></i><i style="left:500px;width:4.5px;background:linear-gradient(0deg,#00f6ff 3.5%,#00f6ff 7.0%,#00e8ff 10.0%,#00d7ff 13.5%,#00c5ff 19.5%,#00bdff 22.0%,#00abff 31.0%,#00a7ff 34.0%,#009cff 40.0%,#0093ff 43.0%,#007bff 50.0%,#0069ff 55.0%,#004dff 60.0%,#0033ff 70.0%,#0026ff 80.0%,#0023ff 85.0%,#0023ff 100.0%)"></i><i style="left:504px;width:4.5px;background:linear-gradient(0deg,#00edff 3.5%,#00edff 7.0%,#00e3ff 10.0%,#00d4ff 13.5%,#00c4ff 19.5%,#00bcff 22.0%,#00a9ff 31.0%,#00a4ff 34.0%,#0099ff 40.0%,#008fff 43.0%,#0075ff 50.0%,#0062ff 55.0%,#0046ff 60.0%,#002fff 70.0%,#0021ff 80.0%,#001fff 85.0%,#001fff 100.0%)"></i><i style="left:508px;width:4.5px;background:linear-gradient(0deg,#00e4ff 3.5%,#00e4ff 7.0%,#00ddff 10.0%,#00d1ff 13.5%,#00c2ff 19.5%,#00bbff 22.0%,#00a6ff 31.0%,#00a1ff 34.0%,#0096ff 40.0%,#008bff 43.0%,#006fff 50.0%,#005aff 55.0%,#0040ff 60.0%,#002aff 70.0%,#001cff 80.0%,#001aff 85.0%,#001aff 100.0%)"></i><i style="left:512px;width:4.5px;background:linear-gradient(0deg,#00dbff 3.5%,#00dbff 7.0%,#00d7ff 10.0%,#00ceff 13.5%,#00c1ff 19.5%,#00baff 22.0%,#00a3ff 31.0%,#009eff 34.0%,#0094ff 40.0%,#0087ff 43.0%,#0068ff 50.0%,#0052ff 55.0%,#0039ff 60.0%,#0026ff 70.0%,#0017ff 80.0%,#0016ff 85.0%,#0016ff 100.0%)"></i><i style="left:516px;width:4.5px;background:linear-gradient(0deg,#00d3ff 3.5%,#00d3ff 7.0%,#00d1ff 10.0%,#00cbff 13.5%,#00c0ff 19.5%,#00b9ff 22.0%,#00a0ff 31.0%,#009bff 34.0%,#0091ff 40.0%,#0083ff 43.0%,#0062ff 50.0%,#004bff 55.0%,#0032ff 60.0%,#0022ff 70.0%,#0012ff 80.0%,#0012ff 85.0%,#0012ff 100.0%)"></i><i style="left:520px;width:4.5px;background:linear-gradient(0deg,#00ceff 3.5%,#00ceff 10.0%,#00c9ff 13.0%,#00bdff 19.5%,#00b6ff 22.0%,#009dff 31.0%,#008bff 40.0%,#007dff 43.0%,#0059ff 50.0%,#0042ff 55.0%,#002cff 60.0%,#001dff 70.0%,#000fff 80.0%,#000fff 100.0%)"></i><i style="left:524px;width:4.5px;background:linear-gradient(0deg,#00ccff 3.5%,#00ccff 10.0%,#00c8ff 13.0%,#00baff 19.5%,#00b3ff 22.0%,#0098ff 31.0%,#0084ff 40.0%,#0076ff 43.0%,#004eff 50.0%,#0038ff 55.0%,#0025ff 60.0%,#0019ff 70.0%,#000cff 80.0%,#000cff 100.0%)"></i><i style="left:528px;width:4.5px;background:linear-gradient(0deg,#00c9ff 3.5%,#00c9ff 10.0%,#00c6ff 13.0%,#00b7ff 19.5%,#00afff 22.0%,#0094ff 31.0%,#007dff 40.0%,#006fff 43.0%,#0043ff 50.0%,#002eff 55.0%,#001fff 60.0%,#0014ff 70.0%,#000aff 80.0%,#000aff 100.0%)"></i><i style="left:532px;width:4.5px;background:linear-gradient(0deg,#00c7ff 3.5%,#00c7ff 10.0%,#00c5ff 13.0%,#00b4ff 19.5%,#00acff 22.0%,#0090ff 31.0%,#0076ff 40.0%,#0069ff 43.0%,#0038ff 50.0%,#0024ff 55.0%,#0018ff 60.0%,#0010ff 70.0%,#0008ff 80.0%,#0008ff 100.0%)"></i><i style="left:536px;width:4.5px;background:linear-gradient(0deg,#00c5ff 3.5%,#00c5ff 10.0%,#00c3ff 13.0%,#00b1ff 19.5%,#00a9ff 22.0%,#008bff 31.0%,#006fff 40.0%,#0062ff 43.0%,#002dff 50.0%,#001aff 55.0%,#0012ff 60.0%,#000cff 70.0%,#0006ff 80.0%,#0006ff 100.0%)"></i><i style="left:540px;width:4.5px;background:linear-gradient(0deg,#00c3ff 3.5%,#00c3ff 10.0%,#00c2ff 13.0%,#00adff 19.5%,#00a5ff 22.0%,#0087ff 31.0%,#0067ff 40.0%,#005bff 43.0%,#0022ff 50.0%,#0010ff 55.0%,#000bff 60.0%,#0007ff 70.0%,#0004ff 80.0%,#0004ff 100.0%)"></i><i style="left:544px;width:4.5px;background:linear-gradient(0deg,#00c1ff 3.5%,#00c1ff 10.0%,#00c0ff 13.0%,#00aaff 19.5%,#00a2ff 22.0%,#0082ff 31.0%,#0060ff 40.0%,#0054ff 43.0%,#0017ff 50.0%,#0007ff 55.0%,#0004ff 60.0%,#0003ff 70.0%,#0001ff 80.0%,#0001ff 100.0%)"></i><i style="left:548px;width:4.5px;background:linear-gradient(0deg,#00bfff 3.5%,#00bfff 8.5%,#00beff 13.0%,#00b4ff 16.0%,#009eff 22.0%,#0094ff 25.0%,#007fff 31.0%,#0073ff 34.0%,#004eff 43.0%,#0010ff 50.0%,#0001ff 55.0%,#0000ff 100.0%)"></i><i style="left:552px;width:4.5px;background:linear-gradient(0deg,#00bfff 3.5%,#00bfff 8.5%,#00bcff 13.0%,#00b1ff 16.0%,#009bff 22.0%,#0091ff 25.0%,#007cff 31.0%,#0070ff 34.0%,#004aff 43.0%,#0010ff 50.0%,#0003ff 55.0%,#0000ff 100.0%)"></i><i style="left:556px;width:4.5px;background:linear-gradient(0deg,#00bfff 3.5%,#00bfff 8.5%,#00b9ff 13.0%,#00aeff 16.0%,#0099ff 22.0%,#008eff 25.0%,#0079ff 31.0%,#006dff 34.0%,#0045ff 43.0%,#0010ff 50.0%,#0005ff 55.0%,#0000ff 100.0%)"></i><i style="left:560px;width:4.5px;background:linear-gradient(0deg,#00bfff 3.5%,#00bfff 8.5%,#00b6ff 13.0%,#00abff 16.0%,#0096ff 22.0%,#008bff 25.0%,#0076ff 31.0%,#006aff 34.0%,#0041ff 43.0%,#0010ff 50.0%,#0007ff 55.0%,#0000ff 100.0%)"></i><i style="left:564px;width:4.5px;background:linear-gradient(0deg,#00bfff 3.5%,#00bfff 8.5%,#00b4ff 13.0%,#00a8ff 16.0%,#0093ff 22.0%,#0088ff 25.0%,#0073ff 31.0%,#0068ff 34.0%,#003dff 43.0%,#0010ff 50.0%,#0009ff 55.0%,#0000ff 100.0%)"></i><i style="left:568px;width:4.5px;background:linear-gradient(0deg,#00bfff 3.5%,#00bfff 8.5%,#00b1ff 13.0%,#00a5ff 16.0%,#0090ff 22.0%,#0085ff 25.0%,#0070ff 31.0%,#0065ff 34.0%,#0038ff 43.0%,#0010ff 50.0%,#000bff 55.0%,#0000ff 100.0%)"></i><i style="left:572px;width:4.5px;background:linear-gradient(0deg,#00bfff 3.5%,#00bfff 8.5%,#00afff 13.0%,#00a2ff 16.0%,#008dff 22.0%,#0082ff 25.0%,#006dff 31.0%,#0062ff 34.0%,#0034ff 43.0%,#0010ff 50.0%,#000dff 55.0%,#0000ff 100.0%)"></i><i style="left:576px;width:4.5px;background:linear-gradient(0deg,#00bfff 3.5%,#00beff 8.5%,#00b8ff 10.0%,#009fff 16.0%,#0091ff 20.0%,#007fff 25.0%,#006dff 30.0%,#005fff 34.0%,#003fff 40.0%,#002fff 43.0%,#0010ff 50.0%,#0000ff 100.0%)"></i><i style="left:580px;width:4.5px;background:linear-gradient(0deg,#00b6ff 3.5%,#00b4ff 8.5%,#00aeff 10.0%,#0095ff 16.0%,#0088ff 20.0%,#0075ff 25.0%,#0062ff 30.0%,#0054ff 34.0%,#0036ff 40.0%,#0029ff 43.0%,#000eff 50.0%,#0000ff 100.0%)"></i><i style="left:584px;width:4.5px;background:linear-gradient(0deg,#00adff 3.5%,#00aaff 8.5%,#00a4ff 10.0%,#008cff 16.0%,#007eff 20.0%,#006bff 25.0%,#0058ff 30.0%,#004aff 34.0%,#002eff 40.0%,#0022ff 43.0%,#000bff 50.0%,#0000ff 100.0%)"></i><i style="left:588px;width:4.5px;background:linear-gradient(0deg,#00a4ff 3.5%,#009fff 8.5%,#009aff 10.0%,#0083ff 16.0%,#0075ff 20.0%,#0061ff 25.0%,#004dff 30.0%,#003fff 34.0%,#0025ff 40.0%,#001cff 43.0%,#0009ff 50.0%,#0000ff 100.0%)"></i><i style="left:592px;width:4.5px;background:linear-gradient(0deg,#009bff 3.5%,#0095ff 8.5%,#0090ff 10.0%,#007aff 16.0%,#006cff 20.0%,#0057ff 25.0%,#0042ff 30.0%,#0035ff 34.0%,#001cff 40.0%,#0015ff 43.0%,#0007ff 50.0%,#0000ff 100.0%)"></i><i style="left:596px;width:4.5px;background:linear-gradient(0deg,#0093ff 3.5%,#008aff 8.5%,#0086ff 10.0%,#0071ff 16.0%,#0063ff 20.0%,#004dff 25.0%,#0037ff 30.0%,#002aff 34.0%,#0013ff 40.0%,#000eff 43.0%,#0005ff 50.0%,#0000ff 100.0%)"></i><i style="left:600px;width:4.5px;background:linear-gradient(0deg,#008aff 3.5%,#0080ff 8.5%,#007cff 10.0%,#0067ff 16.0%,#005aff 20.0%,#0044ff 25.0%,#002dff 30.0%,#0020ff 34.0%,#000aff 40.0%,#0008ff 43.0%,#0003ff 50.0%,#0000ff 100.0%)"></i><i style="left:604px;width:4.5px;background:linear-gradient(0deg,#0081ff 3.5%,#0075ff 8.5%,#0071ff 10.0%,#005eff 16.0%,#0051ff 20.0%,#003aff 25.0%,#0022ff 30.0%,#0015ff 34.0%,#0002ff 40.0%,#0001ff 43.0%,#0000ff 50.0%,#0000ff 100.0%)"></i><i style="left:608px;width:4.5px;background:linear-gradient(0deg,#0080ff 3.5%,#006eff 10.0%,#005cff 15.0%,#004aff 20.0%,#001cff 30.0%,#0000ff 40.0%,#0000ff 100.0%)"></i><i style="left:612px;width:4.5px;background:linear-gradient(0deg,#0080ff 3.5%,#006cff 10.0%,#0058ff 15.0%,#0044ff 20.0%,#0018ff 30.0%,#0000ff 40.0%,#0000ff 100.0%)"></i><i style="left:616px;width:4.5px;background:linear-gradient(0deg,#0080ff 3.5%,#0069ff 10.0%,#0053ff 15.0%,#003dff 20.0%,#0014ff 30.0%,#0000ff 40.0%,#0000ff 100.0%)"></i><i style="left:620px;width:4.5px;background:linear-gradient(0deg,#0080ff 3.5%,#0067ff 10.0%,#004fff 15.0%,#0037ff 20.0%,#000fff 30.0%,#0000ff 40.0%,#0000ff 100.0%)"></i><i style="left:624px;width:4.5px;background:linear-gradient(0deg,#0080ff 3.5%,#0065ff 10.0%,#004bff 15.0%,#0030ff 20.0%,#000bff 30.0%,#0000ff 40.0%,#0000ff 100.0%)"></i><i style="left:628px;width:4.5px;background:linear-gradient(0deg,#0080ff 3.5%,#0063ff 10.0%,#0046ff 15.0%,#0029ff 20.0%,#0006ff 30.0%,#0000ff 40.0%,#0000ff 100.0%)"></i><i style="left:632px;width:4.5px;background:linear-gradient(0deg,#0080ff 3.5%,#0061ff 10.0%,#0042ff 15.0%,#0023ff 20.0%,#0002ff 30.0%,#0000ff 40.0%,#0000ff 100.0%)"></i><i style="left:636px;width:4.5px;background:linear-gradient(0deg,#0081ff 3.5%,#0062ff 10.0%,#0043ff 15.0%,#0023ff 20.0%,#0012ff 25.0%,#0002ff 30.0%,#0001ff 35.0%,#0001ff 45.0%,#0001ff 50.0%,#0000ff 100.0%)"></i><i style="left:640px;width:4.5px;background:linear-gradient(0deg,#0083ff 3.5%,#0066ff 10.0%,#0048ff 15.0%,#002aff 20.0%,#0017ff 25.0%,#0007ff 30.0%,#0003ff 35.0%,#0003ff 45.0%,#0003ff 50.0%,#0000ff 100.0%)"></i><i style="left:644px;width:4.5px;background:linear-gradient(0deg,#0085ff 3.5%,#006bff 10.0%,#004eff 15.0%,#0031ff 20.0%,#001bff 25.0%,#000bff 30.0%,#0006ff 35.0%,#0006ff 45.0%,#0006ff 50.0%,#0000ff 100.0%)"></i><i style="left:648px;width:4.5px;background:linear-gradient(0deg,#0087ff 3.5%,#006fff 10.0%,#0053ff 15.0%,#0037ff 20.0%,#0020ff 25.0%,#0010ff 30.0%,#0008ff 35.0%,#0008ff 45.0%,#0008ff 50.0%,#0000ff 100.0%)"></i><i style="left:652px;width:4.5px;background:linear-gradient(0deg,#0089ff 3.5%,#0074ff 10.0%,#0059ff 15.0%,#003eff 20.0%,#0024ff 25.0%,#0014ff 30.0%,#000aff 35.0%,#000aff 45.0%,#000aff 50.0%,#0000ff 100.0%)"></i><i style="left:656px;width:4.5px;background:linear-gradient(0deg,#008cff 3.5%,#0078ff 10.0%,#005eff 15.0%,#0044ff 20.0%,#0028ff 25.0%,#0018ff 30.0%,#000cff 35.0%,#000cff 45.0%,#000cff 50.0%,#0000ff 100.0%)"></i><i style="left:660px;width:4.5px;background:linear-gradient(0deg,#008eff 3.5%,#007cff 10.0%,#0064ff 15.0%,#004bff 20.0%,#002dff 25.0%,#001dff 30.0%,#000eff 35.0%,#000eff 45.0%,#000eff 50.0%,#0000ff 100.0%)"></i><i style="left:664px;width:4.5px;background:linear-gradient(0deg,#0090ff 3.5%,#0080ff 10.0%,#0051ff 20.0%,#0032ff 25.0%,#0022ff 30.0%,#0012ff 35.0%,#0011ff 40.0%,#0011ff 45.0%,#0011ff 50.0%,#000dff 60.0%,#000aff 70.0%,#0000ff 100.0%)"></i><i style="left:668px;width:4.5px;background:linear-gradient(0deg,#0092ff 3.5%,#0082ff 10.0%,#0055ff 20.0%,#0038ff 25.0%,#0028ff 30.0%,#0018ff 35.0%,#0016ff 40.0%,#0014ff 45.0%,#0013ff 50.0%,#0010ff 60.0%,#000bff 70.0%,#0000ff 100.0%)"></i><i style="left:672px;width:4.5px;background:linear-gradient(0deg,#0094ff 3.5%,#0085ff 10.0%,#005aff 20.0%,#003fff 25.0%,#002fff 30.0%,#001fff 35.0%,#001aff 40.0%,#0017ff 45.0%,#0015ff 50.0%,#0013ff 60.0%,#000cff 70.0%,#0000ff 100.0%)"></i><i style="left:676px;width:4.5px;background:linear-gradient(0deg,#0097ff 3.5%,#0087ff 10.0%,#005eff 20.0%,#0045ff 25.0%,#0035ff 30.0%,#0026ff 35.0%,#001eff 40.0%,#001bff 45.0%,#0017ff 50.0%,#0015ff 60.0%,#000cff 70.0%,#0000ff 100.0%)"></i><i style="left:680px;width:4.5px;background:linear-gradient(0deg,#0099ff 3.5%,#0089ff 10.0%,#0062ff 20.0%,#004cff 25.0%,#003cff 30.0%,#002cff 35.0%,#0023ff 40.0%,#001eff 45.0%,#0019ff 50.0%,#0018ff 60.0%,#000dff 70.0%,#0000ff 100.0%)"></i><i style="left:684px;width:4.5px;background:linear-gradient(0deg,#009bff 3.5%,#008bff 10.0%,#0067ff 20.0%,#0053ff 25.0%,#0043ff 30.0%,#0033ff 35.0%,#0027ff 40.0%,#0021ff 45.0%,#001cff 50.0%,#001bff 60.0%,#000eff 70.0%,#0000ff 100.0%)"></i><i style="left:688px;width:4.5px;background:linear-gradient(0deg,#009dff 3.5%,#008dff 10.0%,#006bff 20.0%,#0059ff 25.0%,#0049ff 30.0%,#0039ff 35.0%,#002cff 40.0%,#0025ff 45.0%,#001eff 50.0%,#001dff 60.0%,#000fff 70.0%,#0000ff 100.0%)"></i><i style="left:692px;width:4.5px;background:linear-gradient(0deg,#009fff 3.5%,#008fff 10.0%,#0070ff 20.0%,#0050ff 30.0%,#0030ff 40.0%,#0020ff 50.0%,#0020ff 60.0%,#0010ff 70.0%,#000dff 75.0%,#0000ff 100.0%)"></i><i style="left:696px;width:4.5px;background:linear-gradient(0deg,#00a2ff 3.5%,#0092ff 10.0%,#0074ff 20.0%,#0056ff 30.0%,#0037ff 40.0%,#0027ff 50.0%,#0024ff 60.0%,#0015ff 70.0%,#0012ff 75.0%,#0002ff 100.0%)"></i><i style="left:700px;width:4.5px;background:linear-gradient(0deg,#00a4ff 3.5%,#0094ff 10.0%,#0078ff 20.0%,#005dff 30.0%,#003dff 40.0%,#002dff 50.0%,#0029ff 60.0%,#001aff 70.0%,#0017ff 75.0%,#0004ff 100.0%)"></i><i style="left:704px;width:4.5px;background:linear-gradient(0deg,#00a6ff 3.5%,#0096ff 10.0%,#007dff 20.0%,#0064ff 30.0%,#0044ff 40.0%,#0034ff 50.0%,#002dff 60.0%,#001fff 70.0%,#001cff 75.0%,#0007ff 100.0%)"></i><i style="left:708px;width:4.5px;background:linear-gradient(0deg,#00a8ff 3.5%,#0098ff 10.0%,#0081ff 20.0%,#006aff 30.0%,#004aff 40.0%,#003aff 50.0%,#0032ff 60.0%,#0025ff 70.0%,#0020ff 75.0%,#0009ff 100.0%)"></i><i style="left:712px;width:4.5px;background:linear-gradient(0deg,#00aaff 3.5%,#009aff 10.0%,#0086ff 20.0%,#0071ff 30.0%,#0051ff 40.0%,#0041ff 50.0%,#0036ff 60.0%,#002aff 70.0%,#0025ff 75.0%,#000bff 100.0%)"></i><i style="left:716px;width:4.5px;background:linear-gradient(0deg,#00adff 3.5%,#009dff 10.0%,#008aff 20.0%,#0077ff 30.0%,#0057ff 40.0%,#0047ff 50.0%,#003aff 60.0%,#002fff 70.0%,#002aff 75.0%,#000dff 100.0%)"></i><i style="left:720px;width:4.5px;background:linear-gradient(0deg,#00afff 3.5%,#009fff 10.0%,#008eff 20.0%,#007eff 30.0%,#005eff 40.0%,#004eff 50.0%,#003fff 60.0%,#0034ff 70.0%,#002fff 75.0%,#000fff 100.0%)"></i><i style="left:724px;width:4.5px;background:linear-gradient(0deg,#00b1ff 3.5%,#00a1ff 10.0%,#0091ff 20.0%,#0081ff 30.0%,#0062ff 40.0%,#005aff 45.0%,#0052ff 50.0%,#0043ff 60.0%,#0033ff 75.0%,#0020ff 90.0%,#0013ff 100.0%)"></i><i style="left:728px;width:4.5px;background:linear-gradient(0deg,#00b3ff 3.5%,#00a3ff 10.0%,#0093ff 20.0%,#0083ff 30.0%,#0066ff 40.0%,#005dff 45.0%,#0056ff 50.0%,#0047ff 60.0%,#0038ff 75.0%,#0025ff 90.0%,#0018ff 100.0%)"></i><i style="left:732px;width:4.5px;background:linear-gradient(0deg,#00b5ff 3.5%,#00a5ff 10.0%,#0095ff 20.0%,#0086ff 30.0%,#006aff 40.0%,#0061ff 45.0%,#005aff 50.0%,#004cff 60.0%,#003cff 75.0%,#002aff 90.0%,#001cff 100.0%)"></i><i style="left:736px;width:4.5px;background:linear-gradient(0deg,#00b8ff 3.5%,#00a8ff 10.0%,#0098ff 20.0%,#0088ff 30.0%,#006dff 40.0%,#0064ff 45.0%,#005dff 50.0%,#0050ff 60.0%,#0040ff 75.0%,#002fff 90.0%,#0020ff 100.0%)"></i><i style="left:740px;width:4.5px;background:linear-gradient(0deg,#00baff 3.5%,#00aaff 10.0%,#009aff 20.0%,#008aff 30.0%,#0071ff 40.0%,#0067ff 45.0%,#0061ff 50.0%,#0055ff 60.0%,#0045ff 75.0%,#0034ff 90.0%,#0025ff 100.0%)"></i><i style="left:744px;width:4.5px;background:linear-gradient(0deg,#00bcff 3.5%,#00acff 10.0%,#009cff 20.0%,#008cff 30.0%,#0075ff 40.0%,#006bff 45.0%,#0065ff 50.0%,#0059ff 60.0%,#0049ff 75.0%,#0038ff 90.0%,#0029ff 100.0%)"></i><i style="left:748px;width:4.5px;background:linear-gradient(0deg,#00beff 3.5%,#00aeff 10.0%,#009eff 20.0%,#008eff 30.0%,#0078ff 40.0%,#006eff 45.0%,#0068ff 50.0%,#005dff 60.0%,#004dff 75.0%,#003dff 90.0%,#002eff 100.0%)"></i><i style="left:752px;width:4.5px;background:linear-gradient(0deg,#00c6ff 3.5%,#00b3ff 10.0%,#00a2ff 20.0%,#008fff 30.0%,#0070ff 45.0%,#0060ff 60.0%,#0050ff 75.0%,#004bff 80.0%,#0041ff 90.0%,#0032ff 100.0%)"></i><i style="left:756px;width:4.5px;background:linear-gradient(0deg,#00d3ff 3.5%,#00b9ff 10.0%,#00a6ff 20.0%,#008fff 30.0%,#0070ff 45.0%,#0060ff 60.0%,#0051ff 75.0%,#004bff 80.0%,#0043ff 90.0%,#0036ff 100.0%)"></i><i style="left:760px;width:4.5px;background:linear-gradient(0deg,#00e0ff 3.5%,#00c0ff 10.0%,#00aaff 20.0%,#008fff 30.0%,#0070ff 45.0%,#0060ff 60.0%,#0051ff 75.0%,#004cff 80.0%,#0045ff 90.0%,#003bff 100.0%)"></i><i style="left:764px;width:4.5px;background:linear-gradient(0deg,#00edff 3.5%,#00c6ff 10.0%,#00afff 20.0%,#008fff 30.0%,#0070ff 45.0%,#0060ff 60.0%,#0052ff 75.0%,#004dff 80.0%,#0047ff 90.0%,#003fff 100.0%)"></i><i style="left:768px;width:4.5px;background:linear-gradient(0deg,#00faff 3.5%,#00cdff 10.0%,#00b3ff 20.0%,#008fff 30.0%,#0070ff 45.0%,#0060ff 60.0%,#0052ff 75.0%,#004eff 80.0%,#004aff 90.0%,#0044ff 100.0%)"></i><i style="left:772px;width:4.5px;background:linear-gradient(0deg,#09fff6 3.5%,#00d3ff 10.0%,#00b7ff 20.0%,#008fff 30.0%,#0070ff 45.0%,#0060ff 60.0%,#0053ff 75.0%,#004eff 80.0%,#004cff 90.0%,#0048ff 100.0%)"></i><i style="left:776px;width:4.5px;background:linear-gradient(0deg,#16ffe9 3.5%,#00daff 10.0%,#00bcff 20.0%,#008fff 30.0%,#0070ff 45.0%,#0060ff 60.0%,#0053ff 75.0%,#004fff 80.0%,#004eff 90.0%,#004cff 100.0%)"></i><i style="left:780px;width:4.5px;background:linear-gradient(0deg,#21ffde 3.5%,#00e2ff 10.0%,#00dbff 12.0%,#00c0ff 20.0%,#0090ff 30.0%,#0070ff 45.0%,#0060ff 60.0%,#0050ff 80.0%,#0050ff 100.0%)"></i><i style="left:784px;width:4.5px;background:linear-gradient(0deg,#25ffda 3.5%,#00edff 10.0%,#00e7ff 12.0%,#00c5ff 20.0%,#0095ff 30.0%,#0072ff 45.0%,#0062ff 60.0%,#0052ff 80.0%,#0050ff 100.0%)"></i><i style="left:788px;width:4.5px;background:linear-gradient(0deg,#2affd5 3.5%,#00f9ff 10.0%,#00f3ff 12.0%,#00c9ff 20.0%,#0099ff 30.0%,#0074ff 45.0%,#0065ff 60.0%,#0055ff 80.0%,#0050ff 100.0%)"></i><i style="left:792px;width:4.5px;background:linear-gradient(0deg,#2effd1 3.5%,#05fffa 10.0%,#00ffff 12.0%,#00cdff 20.0%,#009eff 30.0%,#0077ff 45.0%,#0067ff 60.0%,#0057ff 80.0%,#0050ff 100.0%)"></i><i style="left:796px;width:4.5px;background:linear-gradient(0deg,#32ffcd 3.5%,#11ffee 10.0%,#0cfff3 12.0%,#00d2ff 20.0%,#00a2ff 30.0%,#0079ff 45.0%,#0069ff 60.0%,#0059ff 80.0%,#0050ff 100.0%)"></i><i style="left:800px;width:4.5px;background:linear-gradient(0deg,#37ffc8 3.5%,#1cffe3 10.0%,#18ffe7 12.0%,#00d6ff 20.0%,#00a6ff 30.0%,#007bff 45.0%,#006bff 60.0%,#005bff 80.0%,#0050ff 100.0%)"></i><i style="left:804px;width:4.5px;background:linear-gradient(0deg,#3bffc4 3.5%,#28ffd7 10.0%,#24ffdb 12.0%,#00dbff 20.0%,#00abff 30.0%,#007dff 45.0%,#006dff 60.0%,#005dff 80.0%,#0050ff 100.0%)"></i><i style="left:808px;width:4.5px;background:linear-gradient(0deg,#40ffbf 3.5%,#33ffcc 10.0%,#2fffd0 12.0%,#00dfff 20.0%,#00afff 30.0%,#007fff 45.0%,#006fff 60.0%,#0060ff 80.0%,#0050ff 100.0%)"></i><i style="left:812px;width:4.5px;background:linear-gradient(0deg,#40ffbf 3.5%,#30ffcf 12.0%,#27ffd8 13.0%,#00e3ff 20.0%,#00b1ff 30.0%,#0082ff 45.0%,#0070ff 60.0%,#0060ff 80.0%,#0050ff 100.0%)"></i><i style="left:816px;width:4.5px;background:linear-gradient(0deg,#40ffbf 3.5%,#30ffcf 12.0%,#29ffd6 13.0%,#00e8ff 20.0%,#00b4ff 30.0%,#0084ff 45.0%,#0070ff 60.0%,#0060ff 80.0%,#0050ff 100.0%)"></i><i style="left:820px;width:4.5px;background:linear-gradient(0deg,#40ffbf 3.5%,#30ffcf 12.0%,#2affd5 13.0%,#00ecff 20.0%,#00b6ff 30.0%,#0086ff 45.0%,#0070ff 60.0%,#0060ff 80.0%,#0050ff 100.0%)"></i><i style="left:824px;width:4.5px;background:linear-gradient(0deg,#40ffbf 3.5%,#31ffce 12.0%,#2bffd4 13.0%,#00f1ff 20.0%,#00b8ff 30.0%,#0088ff 45.0%,#0070ff 60.0%,#0060ff 80.0%,#0050ff 100.0%)"></i><i style="left:828px;width:4.5px;background:linear-gradient(0deg,#40ffbf 3.5%,#31ffce 12.0%,#2dffd2 13.0%,#00f5ff 20.0%,#00baff 30.0%,#008aff 45.0%,#0070ff 60.0%,#0060ff 80.0%,#0050ff 100.0%)"></i><i style="left:832px;width:4.5px;background:linear-gradient(0deg,#40ffbf 3.5%,#31ffce 12.0%,#2effd1 13.0%,#00f9ff 20.0%,#00bcff 30.0%,#008dff 45.0%,#0070ff 60.0%,#0060ff 80.0%,#0050ff 100.0%)"></i><i style="left:836px;width:4.5px;background:linear-gradient(0deg,#40ffbf 3.5%,#31ffce 12.0%,#2fffd0 13.0%,#00feff 20.0%,#00bfff 30.0%,#008fff 45.0%,#0070ff 60.0%,#0060ff 80.0%,#0050ff 100.0%)"></i><i style="left:840px;width:4.5px;background:linear-gradient(0deg,#40ffbf 3.5%,#30ffcf 12.0%,#2effd1 13.0%,#00fcff 20.0%,#00beff 30.0%,#008eff 45.0%,#006eff 60.0%,#005eff 80.0%,#0050ff 100.0%)"></i><i style="left:844px;width:4.5px;background:linear-gradient(0deg,#40ffbf 3.5%,#2dffd2 12.0%,#2affd5 13.0%,#00f8ff 20.0%,#00bcff 30.0%,#008cff 45.0%,#006cff 60.0%,#005cff 80.0%,#0050ff 100.0%)"></i><i style="left:848px;width:4.5px;background:linear-gradient(0deg,#40ffbf 3.5%,#2bffd4 12.0%,#27ffd8 13.0%,#00f3ff 20.0%,#00b9ff 30.0%,#008aff 45.0%,#006aff 60.0%,#005aff 80.0%,#0050ff 100.0%)"></i><i style="left:852px;width:4.5px;background:linear-gradient(0deg,#40ffbf 3.5%,#29ffd6 12.0%,#24ffdb 13.0%,#00efff 20.0%,#00b7ff 30.0%,#0087ff 45.0%,#0067ff 60.0%,#0058ff 80.0%,#0050ff 100.0%)"></i><i style="left:856px;width:4.5px;background:linear-gradient(0deg,#40ffbf 3.5%,#26ffd9 12.0%,#20ffdf 13.0%,#00eaff 20.0%,#00b5ff 30.0%,#0085ff 45.0%,#0065ff 60.0%,#0055ff 80.0%,#0050ff 100.0%)"></i><i style="left:860px;width:4.5px;background:linear-gradient(0deg,#40ffbf 3.5%,#24ffdb 12.0%,#1dffe2 13.0%,#00e6ff 20.0%,#00b3ff 30.0%,#0083ff 45.0%,#0063ff 60.0%,#0053ff 80.0%,#0050ff 100.0%)"></i><i style="left:864px;width:4.5px;background:linear-gradient(0deg,#40ffbf 3.5%,#21ffde 12.0%,#1affe5 13.0%,#00e2ff 20.0%,#00b1ff 30.0%,#0081ff 45.0%,#0061ff 60.0%,#0051ff 80.0%,#0050ff 100.0%)"></i><i style="left:868px;width:4.5px;background:linear-gradient(0deg,#3fffc0 3.5%,#26ffd9 10.0%,#1effe1 12.0%,#00ddff 20.0%,#00acff 30.0%,#008cff 40.0%,#007cff 45.0%,#0071ff 50.0%,#005dff 60.0%,#004eff 80.0%,#004fff 100.0%)"></i><i style="left:872px;width:4.5px;background:linear-gradient(0deg,#3dffc2 3.5%,#23ffdc 10.0%,#1affe5 12.0%,#00d9ff 20.0%,#00a6ff 30.0%,#0083ff 40.0%,#0073ff 45.0%,#0067ff 50.0%,#0056ff 60.0%,#0049ff 80.0%,#004dff 100.0%)"></i><i style="left:876px;width:4.5px;background:linear-gradient(0deg,#3affc5 3.5%,#20ffdf 10.0%,#15ffea 12.0%,#00d4ff 20.0%,#009fff 30.0%,#007aff 40.0%,#006aff 45.0%,#005eff 50.0%,#0050ff 60.0%,#0045ff 80.0%,#004aff 100.0%)"></i><i style="left:880px;width:4.5px;background:linear-gradient(0deg,#38ffc7 3.5%,#1cffe3 10.0%,#11ffee 12.0%,#00d0ff 20.0%,#0099ff 30.0%,#0071ff 40.0%,#0061ff 45.0%,#0054ff 50.0%,#0049ff 60.0%,#0041ff 80.0%,#0048ff 100.0%)"></i><i style="left:884px;width:4.5px;background:linear-gradient(0deg,#36ffc9 3.5%,#19ffe6 10.0%,#0cfff3 12.0%,#00ccff 20.0%,#0092ff 30.0%,#0069ff 40.0%,#0059ff 45.0%,#004bff 50.0%,#0042ff 60.0%,#003cff 80.0%,#0046ff 100.0%)"></i><i style="left:888px;width:4.5px;background:linear-gradient(0deg,#34ffcb 3.5%,#16ffe9 10.0%,#08fff7 12.0%,#00c7ff 20.0%,#008cff 30.0%,#0060ff 40.0%,#0050ff 45.0%,#0041ff 50.0%,#003cff 60.0%,#0038ff 80.0%,#0044ff 100.0%)"></i><i style="left:892px;width:4.5px;background:linear-gradient(0deg,#32ffcd 3.5%,#13ffec 10.0%,#04fffb 12.0%,#00c3ff 20.0%,#0085ff 30.0%,#0057ff 40.0%,#0047ff 45.0%,#0038ff 50.0%,#0035ff 60.0%,#0033ff 80.0%,#0042ff 100.0%)"></i><i style="left:896px;width:4.5px;background:linear-gradient(0deg,#2effd1 3.5%,#0efff1 10.0%,#00beff 20.0%,#007eff 30.0%,#004fff 40.0%,#002fff 50.0%,#002fff 60.0%,#002fff 70.0%,#0030ff 80.0%,#0038ff 90.0%,#003fff 100.0%)"></i><i style="left:900px;width:4.5px;background:linear-gradient(0deg,#20ffdf 3.5%,#01fffe 10.0%,#00b5ff 20.0%,#0078ff 30.0%,#0048ff 40.0%,#002bff 50.0%,#002cff 60.0%,#002dff 70.0%,#002fff 80.0%,#0036ff 90.0%,#003dff 100.0%)"></i><i style="left:904px;width:4.5px;background:linear-gradient(0deg,#13ffec 3.5%,#00f2ff 10.0%,#00acff 20.0%,#0071ff 30.0%,#0041ff 40.0%,#0026ff 50.0%,#0029ff 60.0%,#002bff 70.0%,#002dff 80.0%,#0035ff 90.0%,#003bff 100.0%)"></i><i style="left:908px;width:4.5px;background:linear-gradient(0deg,#06fff9 3.5%,#00e5ff 10.0%,#00a3ff 20.0%,#006bff 30.0%,#003bff 40.0%,#0022ff 50.0%,#0025ff 60.0%,#0029ff 70.0%,#002cff 80.0%,#0034ff 90.0%,#0039ff 100.0%)"></i><i style="left:912px;width:4.5px;background:linear-gradient(0deg,#00f8ff 3.5%,#00d8ff 10.0%,#009bff 20.0%,#0064ff 30.0%,#0034ff 40.0%,#001eff 50.0%,#0022ff 60.0%,#0027ff 70.0%,#002bff 80.0%,#0033ff 90.0%,#0037ff 100.0%)"></i><i style="left:916px;width:4.5px;background:linear-gradient(0deg,#00ebff 3.5%,#00cbff 10.0%,#0092ff 20.0%,#005dff 30.0%,#002eff 40.0%,#0019ff 50.0%,#001fff 60.0%,#0024ff 70.0%,#002aff 80.0%,#0032ff 90.0%,#0034ff 100.0%)"></i><i style="left:920px;width:4.5px;background:linear-gradient(0deg,#00deff 3.5%,#00beff 10.0%,#0089ff 20.0%,#0057ff 30.0%,#0027ff 40.0%,#0015ff 50.0%,#001cff 60.0%,#0022ff 70.0%,#0029ff 80.0%,#0031ff 90.0%,#0032ff 100.0%)"></i><i style="left:924px;width:4.5px;background:linear-gradient(0deg,#00d0ff 3.5%,#00b1ff 10.0%,#0080ff 20.0%,#0050ff 30.0%,#0020ff 40.0%,#0010ff 50.0%,#0018ff 60.0%,#0020ff 70.0%,#0028ff 80.0%,#0030ff 90.0%,#0030ff 100.0%)"></i><i style="left:928px;width:4.5px;background:linear-gradient(0deg,#00cbff 3.5%,#00abff 10.0%,#0090ff 15.0%,#0076ff 20.0%,#0048ff 30.0%,#001dff 40.0%,#000eff 50.0%,#001eff 70.0%,#002cff 90.0%,#002cff 100.0%)"></i><i style="left:932px;width:4.5px;background:linear-gradient(0deg,#00c7ff 3.5%,#00a7ff 10.0%,#0089ff 15.0%,#006bff 20.0%,#003fff 30.0%,#001aff 40.0%,#000cff 50.0%,#001cff 70.0%,#0027ff 90.0%,#0027ff 100.0%)"></i><i style="left:936px;width:4.5px;background:linear-gradient(0deg,#00c2ff 3.5%,#00a3ff 10.0%,#0081ff 15.0%,#0060ff 20.0%,#0036ff 30.0%,#0016ff 40.0%,#000aff 50.0%,#0019ff 70.0%,#0023ff 90.0%,#0023ff 100.0%)"></i><i style="left:940px;width:4.5px;background:linear-gradient(0deg,#00beff 3.5%,#009eff 10.0%,#0079ff 15.0%,#0055ff 20.0%,#002dff 30.0%,#0013ff 40.0%,#0007ff 50.0%,#0017ff 70.0%,#001fff 90.0%,#001fff 100.0%)"></i><i style="left:944px;width:4.5px;background:linear-gradient(0deg,#00baff 3.5%,#009aff 10.0%,#0072ff 15.0%,#004aff 20.0%,#0025ff 30.0%,#0010ff 40.0%,#0005ff 50.0%,#0015ff 70.0%,#001aff 90.0%,#001aff 100.0%)"></i><i style="left:948px;width:4.5px;background:linear-gradient(0deg,#00b5ff 3.5%,#0095ff 10.0%,#006aff 15.0%,#003fff 20.0%,#001cff 30.0%,#000cff 40.0%,#0003ff 50.0%,#0013ff 70.0%,#0016ff 90.0%,#0016ff 100.0%)"></i><i style="left:952px;width:4.5px;background:linear-gradient(0deg,#00b1ff 3.5%,#0091ff 10.0%,#0062ff 15.0%,#0034ff 20.0%,#0013ff 30.0%,#0009ff 40.0%,#0001ff 50.0%,#0011ff 70.0%,#0012ff 90.0%,#0012ff 100.0%)"></i><i style="left:956px;width:4.5px;background:linear-gradient(0deg,#00afff 3.5%,#008fff 10.0%,#0061ff 15.0%,#0033ff 20.0%,#0013ff 30.0%,#0008ff 45.0%,#0004ff 50.0%,#000bff 60.0%,#0013ff 70.0%,#0014ff 80.0%,#0014ff 90.0%,#0014ff 100.0%)"></i><i style="left:960px;width:4.5px;background:linear-gradient(0deg,#00afff 3.5%,#008fff 10.0%,#0063ff 15.0%,#0037ff 20.0%,#0017ff 30.0%,#000eff 45.0%,#000bff 50.0%,#0011ff 60.0%,#0019ff 70.0%,#001bff 80.0%,#001bff 90.0%,#001bff 100.0%)"></i><i style="left:964px;width:4.5px;background:linear-gradient(0deg,#00afff 3.5%,#008fff 10.0%,#0065ff 15.0%,#003bff 20.0%,#001cff 30.0%,#0014ff 45.0%,#0011ff 50.0%,#0016ff 60.0%,#001eff 70.0%,#0021ff 80.0%,#0021ff 90.0%,#0021ff 100.0%)"></i><i style="left:968px;width:4.5px;background:linear-gradient(0deg,#00afff 3.5%,#008fff 10.0%,#0068ff 15.0%,#0040ff 20.0%,#0020ff 30.0%,#001aff 45.0%,#0018ff 50.0%,#001cff 60.0%,#0024ff 70.0%,#0028ff 80.0%,#0028ff 90.0%,#0028ff 100.0%)"></i><i style="left:972px;width:4.5px;background:linear-gradient(0deg,#00afff 3.5%,#008fff 10.0%,#006aff 15.0%,#0044ff 20.0%,#0024ff 30.0%,#0020ff 45.0%,#001fff 50.0%,#0021ff 60.0%,#0029ff 70.0%,#002eff 80.0%,#002eff 90.0%,#002eff 100.0%)"></i><i style="left:976px;width:4.5px;background:linear-gradient(0deg,#00afff 3.5%,#008fff 10.0%,#006cff 15.0%,#0049ff 20.0%,#0029ff 30.0%,#0026ff 45.0%,#0025ff 50.0%,#0027ff 60.0%,#002fff 70.0%,#0035ff 80.0%,#0035ff 90.0%,#0035ff 100.0%)"></i><i style="left:980px;width:4.5px;background:linear-gradient(0deg,#00afff 3.5%,#008fff 10.0%,#006eff 15.0%,#004dff 20.0%,#002dff 30.0%,#002cff 45.0%,#002cff 50.0%,#002cff 60.0%,#0034ff 70.0%,#003cff 80.0%,#003cff 90.0%,#003cff 100.0%)"></i><i style="left:984px;width:4.5px;background:linear-gradient(0deg,#00b2ff 3.5%,#0092ff 10.0%,#0053ff 20.0%,#0033ff 30.0%,#0032ff 45.0%,#0031ff 60.0%,#0041ff 80.0%,#0041ff 100.0%)"></i><i style="left:988px;width:4.5px;background:linear-gradient(0deg,#00b8ff 3.5%,#0099ff 10.0%,#005cff 20.0%,#003cff 30.0%,#0039ff 45.0%,#0036ff 60.0%,#0043ff 80.0%,#0046ff 100.0%)"></i><i style="left:992px;width:4.5px;background:linear-gradient(0deg,#00bfff 3.5%,#009fff 10.0%,#0065ff 20.0%,#0045ff 30.0%,#003fff 45.0%,#003aff 60.0%,#0045ff 80.0%,#004aff 100.0%)"></i><i style="left:996px;width:4.5px;background:linear-gradient(0deg,#00c6ff 3.5%,#00a6ff 10.0%,#006dff 20.0%,#004dff 30.0%,#0046ff 45.0%,#003fff 60.0%,#0047ff 80.0%,#004fff 100.0%)"></i><i style="left:1000px;width:4.5px;background:linear-gradient(0deg,#00ccff 3.5%,#00acff 10.0%,#0076ff 20.0%,#0056ff 30.0%,#004dff 45.0%,#0043ff 60.0%,#0049ff 80.0%,#0053ff 100.0%)"></i><i style="left:1004px;width:4.5px;background:linear-gradient(0deg,#00d3ff 3.5%,#00b3ff 10.0%,#007fff 20.0%,#005fff 30.0%,#0053ff 45.0%,#0047ff 60.0%,#004cff 80.0%,#0057ff 100.0%)"></i><i style="left:1008px;width:4.5px;background:linear-gradient(0deg,#00d9ff 3.5%,#00b9ff 10.0%,#0088ff 20.0%,#0068ff 30.0%,#005aff 45.0%,#004cff 60.0%,#004eff 80.0%,#005cff 100.0%)"></i><i style="left:1012px;width:4.5px;background:linear-gradient(0deg,#00dfff 3.5%,#00c0ff 10.0%,#00a8ff 15.0%,#0090ff 20.0%,#0076ff 28.0%,#0070ff 30.0%,#0065ff 40.0%,#0060ff 45.0%,#005aff 50.0%,#0050ff 60.0%,#0050ff 70.0%,#0050ff 80.0%,#005fff 100.0%)"></i><i style="left:1016px;width:4.5px;background:linear-gradient(0deg,#00dfff 3.5%,#00c4ff 10.0%,#00abff 15.0%,#0092ff 20.0%,#0077ff 28.0%,#0071ff 30.0%,#0064ff 40.0%,#0060ff 45.0%,#005bff 50.0%,#0051ff 60.0%,#0050ff 70.0%,#0050ff 80.0%,#005dff 100.0%)"></i><i style="left:1020px;width:4.5px;background:linear-gradient(0deg,#00dfff 3.5%,#00c9ff 10.0%,#00aeff 15.0%,#0094ff 20.0%,#0079ff 28.0%,#0073ff 30.0%,#0063ff 40.0%,#0060ff 45.0%,#005cff 50.0%,#0052ff 60.0%,#0050ff 70.0%,#0050ff 80.0%,#005bff 100.0%)"></i><i style="left:1024px;width:4.5px;background:linear-gradient(0deg,#00dfff 3.5%,#00cdff 10.0%,#00b2ff 15.0%,#0096ff 20.0%,#007aff 28.0%,#0074ff 30.0%,#0063ff 40.0%,#0060ff 45.0%,#005dff 50.0%,#0053ff 60.0%,#0050ff 70.0%,#0050ff 80.0%,#0059ff 100.0%)"></i><i style="left:1028px;width:4.5px;background:linear-gradient(0deg,#00dfff 3.5%,#00d1ff 10.0%,#00b5ff 15.0%,#0098ff 20.0%,#007bff 28.0%,#0076ff 30.0%,#0062ff 40.0%,#0060ff 45.0%,#005dff 50.0%,#0054ff 60.0%,#0050ff 70.0%,#0050ff 80.0%,#0057ff 100.0%)"></i><i style="left:1032px;width:4.5px;background:linear-gradient(0deg,#00dfff 3.5%,#00d6ff 10.0%,#00b8ff 15.0%,#009bff 20.0%,#007dff 28.0%,#0077ff 30.0%,#0061ff 40.0%,#0060ff 45.0%,#005eff 50.0%,#0055ff 60.0%,#0050ff 70.0%,#0050ff 80.0%,#0054ff 100.0%)"></i><i style="left:1036px;width:4.5px;background:linear-gradient(0deg,#00dfff 3.5%,#00daff 10.0%,#00bbff 15.0%,#009dff 20.0%,#007eff 28.0%,#0079ff 30.0%,#0060ff 40.0%,#0060ff 45.0%,#005fff 50.0%,#0056ff 60.0%,#0050ff 70.0%,#0050ff 80.0%,#0052ff 100.0%)"></i><i style="left:1040px;width:4.5px;background:linear-gradient(0deg,#00dfff 3.5%,#00deff 10.0%,#00bfff 15.0%,#009fff 20.0%,#007fff 28.0%,#007aff 30.0%,#0060ff 40.0%,#0060ff 45.0%,#0060ff 50.0%,#0057ff 60.0%,#0050ff 70.0%,#0050ff 80.0%,#0050ff 100.0%)"></i><i style="left:1044px;width:4.5px;background:linear-gradient(0deg,#00dfff 3.5%,#00dbff 10.0%,#00bdff 15.0%,#009fff 20.0%,#0080ff 28.0%,#007bff 30.0%,#0062ff 40.0%,#0061ff 45.0%,#0061ff 50.0%,#0059ff 60.0%,#0051ff 70.0%,#0050ff 80.0%,#0050ff 100.0%)"></i><i style="left:1048px;width:4.5px;background:linear-gradient(0deg,#00dfff 3.5%,#00d7ff 10.0%,#00bbff 15.0%,#009fff 20.0%,#0081ff 28.0%,#007cff 30.0%,#0065ff 40.0%,#0064ff 45.0%,#0062ff 50.0%,#005aff 60.0%,#0052ff 70.0%,#0050ff 80.0%,#0050ff 100.0%)"></i><i style="left:1052px;width:4.5px;background:linear-gradient(0deg,#00dfff 3.5%,#00d3ff 10.0%,#00b9ff 15.0%,#009fff 20.0%,#0082ff 28.0%,#007cff 30.0%,#0068ff 40.0%,#0066ff 45.0%,#0064ff 50.0%,#005bff 60.0%,#0053ff 70.0%,#0050ff 80.0%,#0050ff 100.0%)"></i><i style="left:1056px;width:4.5px;background:linear-gradient(0deg,#00dfff 3.5%,#00ceff 10.0%,#00b7ff 15.0%,#009fff 20.0%,#0083ff 28.0%,#007dff 30.0%,#006bff 40.0%,#0068ff 45.0%,#0065ff 50.0%,#005cff 60.0%,#0054ff 70.0%,#0050ff 80.0%,#0050ff 100.0%)"></i><i style="left:1060px;width:4.5px;background:linear-gradient(0deg,#00dfff 3.5%,#00caff 10.0%,#00b5ff 15.0%,#009fff 20.0%,#0084ff 28.0%,#007eff 30.0%,#006eff 40.0%,#006aff 45.0%,#0067ff 50.0%,#005dff 60.0%,#0055ff 70.0%,#0050ff 80.0%,#0050ff 100.0%)"></i><i style="left:1064px;width:4.5px;background:linear-gradient(0deg,#00dfff 3.5%,#00c5ff 10.0%,#00b2ff 15.0%,#009fff 20.0%,#0085ff 28.0%,#007eff 30.0%,#0071ff 40.0%,#006cff 45.0%,#0068ff 50.0%,#005eff 60.0%,#0056ff 70.0%,#0050ff 80.0%,#0050ff 100.0%)"></i><i style="left:1068px;width:4.5px;background:linear-gradient(0deg,#00dfff 3.5%,#00c1ff 10.0%,#00b0ff 15.0%,#009fff 20.0%,#0086ff 28.0%,#007fff 30.0%,#0074ff 40.0%,#006fff 45.0%,#006aff 50.0%,#005fff 60.0%,#0057ff 70.0%,#0050ff 80.0%,#0050ff 100.0%)"></i><i style="left:1072px;width:4.5px;background:linear-gradient(0deg,#00deff 3.5%,#00c1ff 10.0%,#00a1ff 20.0%,#0087ff 28.0%,#0080ff 30.0%,#0074ff 40.0%,#0070ff 45.0%,#006bff 50.0%,#0060ff 60.0%,#0050ff 80.0%,#0050ff 100.0%)"></i><i style="left:1076px;width:4.5px;background:linear-gradient(0deg,#00dcff 3.5%,#00c3ff 10.0%,#00a3ff 20.0%,#0088ff 28.0%,#0082ff 30.0%,#0074ff 40.0%,#0070ff 45.0%,#006bff 50.0%,#0060ff 60.0%,#0050ff 80.0%,#0050ff 100.0%)"></i><i style="left:1080px;width:4.5px;background:linear-gradient(0deg,#00d9ff 3.5%,#00c5ff 10.0%,#00a5ff 20.0%,#0089ff 28.0%,#0083ff 30.0%,#0073ff 40.0%,#0070ff 45.0%,#006cff 50.0%,#0060ff 60.0%,#0050ff 80.0%,#0050ff 100.0%)"></i><i style="left:1084px;width:4.5px;background:linear-gradient(0deg,#00d7ff 3.5%,#00c7ff 10.0%,#00a7ff 20.0%,#008bff 28.0%,#0085ff 30.0%,#0072ff 40.0%,#0070ff 45.0%,#006dff 50.0%,#0060ff 60.0%,#0050ff 80.0%,#0050ff 100.0%)"></i><i style="left:1088px;width:4.5px;background:linear-gradient(0deg,#00d5ff 3.5%,#00c9ff 10.0%,#00a9ff 20.0%,#008cff 28.0%,#0086ff 30.0%,#0072ff 40.0%,#0070ff 45.0%,#006eff 50.0%,#0060ff 60.0%,#0050ff 80.0%,#0050ff 100.0%)"></i><i style="left:1092px;width:4.5px;background:linear-gradient(0deg,#00d3ff 3.5%,#00ccff 10.0%,#00acff 20.0%,#008dff 28.0%,#0088ff 30.0%,#0071ff 40.0%,#0070ff 45.0%,#006eff 50.0%,#0060ff 60.0%,#0050ff 80.0%,#0050ff 100.0%)"></i><i style="left:1096px;width:4.5px;background:linear-gradient(0deg,#00d1ff 3.5%,#00ceff 10.0%,#00aeff 20.0%,#008fff 28.0%,#0089ff 30.0%,#0070ff 40.0%,#0070ff 45.0%,#006fff 50.0%,#0060ff 60.0%,#0050ff 80.0%,#0050ff 100.0%)"></i><i style="left:1100px;width:4.5px;background:linear-gradient(0deg,#00d3ff 3.5%,#00d3ff 8.5%,#00d2ff 10.0%,#00c1ff 14.5%,#00afff 20.0%,#00a7ff 22.0%,#008fff 28.0%,#0087ff 31.0%,#0070ff 40.0%,#0070ff 43.0%,#006fff 50.0%,#0060ff 60.0%,#0050ff 80.0%,#0050ff 100.0%)"></i><i style="left:1104px;width:4.5px;background:linear-gradient(0deg,#00deff 3.5%,#00deff 8.5%,#00daff 10.0%,#00c3ff 14.5%,#00afff 20.0%,#00a6ff 22.0%,#008eff 28.0%,#0086ff 31.0%,#0070ff 40.0%,#0070ff 43.0%,#006eff 50.0%,#0060ff 60.0%,#0050ff 80.0%,#0050ff 100.0%)"></i><i style="left:1108px;width:4.5px;background:linear-gradient(0deg,#00e9ff 3.5%,#00e9ff 8.5%,#00e2ff 10.0%,#00c5ff 14.5%,#00aeff 20.0%,#00a5ff 22.0%,#008eff 28.0%,#0085ff 31.0%,#0071ff 40.0%,#0070ff 43.0%,#006dff 50.0%,#0060ff 60.0%,#0050ff 80.0%,#0050ff 100.0%)"></i><i style="left:1112px;width:4.5px;background:linear-gradient(0deg,#00f4ff 3.5%,#00f4ff 8.5%,#00ebff 10.0%,#00c7ff 14.5%,#00aeff 20.0%,#00a4ff 22.0%,#008dff 28.0%,#0084ff 31.0%,#0071ff 40.0%,#0070ff 43.0%,#006dff 50.0%,#0060ff 60.0%,#0050ff 80.0%,#0050ff 100.0%)"></i><i style="left:1116px;width:4.5px;background:linear-gradient(0deg,#00ffff 3.5%,#00ffff 8.5%,#00f3ff 10.0%,#00c9ff 14.5%,#00adff 20.0%,#00a3ff 22.0%,#008cff 28.0%,#0083ff 31.0%,#0072ff 40.0%,#0070ff 43.0%,#006cff 50.0%,#0060ff 60.0%,#0050ff 80.0%,#0050ff 100.0%)"></i><i style="left:1120px;width:4.5px;background:linear-gradient(0deg,#0bfff4 3.5%,#0bfff4 8.5%,#00fbff 10.0%,#00cbff 14.5%,#00adff 20.0%,#00a2ff 22.0%,#008cff 28.0%,#0082ff 31.0%,#0072ff 40.0%,#0070ff 43.0%,#006bff 50.0%,#0060ff 60.0%,#0050ff 80.0%,#0050ff 100.0%)"></i><i style="left:1124px;width:4.5px;background:linear-gradient(0deg,#16ffe9 3.5%,#16ffe9 8.5%,#04fffb 10.0%,#00cdff 14.5%,#00adff 20.0%,#00a0ff 22.0%,#008bff 28.0%,#0081ff 31.0%,#0073ff 40.0%,#0070ff 43.0%,#006aff 50.0%,#0060ff 60.0%,#0050ff 80.0%,#0050ff 100.0%)"></i><i style="left:1128px;width:4.5px;background:linear-gradient(0deg,#1fffe0 3.5%,#1fffe0 8.5%,#19ffe6 9.0%,#00cfff 14.5%,#00c6ff 16.0%,#009fff 22.0%,#007fff 31.0%,#006fff 43.0%,#0069ff 50.0%,#0060ff 60.0%,#0050ff 80.0%,#0050ff 100.0%)"></i><i style="left:1132px;width:4.5px;background:linear-gradient(0deg,#17ffe8 3.5%,#17ffe8 8.5%,#11ffee 9.0%,#00ceff 14.5%,#00c5ff 16.0%,#009dff 22.0%,#007dff 31.0%,#006eff 43.0%,#0068ff 50.0%,#005fff 60.0%,#0050ff 80.0%,#0052ff 100.0%)"></i><i style="left:1136px;width:4.5px;background:linear-gradient(0deg,#0efff1 3.5%,#0efff1 8.5%,#09fff6 9.0%,#00cdff 14.5%,#00c4ff 16.0%,#009bff 22.0%,#007bff 31.0%,#006dff 43.0%,#0066ff 50.0%,#005eff 60.0%,#0050ff 80.0%,#0054ff 100.0%)"></i><i style="left:1140px;width:4.5px;background:linear-gradient(0deg,#05fffa 3.5%,#05fffa 8.5%,#01fffe 9.0%,#00cbff 14.5%,#00c3ff 16.0%,#0099ff 22.0%,#0079ff 31.0%,#006bff 43.0%,#0065ff 50.0%,#005dff 60.0%,#0050ff 80.0%,#0056ff 100.0%)"></i><i style="left:1144px;width:4.5px;background:linear-gradient(0deg,#00fbff 3.5%,#00fbff 8.5%,#00f8ff 9.0%,#00caff 14.5%,#00c2ff 16.0%,#0096ff 22.0%,#0077ff 31.0%,#006aff 43.0%,#0064ff 50.0%,#005dff 60.0%,#0050ff 80.0%,#0059ff 100.0%)"></i><i style="left:1148px;width:4.5px;background:linear-gradient(0deg,#00f2ff 3.5%,#00f2ff 8.5%,#00f0ff 9.0%,#00c9ff 14.5%,#00c1ff 16.0%,#0094ff 22.0%,#0074ff 31.0%,#0069ff 43.0%,#0062ff 50.0%,#005cff 60.0%,#0050ff 80.0%,#005bff 100.0%)"></i><i style="left:1152px;width:4.5px;background:linear-gradient(0deg,#00eaff 3.5%,#00eaff 8.5%,#00e9ff 9.0%,#00c8ff 14.5%,#00c0ff 16.0%,#0092ff 22.0%,#0072ff 31.0%,#0067ff 43.0%,#0061ff 50.0%,#005bff 60.0%,#0050ff 80.0%,#005dff 100.0%)"></i><i style="left:1156px;width:4.5px;background:linear-gradient(0deg,#00e1ff 3.5%,#00e1ff 8.5%,#00e1ff 9.0%,#00c6ff 14.5%,#00bfff 16.0%,#0090ff 22.0%,#0070ff 31.0%,#0066ff 43.0%,#0060ff 50.0%,#005aff 60.0%,#0050ff 80.0%,#005fff 100.0%)"></i><i style="left:1160px;width:4.5px;background:linear-gradient(0deg,#00e8ff 3.5%,#00e8ff 8.5%,#00e7ff 9.0%,#00c9ff 14.5%,#00c1ff 16.0%,#00a8ff 19.0%,#0091ff 22.0%,#0089ff 24.0%,#0071ff 31.0%,#0067ff 40.0%,#005eff 50.0%,#0054ff 70.0%,#004eff 80.0%,#005eff 100.0%)"></i><i style="left:1164px;width:4.5px;background:linear-gradient(0deg,#00f3ff 3.5%,#00f3ff 8.5%,#00f1ff 9.0%,#00ccff 14.5%,#00c3ff 16.0%,#00a9ff 19.0%,#0093ff 22.0%,#008aff 24.0%,#0074ff 31.0%,#0066ff 40.0%,#005cff 50.0%,#0054ff 70.0%,#004cff 80.0%,#005cff 100.0%)"></i><i style="left:1168px;width:4.5px;background:linear-gradient(0deg,#00feff 3.5%,#00feff 8.5%,#00fbff 9.0%,#00d0ff 14.5%,#00c5ff 16.0%,#00aaff 19.0%,#0094ff 22.0%,#008bff 24.0%,#0076ff 31.0%,#0065ff 40.0%,#0059ff 50.0%,#0053ff 70.0%,#004aff 80.0%,#0059ff 100.0%)"></i><i style="left:1172px;width:4.5px;background:linear-gradient(0deg,#0afff5 3.5%,#0afff5 8.5%,#06fff9 9.0%,#00d3ff 14.5%,#00c8ff 16.0%,#00acff 19.0%,#0096ff 22.0%,#008cff 24.0%,#0078ff 31.0%,#0064ff 40.0%,#0057ff 50.0%,#0052ff 70.0%,#0047ff 80.0%,#0057ff 100.0%)"></i><i style="left:1176px;width:4.5px;background:linear-gradient(0deg,#15ffea 3.5%,#15ffea 8.5%,#10ffef 9.0%,#00d7ff 14.5%,#00caff 16.0%,#00adff 19.0%,#0098ff 22.0%,#008dff 24.0%,#007aff 31.0%,#0062ff 40.0%,#0055ff 50.0%,#0051ff 70.0%,#0045ff 80.0%,#0055ff 100.0%)"></i><i style="left:1180px;width:4.5px;background:linear-gradient(0deg,#20ffdf 3.5%,#20ffdf 8.5%,#1affe5 9.0%,#00daff 14.5%,#00ccff 16.0%,#00aeff 19.0%,#009aff 22.0%,#008eff 24.0%,#007cff 31.0%,#0061ff 40.0%,#0053ff 50.0%,#0051ff 70.0%,#0043ff 80.0%,#0053ff 100.0%)"></i><i style="left:1184px;width:4.5px;background:linear-gradient(0deg,#2bffd4 3.5%,#2bffd4 8.5%,#24ffdb 9.0%,#00deff 14.5%,#00ceff 16.0%,#00afff 19.0%,#009bff 22.0%,#008fff 24.0%,#007eff 31.0%,#0060ff 40.0%,#0051ff 50.0%,#0050ff 70.0%,#0041ff 80.0%,#0051ff 100.0%)"></i><i style="left:1188px;width:4.5px;background:linear-gradient(0deg,#2fffd0 3.5%,#2fffd0 8.0%,#2effd1 8.5%,#00deff 14.5%,#00c9ff 16.5%,#00afff 19.0%,#0095ff 23.0%,#008fff 24.0%,#0080ff 31.0%,#006fff 36.0%,#0061ff 40.0%,#0051ff 50.0%,#0050ff 70.0%,#0041ff 80.0%,#0050ff 100.0%)"></i><i style="left:1192px;width:4.5px;background:linear-gradient(0deg,#2cffd3 3.5%,#2cffd3 8.0%,#2bffd4 8.5%,#00ddff 14.5%,#00c8ff 16.5%,#00afff 19.0%,#0094ff 23.0%,#008fff 24.0%,#0081ff 31.0%,#0072ff 36.0%,#0064ff 40.0%,#0053ff 50.0%,#0050ff 70.0%,#0043ff 80.0%,#0050ff 100.0%)"></i><i style="left:1196px;width:4.5px;background:linear-gradient(0deg,#2affd5 3.5%,#2affd5 8.0%,#28ffd7 8.5%,#00dcff 14.5%,#00c6ff 16.5%,#00aeff 19.0%,#0094ff 23.0%,#008fff 24.0%,#0082ff 31.0%,#0074ff 36.0%,#0068ff 40.0%,#0055ff 50.0%,#0050ff 70.0%,#0045ff 80.0%,#0050ff 100.0%)"></i><i style="left:1200px;width:4.5px;background:linear-gradient(0deg,#28ffd7 3.5%,#28ffd7 8.0%,#25ffda 8.5%,#00dbff 14.5%,#00c5ff 16.5%,#00aeff 19.0%,#0093ff 23.0%,#008fff 24.0%,#0082ff 31.0%,#0076ff 36.0%,#006bff 40.0%,#0057ff 50.0%,#0050ff 70.0%,#0047ff 80.0%,#0050ff 100.0%)"></i><i style="left:1204px;width:4.5px;background:linear-gradient(0deg,#26ffd9 3.5%,#26ffd9 8.0%,#22ffdd 8.5%,#00d9ff 14.5%,#00c3ff 16.5%,#00aeff 19.0%,#0092ff 23.0%,#008fff 24.0%,#0083ff 31.0%,#0079ff 36.0%,#006eff 40.0%,#005aff 50.0%,#0050ff 70.0%,#004aff 80.0%,#0050ff 100.0%)"></i><i style="left:1208px;width:4.5px;background:linear-gradient(0deg,#24ffdb 3.5%,#24ffdb 8.0%,#1fffe0 8.5%,#00d8ff 14.5%,#00c2ff 16.5%,#00adff 19.0%,#0091ff 23.0%,#008fff 24.0%,#0084ff 31.0%,#007bff 36.0%,#0071ff 40.0%,#005cff 50.0%,#0050ff 70.0%,#004cff 80.0%,#0050ff 100.0%)"></i><i style="left:1212px;width:4.5px;background:linear-gradient(0deg,#21ffde 3.5%,#21ffde 8.0%,#1cffe3 8.5%,#00d7ff 14.5%,#00c0ff 16.5%,#00adff 19.0%,#0090ff 23.0%,#008eff 24.0%,#0085ff 31.0%,#007eff 36.0%,#0074ff 40.0%,#005eff 50.0%,#0050ff 70.0%,#004eff 80.0%,#0050ff 100.0%)"></i><i style="left:1216px;width:4.5px;background:linear-gradient(0deg,#20ffdf 3.5%,#20ffdf 7.0%,#1fffe0 8.0%,#00d0ff 15.0%,#00bfff 16.5%,#009eff 21.0%,#0090ff 23.0%,#0080ff 36.0%,#0060ff 50.0%,#0058ff 60.0%,#0050ff 70.0%,#0050ff 100.0%)"></i><i style="left:1220px;width:4.5px;background:linear-gradient(0deg,#20ffdf 3.5%,#20ffdf 7.0%,#1effe1 8.0%,#00cdff 15.0%,#00beff 16.5%,#009eff 21.0%,#0091ff 23.0%,#0080ff 36.0%,#0062ff 50.0%,#0059ff 60.0%,#0050ff 70.0%,#0050ff 100.0%)"></i><i style="left:1224px;width:4.5px;background:linear-gradient(0deg,#20ffdf 3.5%,#20ffdf 7.0%,#1cffe3 8.0%,#00cbff 15.0%,#00bdff 16.5%,#009fff 21.0%,#0093ff 23.0%,#0080ff 36.0%,#0065ff 50.0%,#005aff 60.0%,#0050ff 70.0%,#0050ff 100.0%)"></i><i style="left:1228px;width:4.5px;background:linear-gradient(0deg,#20ffdf 3.5%,#20ffdf 7.0%,#1affe5 8.0%,#00c9ff 15.0%,#00bcff 16.5%,#009fff 21.0%,#0095ff 23.0%,#0080ff 36.0%,#0067ff 50.0%,#005bff 60.0%,#0050ff 70.0%,#0050ff 100.0%)"></i><i style="left:1232px;width:4.5px;background:linear-gradient(0deg,#20ffdf 3.5%,#20ffdf 7.0%,#19ffe6 8.0%,#00c6ff 15.0%,#00bbff 16.5%,#009fff 21.0%,#0096ff 23.0%,#0080ff 36.0%,#0069ff 50.0%,#005cff 60.0%,#0050ff 70.0%,#0050ff 100.0%)"></i><i style="left:1236px;width:4.5px;background:linear-gradient(0deg,#20ffdf 3.5%,#20ffdf 7.0%,#17ffe8 8.0%,#00c4ff 15.0%,#00b9ff 16.5%,#009fff 21.0%,#0098ff 23.0%,#0080ff 36.0%,#006bff 50.0%,#005dff 60.0%,#0050ff 70.0%,#0050ff 100.0%)"></i><i style="left:1240px;width:4.5px;background:linear-gradient(0deg,#20ffdf 3.5%,#20ffdf 7.0%,#16ffe9 8.0%,#00c2ff 15.0%,#00b8ff 16.5%,#009fff 21.0%,#009aff 23.0%,#0080ff 36.0%,#006dff 50.0%,#005fff 60.0%,#0050ff 70.0%,#0050ff 100.0%)"></i><i style="left:1244px;width:4.5px;background:linear-gradient(0deg,#20ffdf 3.5%,#20ffdf 7.0%,#00cbff 14.0%,#00bfff 15.0%,#009fff 21.0%,#008cff 30.0%,#007fff 36.0%,#007bff 40.0%,#0070ff 50.0%,#0060ff 60.0%,#0050ff 70.0%,#0050ff 100.0%)"></i><i style="left:1248px;width:4.5px;background:linear-gradient(0deg,#20ffdf 3.5%,#20ffdf 7.0%,#00c8ff 14.0%,#00beff 15.0%,#009cff 21.0%,#0082ff 30.0%,#0072ff 36.0%,#006aff 40.0%,#005aff 50.0%,#004dff 60.0%,#0041ff 70.0%,#0041ff 100.0%)"></i><i style="left:1252px;width:4.5px;background:linear-gradient(0deg,#20ffdf 3.5%,#20ffdf 7.0%,#00c6ff 14.0%,#00bcff 15.0%,#0098ff 21.0%,#0078ff 30.0%,#0064ff 36.0%,#0058ff 40.0%,#0044ff 50.0%,#003bff 60.0%,#0032ff 70.0%,#0032ff 100.0%)"></i><i style="left:1256px;width:4.5px;background:linear-gradient(0deg,#20ffdf 3.5%,#20ffdf 7.0%,#00c3ff 14.0%,#00bbff 15.0%,#0094ff 21.0%,#006eff 30.0%,#0056ff 36.0%,#0047ff 40.0%,#002eff 50.0%,#0029ff 60.0%,#0024ff 70.0%,#0024ff 100.0%)"></i><i style="left:1260px;width:4.5px;background:linear-gradient(0deg,#20ffdf 3.5%,#20ffdf 7.0%,#00c0ff 14.0%,#00b9ff 15.0%,#0091ff 21.0%,#0063ff 30.0%,#0048ff 36.0%,#0036ff 40.0%,#0018ff 50.0%,#0016ff 60.0%,#0015ff 70.0%,#0015ff 100.0%)"></i><i style="left:1264px;width:4.5px;background:linear-gradient(0deg,#20ffdf 3.5%,#20ffdf 7.0%,#00bfff 14.0%,#008fff 21.0%,#0060ff 30.0%,#0030ff 40.0%,#0010ff 50.0%,#0010ff 100.0%)"></i><i style="left:1268px;width:4.5px;background:linear-gradient(0deg,#20ffdf 3.5%,#20ffdf 7.0%,#00bfff 14.0%,#008fff 21.0%,#0060ff 30.0%,#0030ff 40.0%,#0010ff 50.0%,#0010ff 100.0%)"></i><i style="left:1272px;width:4.5px;background:linear-gradient(0deg,#20ffdf 3.5%,#20ffdf 7.0%,#00bfff 14.0%,#008fff 21.0%,#0060ff 30.0%,#0030ff 40.0%,#0010ff 50.0%,#0010ff 100.0%)"></i><i style="left:1276px;width:4.5px;background:linear-gradient(0deg,#20ffdf 3.5%,#20ffdf 7.0%,#00bfff 14.0%,#008fff 21.0%,#0060ff 30.0%,#0030ff 40.0%,#0010ff 50.0%,#0010ff 100.0%)"></i></div><div style="position:absolute;left:172.20px;top:541.70px;width:1276.79px;height:410.80px;overflow:hidden;filter:url(#spkY)"><i style="left:0px;width:12.5px;background:linear-gradient(0deg,#000000 3.0%,#cfcfcf 5.0%,#cfcfcf 11.0%,#c8c8c8 12.0%,#9e9e9e 14.0%,#000000 16.0%,#000000 100.0%)"></i><i style="left:12px;width:12.5px;background:linear-gradient(0deg,#000000 3.0%,#cfcfcf 5.0%,#cfcfcf 11.0%,#c9c9c9 12.0%,#a7a7a7 14.0%,#000000 16.0%,#000000 100.0%)"></i><i style="left:24px;width:12.5px;background:linear-gradient(0deg,#000000 3.0%,#cfcfcf 5.0%,#cfcfcf 11.0%,#cacaca 12.0%,#adadad 14.0%,#000000 16.0%,#000000 100.0%)"></i><i style="left:36px;width:12.5px;background:linear-gradient(0deg,#000000 3.0%,#cfcfcf 5.0%,#cfcfcf 11.0%,#cacaca 12.0%,#b3b3b3 14.0%,#000000 16.0%,#000000 100.0%)"></i><i style="left:48px;width:12.5px;background:linear-gradient(0deg,#000000 3.0%,#cfcfcf 5.0%,#cfcfcf 11.0%,#cbcbcb 12.0%,#b5b5b5 14.0%,#000000 16.0%,#000000 100.0%)"></i><i style="left:60px;width:12.5px;background:linear-gradient(0deg,#000000 3.0%,#cfcfcf 5.0%,#cfcfcf 11.0%,#cbcbcb 12.0%,#b7b7b7 14.0%,#000000 16.0%,#000000 100.0%)"></i><i style="left:72px;width:12.5px;background:linear-gradient(0deg,#000000 3.0%,#cfcfcf 5.0%,#cfcfcf 11.0%,#cccccc 12.0%,#b9b9b9 14.0%,#000000 16.0%,#000000 100.0%)"></i><i style="left:84px;width:12.5px;background:linear-gradient(0deg,#000000 3.0%,#cfcfcf 5.0%,#cfcfcf 11.0%,#cdcdcd 12.0%,#bbbbbb 14.0%,#000000 16.0%,#000000 100.0%)"></i><i style="left:96px;width:12.5px;background:linear-gradient(0deg,#000000 3.0%,#cfcfcf 5.0%,#cfcfcf 11.0%,#cecece 12.0%,#bdbdbd 14.0%,#000000 16.0%,#000000 100.0%)"></i><i style="left:108px;width:12.5px;background:linear-gradient(0deg,#000000 3.0%,#cfcfcf 5.0%,#cfcfcf 11.0%,#cecece 12.0%,#bfbfbf 14.0%,#000000 16.0%,#000000 100.0%)"></i><i style="left:120px;width:12.5px;background:linear-gradient(0deg,#000000 3.0%,#cfcfcf 5.0%,#cfcfcf 12.0%,#c1c1c1 14.0%,#9a9a9a 16.0%,#000000 18.0%,#000000 100.0%)"></i><i style="left:132px;width:12.5px;background:linear-gradient(0deg,#000000 3.0%,#cfcfcf 5.0%,#cfcfcf 12.0%,#c4c4c4 14.0%,#a6a6a6 16.0%,#000000 18.0%,#000000 100.0%)"></i><i style="left:144px;width:12.5px;background:linear-gradient(0deg,#000000 3.0%,#cfcfcf 5.0%,#cfcfcf 12.0%,#c7c7c7 14.0%,#adadad 16.0%,#000000 18.0%,#000000 100.0%)"></i><i style="left:156px;width:12.5px;background:linear-gradient(0deg,#000000 3.0%,#cfcfcf 5.0%,#cfcfcf 12.0%,#c8c8c8 14.0%,#b3b3b3 16.0%,#000000 18.0%,#000000 100.0%)"></i><i style="left:168px;width:12.5px;background:linear-gradient(0deg,#000000 3.0%,#cfcfcf 5.0%,#cfcfcf 12.0%,#c9c9c9 14.0%,#b6b6b6 16.0%,#000000 18.0%,#000000 100.0%)"></i><i style="left:180px;width:12.5px;background:linear-gradient(0deg,#000000 3.0%,#cfcfcf 5.0%,#cfcfcf 12.0%,#cacaca 14.0%,#b8b8b8 16.0%,#000000 18.0%,#000000 100.0%)"></i><i style="left:192px;width:12.5px;background:linear-gradient(0deg,#000000 3.0%,#cfcfcf 5.0%,#cfcfcf 12.0%,#cccccc 14.0%,#bbbbbb 16.0%,#000000 18.0%,#000000 100.0%)"></i><i style="left:204px;width:12.5px;background:linear-gradient(0deg,#000000 3.0%,#cfcfcf 5.0%,#cfcfcf 12.0%,#cdcdcd 14.0%,#bdbdbd 16.0%,#000000 18.0%,#000000 100.0%)"></i><i style="left:216px;width:12.5px;background:linear-gradient(0deg,#000000 3.0%,#cfcfcf 5.0%,#cfcfcf 12.0%,#cecece 14.0%,#bfbfbf 16.0%,#000000 18.0%,#000000 100.0%)"></i><i style="left:228px;width:12.5px;background:linear-gradient(0deg,#000000 3.0%,#bdbdbd 4.0%,#d0d0d0 5.0%,#d0d0d0 14.0%,#bdbdbd 17.0%,#b1b1b1 18.0%,#000000 21.0%,#000000 100.0%)"></i><i style="left:240px;width:12.5px;background:linear-gradient(0deg,#000000 3.0%,#b4b4b4 4.0%,#d2d2d2 5.0%,#d2d2d2 14.0%,#cbcbcb 17.0%,#c2c2c2 18.0%,#000000 21.0%,#000000 100.0%)"></i><i style="left:252px;width:12.5px;background:linear-gradient(0deg,#000000 3.0%,#000000 4.0%,#d4d4d4 5.0%,#d4d4d4 14.0%,#d4d4d4 17.0%,#cdcdcd 18.0%,#000000 21.0%,#000000 100.0%)"></i><i style="left:264px;width:12.5px;background:linear-gradient(0deg,#000000 4.0%,#d4d4d4 5.0%,#d4d4d4 17.0%,#cdcdcd 18.0%,#a5a5a5 21.0%,#000000 23.0%,#000000 100.0%)"></i><i style="left:276px;width:12.5px;background:linear-gradient(0deg,#000000 4.0%,#d4d4d4 5.0%,#d4d4d4 17.0%,#cecece 18.0%,#acacac 21.0%,#000000 23.0%,#000000 100.0%)"></i><i style="left:288px;width:12.5px;background:linear-gradient(0deg,#000000 4.0%,#d4d4d4 5.0%,#d4d4d4 17.0%,#cfcfcf 18.0%,#b3b3b3 21.0%,#000000 23.0%,#000000 100.0%)"></i><i style="left:300px;width:12.5px;background:linear-gradient(0deg,#000000 4.0%,#d4d4d4 5.0%,#d4d4d4 17.0%,#d0d0d0 18.0%,#b5b5b5 21.0%,#000000 23.0%,#000000 100.0%)"></i><i style="left:312px;width:12.5px;background:linear-gradient(0deg,#000000 4.0%,#d4d4d4 5.0%,#d4d4d4 17.0%,#d1d1d1 18.0%,#b8b8b8 21.0%,#000000 23.0%,#000000 100.0%)"></i><i style="left:324px;width:12.5px;background:linear-gradient(0deg,#000000 4.0%,#d4d4d4 5.0%,#d4d4d4 17.0%,#d1d1d1 18.0%,#bababa 21.0%,#000000 23.0%,#000000 100.0%)"></i><i style="left:336px;width:12.5px;background:linear-gradient(0deg,#000000 4.0%,#d4d4d4 5.0%,#d4d4d4 17.0%,#d2d2d2 18.0%,#bcbcbc 21.0%,#000000 23.0%,#000000 100.0%)"></i><i style="left:348px;width:12.5px;background:linear-gradient(0deg,#000000 4.0%,#d4d4d4 5.0%,#d4d4d4 17.0%,#d4d4d4 18.0%,#bebebe 21.0%,#000000 23.0%,#000000 100.0%)"></i><i style="left:360px;width:12.5px;background:linear-gradient(0deg,#000000 3.0%,#a0a0a0 4.0%,#d3d3d3 5.0%,#d3d3d3 12.0%,#d1d1d1 16.0%,#d1d1d1 18.0%,#000000 23.0%,#000000 100.0%)"></i><i style="left:372px;width:12.5px;background:linear-gradient(0deg,#000000 3.0%,#b1b1b1 4.0%,#d0d0d0 5.0%,#d0d0d0 12.0%,#cacaca 16.0%,#cacaca 18.0%,#000000 23.0%,#000000 100.0%)"></i><i style="left:384px;width:12.5px;background:linear-gradient(0deg,#000000 3.0%,#b7b7b7 4.0%,#cdcdcd 5.0%,#cdcdcd 12.0%,#bcbcbc 16.0%,#bcbcbc 18.0%,#000000 23.0%,#000000 100.0%)"></i><i style="left:396px;width:12.5px;background:linear-gradient(0deg,#000000 3.0%,#bcbcbc 4.0%,#cbcbcb 5.0%,#cbcbcb 12.0%,#a1a1a1 16.0%,#a1a1a1 18.0%,#000000 23.0%,#000000 100.0%)"></i><i style="left:408px;width:12.5px;background:linear-gradient(0deg,#000000 3.0%,#c7c7c7 5.0%,#c7c7c7 10.0%,#c7c7c7 12.0%,#bebebe 13.0%,#000000 16.0%,#000000 100.0%)"></i><i style="left:420px;width:12.5px;background:linear-gradient(0deg,#000000 3.0%,#bfbfbf 5.0%,#bfbfbf 10.0%,#bcbcbc 12.0%,#b7b7b7 13.0%,#000000 16.0%,#000000 100.0%)"></i><i style="left:432px;width:12.5px;background:linear-gradient(0deg,#000000 3.0%,#b8b8b8 5.0%,#b8b8b8 10.0%,#b3b3b3 12.0%,#a9a9a9 13.0%,#000000 16.0%,#000000 100.0%)"></i><i style="left:444px;width:12.5px;background:linear-gradient(0deg,#000000 0.0%,#000000 3.0%,#aaaaaa 5.0%,#aaaaaa 10.0%,#000000 13.0%,#000000 100.0%)"></i></div><div style="position:absolute;left:172.20px;top:541.70px;width:1276.79px;height:410.80px;overflow:hidden;filter:url(#spkG)"><i style="left:0px;width:12.5px;background:linear-gradient(0deg,#000000 3.0%,#cbcbcb 5.0%,#cbcbcb 11.0%,#c3c3c3 12.0%,#9c9c9c 14.0%,#000000 16.0%,#000000 100.0%)"></i><i style="left:12px;width:12.5px;background:linear-gradient(0deg,#000000 3.0%,#cbcbcb 5.0%,#cbcbcb 11.0%,#c5c5c5 12.0%,#a5a5a5 14.0%,#000000 16.0%,#000000 100.0%)"></i><i style="left:24px;width:12.5px;background:linear-gradient(0deg,#000000 3.0%,#cbcbcb 5.0%,#cbcbcb 11.0%,#c6c6c6 12.0%,#aaaaaa 14.0%,#000000 16.0%,#000000 100.0%)"></i><i style="left:36px;width:12.5px;background:linear-gradient(0deg,#000000 3.0%,#cbcbcb 5.0%,#cbcbcb 11.0%,#c7c7c7 12.0%,#afafaf 14.0%,#000000 16.0%,#000000 100.0%)"></i><i style="left:48px;width:12.5px;background:linear-gradient(0deg,#000000 3.0%,#cbcbcb 5.0%,#cbcbcb 11.0%,#c8c8c8 12.0%,#b3b3b3 14.0%,#000000 16.0%,#000000 100.0%)"></i><i style="left:60px;width:12.5px;background:linear-gradient(0deg,#000000 3.0%,#cbcbcb 5.0%,#cbcbcb 11.0%,#c8c8c8 12.0%,#b5b5b5 14.0%,#000000 16.0%,#000000 100.0%)"></i><i style="left:72px;width:12.5px;background:linear-gradient(0deg,#000000 3.0%,#cbcbcb 5.0%,#cbcbcb 11.0%,#c9c9c9 12.0%,#b6b6b6 14.0%,#000000 16.0%,#000000 100.0%)"></i><i style="left:84px;width:12.5px;background:linear-gradient(0deg,#000000 3.0%,#cbcbcb 5.0%,#cbcbcb 11.0%,#c9c9c9 12.0%,#b8b8b8 14.0%,#000000 16.0%,#000000 100.0%)"></i><i style="left:96px;width:12.5px;background:linear-gradient(0deg,#000000 3.0%,#cbcbcb 5.0%,#cbcbcb 11.0%,#cacaca 12.0%,#bababa 14.0%,#000000 16.0%,#000000 100.0%)"></i><i style="left:108px;width:12.5px;background:linear-gradient(0deg,#000000 3.0%,#cbcbcb 5.0%,#cbcbcb 11.0%,#cacaca 12.0%,#bbbbbb 14.0%,#000000 16.0%,#000000 100.0%)"></i><i style="left:120px;width:12.5px;background:linear-gradient(0deg,#000000 3.0%,#cbcbcb 5.0%,#cbcbcb 12.0%,#bdbdbd 14.0%,#999999 16.0%,#000000 18.0%,#000000 100.0%)"></i><i style="left:132px;width:12.5px;background:linear-gradient(0deg,#000000 3.0%,#cbcbcb 5.0%,#cbcbcb 12.0%,#bfbfbf 14.0%,#a4a4a4 16.0%,#000000 18.0%,#000000 100.0%)"></i><i style="left:144px;width:12.5px;background:linear-gradient(0deg,#000000 3.0%,#cbcbcb 5.0%,#cbcbcb 12.0%,#c1c1c1 14.0%,#aaaaaa 16.0%,#000000 18.0%,#000000 100.0%)"></i><i style="left:156px;width:12.5px;background:linear-gradient(0deg,#000000 3.0%,#cbcbcb 5.0%,#cbcbcb 12.0%,#c3c3c3 14.0%,#b0b0b0 16.0%,#000000 18.0%,#000000 100.0%)"></i><i style="left:168px;width:12.5px;background:linear-gradient(0deg,#000000 3.0%,#cbcbcb 5.0%,#cbcbcb 12.0%,#c6c6c6 14.0%,#b4b4b4 16.0%,#000000 18.0%,#000000 100.0%)"></i><i style="left:180px;width:12.5px;background:linear-gradient(0deg,#000000 3.0%,#cbcbcb 5.0%,#cbcbcb 12.0%,#c7c7c7 14.0%,#b6b6b6 16.0%,#000000 18.0%,#000000 100.0%)"></i><i style="left:192px;width:12.5px;background:linear-gradient(0deg,#000000 3.0%,#cbcbcb 5.0%,#cbcbcb 12.0%,#c8c8c8 14.0%,#b8b8b8 16.0%,#000000 18.0%,#000000 100.0%)"></i><i style="left:204px;width:12.5px;background:linear-gradient(0deg,#000000 3.0%,#cbcbcb 5.0%,#cbcbcb 12.0%,#c9c9c9 14.0%,#bababa 16.0%,#000000 18.0%,#000000 100.0%)"></i><i style="left:216px;width:12.5px;background:linear-gradient(0deg,#000000 3.0%,#cbcbcb 5.0%,#cbcbcb 12.0%,#cacaca 14.0%,#bcbcbc 16.0%,#000000 18.0%,#000000 100.0%)"></i><i style="left:228px;width:12.5px;background:linear-gradient(0deg,#000000 3.0%,#bababa 4.0%,#cbcbcb 5.0%,#cbcbcb 14.0%,#bababa 17.0%,#aeaeae 18.0%,#000000 21.0%,#000000 100.0%)"></i><i style="left:240px;width:12.5px;background:linear-gradient(0deg,#000000 3.0%,#b3b3b3 4.0%,#cccccc 5.0%,#cccccc 14.0%,#c7c7c7 17.0%,#bdbdbd 18.0%,#000000 21.0%,#000000 100.0%)"></i><i style="left:252px;width:12.5px;background:linear-gradient(0deg,#000000 3.0%,#000000 4.0%,#cecece 5.0%,#cecece 14.0%,#cecece 17.0%,#c9c9c9 18.0%,#000000 21.0%,#000000 100.0%)"></i><i style="left:264px;width:12.5px;background:linear-gradient(0deg,#000000 4.0%,#cecece 5.0%,#cecece 17.0%,#cacaca 18.0%,#a2a2a2 21.0%,#000000 23.0%,#000000 100.0%)"></i><i style="left:276px;width:12.5px;background:linear-gradient(0deg,#000000 4.0%,#cecece 5.0%,#cecece 17.0%,#cacaca 18.0%,#a9a9a9 21.0%,#000000 23.0%,#000000 100.0%)"></i><i style="left:288px;width:12.5px;background:linear-gradient(0deg,#000000 4.0%,#cecece 5.0%,#cecece 17.0%,#cbcbcb 18.0%,#afafaf 21.0%,#000000 23.0%,#000000 100.0%)"></i><i style="left:300px;width:12.5px;background:linear-gradient(0deg,#000000 4.0%,#cecece 5.0%,#cecece 17.0%,#cbcbcb 18.0%,#b3b3b3 21.0%,#000000 23.0%,#000000 100.0%)"></i><i style="left:312px;width:12.5px;background:linear-gradient(0deg,#000000 4.0%,#cecece 5.0%,#cecece 17.0%,#cccccc 18.0%,#b5b5b5 21.0%,#000000 23.0%,#000000 100.0%)"></i><i style="left:324px;width:12.5px;background:linear-gradient(0deg,#000000 4.0%,#cecece 5.0%,#cecece 17.0%,#cccccc 18.0%,#b7b7b7 21.0%,#000000 23.0%,#000000 100.0%)"></i><i style="left:336px;width:12.5px;background:linear-gradient(0deg,#000000 4.0%,#cecece 5.0%,#cecece 17.0%,#cdcdcd 18.0%,#b9b9b9 21.0%,#000000 23.0%,#000000 100.0%)"></i><i style="left:348px;width:12.5px;background:linear-gradient(0deg,#000000 4.0%,#cecece 5.0%,#cecece 17.0%,#cecece 18.0%,#bbbbbb 21.0%,#000000 23.0%,#000000 100.0%)"></i><i style="left:360px;width:12.5px;background:linear-gradient(0deg,#000000 3.0%,#9e9e9e 4.0%,#cdcdcd 5.0%,#cdcdcd 12.0%,#cccccc 16.0%,#cccccc 18.0%,#000000 23.0%,#000000 100.0%)"></i><i style="left:372px;width:12.5px;background:linear-gradient(0deg,#000000 3.0%,#adadad 4.0%,#cbcbcb 5.0%,#cbcbcb 12.0%,#c6c6c6 16.0%,#c6c6c6 18.0%,#000000 23.0%,#000000 100.0%)"></i><i style="left:384px;width:12.5px;background:linear-gradient(0deg,#000000 3.0%,#b5b5b5 4.0%,#c9c9c9 5.0%,#c9c9c9 12.0%,#b9b9b9 16.0%,#b9b9b9 18.0%,#000000 23.0%,#000000 100.0%)"></i><i style="left:396px;width:12.5px;background:linear-gradient(0deg,#000000 3.0%,#b9b9b9 4.0%,#c8c8c8 5.0%,#c8c8c8 12.0%,#9f9f9f 16.0%,#9f9f9f 18.0%,#000000 23.0%,#000000 100.0%)"></i><i style="left:408px;width:12.5px;background:linear-gradient(0deg,#000000 3.0%,#c2c2c2 5.0%,#c2c2c2 10.0%,#c0c0c0 12.0%,#bbbbbb 13.0%,#000000 16.0%,#000000 100.0%)"></i><i style="left:420px;width:12.5px;background:linear-gradient(0deg,#000000 3.0%,#bcbcbc 5.0%,#bcbcbc 10.0%,#b9b9b9 12.0%,#b5b5b5 13.0%,#000000 16.0%,#000000 100.0%)"></i><i style="left:432px;width:12.5px;background:linear-gradient(0deg,#000000 3.0%,#b6b6b6 5.0%,#b6b6b6 10.0%,#b0b0b0 12.0%,#a7a7a7 13.0%,#000000 16.0%,#000000 100.0%)"></i><i style="left:444px;width:12.5px;background:linear-gradient(0deg,#000000 0.0%,#000000 3.0%,#a8a8a8 5.0%,#a8a8a8 10.0%,#000000 13.0%,#000000 100.0%)"></i></div><b style="left:172.2px;top:937.7px;width:124.4px;height:14.8px;background:#30ffcf"></b><b style="left:296.6px;top:937.7px;width:4.2px;height:14.8px;background:#00cfff"></b><b style="left:300.8px;top:937.7px;width:4.5px;height:14.8px;background:#30ffcf"></b><b style="left:305.4px;top:937.7px;width:2.5px;height:14.8px;background:#00bfff"></b><b style="left:307.8px;top:937.7px;width:7.0px;height:14.8px;background:#20ffdf"></b><b style="left:314.8px;top:937.7px;width:3.2px;height:14.8px;background:#20ffdf"></b><b style="left:318.0px;top:937.7px;width:5.4px;height:14.8px;background:#40ffbf"></b><b style="left:323.3px;top:937.7px;width:2.9px;height:14.8px;background:#00bfff"></b><b style="left:326.3px;top:937.7px;width:5.2px;height:14.8px;background:#30ffcf"></b><b style="left:331.5px;top:937.7px;width:6.9px;height:14.8px;background:#30ffcf"></b><b style="left:338.3px;top:937.7px;width:2.6px;height:14.8px;background:#30ffcf"></b><b style="left:340.9px;top:937.7px;width:2.1px;height:14.8px;background:#30ffcf"></b><b style="left:343.0px;top:937.7px;width:2.1px;height:14.8px;background:#00cfff"></b><b style="left:345.1px;top:937.7px;width:6.0px;height:14.8px;background:#00cfff"></b><b style="left:351.1px;top:937.7px;width:3.9px;height:14.8px;background:#00bfff"></b><b style="left:355.0px;top:937.7px;width:1.8px;height:14.8px;background:#00bfff"></b><b style="left:356.8px;top:937.7px;width:6.0px;height:14.8px;background:#00cfff"></b><b style="left:362.9px;top:937.7px;width:4.4px;height:14.8px;background:#00bfff"></b><b style="left:367.3px;top:937.7px;width:6.9px;height:14.8px;background:#20ffdf"></b><b style="left:374.2px;top:937.7px;width:6.7px;height:14.8px;background:#00bfff"></b><b style="left:380.9px;top:937.7px;width:5.2px;height:14.8px;background:#30ffcf"></b><b style="left:386.1px;top:937.7px;width:4.6px;height:14.8px;background:#40ffbf"></b><b style="left:390.6px;top:937.7px;width:4.7px;height:14.8px;background:#00cfff"></b><b style="left:395.3px;top:937.7px;width:6.4px;height:14.8px;background:#40ffbf"></b><b style="left:401.7px;top:937.7px;width:2.6px;height:14.8px;background:#00bfff"></b><b style="left:404.3px;top:937.7px;width:3.8px;height:14.8px;background:#20ffdf"></b><b style="left:408.2px;top:937.7px;width:5.2px;height:14.8px;background:#20ffdf"></b><b style="left:413.4px;top:937.7px;width:4.2px;height:14.8px;background:#20ffdf"></b><b style="left:417.6px;top:937.7px;width:4.6px;height:14.8px;background:#00cfff"></b><b style="left:422.2px;top:937.7px;width:5.5px;height:14.8px;background:#30ffcf"></b><b style="left:427.7px;top:937.7px;width:0.2px;height:14.8px;background:#00cfff"></b><b style="left:308.2px;top:937.7px;width:2.1px;height:2.5px;background:#c0ff40"></b><b style="left:317.9px;top:937.7px;width:2.5px;height:2.5px;background:#c0ff40"></b><b style="left:321.4px;top:937.7px;width:2.0px;height:2.5px;background:#c0ff40"></b><b style="left:326.6px;top:937.7px;width:3.2px;height:2.5px;background:#ffd000"></b><b style="left:330.0px;top:937.7px;width:4.0px;height:2.5px;background:#ffa000"></b><b style="left:334.3px;top:937.7px;width:1.3px;height:2.5px;background:#ffa000"></b><b style="left:335.9px;top:937.7px;width:1.9px;height:2.5px;background:#f0ff10"></b><b style="left:344.4px;top:937.7px;width:1.9px;height:2.5px;background:#f0ff10"></b><b style="left:352.4px;top:937.7px;width:1.3px;height:2.5px;background:#c0ff40"></b><b style="left:358.0px;top:937.7px;width:3.3px;height:2.5px;background:#f0ff10"></b><b style="left:365.7px;top:937.7px;width:2.4px;height:2.5px;background:#c0ff40"></b><b style="left:370.7px;top:937.7px;width:2.8px;height:2.5px;background:#ffa000"></b><b style="left:375.6px;top:937.7px;width:4.6px;height:2.5px;background:#ffa000"></b><b style="left:388.2px;top:937.7px;width:2.4px;height:2.5px;background:#ffd000"></b><b style="left:397.3px;top:937.7px;width:1.9px;height:2.5px;background:#f0ff10"></b><b style="left:407.5px;top:937.7px;width:4.4px;height:2.5px;background:#c0ff40"></b><b style="left:413.5px;top:937.7px;width:3.9px;height:2.5px;background:#f0ff10"></b><b style="left:419.5px;top:937.7px;width:1.6px;height:2.5px;background:#c0ff40"></b><b style="left:428.0px;top:937.7px;width:108.7px;height:14.8px;background:#800000"></b><b style="left:428.0px;top:934.0px;width:2.9px;height:3.7px;background:#ff2000"></b><b style="left:430.9px;top:934.0px;width:4.4px;height:3.7px;background:#c00000"></b><b style="left:435.3px;top:934.0px;width:3.4px;height:3.7px;background:#ff6000"></b><b style="left:438.7px;top:934.0px;width:3.9px;height:3.7px;background:#ff9000"></b><b style="left:442.6px;top:934.0px;width:2.8px;height:3.7px;background:#c00000"></b><b style="left:445.4px;top:934.0px;width:2.1px;height:3.7px;background:#800000"></b><b style="left:447.5px;top:934.0px;width:4.3px;height:3.7px;background:#ff6000"></b><b style="left:451.7px;top:934.0px;width:2.7px;height:3.7px;background:#ff9000"></b><b style="left:454.5px;top:934.0px;width:4.2px;height:3.7px;background:#c00000"></b><b style="left:458.7px;top:934.0px;width:2.3px;height:3.7px;background:#ff9000"></b><b style="left:461.0px;top:934.0px;width:3.4px;height:3.7px;background:#800000"></b><b style="left:464.4px;top:934.0px;width:3.6px;height:3.7px;background:#ff6000"></b><b style="left:468.0px;top:934.0px;width:3.7px;height:3.7px;background:#ff9000"></b><b style="left:471.7px;top:934.0px;width:2.1px;height:3.7px;background:#ff2000"></b><b style="left:473.8px;top:934.0px;width:3.6px;height:3.7px;background:#ff6000"></b><b style="left:477.4px;top:934.0px;width:3.1px;height:3.7px;background:#c00000"></b><b style="left:480.5px;top:934.0px;width:2.6px;height:3.7px;background:#ff6000"></b><b style="left:483.1px;top:934.0px;width:1.9px;height:3.7px;background:#800000"></b><b style="left:485.0px;top:934.0px;width:4.6px;height:3.7px;background:#ff9000"></b><b style="left:489.5px;top:934.0px;width:3.2px;height:3.7px;background:#c00000"></b><b style="left:492.7px;top:934.0px;width:3.8px;height:3.7px;background:#800000"></b><b style="left:496.5px;top:934.0px;width:2.7px;height:3.7px;background:#ff2000"></b><b style="left:499.2px;top:934.0px;width:4.3px;height:3.7px;background:#ff6000"></b><b style="left:503.5px;top:934.0px;width:3.2px;height:3.7px;background:#c00000"></b><b style="left:506.6px;top:934.0px;width:4.6px;height:3.7px;background:#800000"></b><b style="left:511.2px;top:934.0px;width:3.1px;height:3.7px;background:#ff2000"></b><b style="left:514.4px;top:934.0px;width:3.6px;height:3.7px;background:#ff6000"></b><b style="left:517.9px;top:934.0px;width:4.3px;height:3.7px;background:#ff2000"></b><b style="left:522.2px;top:934.0px;width:4.3px;height:3.7px;background:#800000"></b><b style="left:526.5px;top:934.0px;width:3.0px;height:3.7px;background:#800000"></b><b style="left:529.5px;top:934.0px;width:3.9px;height:3.7px;background:#c00000"></b><b style="left:533.5px;top:934.0px;width:1.8px;height:3.7px;background:#c00000"></b><b style="left:535.3px;top:934.0px;width:1.3px;height:3.7px;background:#ff9000"></b><b style="left:428.0px;top:934.0px;width:95.3px;height:18.5px;background:#000"></b><b style="left:436.1px;top:942.1px;width:1.2px;height:10.4px;background:#800000"></b><b style="left:443.7px;top:942.1px;width:0.8px;height:10.4px;background:#800000"></b><b style="left:450.9px;top:942.1px;width:1.4px;height:10.4px;background:#800000"></b><b style="left:458.6px;top:942.1px;width:0.7px;height:10.4px;background:#800000"></b><b style="left:464.2px;top:942.1px;width:0.7px;height:10.4px;background:#800000"></b><b style="left:469.7px;top:942.1px;width:1.4px;height:10.4px;background:#800000"></b><b style="left:478.2px;top:942.1px;width:0.9px;height:10.4px;background:#800000"></b><b style="left:483.1px;top:942.1px;width:1.4px;height:10.4px;background:#800000"></b><b style="left:491.1px;top:942.1px;width:1.1px;height:10.4px;background:#800000"></b><b style="left:496.1px;top:942.1px;width:0.8px;height:10.4px;background:#800000"></b><b style="left:503.4px;top:942.1px;width:1.1px;height:10.4px;background:#800000"></b><b style="left:507.8px;top:942.1px;width:1.3px;height:10.4px;background:#800000"></b><b style="left:514.6px;top:942.1px;width:1.6px;height:10.4px;background:#800000"></b><b style="left:519.7px;top:942.1px;width:0.8px;height:10.4px;background:#800000"></b><b style="left:428.5px;top:927.9px;width:1.7px;height:24.6px;background:#000"></b><b style="left:577.3px;top:923.7px;width:1.7px;height:28.8px;background:#000"></b><b style="left:536.6px;top:937.7px;width:5.2px;height:14.8px;background:#00cfff"></b><b style="left:541.9px;top:945.8px;width:19.2px;height:6.7px;background:#800000"></b><b style="left:541.9px;top:937.7px;width:19.2px;height:8.1px;background:#e04000"></b><b style="left:561.0px;top:937.7px;width:6.4px;height:14.8px;background:#60ff9f"></b><b style="left:567.4px;top:934.0px;width:1.7px;height:18.5px;background:#d02000"></b><b style="left:569.2px;top:937.7px;width:18.0px;height:14.8px;background:#00bfff"></b><b style="left:587.2px;top:937.7px;width:8.7px;height:14.8px;background:#10ffef"></b><b style="left:495.9px;top:888.4px;width:1.7px;height:16.4px;background:#a00000"></b><b style="left:497.7px;top:890.9px;width:2.3px;height:14.0px;background:#ffa000"></b><b style="left:542.4px;top:865.0px;width:4.1px;height:18.5px;background:#ff5000"></b><b style="left:543.3px;top:870.3px;width:1.7px;height:10.3px;background:#c00000"></b><b style="left:538.9px;top:904.8px;width:1.7px;height:16.4px;background:#ffc000"></b><div style="position:absolute;left:172.20px;top:541.70px;width:1276.79px;height:410.80px;overflow:hidden;filter:url(#spkC)"><i style="left:120px;width:6.5px;background:linear-gradient(0deg,#000000 0.0%,#000000 60.0%,#a4a4a4 75.0%,#a8a8a8 100.0%)"></i><i style="left:126px;width:6.5px;background:linear-gradient(0deg,#000000 0.0%,#000000 60.0%,#adadad 75.0%,#b3b3b3 100.0%)"></i><i style="left:132px;width:6.5px;background:linear-gradient(0deg,#000000 0.0%,#000000 60.0%,#b4b4b4 75.0%,#b8b8b8 100.0%)"></i><i style="left:138px;width:6.5px;background:linear-gradient(0deg,#000000 60.0%,#b4b4b4 75.0%,#b9b9b9 100.0%)"></i><i style="left:144px;width:6.5px;background:linear-gradient(0deg,#000000 60.0%,#b4b4b4 75.0%,#b9b9b9 100.0%)"></i><i style="left:150px;width:6.5px;background:linear-gradient(0deg,#000000 60.0%,#b4b4b4 75.0%,#b9b9b9 100.0%)"></i><i style="left:156px;width:6.5px;background:linear-gradient(0deg,#000000 60.0%,#b4b4b4 75.0%,#b9b9b9 100.0%)"></i><i style="left:162px;width:6.5px;background:linear-gradient(0deg,#000000 60.0%,#b4b4b4 75.0%,#b9b9b9 100.0%)"></i><i style="left:168px;width:6.5px;background:linear-gradient(0deg,#000000 60.0%,#b4b4b4 75.0%,#b9b9b9 100.0%)"></i><i style="left:174px;width:6.5px;background:linear-gradient(0deg,#000000 60.0%,#b4b4b4 75.0%,#b9b9b9 100.0%)"></i><i style="left:180px;width:6.5px;background:linear-gradient(0deg,#000000 60.0%,#b4b4b4 75.0%,#b9b9b9 100.0%)"></i><i style="left:186px;width:6.5px;background:linear-gradient(0deg,#000000 60.0%,#b4b4b4 75.0%,#b9b9b9 100.0%)"></i><i style="left:192px;width:6.5px;background:linear-gradient(0deg,#000000 60.0%,#b4b4b4 75.0%,#b9b9b9 100.0%)"></i><i style="left:198px;width:6.5px;background:linear-gradient(0deg,#000000 60.0%,#b4b4b4 75.0%,#b9b9b9 100.0%)"></i><i style="left:204px;width:6.5px;background:linear-gradient(0deg,#000000 60.0%,#b4b4b4 75.0%,#b9b9b9 100.0%)"></i><i style="left:210px;width:6.5px;background:linear-gradient(0deg,#000000 60.0%,#b4b4b4 75.0%,#b9b9b9 100.0%)"></i><i style="left:216px;width:6.5px;background:linear-gradient(0deg,#000000 60.0%,#b4b4b4 75.0%,#b9b9b9 100.0%)"></i><i style="left:222px;width:6.5px;background:linear-gradient(0deg,#000000 60.0%,#b4b4b4 75.0%,#b9b9b9 100.0%)"></i><i style="left:228px;width:6.5px;background:linear-gradient(0deg,#000000 60.0%,#b4b4b4 75.0%,#b9b9b9 100.0%)"></i><i style="left:234px;width:6.5px;background:linear-gradient(0deg,#000000 60.0%,#b4b4b4 75.0%,#b9b9b9 100.0%)"></i><i style="left:240px;width:6.5px;background:linear-gradient(0deg,#000000 60.0%,#b4b4b4 75.0%,#b9b9b9 100.0%)"></i><i style="left:246px;width:6.5px;background:linear-gradient(0deg,#000000 40.0%,#9d9d9d 50.0%,#9e9e9e 60.0%,#b4b4b4 75.0%,#b9b9b9 100.0%)"></i><i style="left:252px;width:6.5px;background:linear-gradient(0deg,#000000 40.0%,#a7a7a7 50.0%,#a8a8a8 60.0%,#b5b5b5 75.0%,#b9b9b9 100.0%)"></i><i style="left:258px;width:6.5px;background:linear-gradient(0deg,#000000 40.0%,#aeaeae 50.0%,#afafaf 60.0%,#b6b6b6 75.0%,#b9b9b9 100.0%)"></i><i style="left:264px;width:6.5px;background:linear-gradient(0deg,#000000 40.0%,#b3b3b3 50.0%,#b4b4b4 60.0%,#b6b6b6 75.0%,#b9b9b9 100.0%)"></i><i style="left:270px;width:6.5px;background:linear-gradient(0deg,#000000 40.0%,#b4b4b4 50.0%,#b9b9b9 100.0%)"></i><i style="left:276px;width:6.5px;background:linear-gradient(0deg,#000000 40.0%,#b4b4b4 50.0%,#b9b9b9 100.0%)"></i><i style="left:282px;width:6.5px;background:linear-gradient(0deg,#000000 40.0%,#b4b4b4 50.0%,#b9b9b9 100.0%)"></i><i style="left:288px;width:6.5px;background:linear-gradient(0deg,#000000 40.0%,#b4b4b4 50.0%,#b9b9b9 100.0%)"></i><i style="left:294px;width:6.5px;background:linear-gradient(0deg,#000000 40.0%,#b4b4b4 50.0%,#b9b9b9 100.0%)"></i><i style="left:300px;width:6.5px;background:linear-gradient(0deg,#000000 40.0%,#b4b4b4 50.0%,#b9b9b9 100.0%)"></i><i style="left:306px;width:6.5px;background:linear-gradient(0deg,#000000 40.0%,#b4b4b4 50.0%,#b9b9b9 100.0%)"></i><i style="left:312px;width:6.5px;background:linear-gradient(0deg,#000000 40.0%,#b4b4b4 50.0%,#b9b9b9 100.0%)"></i><i style="left:318px;width:6.5px;background:linear-gradient(0deg,#000000 40.0%,#b4b4b4 50.0%,#b9b9b9 100.0%)"></i><i style="left:324px;width:6.5px;background:linear-gradient(0deg,#000000 40.0%,#b4b4b4 50.0%,#b9b9b9 100.0%)"></i><i style="left:330px;width:6.5px;background:linear-gradient(0deg,#000000 40.0%,#b4b4b4 50.0%,#b9b9b9 100.0%)"></i><i style="left:336px;width:6.5px;background:linear-gradient(0deg,#000000 40.0%,#b4b4b4 50.0%,#b9b9b9 100.0%)"></i><i style="left:342px;width:6.5px;background:linear-gradient(0deg,#000000 40.0%,#b4b4b4 50.0%,#b9b9b9 100.0%)"></i><i style="left:348px;width:6.5px;background:linear-gradient(0deg,#000000 40.0%,#b4b4b4 50.0%,#b9b9b9 100.0%)"></i><i style="left:354px;width:6.5px;background:linear-gradient(0deg,#000000 30.0%,#a1a1a1 40.0%,#b5b5b5 50.0%,#bababa 100.0%)"></i><i style="left:360px;width:6.5px;background:linear-gradient(0deg,#000000 30.0%,#a8a8a8 40.0%,#b6b6b6 50.0%,#bbbbbb 100.0%)"></i><i style="left:366px;width:6.5px;background:linear-gradient(0deg,#000000 30.0%,#adadad 40.0%,#b8b8b8 50.0%,#bcbcbc 100.0%)"></i><i style="left:372px;width:6.5px;background:linear-gradient(0deg,#000000 30.0%,#b8b8b8 50.0%,#bcbcbc 100.0%)"></i><i style="left:378px;width:6.5px;background:linear-gradient(0deg,#000000 30.0%,#b7b7b7 50.0%,#bababa 100.0%)"></i><i style="left:384px;width:6.5px;background:linear-gradient(0deg,#000000 30.0%,#b6b6b6 50.0%,#b8b8b8 100.0%)"></i><i style="left:390px;width:6.5px;background:linear-gradient(0deg,#000000 30.0%,#b5b5b5 50.0%,#b6b6b6 100.0%)"></i><i style="left:396px;width:6.5px;background:linear-gradient(0deg,#000000 30.0%,#b4b4b4 50.0%,#b4b4b4 100.0%)"></i><i style="left:402px;width:6.5px;background:linear-gradient(0deg,#000000 30.0%,#b4b4b4 50.0%,#b4b4b4 100.0%)"></i><i style="left:408px;width:6.5px;background:linear-gradient(0deg,#000000 30.0%,#b4b4b4 50.0%,#b4b4b4 100.0%)"></i><i style="left:414px;width:6.5px;background:linear-gradient(0deg,#000000 30.0%,#b4b4b4 50.0%,#b4b4b4 100.0%)"></i><i style="left:420px;width:6.5px;background:linear-gradient(0deg,#000000 30.0%,#b4b4b4 50.0%,#b4b4b4 100.0%)"></i><i style="left:426px;width:6.5px;background:linear-gradient(0deg,#000000 30.0%,#b4b4b4 50.0%,#b4b4b4 100.0%)"></i><i style="left:432px;width:6.5px;background:linear-gradient(0deg,#000000 30.0%,#b4b4b4 50.0%,#b4b4b4 100.0%)"></i><i style="left:438px;width:6.5px;background:linear-gradient(0deg,#000000 30.0%,#b4b4b4 50.0%,#b4b4b4 100.0%)"></i><i style="left:444px;width:6.5px;background:linear-gradient(0deg,#000000 30.0%,#b4b4b4 50.0%,#b4b4b4 100.0%)"></i><i style="left:450px;width:6.5px;background:linear-gradient(0deg,#000000 30.0%,#b4b4b4 50.0%,#b4b4b4 100.0%)"></i><i style="left:456px;width:6.5px;background:linear-gradient(0deg,#000000 30.0%,#b4b4b4 50.0%,#b4b4b4 100.0%)"></i><i style="left:462px;width:6.5px;background:linear-gradient(0deg,#000000 30.0%,#b4b4b4 50.0%,#b4b4b4 100.0%)"></i><i style="left:468px;width:6.5px;background:linear-gradient(0deg,#000000 30.0%,#b4b4b4 50.0%,#b4b4b4 100.0%)"></i><i style="left:474px;width:6.5px;background:linear-gradient(0deg,#000000 30.0%,#b4b4b4 50.0%,#b4b4b4 100.0%)"></i><i style="left:480px;width:6.5px;background:linear-gradient(0deg,#000000 30.0%,#b4b4b4 50.0%,#b4b4b4 100.0%)"></i><i style="left:486px;width:6.5px;background:linear-gradient(0deg,#000000 0.0%,#000000 30.0%,#aeaeae 50.0%,#aeaeae 100.0%)"></i><i style="left:492px;width:6.5px;background:linear-gradient(0deg,#000000 0.0%,#000000 30.0%,#9d9d9d 50.0%,#9d9d9d 100.0%)"></i><i style="left:750px;width:6.5px;background:linear-gradient(0deg,#000000 0.0%,#000000 40.0%,#9a9a9a 55.0%,#9b9b9b 100.0%)"></i><i style="left:756px;width:6.5px;background:linear-gradient(0deg,#000000 0.0%,#000000 40.0%,#a7a7a7 55.0%,#a9a9a9 100.0%)"></i><i style="left:762px;width:6.5px;background:linear-gradient(0deg,#000000 0.0%,#000000 40.0%,#afafaf 55.0%,#b3b3b3 100.0%)"></i><i style="left:768px;width:6.5px;background:linear-gradient(0deg,#000000 0.0%,#000000 40.0%,#b4b4b4 55.0%,#b6b6b6 100.0%)"></i><i style="left:774px;width:6.5px;background:linear-gradient(0deg,#000000 40.0%,#b6b6b6 55.0%,#b9b9b9 100.0%)"></i><i style="left:780px;width:6.5px;background:linear-gradient(0deg,#000000 40.0%,#b6b6b6 55.0%,#b9b9b9 100.0%)"></i><i style="left:786px;width:6.5px;background:linear-gradient(0deg,#000000 40.0%,#b6b6b6 55.0%,#b9b9b9 100.0%)"></i><i style="left:792px;width:6.5px;background:linear-gradient(0deg,#000000 40.0%,#b6b6b6 55.0%,#b9b9b9 100.0%)"></i><i style="left:798px;width:6.5px;background:linear-gradient(0deg,#000000 40.0%,#b6b6b6 55.0%,#b9b9b9 100.0%)"></i><i style="left:804px;width:6.5px;background:linear-gradient(0deg,#000000 40.0%,#b6b6b6 55.0%,#b9b9b9 100.0%)"></i><i style="left:810px;width:6.5px;background:linear-gradient(0deg,#000000 40.0%,#b6b6b6 55.0%,#b9b9b9 100.0%)"></i><i style="left:816px;width:6.5px;background:linear-gradient(0deg,#000000 40.0%,#b6b6b6 55.0%,#b9b9b9 100.0%)"></i><i style="left:822px;width:6.5px;background:linear-gradient(0deg,#000000 40.0%,#b6b6b6 55.0%,#b9b9b9 100.0%)"></i><i style="left:828px;width:6.5px;background:linear-gradient(0deg,#000000 40.0%,#b6b6b6 55.0%,#b9b9b9 100.0%)"></i><i style="left:834px;width:6.5px;background:linear-gradient(0deg,#000000 40.0%,#b6b6b6 55.0%,#b9b9b9 100.0%)"></i><i style="left:840px;width:6.5px;background:linear-gradient(0deg,#000000 40.0%,#b6b6b6 55.0%,#b9b9b9 100.0%)"></i><i style="left:846px;width:6.5px;background:linear-gradient(0deg,#000000 40.0%,#b6b6b6 55.0%,#b9b9b9 100.0%)"></i><i style="left:852px;width:6.5px;background:linear-gradient(0deg,#000000 40.0%,#b6b6b6 55.0%,#b9b9b9 100.0%)"></i><i style="left:858px;width:6.5px;background:linear-gradient(0deg,#000000 40.0%,#b6b6b6 55.0%,#b9b9b9 100.0%)"></i><i style="left:864px;width:6.5px;background:linear-gradient(0deg,#000000 40.0%,#b6b6b6 55.0%,#b9b9b9 100.0%)"></i><i style="left:870px;width:6.5px;background:linear-gradient(0deg,#000000 40.0%,#b6b6b6 55.0%,#b9b9b9 100.0%)"></i><i style="left:876px;width:6.5px;background:linear-gradient(0deg,#000000 40.0%,#b6b6b6 55.0%,#b9b9b9 100.0%)"></i><i style="left:882px;width:6.5px;background:linear-gradient(0deg,#000000 40.0%,#b6b6b6 55.0%,#b9b9b9 100.0%)"></i><i style="left:888px;width:6.5px;background:linear-gradient(0deg,#000000 40.0%,#b6b6b6 55.0%,#b9b9b9 100.0%)"></i><i style="left:894px;width:6.5px;background:linear-gradient(0deg,#000000 40.0%,#b6b6b6 55.0%,#b9b9b9 100.0%)"></i><i style="left:900px;width:6.5px;background:linear-gradient(0deg,#000000 40.0%,#b6b6b6 55.0%,#b9b9b9 100.0%)"></i><i style="left:906px;width:6.5px;background:linear-gradient(0deg,#000000 40.0%,#b6b6b6 55.0%,#b9b9b9 100.0%)"></i><i style="left:912px;width:6.5px;background:linear-gradient(0deg,#000000 40.0%,#b6b6b6 55.0%,#b9b9b9 100.0%)"></i><i style="left:918px;width:6.5px;background:linear-gradient(0deg,#000000 40.0%,#b6b6b6 55.0%,#b9b9b9 100.0%)"></i><i style="left:924px;width:6.5px;background:linear-gradient(0deg,#000000 40.0%,#b6b6b6 55.0%,#b9b9b9 100.0%)"></i><i style="left:930px;width:6.5px;background:linear-gradient(0deg,#000000 40.0%,#b6b6b6 55.0%,#b9b9b9 100.0%)"></i><i style="left:936px;width:6.5px;background:linear-gradient(0deg,#000000 40.0%,#b6b6b6 55.0%,#b9b9b9 100.0%)"></i><i style="left:942px;width:6.5px;background:linear-gradient(0deg,#000000 40.0%,#b6b6b6 55.0%,#b9b9b9 100.0%)"></i><i style="left:948px;width:6.5px;background:linear-gradient(0deg,#000000 40.0%,#b6b6b6 55.0%,#b9b9b9 100.0%)"></i><i style="left:954px;width:6.5px;background:linear-gradient(0deg,#000000 40.0%,#b6b6b6 55.0%,#b9b9b9 100.0%)"></i><i style="left:960px;width:6.5px;background:linear-gradient(0deg,#000000 40.0%,#b6b6b6 55.0%,#b9b9b9 100.0%)"></i><i style="left:966px;width:6.5px;background:linear-gradient(0deg,#000000 40.0%,#b6b6b6 55.0%,#b9b9b9 100.0%)"></i><i style="left:972px;width:6.5px;background:linear-gradient(0deg,#000000 40.0%,#b6b6b6 55.0%,#b9b9b9 100.0%)"></i><i style="left:978px;width:6.5px;background:linear-gradient(0deg,#000000 40.0%,#b6b6b6 55.0%,#b9b9b9 100.0%)"></i><i style="left:984px;width:6.5px;background:linear-gradient(0deg,#000000 40.0%,#b6b6b6 55.0%,#b9b9b9 100.0%)"></i><i style="left:990px;width:6.5px;background:linear-gradient(0deg,#000000 40.0%,#b6b6b6 55.0%,#b9b9b9 100.0%)"></i><i style="left:996px;width:6.5px;background:linear-gradient(0deg,#000000 40.0%,#b6b6b6 55.0%,#b9b9b9 100.0%)"></i><i style="left:1002px;width:6.5px;background:linear-gradient(0deg,#000000 40.0%,#b6b6b6 55.0%,#b9b9b9 100.0%)"></i><i style="left:1008px;width:6.5px;background:linear-gradient(0deg,#000000 40.0%,#b6b6b6 55.0%,#b9b9b9 100.0%)"></i><i style="left:1014px;width:6.5px;background:linear-gradient(0deg,#000000 40.0%,#b6b6b6 55.0%,#b9b9b9 100.0%)"></i><i style="left:1020px;width:6.5px;background:linear-gradient(0deg,#000000 40.0%,#b6b6b6 55.0%,#b9b9b9 100.0%)"></i><i style="left:1026px;width:6.5px;background:linear-gradient(0deg,#000000 40.0%,#b6b6b6 55.0%,#b9b9b9 100.0%)"></i><i style="left:1032px;width:6.5px;background:linear-gradient(0deg,#000000 40.0%,#b6b6b6 55.0%,#b9b9b9 100.0%)"></i><i style="left:1038px;width:6.5px;background:linear-gradient(0deg,#000000 40.0%,#b6b6b6 55.0%,#b9b9b9 100.0%)"></i><i style="left:1044px;width:6.5px;background:linear-gradient(0deg,#000000 40.0%,#b6b6b6 55.0%,#b9b9b9 100.0%)"></i><i style="left:1050px;width:6.5px;background:linear-gradient(0deg,#000000 40.0%,#b6b6b6 55.0%,#b9b9b9 100.0%)"></i><i style="left:1056px;width:6.5px;background:linear-gradient(0deg,#000000 40.0%,#b6b6b6 55.0%,#b9b9b9 100.0%)"></i><i style="left:1062px;width:6.5px;background:linear-gradient(0deg,#000000 40.0%,#b6b6b6 55.0%,#b9b9b9 100.0%)"></i><i style="left:1068px;width:6.5px;background:linear-gradient(0deg,#000000 40.0%,#b6b6b6 55.0%,#b9b9b9 100.0%)"></i><i style="left:1074px;width:6.5px;background:linear-gradient(0deg,#000000 40.0%,#b6b6b6 55.0%,#b9b9b9 100.0%)"></i><i style="left:1080px;width:6.5px;background:linear-gradient(0deg,#000000 40.0%,#b6b6b6 55.0%,#b9b9b9 100.0%)"></i><i style="left:1086px;width:6.5px;background:linear-gradient(0deg,#000000 40.0%,#b6b6b6 55.0%,#b9b9b9 100.0%)"></i><i style="left:1092px;width:6.5px;background:linear-gradient(0deg,#000000 40.0%,#b6b6b6 55.0%,#b9b9b9 100.0%)"></i><i style="left:1098px;width:6.5px;background:linear-gradient(0deg,#000000 40.0%,#b6b6b6 55.0%,#b9b9b9 100.0%)"></i><i style="left:1104px;width:6.5px;background:linear-gradient(0deg,#000000 40.0%,#b6b6b6 55.0%,#b9b9b9 100.0%)"></i><i style="left:1110px;width:6.5px;background:linear-gradient(0deg,#000000 40.0%,#b6b6b6 55.0%,#b9b9b9 100.0%)"></i><i style="left:1116px;width:6.5px;background:linear-gradient(0deg,#000000 40.0%,#b6b6b6 55.0%,#b9b9b9 100.0%)"></i><i style="left:1122px;width:6.5px;background:linear-gradient(0deg,#000000 40.0%,#b6b6b6 55.0%,#b9b9b9 100.0%)"></i><i style="left:1128px;width:6.5px;background:linear-gradient(0deg,#000000 40.0%,#b6b6b6 55.0%,#b9b9b9 100.0%)"></i><i style="left:1134px;width:6.5px;background:linear-gradient(0deg,#000000 40.0%,#b6b6b6 55.0%,#b9b9b9 100.0%)"></i><i style="left:1140px;width:6.5px;background:linear-gradient(0deg,#000000 40.0%,#b6b6b6 55.0%,#b9b9b9 100.0%)"></i><i style="left:1146px;width:6.5px;background:linear-gradient(0deg,#000000 40.0%,#b6b6b6 55.0%,#b9b9b9 100.0%)"></i><i style="left:1152px;width:6.5px;background:linear-gradient(0deg,#000000 40.0%,#b6b6b6 55.0%,#b9b9b9 100.0%)"></i><i style="left:1158px;width:6.5px;background:linear-gradient(0deg,#000000 40.0%,#b6b6b6 55.0%,#b9b9b9 100.0%)"></i><i style="left:1164px;width:6.5px;background:linear-gradient(0deg,#000000 40.0%,#b6b6b6 55.0%,#b9b9b9 100.0%)"></i><i style="left:1170px;width:6.5px;background:linear-gradient(0deg,#000000 40.0%,#b6b6b6 55.0%,#b9b9b9 100.0%)"></i><i style="left:1176px;width:6.5px;background:linear-gradient(0deg,#000000 40.0%,#b6b6b6 55.0%,#b9b9b9 100.0%)"></i><i style="left:1182px;width:6.5px;background:linear-gradient(0deg,#000000 40.0%,#b6b6b6 55.0%,#b9b9b9 100.0%)"></i><i style="left:1188px;width:6.5px;background:linear-gradient(0deg,#000000 40.0%,#b6b6b6 55.0%,#b9b9b9 100.0%)"></i><i style="left:1194px;width:6.5px;background:linear-gradient(0deg,#000000 40.0%,#b6b6b6 55.0%,#b9b9b9 100.0%)"></i><i style="left:1200px;width:6.5px;background:linear-gradient(0deg,#000000 40.0%,#b6b6b6 55.0%,#b9b9b9 100.0%)"></i><i style="left:1206px;width:6.5px;background:linear-gradient(0deg,#000000 40.0%,#b6b6b6 55.0%,#b9b9b9 100.0%)"></i><i style="left:1212px;width:6.5px;background:linear-gradient(0deg,#000000 40.0%,#b6b6b6 55.0%,#b9b9b9 100.0%)"></i><i style="left:1218px;width:6.5px;background:linear-gradient(0deg,#000000 40.0%,#b6b6b6 55.0%,#b9b9b9 100.0%)"></i><i style="left:1224px;width:6.5px;background:linear-gradient(0deg,#000000 40.0%,#b6b6b6 55.0%,#b9b9b9 100.0%)"></i><i style="left:1230px;width:6.5px;background:linear-gradient(0deg,#000000 40.0%,#b6b6b6 55.0%,#b9b9b9 100.0%)"></i><i style="left:1236px;width:6.5px;background:linear-gradient(0deg,#000000 40.0%,#b6b6b6 55.0%,#b9b9b9 100.0%)"></i><i style="left:1242px;width:6.5px;background:linear-gradient(0deg,#000000 40.0%,#b6b6b6 55.0%,#b9b9b9 100.0%)"></i><i style="left:1248px;width:6.5px;background:linear-gradient(0deg,#000000 40.0%,#b6b6b6 55.0%,#b9b9b9 100.0%)"></i><i style="left:1254px;width:6.5px;background:linear-gradient(0deg,#000000 40.0%,#b6b6b6 55.0%,#b9b9b9 100.0%)"></i><i style="left:1260px;width:6.5px;background:linear-gradient(0deg,#000000 40.0%,#b6b6b6 55.0%,#b9b9b9 100.0%)"></i><i style="left:1266px;width:6.5px;background:linear-gradient(0deg,#000000 0.0%,#000000 40.0%,#9a9a9a 55.0%,#9b9b9b 100.0%)"></i></div><svg width="1621" height="1020" style="position:absolute;left:0;top:0"><polygon opacity="0.4" fill="#0a14ff" points="290.8,541.7 311.1,541.7 328.6,603.3 357.6,697.8 343.1,714.2 314.1,636.2"/><polygon fill="#fff" points="172.2,541.3 290.8,541.3 295.2,560.0 299.5,560.0 299.5,582.8 303.4,592.5 307.3,592.5 307.3,605.3 311.1,605.3 311.1,623.9 314.1,632.1 309.7,624.8 305.3,624.8 305.3,632.1 301.0,624.0 296.6,624.0 296.6,623.9 293.1,616.9 289.6,616.9 289.6,631.6 286.2,631.6 286.2,624.4 282.7,624.4 282.7,616.6 279.2,616.6 279.2,623.9 274.8,622.4 270.5,622.4 270.5,619.3 266.1,619.3 266.1,633.3 261.7,633.3 261.7,628.0 258.3,626.0 254.8,626.0 254.8,627.2 251.3,627.2 251.3,619.9 247.8,619.9 247.8,616.9 244.3,616.9 244.3,615.6 240.0,625.7 235.6,625.7 235.6,624.4 231.2,624.4 231.2,625.4 226.9,625.4 226.9,623.9 222.5,612.9 218.2,612.9 218.2,611.3 213.8,611.3 213.8,617.1 209.4,617.1 209.4,607.4 206.0,604.2 202.5,604.2 202.5,616.7 199.0,616.7 199.0,610.4 195.5,610.4 195.5,620.1 192.0,620.1 192.0,615.6 188.1,620.5 184.1,620.5 184.1,603.0 180.1,603.0 180.1,610.6 176.2,610.6 176.2,607.2 172.2,607.2 172.2,599.2"/><polygon fill="#fff" points="411.7,664.9 417.5,656.7 421.6,673.2 424.5,693.7 418.7,697.8 412.8,685.5"/><polygon fill="#fff" points="443.1,541.3 526.2,541.3 526.7,701.9 522.7,700.7 518.6,700.7 518.6,699.4 514.5,699.4 514.5,689.6 510.9,683.0 507.3,683.0 507.3,688.4 503.6,688.4 503.6,676.7 500.0,676.7 500.0,673.2 496.1,680.8 492.3,680.8 492.3,691.4 488.4,691.4 488.4,689.6 484.5,685.4 480.6,685.4 480.6,689.0 476.8,689.0 476.8,677.3 472.4,680.4 468.0,680.4 468.0,681.4 463.7,674.1 459.3,674.1 459.3,652.6 453.5,640.3 447.7,640.3 444.8,562.2"/><polygon fill="#fff" points="558.1,541.3 656.9,541.3 651.1,570.5 647.2,579.1 643.4,579.1 643.4,571.1 639.5,571.1 639.5,582.8 635.6,580.7 631.7,580.7 631.7,563.0 627.9,563.0 627.9,558.1 624.0,573.2 620.1,573.2 620.1,578.7 616.2,578.7 616.2,582.8 612.4,565.0 608.5,565.0 608.5,568.4 604.6,568.4 604.6,554.0 600.7,557.2 596.9,557.2 596.9,565.7 593.0,565.7 593.0,570.5 589.1,565.7 585.2,565.7 585.2,559.6 581.4,559.6 581.4,554.0 577.5,561.8 573.6,561.8 573.6,554.1 569.7,554.1 569.7,562.2 565.4,564.9 561.0,564.9 561.0,554.0"/><polygon fill="#fff" points="656.9,541.3 944.6,541.3 938.8,574.6 934.4,589.5 930.0,589.5 930.0,603.3 925.7,621.8 921.3,621.8 921.3,636.2 917.0,646.2 912.6,646.2 912.6,644.4 909.0,643.5 905.3,643.5 905.3,662.8 901.7,662.8 901.7,659.8 898.1,659.8 898.1,664.9 893.7,666.6 889.4,666.6 889.4,681.4 885.5,684.2 881.6,684.2 881.6,672.3 877.7,672.3 877.7,667.1 873.9,667.1 873.9,672.5 870.0,672.5 870.0,662.8 866.1,662.8 866.1,656.7 862.6,657.5 859.1,657.5 859.1,665.7 855.7,665.7 855.7,665.3 852.2,665.3 852.2,678.8 848.7,678.8 848.7,677.3 844.8,680.9 840.9,680.9 840.9,682.3 837.1,682.3 837.1,675.1 833.2,675.1 833.2,667.6 829.3,667.6 829.3,672.4 825.4,672.4 825.4,673.2 822.0,670.3 818.5,670.3 818.5,678.4 815.0,678.4 815.0,674.0 811.5,674.0 811.5,686.3 808.0,686.3 808.0,681.4 804.5,681.5 801.0,681.5 801.0,671.9 797.5,671.9 797.5,667.8 794.1,667.8 794.1,669.5 790.6,669.5 790.6,664.9 786.2,672.7 781.9,672.7 781.9,670.8 777.5,670.8 777.5,672.8 773.1,672.8 773.1,669.0 769.3,674.0 765.4,674.0 765.4,666.7 761.5,666.7 761.5,673.2 757.2,690.4 752.8,690.4 752.8,697.8 749.2,699.7 745.5,699.7 745.5,708.0 741.9,708.0 741.9,729.8 738.3,729.8 738.3,730.7 733.9,732.7 729.6,732.7 729.6,730.7 725.2,697.9 720.8,697.9 720.8,664.9 716.5,664.6 712.1,664.6 712.1,648.5 708.5,643.6 704.9,643.6 704.9,629.5 701.2,629.5 701.2,636.4 697.6,636.4 697.6,623.9 693.7,616.8 689.8,616.8 689.8,619.1 686.0,619.1 686.0,607.4 682.1,600.7 678.2,600.7 678.2,590.0 674.3,590.0 674.3,591.0 670.5,593.1 666.6,593.1 666.6,593.6 662.7,593.6 662.7,582.8"/><polygon fill="#fff" points="988.2,541.3 999.8,541.3 995.1,570.5 992.8,570.5"/><polygon fill="#fff" points="1136.3,541.3 1148.0,541.3 1145.1,582.8 1139.2,582.8"/><polygon fill="#fff" points="1444.3,541.3 1449.0,541.3 1449.0,591.0 1445.5,582.8"/><polygon fill="#9c9cff" points="310.0,623.9 316.4,623.9 348.9,706.0 344.3,706.0"/></svg><div style="position:absolute;left:172.20px;top:541.70px;width:1276.79px;height:410.80px;overflow:hidden;filter:url(#spkL)"><i style="left:0px;width:6.5px;background:linear-gradient(0deg,#000000 60.0%,#c6c6c6 66.0%,#dbdbdb 72.0%,#e1e1e1 80.0%,#000000 86.0%,#000000 100.0%)"></i><i style="left:6px;width:6.5px;background:linear-gradient(0deg,#000000 60.0%,#c6c6c6 66.0%,#dbdbdb 72.0%,#e1e1e1 80.0%,#000000 86.0%,#000000 100.0%)"></i><i style="left:12px;width:6.5px;background:linear-gradient(0deg,#000000 60.0%,#c6c6c6 66.0%,#dbdbdb 72.0%,#e1e1e1 80.0%,#000000 86.0%,#000000 100.0%)"></i><i style="left:18px;width:6.5px;background:linear-gradient(0deg,#000000 60.0%,#c6c6c6 66.0%,#dbdbdb 72.0%,#e1e1e1 80.0%,#000000 86.0%,#000000 100.0%)"></i><i style="left:24px;width:6.5px;background:linear-gradient(0deg,#000000 60.0%,#c6c6c6 66.0%,#dbdbdb 72.0%,#e1e1e1 80.0%,#000000 86.0%,#000000 100.0%)"></i><i style="left:30px;width:6.5px;background:linear-gradient(0deg,#000000 60.0%,#c6c6c6 66.0%,#dbdbdb 72.0%,#e1e1e1 80.0%,#000000 86.0%,#000000 100.0%)"></i><i style="left:36px;width:6.5px;background:linear-gradient(0deg,#000000 60.0%,#c6c6c6 66.0%,#dbdbdb 72.0%,#e1e1e1 80.0%,#000000 86.0%,#000000 100.0%)"></i><i style="left:42px;width:6.5px;background:linear-gradient(0deg,#000000 60.0%,#c6c6c6 66.0%,#dbdbdb 72.0%,#e1e1e1 80.0%,#000000 86.0%,#000000 100.0%)"></i><i style="left:48px;width:6.5px;background:linear-gradient(0deg,#000000 60.0%,#c6c6c6 66.0%,#dbdbdb 72.0%,#e1e1e1 80.0%,#000000 86.0%,#000000 100.0%)"></i><i style="left:54px;width:6.5px;background:linear-gradient(0deg,#000000 60.0%,#c6c6c6 66.0%,#dbdbdb 72.0%,#e1e1e1 80.0%,#000000 86.0%,#000000 100.0%)"></i><i style="left:60px;width:6.5px;background:linear-gradient(0deg,#000000 60.0%,#c6c6c6 66.0%,#dbdbdb 72.0%,#e1e1e1 80.0%,#000000 86.0%,#000000 100.0%)"></i><i style="left:66px;width:6.5px;background:linear-gradient(0deg,#000000 60.0%,#c6c6c6 66.0%,#dbdbdb 72.0%,#e1e1e1 80.0%,#000000 86.0%,#000000 100.0%)"></i><i style="left:72px;width:6.5px;background:linear-gradient(0deg,#000000 60.0%,#c6c6c6 66.0%,#dbdbdb 72.0%,#e1e1e1 80.0%,#000000 86.0%,#000000 100.0%)"></i><i style="left:78px;width:6.5px;background:linear-gradient(0deg,#000000 60.0%,#c6c6c6 66.0%,#dbdbdb 72.0%,#e1e1e1 80.0%,#000000 86.0%,#000000 100.0%)"></i><i style="left:84px;width:6.5px;background:linear-gradient(0deg,#000000 60.0%,#c6c6c6 66.0%,#dbdbdb 72.0%,#e1e1e1 80.0%,#000000 86.0%,#000000 100.0%)"></i><i style="left:90px;width:6.5px;background:linear-gradient(0deg,#000000 60.0%,#c6c6c6 66.0%,#dbdbdb 72.0%,#e1e1e1 80.0%,#000000 86.0%,#000000 100.0%)"></i><i style="left:96px;width:6.5px;background:linear-gradient(0deg,#000000 60.0%,#c6c6c6 66.0%,#dbdbdb 72.0%,#e1e1e1 80.0%,#000000 86.0%,#000000 100.0%)"></i><i style="left:102px;width:6.5px;background:linear-gradient(0deg,#000000 60.0%,#c6c6c6 66.0%,#dbdbdb 72.0%,#e1e1e1 80.0%,#000000 86.0%,#000000 100.0%)"></i><i style="left:108px;width:6.5px;background:linear-gradient(0deg,#000000 60.0%,#c6c6c6 66.0%,#dbdbdb 72.0%,#e1e1e1 80.0%,#000000 86.0%,#000000 100.0%)"></i><i style="left:114px;width:6.5px;background:linear-gradient(0deg,#000000 60.0%,#c6c6c6 66.0%,#dbdbdb 72.0%,#e1e1e1 80.0%,#000000 86.0%,#000000 100.0%)"></i><i style="left:120px;width:6.5px;background:linear-gradient(0deg,#000000 0.0%,#000000 60.0%,#bfbfbf 66.0%,#d0d0d0 72.0%,#d4d4d4 80.0%,#000000 86.0%,#000000 100.0%)"></i><i style="left:126px;width:6.5px;background:linear-gradient(0deg,#000000 0.0%,#000000 60.0%,#b6b6b6 66.0%,#c4c4c4 72.0%,#c8c8c8 80.0%,#000000 86.0%,#000000 100.0%)"></i><i style="left:132px;width:6.5px;background:linear-gradient(0deg,#000000 0.0%,#000000 60.0%,#a0a0a0 66.0%,#a9a9a9 72.0%,#aaaaaa 80.0%,#000000 86.0%,#000000 100.0%)"></i><i style="left:564px;width:6.5px;background:linear-gradient(0deg,#000000 0.0%,#000000 50.0%,#aaaaaa 55.0%,#b0b0b0 62.0%,#aeaeae 70.0%,#000000 76.0%,#000000 100.0%)"></i><i style="left:570px;width:6.5px;background:linear-gradient(0deg,#000000 0.0%,#000000 50.0%,#c9c9c9 55.0%,#d1d1d1 62.0%,#cecece 70.0%,#000000 76.0%,#000000 100.0%)"></i><i style="left:576px;width:6.5px;background:linear-gradient(0deg,#000000 50.0%,#d4d4d4 55.0%,#e4e4e4 62.0%,#e1e1e1 70.0%,#000000 76.0%,#000000 100.0%)"></i><i style="left:582px;width:6.5px;background:linear-gradient(0deg,#000000 50.0%,#d4d4d4 55.0%,#e4e4e4 62.0%,#e1e1e1 70.0%,#000000 76.0%,#000000 100.0%)"></i><i style="left:588px;width:6.5px;background:linear-gradient(0deg,#000000 50.0%,#d4d4d4 55.0%,#e4e4e4 62.0%,#e1e1e1 70.0%,#000000 76.0%,#000000 100.0%)"></i><i style="left:594px;width:6.5px;background:linear-gradient(0deg,#000000 50.0%,#d4d4d4 55.0%,#e4e4e4 62.0%,#e1e1e1 70.0%,#000000 76.0%,#000000 100.0%)"></i><i style="left:600px;width:6.5px;background:linear-gradient(0deg,#000000 50.0%,#d4d4d4 55.0%,#e4e4e4 62.0%,#e1e1e1 70.0%,#000000 76.0%,#000000 100.0%)"></i><i style="left:606px;width:6.5px;background:linear-gradient(0deg,#000000 50.0%,#d4d4d4 55.0%,#e4e4e4 62.0%,#e1e1e1 70.0%,#000000 76.0%,#000000 100.0%)"></i><i style="left:612px;width:6.5px;background:linear-gradient(0deg,#000000 50.0%,#d4d4d4 55.0%,#e4e4e4 62.0%,#e1e1e1 70.0%,#000000 76.0%,#000000 100.0%)"></i><i style="left:618px;width:6.5px;background:linear-gradient(0deg,#000000 50.0%,#d4d4d4 55.0%,#e4e4e4 62.0%,#e1e1e1 70.0%,#000000 76.0%,#000000 100.0%)"></i><i style="left:624px;width:6.5px;background:linear-gradient(0deg,#000000 50.0%,#d4d4d4 55.0%,#e4e4e4 62.0%,#e1e1e1 70.0%,#000000 76.0%,#000000 100.0%)"></i><i style="left:630px;width:6.5px;background:linear-gradient(0deg,#000000 50.0%,#d4d4d4 55.0%,#e4e4e4 62.0%,#e1e1e1 70.0%,#000000 76.0%,#000000 100.0%)"></i><i style="left:636px;width:6.5px;background:linear-gradient(0deg,#000000 50.0%,#d4d4d4 55.0%,#e4e4e4 62.0%,#e1e1e1 70.0%,#000000 76.0%,#000000 100.0%)"></i><i style="left:642px;width:6.5px;background:linear-gradient(0deg,#000000 50.0%,#d4d4d4 55.0%,#e4e4e4 62.0%,#e1e1e1 70.0%,#000000 76.0%,#000000 100.0%)"></i><i style="left:648px;width:6.5px;background:linear-gradient(0deg,#000000 50.0%,#d4d4d4 55.0%,#e4e4e4 62.0%,#e1e1e1 70.0%,#000000 76.0%,#000000 100.0%)"></i><i style="left:654px;width:6.5px;background:linear-gradient(0deg,#000000 50.0%,#d4d4d4 55.0%,#e4e4e4 62.0%,#e1e1e1 70.0%,#000000 76.0%,#000000 100.0%)"></i><i style="left:660px;width:6.5px;background:linear-gradient(0deg,#000000 50.0%,#d4d4d4 55.0%,#e4e4e4 62.0%,#e1e1e1 70.0%,#000000 76.0%,#000000 100.0%)"></i><i style="left:666px;width:6.5px;background:linear-gradient(0deg,#000000 50.0%,#d4d4d4 55.0%,#e4e4e4 62.0%,#e1e1e1 70.0%,#000000 76.0%,#000000 100.0%)"></i><i style="left:672px;width:6.5px;background:linear-gradient(0deg,#000000 50.0%,#d4d4d4 55.0%,#e4e4e4 62.0%,#e1e1e1 70.0%,#000000 76.0%,#000000 100.0%)"></i><i style="left:678px;width:6.5px;background:linear-gradient(0deg,#000000 50.0%,#d4d4d4 55.0%,#e4e4e4 62.0%,#e1e1e1 70.0%,#000000 76.0%,#000000 100.0%)"></i><i style="left:684px;width:6.5px;background:linear-gradient(0deg,#000000 50.0%,#d4d4d4 55.0%,#e4e4e4 62.0%,#e1e1e1 70.0%,#000000 76.0%,#000000 100.0%)"></i><i style="left:690px;width:6.5px;background:linear-gradient(0deg,#000000 50.0%,#d4d4d4 55.0%,#e4e4e4 62.0%,#e1e1e1 70.0%,#000000 76.0%,#000000 100.0%)"></i><i style="left:696px;width:6.5px;background:linear-gradient(0deg,#000000 50.0%,#d4d4d4 55.0%,#e4e4e4 62.0%,#e1e1e1 70.0%,#000000 76.0%,#000000 100.0%)"></i><i style="left:702px;width:6.5px;background:linear-gradient(0deg,#000000 50.0%,#d4d4d4 55.0%,#e4e4e4 62.0%,#e1e1e1 70.0%,#000000 76.0%,#000000 100.0%)"></i><i style="left:708px;width:6.5px;background:linear-gradient(0deg,#000000 50.0%,#d4d4d4 55.0%,#e4e4e4 62.0%,#e1e1e1 70.0%,#000000 76.0%,#000000 100.0%)"></i><i style="left:714px;width:6.5px;background:linear-gradient(0deg,#000000 0.0%,#000000 50.0%,#cbcbcb 55.0%,#d5d5d5 62.0%,#d1d1d1 70.0%,#000000 76.0%,#000000 100.0%)"></i><i style="left:720px;width:6.5px;background:linear-gradient(0deg,#000000 0.0%,#000000 50.0%,#bdbdbd 55.0%,#c6c6c6 62.0%,#c3c3c3 70.0%,#000000 76.0%,#000000 100.0%)"></i></div><div style="position:absolute;left:172.20px;top:541.70px;width:1276.79px;height:410.80px;overflow:hidden;filter:url(#spkW2)"><i style="left:0px;width:6.5px;background:linear-gradient(0deg,#000000 66.0%,#cfcfcf 72.0%,#e4e4e4 80.0%,#eeeeee 86.0%,#eeeeee 100.0%)"></i><i style="left:6px;width:6.5px;background:linear-gradient(0deg,#000000 66.0%,#cfcfcf 72.0%,#e4e4e4 80.0%,#eeeeee 86.0%,#eeeeee 100.0%)"></i><i style="left:12px;width:6.5px;background:linear-gradient(0deg,#000000 66.0%,#cfcfcf 72.0%,#e4e4e4 80.0%,#eeeeee 86.0%,#eeeeee 100.0%)"></i><i style="left:18px;width:6.5px;background:linear-gradient(0deg,#000000 66.0%,#cfcfcf 72.0%,#e4e4e4 80.0%,#eeeeee 86.0%,#eeeeee 100.0%)"></i><i style="left:24px;width:6.5px;background:linear-gradient(0deg,#000000 66.0%,#cfcfcf 72.0%,#e4e4e4 80.0%,#eeeeee 86.0%,#eeeeee 100.0%)"></i><i style="left:30px;width:6.5px;background:linear-gradient(0deg,#000000 66.0%,#cfcfcf 72.0%,#e4e4e4 80.0%,#eeeeee 86.0%,#eeeeee 100.0%)"></i><i style="left:36px;width:6.5px;background:linear-gradient(0deg,#000000 66.0%,#cfcfcf 72.0%,#e4e4e4 80.0%,#eeeeee 86.0%,#eeeeee 100.0%)"></i><i style="left:42px;width:6.5px;background:linear-gradient(0deg,#000000 66.0%,#cfcfcf 72.0%,#e4e4e4 80.0%,#eeeeee 86.0%,#eeeeee 100.0%)"></i><i style="left:48px;width:6.5px;background:linear-gradient(0deg,#000000 66.0%,#cfcfcf 72.0%,#e4e4e4 80.0%,#eeeeee 86.0%,#eeeeee 100.0%)"></i><i style="left:54px;width:6.5px;background:linear-gradient(0deg,#000000 66.0%,#cfcfcf 72.0%,#e4e4e4 80.0%,#eeeeee 86.0%,#eeeeee 100.0%)"></i><i style="left:60px;width:6.5px;background:linear-gradient(0deg,#000000 66.0%,#cfcfcf 72.0%,#e4e4e4 80.0%,#eeeeee 86.0%,#eeeeee 100.0%)"></i><i style="left:66px;width:6.5px;background:linear-gradient(0deg,#000000 66.0%,#cfcfcf 72.0%,#e4e4e4 80.0%,#eeeeee 86.0%,#eeeeee 100.0%)"></i><i style="left:72px;width:6.5px;background:linear-gradient(0deg,#000000 66.0%,#cfcfcf 72.0%,#e4e4e4 80.0%,#eeeeee 86.0%,#eeeeee 100.0%)"></i><i style="left:78px;width:6.5px;background:linear-gradient(0deg,#000000 66.0%,#cfcfcf 72.0%,#e4e4e4 80.0%,#eeeeee 86.0%,#eeeeee 100.0%)"></i><i style="left:84px;width:6.5px;background:linear-gradient(0deg,#000000 66.0%,#cfcfcf 72.0%,#e4e4e4 80.0%,#eeeeee 86.0%,#eeeeee 100.0%)"></i><i style="left:90px;width:6.5px;background:linear-gradient(0deg,#000000 66.0%,#cfcfcf 72.0%,#e4e4e4 80.0%,#eeeeee 86.0%,#eeeeee 100.0%)"></i><i style="left:96px;width:6.5px;background:linear-gradient(0deg,#000000 66.0%,#cfcfcf 72.0%,#e4e4e4 80.0%,#eeeeee 86.0%,#eeeeee 100.0%)"></i><i style="left:102px;width:6.5px;background:linear-gradient(0deg,#000000 66.0%,#cfcfcf 72.0%,#e4e4e4 80.0%,#eeeeee 86.0%,#eeeeee 100.0%)"></i><i style="left:108px;width:6.5px;background:linear-gradient(0deg,#000000 66.0%,#cfcfcf 72.0%,#e4e4e4 80.0%,#eeeeee 86.0%,#eeeeee 100.0%)"></i><i style="left:114px;width:6.5px;background:linear-gradient(0deg,#000000 0.0%,#000000 66.0%,#cdcdcd 72.0%,#e2e2e2 80.0%,#ededed 86.0%,#ededed 100.0%)"></i><i style="left:120px;width:6.5px;background:linear-gradient(0deg,#000000 0.0%,#000000 66.0%,#c7c7c7 72.0%,#d3d3d3 80.0%,#e0e0e0 86.0%,#e0e0e0 100.0%)"></i><i style="left:126px;width:6.5px;background:linear-gradient(0deg,#000000 0.0%,#000000 66.0%,#bababa 72.0%,#c7c7c7 80.0%,#cbcbcb 86.0%,#cbcbcb 100.0%)"></i><i style="left:132px;width:6.5px;background:linear-gradient(0deg,#000000 0.0%,#000000 66.0%,#a4a4a4 72.0%,#aaaaaa 80.0%,#adadad 86.0%,#adadad 100.0%)"></i><i style="left:264px;width:6.5px;background:linear-gradient(0deg,#000000 0.0%,#000000 55.0%,#9f9f9f 62.0%,#a2a2a2 70.0%,#a2a2a2 100.0%)"></i><i style="left:270px;width:6.5px;background:linear-gradient(0deg,#000000 55.0%,#c5c5c5 60.0%,#cbcbcb 62.0%,#cecece 65.0%,#d4d4d4 70.0%,#d4d4d4 100.0%)"></i><i style="left:276px;width:6.5px;background:linear-gradient(0deg,#000000 55.0%,#c6c6c6 60.0%,#cbcbcb 62.0%,#cecece 65.0%,#d4d4d4 70.0%,#d4d4d4 100.0%)"></i><i style="left:282px;width:6.5px;background:linear-gradient(0deg,#000000 55.0%,#c6c6c6 60.0%,#cbcbcb 62.0%,#cfcfcf 65.0%,#d4d4d4 70.0%,#d4d4d4 100.0%)"></i><i style="left:288px;width:6.5px;background:linear-gradient(0deg,#000000 55.0%,#c7c7c7 60.0%,#cbcbcb 62.0%,#cfcfcf 65.0%,#d4d4d4 70.0%,#d4d4d4 100.0%)"></i><i style="left:294px;width:6.5px;background:linear-gradient(0deg,#000000 55.0%,#c7c7c7 60.0%,#cccccc 62.0%,#d0d0d0 65.0%,#d4d4d4 70.0%,#d4d4d4 100.0%)"></i><i style="left:300px;width:6.5px;background:linear-gradient(0deg,#000000 55.0%,#c8c8c8 60.0%,#cccccc 62.0%,#d0d0d0 65.0%,#d4d4d4 70.0%,#d4d4d4 100.0%)"></i><i style="left:306px;width:6.5px;background:linear-gradient(0deg,#000000 55.0%,#c8c8c8 60.0%,#cccccc 62.0%,#d0d0d0 65.0%,#d4d4d4 70.0%,#d4d4d4 100.0%)"></i><i style="left:312px;width:6.5px;background:linear-gradient(0deg,#000000 55.0%,#c8c8c8 60.0%,#cccccc 62.0%,#d1d1d1 65.0%,#d4d4d4 70.0%,#d4d4d4 100.0%)"></i><i style="left:318px;width:6.5px;background:linear-gradient(0deg,#000000 55.0%,#c9c9c9 60.0%,#cdcdcd 62.0%,#d1d1d1 65.0%,#d4d4d4 70.0%,#d4d4d4 100.0%)"></i><i style="left:324px;width:6.5px;background:linear-gradient(0deg,#000000 55.0%,#c9c9c9 60.0%,#cdcdcd 62.0%,#d2d2d2 65.0%,#d4d4d4 70.0%,#d4d4d4 100.0%)"></i><i style="left:330px;width:6.5px;background:linear-gradient(0deg,#000000 55.0%,#cacaca 60.0%,#cdcdcd 62.0%,#d3d3d3 65.0%,#d4d4d4 70.0%,#d4d4d4 100.0%)"></i><i style="left:336px;width:6.5px;background:linear-gradient(0deg,#000000 55.0%,#cacaca 60.0%,#cdcdcd 62.0%,#d3d3d3 65.0%,#d4d4d4 70.0%,#d4d4d4 100.0%)"></i><i style="left:342px;width:6.5px;background:linear-gradient(0deg,#000000 55.0%,#cacaca 60.0%,#cecece 62.0%,#d4d4d4 65.0%,#d4d4d4 70.0%,#d4d4d4 100.0%)"></i><i style="left:348px;width:6.5px;background:linear-gradient(0deg,#000000 55.0%,#cbcbcb 60.0%,#cecece 62.0%,#d4d4d4 65.0%,#d4d4d4 70.0%,#d4d4d4 100.0%)"></i><i style="left:384px;width:6.5px;background:linear-gradient(0deg,#000000 0.0%,#000000 82.0%,#c8c8c8 88.0%,#cbcbcb 100.0%)"></i><i style="left:390px;width:6.5px;background:linear-gradient(0deg,#000000 80.0%,#9b9b9b 82.0%,#cfcfcf 88.0%,#d4d4d4 100.0%)"></i><i style="left:396px;width:6.5px;background:linear-gradient(0deg,#000000 80.0%,#9e9e9e 82.0%,#cfcfcf 88.0%,#d4d4d4 100.0%)"></i><i style="left:402px;width:6.5px;background:linear-gradient(0deg,#000000 80.0%,#a2a2a2 82.0%,#cfcfcf 88.0%,#d4d4d4 100.0%)"></i><i style="left:408px;width:6.5px;background:linear-gradient(0deg,#000000 80.0%,#a5a5a5 82.0%,#cfcfcf 88.0%,#d4d4d4 100.0%)"></i><i style="left:414px;width:6.5px;background:linear-gradient(0deg,#000000 80.0%,#a7a7a7 82.0%,#cfcfcf 88.0%,#d4d4d4 100.0%)"></i><i style="left:420px;width:6.5px;background:linear-gradient(0deg,#000000 80.0%,#a9a9a9 82.0%,#cfcfcf 88.0%,#d4d4d4 100.0%)"></i><i style="left:426px;width:6.5px;background:linear-gradient(0deg,#000000 80.0%,#ababab 82.0%,#cfcfcf 88.0%,#d4d4d4 100.0%)"></i><i style="left:432px;width:6.5px;background:linear-gradient(0deg,#000000 80.0%,#adadad 82.0%,#cfcfcf 88.0%,#d4d4d4 100.0%)"></i><i style="left:438px;width:6.5px;background:linear-gradient(0deg,#000000 80.0%,#afafaf 82.0%,#cfcfcf 88.0%,#d4d4d4 100.0%)"></i><i style="left:444px;width:6.5px;background:linear-gradient(0deg,#000000 80.0%,#b1b1b1 82.0%,#cfcfcf 88.0%,#d4d4d4 100.0%)"></i><i style="left:450px;width:6.5px;background:linear-gradient(0deg,#000000 80.0%,#b3b3b3 82.0%,#cfcfcf 88.0%,#d4d4d4 100.0%)"></i><i style="left:456px;width:6.5px;background:linear-gradient(0deg,#000000 80.0%,#b3b3b3 82.0%,#cfcfcf 88.0%,#d4d4d4 100.0%)"></i><i style="left:462px;width:6.5px;background:linear-gradient(0deg,#000000 80.0%,#b4b4b4 82.0%,#cfcfcf 88.0%,#d4d4d4 100.0%)"></i><i style="left:468px;width:6.5px;background:linear-gradient(0deg,#000000 80.0%,#b5b5b5 82.0%,#cfcfcf 88.0%,#d4d4d4 100.0%)"></i><i style="left:474px;width:6.5px;background:linear-gradient(0deg,#000000 80.0%,#b5b5b5 82.0%,#cfcfcf 88.0%,#d4d4d4 100.0%)"></i><i style="left:480px;width:6.5px;background:linear-gradient(0deg,#000000 80.0%,#b6b6b6 82.0%,#cfcfcf 88.0%,#d4d4d4 100.0%)"></i><i style="left:486px;width:6.5px;background:linear-gradient(0deg,#000000 70.0%,#adadad 80.0%,#cfcfcf 88.0%,#d4d4d4 100.0%)"></i><i style="left:492px;width:6.5px;background:linear-gradient(0deg,#000000 70.0%,#b8b8b8 80.0%,#cfcfcf 88.0%,#d4d4d4 100.0%)"></i><i style="left:498px;width:6.5px;background:linear-gradient(0deg,#000000 70.0%,#bfbfbf 80.0%,#d0d0d0 88.0%,#d4d4d4 100.0%)"></i><i style="left:504px;width:6.5px;background:linear-gradient(0deg,#000000 70.0%,#c7c7c7 80.0%,#d0d0d0 88.0%,#d4d4d4 100.0%)"></i><i style="left:510px;width:6.5px;background:linear-gradient(0deg,#000000 70.0%,#cbcbcb 80.0%,#d0d0d0 88.0%,#d4d4d4 100.0%)"></i><i style="left:516px;width:6.5px;background:linear-gradient(0deg,#000000 70.0%,#cfcfcf 80.0%,#d1d1d1 88.0%,#d4d4d4 100.0%)"></i><i style="left:522px;width:6.5px;background:linear-gradient(0deg,#000000 50.0%,#afafaf 56.0%,#b0b0b0 70.0%,#cfcfcf 80.0%,#d4d4d4 100.0%)"></i><i style="left:528px;width:6.5px;background:linear-gradient(0deg,#000000 50.0%,#b8b8b8 56.0%,#b9b9b9 70.0%,#d0d0d0 80.0%,#d4d4d4 100.0%)"></i><i style="left:534px;width:6.5px;background:linear-gradient(0deg,#000000 50.0%,#bebebe 56.0%,#bfbfbf 70.0%,#d0d0d0 80.0%,#d4d4d4 100.0%)"></i><i style="left:540px;width:6.5px;background:linear-gradient(0deg,#000000 50.0%,#c5c5c5 56.0%,#c7c7c7 70.0%,#d0d0d0 80.0%,#d4d4d4 100.0%)"></i><i style="left:546px;width:6.5px;background:linear-gradient(0deg,#000000 50.0%,#c9c9c9 56.0%,#cacaca 70.0%,#d1d1d1 80.0%,#d4d4d4 100.0%)"></i><i style="left:552px;width:6.5px;background:linear-gradient(0deg,#000000 50.0%,#cccccc 56.0%,#cdcdcd 70.0%,#d1d1d1 80.0%,#d4d4d4 100.0%)"></i><i style="left:558px;width:6.5px;background:linear-gradient(0deg,#000000 50.0%,#b9b9b9 52.0%,#cecece 56.0%,#cfcfcf 60.0%,#d1d1d1 70.0%,#d5d5d5 100.0%)"></i><i style="left:564px;width:6.5px;background:linear-gradient(0deg,#000000 50.0%,#b4b4b4 52.0%,#cbcbcb 56.0%,#cfcfcf 60.0%,#d6d6d6 70.0%,#d9d9d9 100.0%)"></i><i style="left:570px;width:6.5px;background:linear-gradient(0deg,#000000 50.0%,#a9a9a9 52.0%,#c7c7c7 56.0%,#cfcfcf 60.0%,#dddddd 70.0%,#dedede 100.0%)"></i><i style="left:576px;width:6.5px;background:linear-gradient(0deg,#000000 52.0%,#cfcfcf 60.0%,#e1e1e1 70.0%,#e1e1e1 100.0%)"></i><i style="left:582px;width:6.5px;background:linear-gradient(0deg,#000000 52.0%,#cfcfcf 60.0%,#e1e1e1 70.0%,#e1e1e1 100.0%)"></i><i style="left:588px;width:6.5px;background:linear-gradient(0deg,#000000 52.0%,#cfcfcf 60.0%,#e1e1e1 70.0%,#e1e1e1 100.0%)"></i><i style="left:594px;width:6.5px;background:linear-gradient(0deg,#000000 52.0%,#cfcfcf 60.0%,#e1e1e1 70.0%,#e1e1e1 100.0%)"></i><i style="left:600px;width:6.5px;background:linear-gradient(0deg,#000000 52.0%,#cfcfcf 60.0%,#e1e1e1 70.0%,#e1e1e1 100.0%)"></i><i style="left:606px;width:6.5px;background:linear-gradient(0deg,#000000 52.0%,#cfcfcf 60.0%,#e1e1e1 70.0%,#e1e1e1 100.0%)"></i><i style="left:612px;width:6.5px;background:linear-gradient(0deg,#000000 52.0%,#cfcfcf 60.0%,#e1e1e1 70.0%,#e1e1e1 100.0%)"></i><i style="left:618px;width:6.5px;background:linear-gradient(0deg,#000000 52.0%,#cfcfcf 60.0%,#e1e1e1 70.0%,#e1e1e1 100.0%)"></i><i style="left:624px;width:6.5px;background:linear-gradient(0deg,#000000 52.0%,#cfcfcf 60.0%,#e1e1e1 70.0%,#e1e1e1 100.0%)"></i><i style="left:630px;width:6.5px;background:linear-gradient(0deg,#000000 52.0%,#cfcfcf 60.0%,#e1e1e1 70.0%,#e1e1e1 100.0%)"></i><i style="left:636px;width:6.5px;background:linear-gradient(0deg,#000000 52.0%,#cfcfcf 60.0%,#e1e1e1 70.0%,#e1e1e1 100.0%)"></i><i style="left:642px;width:6.5px;background:linear-gradient(0deg,#000000 52.0%,#cfcfcf 60.0%,#e1e1e1 70.0%,#e1e1e1 100.0%)"></i><i style="left:648px;width:6.5px;background:linear-gradient(0deg,#000000 52.0%,#cfcfcf 60.0%,#e1e1e1 70.0%,#e1e1e1 100.0%)"></i><i style="left:654px;width:6.5px;background:linear-gradient(0deg,#000000 52.0%,#cfcfcf 60.0%,#e1e1e1 70.0%,#e1e1e1 100.0%)"></i><i style="left:660px;width:6.5px;background:linear-gradient(0deg,#000000 52.0%,#cfcfcf 60.0%,#e1e1e1 70.0%,#e1e1e1 100.0%)"></i><i style="left:666px;width:6.5px;background:linear-gradient(0deg,#000000 52.0%,#cfcfcf 60.0%,#e1e1e1 70.0%,#e1e1e1 100.0%)"></i><i style="left:672px;width:6.5px;background:linear-gradient(0deg,#000000 52.0%,#cfcfcf 60.0%,#e1e1e1 70.0%,#e1e1e1 100.0%)"></i><i style="left:678px;width:6.5px;background:linear-gradient(0deg,#000000 52.0%,#cfcfcf 60.0%,#e1e1e1 70.0%,#e1e1e1 100.0%)"></i><i style="left:684px;width:6.5px;background:linear-gradient(0deg,#000000 52.0%,#cfcfcf 60.0%,#e1e1e1 70.0%,#e1e1e1 100.0%)"></i><i style="left:690px;width:6.5px;background:linear-gradient(0deg,#000000 52.0%,#cfcfcf 60.0%,#e1e1e1 70.0%,#e1e1e1 100.0%)"></i><i style="left:696px;width:6.5px;background:linear-gradient(0deg,#000000 52.0%,#cfcfcf 60.0%,#e1e1e1 70.0%,#e1e1e1 100.0%)"></i><i style="left:702px;width:6.5px;background:linear-gradient(0deg,#000000 52.0%,#cfcfcf 60.0%,#e1e1e1 70.0%,#e1e1e1 100.0%)"></i><i style="left:708px;width:6.5px;background:linear-gradient(0deg,#000000 52.0%,#cfcfcf 60.0%,#e1e1e1 70.0%,#e1e1e1 100.0%)"></i><i style="left:714px;width:6.5px;background:linear-gradient(0deg,#000000 52.0%,#cfcfcf 60.0%,#e1e1e1 70.0%,#e1e1e1 100.0%)"></i><i style="left:720px;width:6.5px;background:linear-gradient(0deg,#000000 52.0%,#cbcbcb 60.0%,#d4d4d4 68.0%,#d9d9d9 70.0%,#dfdfdf 75.0%,#e1e1e1 100.0%)"></i><i style="left:726px;width:6.5px;background:linear-gradient(0deg,#000000 52.0%,#c6c6c6 60.0%,#cccccc 68.0%,#d1d1d1 70.0%,#dcdcdc 75.0%,#e1e1e1 100.0%)"></i><i style="left:732px;width:6.5px;background:linear-gradient(0deg,#000000 52.0%,#bcbcbc 60.0%,#c5c5c5 68.0%,#cbcbcb 70.0%,#d9d9d9 75.0%,#e1e1e1 100.0%)"></i><i style="left:738px;width:6.5px;background:linear-gradient(0deg,#000000 52.0%,#b3b3b3 60.0%,#b7b7b7 68.0%,#c5c5c5 70.0%,#d7d7d7 75.0%,#e1e1e1 100.0%)"></i><i style="left:744px;width:6.5px;background:linear-gradient(0deg,#000000 68.0%,#d3d3d3 75.0%,#dbdbdb 90.0%,#dfdfdf 95.0%,#e1e1e1 100.0%)"></i><i style="left:750px;width:6.5px;background:linear-gradient(0deg,#000000 68.0%,#cdcdcd 75.0%,#d1d1d1 90.0%,#dcdcdc 95.0%,#e1e1e1 100.0%)"></i><i style="left:756px;width:6.5px;background:linear-gradient(0deg,#000000 68.0%,#c8c8c8 75.0%,#cbcbcb 90.0%,#dadada 95.0%,#e1e1e1 100.0%)"></i><i style="left:762px;width:6.5px;background:linear-gradient(0deg,#000000 68.0%,#bebebe 75.0%,#c2c2c2 90.0%,#d8d8d8 95.0%,#e1e1e1 100.0%)"></i><i style="left:768px;width:6.5px;background:linear-gradient(0deg,#000000 68.0%,#b3b3b3 75.0%,#b5b5b5 90.0%,#d6d6d6 95.0%,#e1e1e1 100.0%)"></i><i style="left:774px;width:6.5px;background:linear-gradient(0deg,#000000 0.0%,#000000 90.0%,#cecece 95.0%,#d7d7d7 100.0%)"></i><i style="left:780px;width:6.5px;background:linear-gradient(0deg,#000000 0.0%,#000000 90.0%,#afafaf 95.0%,#b3b3b3 100.0%)"></i><i style="left:1266px;width:6.5px;background:linear-gradient(0deg,#000000 0.0%,#000000 80.0%,#c4c4c4 88.0%,#c9c9c9 100.0%)"></i><i style="left:1272px;width:6.5px;background:linear-gradient(0deg,#000000 80.0%,#d4d4d4 88.0%,#e1e1e1 100.0%)"></i></div><div style="position:absolute;left:172.20px;top:541.70px;width:1276.79px;height:410.80px;overflow:hidden;filter:url(#spkB)"><i style="left:0px;width:6.5px;background:linear-gradient(0deg,#000000 76.0%,#c6c6c6 80.0%,#c0c0c0 90.0%,#b9b9b9 100.0%)"></i><i style="left:6px;width:6.5px;background:linear-gradient(0deg,#000000 76.0%,#c6c6c6 80.0%,#c0c0c0 90.0%,#b9b9b9 100.0%)"></i><i style="left:12px;width:6.5px;background:linear-gradient(0deg,#000000 76.0%,#c6c6c6 80.0%,#c0c0c0 90.0%,#b9b9b9 100.0%)"></i><i style="left:18px;width:6.5px;background:linear-gradient(0deg,#000000 76.0%,#c6c6c6 80.0%,#c0c0c0 90.0%,#b9b9b9 100.0%)"></i><i style="left:24px;width:6.5px;background:linear-gradient(0deg,#000000 76.0%,#c6c6c6 80.0%,#c0c0c0 90.0%,#b9b9b9 100.0%)"></i><i style="left:30px;width:6.5px;background:linear-gradient(0deg,#000000 76.0%,#c6c6c6 80.0%,#c0c0c0 90.0%,#b9b9b9 100.0%)"></i><i style="left:36px;width:6.5px;background:linear-gradient(0deg,#000000 76.0%,#c6c6c6 80.0%,#c0c0c0 90.0%,#b9b9b9 100.0%)"></i><i style="left:42px;width:6.5px;background:linear-gradient(0deg,#000000 76.0%,#c6c6c6 80.0%,#c0c0c0 90.0%,#b9b9b9 100.0%)"></i><i style="left:48px;width:6.5px;background:linear-gradient(0deg,#000000 76.0%,#c6c6c6 80.0%,#c0c0c0 90.0%,#b9b9b9 100.0%)"></i><i style="left:54px;width:6.5px;background:linear-gradient(0deg,#000000 76.0%,#c6c6c6 80.0%,#c0c0c0 90.0%,#b9b9b9 100.0%)"></i><i style="left:60px;width:6.5px;background:linear-gradient(0deg,#000000 76.0%,#c6c6c6 80.0%,#c0c0c0 90.0%,#b9b9b9 100.0%)"></i><i style="left:66px;width:6.5px;background:linear-gradient(0deg,#000000 76.0%,#c6c6c6 80.0%,#c0c0c0 90.0%,#b9b9b9 100.0%)"></i><i style="left:72px;width:6.5px;background:linear-gradient(0deg,#000000 76.0%,#c6c6c6 80.0%,#c0c0c0 90.0%,#b9b9b9 100.0%)"></i><i style="left:78px;width:6.5px;background:linear-gradient(0deg,#000000 76.0%,#c6c6c6 80.0%,#c0c0c0 90.0%,#b9b9b9 100.0%)"></i><i style="left:84px;width:6.5px;background:linear-gradient(0deg,#000000 76.0%,#c6c6c6 80.0%,#c0c0c0 90.0%,#b9b9b9 100.0%)"></i><i style="left:90px;width:6.5px;background:linear-gradient(0deg,#000000 76.0%,#c6c6c6 80.0%,#c0c0c0 90.0%,#b9b9b9 100.0%)"></i><i style="left:96px;width:6.5px;background:linear-gradient(0deg,#000000 76.0%,#c6c6c6 80.0%,#c0c0c0 90.0%,#b9b9b9 100.0%)"></i><i style="left:102px;width:6.5px;background:linear-gradient(0deg,#000000 76.0%,#c6c6c6 80.0%,#c0c0c0 90.0%,#b9b9b9 100.0%)"></i><i style="left:108px;width:6.5px;background:linear-gradient(0deg,#000000 76.0%,#c6c6c6 80.0%,#c0c0c0 90.0%,#b9b9b9 100.0%)"></i><i style="left:114px;width:6.5px;background:linear-gradient(0deg,#000000 0.0%,#000000 76.0%,#c2c2c2 80.0%,#bdbdbd 90.0%,#b7b7b7 100.0%)"></i><i style="left:120px;width:6.5px;background:linear-gradient(0deg,#000000 0.0%,#000000 76.0%,#aaaaaa 80.0%,#a8a8a8 90.0%,#a4a4a4 100.0%)"></i><i style="left:264px;width:6.5px;background:linear-gradient(0deg,#000000 0.0%,#000000 62.0%,#9b9b9b 66.0%,#9b9b9b 100.0%)"></i><i style="left:270px;width:6.5px;background:linear-gradient(0deg,#000000 62.0%,#bdbdbd 66.0%,#b9b9b9 100.0%)"></i><i style="left:276px;width:6.5px;background:linear-gradient(0deg,#000000 62.0%,#bdbdbd 66.0%,#b9b9b9 100.0%)"></i><i style="left:282px;width:6.5px;background:linear-gradient(0deg,#000000 62.0%,#bdbdbd 66.0%,#b9b9b9 100.0%)"></i><i style="left:288px;width:6.5px;background:linear-gradient(0deg,#000000 62.0%,#bdbdbd 66.0%,#b9b9b9 100.0%)"></i><i style="left:294px;width:6.5px;background:linear-gradient(0deg,#000000 62.0%,#bdbdbd 66.0%,#b9b9b9 100.0%)"></i><i style="left:300px;width:6.5px;background:linear-gradient(0deg,#000000 62.0%,#bdbdbd 66.0%,#b9b9b9 100.0%)"></i><i style="left:306px;width:6.5px;background:linear-gradient(0deg,#000000 62.0%,#bdbdbd 66.0%,#b9b9b9 100.0%)"></i><i style="left:312px;width:6.5px;background:linear-gradient(0deg,#000000 62.0%,#bdbdbd 66.0%,#b9b9b9 100.0%)"></i><i style="left:318px;width:6.5px;background:linear-gradient(0deg,#000000 62.0%,#bdbdbd 66.0%,#b9b9b9 100.0%)"></i><i style="left:324px;width:6.5px;background:linear-gradient(0deg,#000000 62.0%,#bdbdbd 66.0%,#b9b9b9 100.0%)"></i><i style="left:330px;width:6.5px;background:linear-gradient(0deg,#000000 62.0%,#bdbdbd 66.0%,#b9b9b9 100.0%)"></i><i style="left:336px;width:6.5px;background:linear-gradient(0deg,#000000 62.0%,#bdbdbd 66.0%,#b9b9b9 100.0%)"></i><i style="left:342px;width:6.5px;background:linear-gradient(0deg,#000000 62.0%,#bdbdbd 66.0%,#b9b9b9 100.0%)"></i><i style="left:348px;width:6.5px;background:linear-gradient(0deg,#000000 62.0%,#bdbdbd 66.0%,#b9b9b9 100.0%)"></i><i style="left:486px;width:6.5px;background:linear-gradient(0deg,#000000 0.0%,#000000 86.0%,#b3b3b3 90.0%,#adadad 100.0%)"></i><i style="left:492px;width:6.5px;background:linear-gradient(0deg,#000000 56.0%,#9c9c9c 60.0%,#9b9b9b 86.0%,#b6b6b6 90.0%,#b2b2b2 100.0%)"></i><i style="left:498px;width:6.5px;background:linear-gradient(0deg,#000000 56.0%,#a0a0a0 60.0%,#9f9f9f 86.0%,#b6b6b6 90.0%,#b2b2b2 100.0%)"></i><i style="left:504px;width:6.5px;background:linear-gradient(0deg,#000000 56.0%,#a5a5a5 60.0%,#a2a2a2 86.0%,#b5b5b5 90.0%,#b2b2b2 100.0%)"></i><i style="left:510px;width:6.5px;background:linear-gradient(0deg,#000000 56.0%,#a8a8a8 60.0%,#a6a6a6 86.0%,#b5b5b5 90.0%,#b2b2b2 100.0%)"></i><i style="left:516px;width:6.5px;background:linear-gradient(0deg,#000000 56.0%,#aaaaaa 60.0%,#a8a8a8 86.0%,#b5b5b5 90.0%,#b2b2b2 100.0%)"></i><i style="left:522px;width:6.5px;background:linear-gradient(0deg,#000000 56.0%,#adadad 60.0%,#aaaaaa 86.0%,#b5b5b5 90.0%,#b2b2b2 100.0%)"></i><i style="left:528px;width:6.5px;background:linear-gradient(0deg,#000000 56.0%,#afafaf 60.0%,#acacac 86.0%,#b4b4b4 90.0%,#b2b2b2 100.0%)"></i><i style="left:534px;width:6.5px;background:linear-gradient(0deg,#000000 56.0%,#b2b2b2 60.0%,#aeaeae 86.0%,#b4b4b4 90.0%,#b2b2b2 100.0%)"></i><i style="left:540px;width:6.5px;background:linear-gradient(0deg,#000000 56.0%,#b3b3b3 60.0%,#b0b0b0 86.0%,#b4b4b4 90.0%,#b2b2b2 100.0%)"></i><i style="left:546px;width:6.5px;background:linear-gradient(0deg,#000000 56.0%,#b4b4b4 60.0%,#b2b2b2 86.0%,#b4b4b4 90.0%,#b2b2b2 100.0%)"></i><i style="left:552px;width:6.5px;background:linear-gradient(0deg,#000000 56.0%,#b5b5b5 60.0%,#b3b3b3 86.0%,#b3b3b3 90.0%,#b2b2b2 100.0%)"></i><i style="left:558px;width:6.5px;background:linear-gradient(0deg,#000000 56.0%,#b6b6b6 60.0%,#b5b5b5 70.0%,#b5b5b5 75.0%,#b2b2b2 100.0%)"></i><i style="left:564px;width:6.5px;background:linear-gradient(0deg,#000000 56.0%,#b6b6b6 60.0%,#b5b5b5 70.0%,#b5b5b5 75.0%,#b2b2b2 100.0%)"></i><i style="left:570px;width:6.5px;background:linear-gradient(0deg,#000000 56.0%,#b5b5b5 60.0%,#b4b4b4 70.0%,#b5b5b5 75.0%,#b2b2b2 100.0%)"></i><i style="left:576px;width:6.5px;background:linear-gradient(0deg,#000000 56.0%,#b5b5b5 60.0%,#b4b4b4 70.0%,#b5b5b5 75.0%,#b2b2b2 100.0%)"></i><i style="left:582px;width:6.5px;background:linear-gradient(0deg,#000000 56.0%,#b4b4b4 60.0%,#b4b4b4 70.0%,#b5b5b5 75.0%,#b2b2b2 100.0%)"></i><i style="left:588px;width:6.5px;background:linear-gradient(0deg,#000000 56.0%,#b4b4b4 60.0%,#b3b3b3 70.0%,#b5b5b5 75.0%,#b2b2b2 100.0%)"></i><i style="left:594px;width:6.5px;background:linear-gradient(0deg,#000000 56.0%,#b3b3b3 60.0%,#b3b3b3 70.0%,#b5b5b5 75.0%,#b2b2b2 100.0%)"></i><i style="left:600px;width:6.5px;background:linear-gradient(0deg,#000000 56.0%,#b3b3b3 60.0%,#b2b2b2 70.0%,#b5b5b5 75.0%,#b2b2b2 100.0%)"></i><i style="left:606px;width:6.5px;background:linear-gradient(0deg,#000000 56.0%,#b3b3b3 60.0%,#b1b1b1 70.0%,#b5b5b5 75.0%,#b2b2b2 100.0%)"></i><i style="left:612px;width:6.5px;background:linear-gradient(0deg,#000000 56.0%,#b2b2b2 60.0%,#b0b0b0 70.0%,#b5b5b5 75.0%,#b2b2b2 100.0%)"></i><i style="left:618px;width:6.5px;background:linear-gradient(0deg,#000000 56.0%,#b1b1b1 60.0%,#afafaf 70.0%,#b5b5b5 75.0%,#b2b2b2 100.0%)"></i><i style="left:624px;width:6.5px;background:linear-gradient(0deg,#000000 56.0%,#b0b0b0 60.0%,#aeaeae 70.0%,#b5b5b5 75.0%,#b2b2b2 100.0%)"></i><i style="left:630px;width:6.5px;background:linear-gradient(0deg,#000000 56.0%,#afafaf 60.0%,#adadad 70.0%,#b5b5b5 75.0%,#b2b2b2 100.0%)"></i><i style="left:636px;width:6.5px;background:linear-gradient(0deg,#000000 56.0%,#aeaeae 60.0%,#acacac 70.0%,#b5b5b5 75.0%,#b2b2b2 100.0%)"></i><i style="left:642px;width:6.5px;background:linear-gradient(0deg,#000000 56.0%,#acacac 60.0%,#ababab 70.0%,#b5b5b5 75.0%,#b2b2b2 100.0%)"></i><i style="left:648px;width:6.5px;background:linear-gradient(0deg,#000000 56.0%,#ababab 60.0%,#aaaaaa 70.0%,#b5b5b5 75.0%,#b2b2b2 100.0%)"></i><i style="left:654px;width:6.5px;background:linear-gradient(0deg,#000000 56.0%,#aaaaaa 60.0%,#a9a9a9 70.0%,#b5b5b5 75.0%,#b2b2b2 100.0%)"></i><i style="left:660px;width:6.5px;background:linear-gradient(0deg,#000000 56.0%,#a9a9a9 60.0%,#a8a8a8 70.0%,#b5b5b5 75.0%,#b2b2b2 100.0%)"></i><i style="left:666px;width:6.5px;background:linear-gradient(0deg,#000000 56.0%,#a8a8a8 60.0%,#a7a7a7 70.0%,#b6b6b6 75.0%,#b2b2b2 100.0%)"></i><i style="left:672px;width:6.5px;background:linear-gradient(0deg,#000000 56.0%,#a7a7a7 60.0%,#a6a6a6 70.0%,#b6b6b6 75.0%,#b2b2b2 100.0%)"></i><i style="left:678px;width:6.5px;background:linear-gradient(0deg,#000000 56.0%,#a6a6a6 60.0%,#a5a5a5 70.0%,#b6b6b6 75.0%,#b2b2b2 100.0%)"></i><i style="left:684px;width:6.5px;background:linear-gradient(0deg,#000000 56.0%,#a4a4a4 60.0%,#a3a3a3 70.0%,#b6b6b6 75.0%,#b2b2b2 100.0%)"></i><i style="left:690px;width:6.5px;background:linear-gradient(0deg,#000000 56.0%,#a2a2a2 60.0%,#a1a1a1 70.0%,#b6b6b6 75.0%,#b2b2b2 100.0%)"></i><i style="left:696px;width:6.5px;background:linear-gradient(0deg,#000000 56.0%,#a0a0a0 60.0%,#9f9f9f 70.0%,#b6b6b6 75.0%,#b2b2b2 100.0%)"></i><i style="left:702px;width:6.5px;background:linear-gradient(0deg,#000000 56.0%,#9e9e9e 60.0%,#9e9e9e 70.0%,#b6b6b6 75.0%,#b2b2b2 100.0%)"></i><i style="left:708px;width:6.5px;background:linear-gradient(0deg,#000000 56.0%,#9c9c9c 60.0%,#9c9c9c 70.0%,#b6b6b6 75.0%,#b2b2b2 100.0%)"></i><i style="left:714px;width:6.5px;background:linear-gradient(0deg,#000000 56.0%,#9a9a9a 60.0%,#9a9a9a 70.0%,#b6b6b6 75.0%,#b2b2b2 100.0%)"></i><i style="left:720px;width:6.5px;background:linear-gradient(0deg,#000000 70.0%,#b6b6b6 75.0%,#b4b4b4 90.0%,#b3b3b3 95.0%,#b2b2b2 100.0%)"></i><i style="left:726px;width:6.5px;background:linear-gradient(0deg,#000000 70.0%,#b5b5b5 75.0%,#b3b3b3 90.0%,#b3b3b3 95.0%,#b2b2b2 100.0%)"></i><i style="left:732px;width:6.5px;background:linear-gradient(0deg,#000000 70.0%,#b3b3b3 75.0%,#b0b0b0 90.0%,#b4b4b4 95.0%,#b2b2b2 100.0%)"></i><i style="left:738px;width:6.5px;background:linear-gradient(0deg,#000000 70.0%,#b0b0b0 75.0%,#adadad 90.0%,#b4b4b4 95.0%,#b2b2b2 100.0%)"></i><i style="left:744px;width:6.5px;background:linear-gradient(0deg,#000000 70.0%,#adadad 75.0%,#aaaaaa 90.0%,#b5b5b5 95.0%,#b2b2b2 100.0%)"></i><i style="left:750px;width:6.5px;background:linear-gradient(0deg,#000000 70.0%,#a9a9a9 75.0%,#a7a7a7 90.0%,#b5b5b5 95.0%,#b2b2b2 100.0%)"></i><i style="left:756px;width:6.5px;background:linear-gradient(0deg,#000000 70.0%,#a4a4a4 75.0%,#a2a2a2 90.0%,#b5b5b5 95.0%,#b2b2b2 100.0%)"></i><i style="left:762px;width:6.5px;background:linear-gradient(0deg,#000000 70.0%,#9d9d9d 75.0%,#9c9c9c 90.0%,#b6b6b6 95.0%,#b2b2b2 100.0%)"></i><i style="left:768px;width:6.5px;background:linear-gradient(0deg,#000000 0.0%,#000000 90.0%,#b3b3b3 95.0%,#adadad 100.0%)"></i></div><svg width="1621" height="1020" viewBox="0 0 1621 1020" style="position:absolute;left:0;top:0"><defs><filter id="spkW" x="0" y="0" width="100%" height="100%" color-interpolation-filters="sRGB"><feTurbulence type="turbulence" baseFrequency="0.5 0.12" numOctaves="1" seed="7" result="n"/><feColorMatrix in="n" type="matrix" values="0 0 0 0 0 0 0 0 0 0 0 0 0 0 0 1 0 0 0 0" result="na"/><feColorMatrix in="SourceGraphic" type="matrix" values="0 0 0 0 0 0 0 0 0 0 0 0 0 0 0 1 0 0 0 0" result="da"/><feComposite in="na" in2="da" operator="arithmetic" k2="1" k3="1.5" k4="-1.0" result="s"/><feComponentTransfer in="s" result="th"><feFuncA type="discrete" tableValues="0 1"/></feComponentTransfer><feFlood flood-color="#ffffff" result="w"/><feComposite in="w" in2="th" operator="in"/></filter><filter id="spkL" x="0" y="0" width="100%" height="100%" color-interpolation-filters="sRGB"><feTurbulence type="turbulence" baseFrequency="0.2 0.12" numOctaves="1" seed="3" result="n"/><feColorMatrix in="n" type="matrix" values="0 0 0 0 0 0 0 0 0 0 0 0 0 0 0 1 0 0 0 0" result="na"/><feColorMatrix in="SourceGraphic" type="matrix" values="0 0 0 0 0 0 0 0 0 0 0 0 0 0 0 1 0 0 0 0" result="da"/><feComposite in="na" in2="da" operator="arithmetic" k2="1" k3="1.5" k4="-1.0" result="s"/><feComponentTransfer in="s" result="th"><feFuncA type="discrete" tableValues="0 1"/></feComponentTransfer><feFlood flood-color="#b4b4ff" result="w"/><feComposite in="w" in2="th" operator="in"/></filter><filter id="spkRL" x="0" y="0" width="100%" height="100%" color-interpolation-filters="sRGB"><feTurbulence type="turbulence" baseFrequency="0.5 0.12" numOctaves="1" seed="13" result="n"/><feColorMatrix in="n" type="matrix" values="0 0 0 0 0 0 0 0 0 0 0 0 0 0 0 1 0 0 0 0" result="na"/><feColorMatrix in="SourceGraphic" type="matrix" values="0 0 0 0 0 0 0 0 0 0 0 0 0 0 0 1 0 0 0 0" result="da"/><feComposite in="na" in2="da" operator="arithmetic" k2="1" k3="1.5" k4="-1.0" result="s"/><feComponentTransfer in="s" result="th"><feFuncA type="discrete" tableValues="0 1"/></feComponentTransfer><feFlood flood-color="#c4c4ff" result="w"/><feComposite in="w" in2="th" operator="in"/></filter><filter id="spkW2" x="0" y="0" width="100%" height="100%" color-interpolation-filters="sRGB"><feTurbulence type="turbulence" baseFrequency="0.18 0.12" numOctaves="1" seed="21" result="n"/><feColorMatrix in="n" type="matrix" values="0 0 0 0 0 0 0 0 0 0 0 0 0 0 0 1 0 0 0 0" result="na"/><feColorMatrix in="SourceGraphic" type="matrix" values="0 0 0 0 0 0 0 0 0 0 0 0 0 0 0 1 0 0 0 0" result="da"/><feComposite in="na" in2="da" operator="arithmetic" k2="1" k3="1.5" k4="-1.0" result="s"/><feComponentTransfer in="s" result="th"><feFuncA type="discrete" tableValues="0 1"/></feComponentTransfer><feFlood flood-color="#ffffff" result="w"/><feComposite in="w" in2="th" operator="in"/></filter><filter id="spkB" x="0" y="0" width="100%" height="100%" color-interpolation-filters="sRGB"><feTurbulence type="turbulence" baseFrequency="0.2 0.1" numOctaves="1" seed="17" result="n"/><feColorMatrix in="n" type="matrix" values="0 0 0 0 0 0 0 0 0 0 0 0 0 0 0 1 0 0 0 0" result="na"/><feColorMatrix in="SourceGraphic" type="matrix" values="0 0 0 0 0 0 0 0 0 0 0 0 0 0 0 1 0 0 0 0" result="da"/><feComposite in="na" in2="da" operator="arithmetic" k2="1" k3="1.5" k4="-1.0" result="s"/><feComponentTransfer in="s" result="th"><feFuncA type="discrete" tableValues="0 1"/></feComponentTransfer><feFlood flood-color="#1414ff" result="w"/><feComposite in="w" in2="th" operator="in"/></filter><filter id="spkC" x="0" y="0" width="100%" height="100%" color-interpolation-filters="sRGB"><feTurbulence type="turbulence" baseFrequency="0.5 0.1" numOctaves="1" seed="29" result="n"/><feColorMatrix in="n" type="matrix" values="0 0 0 0 0 0 0 0 0 0 0 0 0 0 0 1 0 0 0 0" result="na"/><feColorMatrix in="SourceGraphic" type="matrix" values="0 0 0 0 0 0 0 0 0 0 0 0 0 0 0 1 0 0 0 0" result="da"/><feComposite in="na" in2="da" operator="arithmetic" k2="1" k3="1.5" k4="-1.0" result="s"/><feComponentTransfer in="s" result="th"><feFuncA type="discrete" tableValues="0 1"/></feComponentTransfer><feFlood flood-color="#00b8ff" result="w"/><feComposite in="w" in2="th" operator="in"/></filter><filter id="spkY" x="0" y="0" width="100%" height="100%" color-interpolation-filters="sRGB"><feTurbulence type="turbulence" baseFrequency="0.25 0.03" numOctaves="1" seed="31" result="n"/><feColorMatrix in="n" type="matrix" values="0 0 0 0 0 0 0 0 0 0 0 0 0 0 0 1 0 0 0 0" result="na"/><feColorMatrix in="SourceGraphic" type="matrix" values="0 0 0 0 0 0 0 0 0 0 0 0 0 0 0 1 0 0 0 0" result="da"/><feComposite in="na" in2="da" operator="arithmetic" k2="1" k3="1.5" k4="-1.0" result="s"/><feComponentTransfer in="s" result="th"><feFuncA type="discrete" tableValues="0 1"/></feComponentTransfer><feFlood flood-color="#e8ff18" result="w"/><feComposite in="w" in2="th" operator="in"/></filter><filter id="spkG" x="0" y="0" width="100%" height="100%" color-interpolation-filters="sRGB"><feTurbulence type="turbulence" baseFrequency="0.25 0.03" numOctaves="1" seed="37" result="n"/><feColorMatrix in="n" type="matrix" values="0 0 0 0 0 0 0 0 0 0 0 0 0 0 0 1 0 0 0 0" result="na"/><feColorMatrix in="SourceGraphic" type="matrix" values="0 0 0 0 0 0 0 0 0 0 0 0 0 0 0 1 0 0 0 0" result="da"/><feComposite in="na" in2="da" operator="arithmetic" k2="1" k3="1.5" k4="-1.0" result="s"/><feComponentTransfer in="s" result="th"><feFuncA type="discrete" tableValues="0 1"/></feComponentTransfer><feFlood flood-color="#78ff88" result="w"/><feComposite in="w" in2="th" operator="in"/></filter></defs><g stroke="#c4c4c4" stroke-width="1.1" stroke-dasharray="1.1,2.4"><line x1="139.71" y1="37.50" x2="139.71" y2="448.50"/><line x1="197.82" y1="37.50" x2="197.82" y2="448.50"/><line x1="255.94" y1="37.50" x2="255.94" y2="448.50"/><line x1="314.05" y1="37.50" x2="314.05" y2="448.50"/><line x1="372.16" y1="37.50" x2="372.16" y2="448.50"/><line x1="430.27" y1="37.50" x2="430.27" y2="448.50"/><line x1="488.39" y1="37.50" x2="488.39" y2="448.50"/><line x1="546.50" y1="37.50" x2="546.50" y2="448.50"/><line x1="604.61" y1="37.50" x2="604.61" y2="448.50"/><line x1="662.73" y1="37.50" x2="662.73" y2="448.50"/><line x1="720.84" y1="37.50" x2="720.84" y2="448.50"/><line x1="778.95" y1="37.50" x2="778.95" y2="448.50"/><line x1="837.06" y1="37.50" x2="837.06" y2="448.50"/><line x1="895.17" y1="37.50" x2="895.17" y2="448.50"/><line x1="953.29" y1="37.50" x2="953.29" y2="448.50"/><line x1="1011.40" y1="37.50" x2="1011.40" y2="448.50"/><line x1="1069.51" y1="37.50" x2="1069.51" y2="448.50"/><line x1="1127.62" y1="37.50" x2="1127.62" y2="448.50"/><line x1="1185.74" y1="37.50" x2="1185.74" y2="448.50"/><line x1="1243.85" y1="37.50" x2="1243.85" y2="448.50"/><line x1="1301.96" y1="37.50" x2="1301.96" y2="448.50"/><line x1="1360.08" y1="37.50" x2="1360.08" y2="448.50"/><line x1="1418.19" y1="37.50" x2="1418.19" y2="448.50"/><line x1="81.60" y1="345.75" x2="1476.30" y2="345.75"/><line x1="81.60" y1="243.00" x2="1476.30" y2="243.00"/><line x1="81.60" y1="140.25" x2="1476.30" y2="140.25"/></g><rect x="81.60" y="37.50" width="1394.70" height="411.00" fill="none" stroke="#000" stroke-width="1.6"/><g stroke="#000" stroke-width="1.4"><line x1="81.60" y1="448.50" x2="81.60" y2="454.50"/><line x1="139.71" y1="448.50" x2="139.71" y2="454.50"/><line x1="197.82" y1="448.50" x2="197.82" y2="454.50"/><line x1="255.94" y1="448.50" x2="255.94" y2="454.50"/><line x1="314.05" y1="448.50" x2="314.05" y2="454.50"/><line x1="372.16" y1="448.50" x2="372.16" y2="454.50"/><line x1="430.27" y1="448.50" x2="430.27" y2="454.50"/><line x1="488.39" y1="448.50" x2="488.39" y2="454.50"/><line x1="546.50" y1="448.50" x2="546.50" y2="454.50"/><line x1="604.61" y1="448.50" x2="604.61" y2="454.50"/><line x1="662.73" y1="448.50" x2="662.73" y2="454.50"/><line x1="720.84" y1="448.50" x2="720.84" y2="454.50"/><line x1="778.95" y1="448.50" x2="778.95" y2="454.50"/><line x1="837.06" y1="448.50" x2="837.06" y2="454.50"/><line x1="895.17" y1="448.50" x2="895.17" y2="454.50"/><line x1="953.29" y1="448.50" x2="953.29" y2="454.50"/><line x1="1011.40" y1="448.50" x2="1011.40" y2="454.50"/><line x1="1069.51" y1="448.50" x2="1069.51" y2="454.50"/><line x1="1127.62" y1="448.50" x2="1127.62" y2="454.50"/><line x1="1185.74" y1="448.50" x2="1185.74" y2="454.50"/><line x1="1243.85" y1="448.50" x2="1243.85" y2="454.50"/><line x1="1301.96" y1="448.50" x2="1301.96" y2="454.50"/><line x1="1360.08" y1="448.50" x2="1360.08" y2="454.50"/><line x1="1418.19" y1="448.50" x2="1418.19" y2="454.50"/><line x1="1476.30" y1="448.50" x2="1476.30" y2="454.50"/><line x1="81.60" y1="448.50" x2="87.60" y2="448.50"/><line x1="1470.30" y1="448.50" x2="1476.30" y2="448.50"/><line x1="81.60" y1="345.75" x2="87.60" y2="345.75"/><line x1="1470.30" y1="345.75" x2="1476.30" y2="345.75"/><line x1="81.60" y1="243.00" x2="87.60" y2="243.00"/><line x1="1470.30" y1="243.00" x2="1476.30" y2="243.00"/><line x1="81.60" y1="140.25" x2="87.60" y2="140.25"/><line x1="1470.30" y1="140.25" x2="1476.30" y2="140.25"/><line x1="81.60" y1="37.50" x2="87.60" y2="37.50"/><line x1="1470.30" y1="37.50" x2="1476.30" y2="37.50"/></g><g font-family='"Liberation Sans", sans-serif' font-size="17" fill="#000"><text x="81.60" y="473.80" text-anchor="middle">0</text><text x="139.71" y="473.80" text-anchor="middle">1</text><text x="197.82" y="473.80" text-anchor="middle">2</text><text x="255.94" y="473.80" text-anchor="middle">3</text><text x="314.05" y="473.80" text-anchor="middle">4</text><text x="372.16" y="473.80" text-anchor="middle">5</text><text x="430.27" y="473.80" text-anchor="middle">6</text><text x="488.39" y="473.80" text-anchor="middle">7</text><text x="546.50" y="473.80" text-anchor="middle">8</text><text x="604.61" y="473.80" text-anchor="middle">9</text><text x="662.73" y="473.80" text-anchor="middle">10</text><text x="720.84" y="473.80" text-anchor="middle">11</text><text x="778.95" y="473.80" text-anchor="middle">12</text><text x="837.06" y="473.80" text-anchor="middle">13</text><text x="895.17" y="473.80" text-anchor="middle">14</text><text x="953.29" y="473.80" text-anchor="middle">15</text><text x="1011.40" y="473.80" text-anchor="middle">16</text><text x="1069.51" y="473.80" text-anchor="middle">17</text><text x="1127.62" y="473.80" text-anchor="middle">18</text><text x="1185.74" y="473.80" text-anchor="middle">19</text><text x="1243.85" y="473.80" text-anchor="middle">20</text><text x="1301.96" y="473.80" text-anchor="middle">21</text><text x="1360.08" y="473.80" text-anchor="middle">22</text><text x="1418.19" y="473.80" text-anchor="middle">23</text><text x="1476.30" y="473.80" text-anchor="middle">24</text><text x="74.5" y="455.30" text-anchor="end">0</text><text x="74.5" y="352.55" text-anchor="end" textLength="34.3" lengthAdjust="spacingAndGlyphs">0.25</text><text x="74.5" y="249.80" text-anchor="end" textLength="25.5" lengthAdjust="spacingAndGlyphs">0.5</text><text x="74.5" y="147.05" text-anchor="end" textLength="34.3" lengthAdjust="spacingAndGlyphs">0.75</text><text x="76.5" y="44.30" text-anchor="end">1</text></g><text transform="translate(26.2,243.00) rotate(-90)" text-anchor="middle" font-family='"Liberation Sans", sans-serif' font-size="22.5" fill="#000" textLength="142" lengthAdjust="spacingAndGlyphs">Altitude (km)</text><text x="778.95" y="27.50" text-anchor="middle" font-family='"Liberation Sans", sans-serif' font-weight="bold" font-size="22" fill="#404040" textLength="519" lengthAdjust="spacingAndGlyphs">Raw attenuated backscattering coefficient</text><g stroke="#c4c4c4" stroke-width="1.1" stroke-dasharray="1.1,2.4"><line x1="139.71" y1="541.70" x2="139.71" y2="952.50"/><line x1="197.82" y1="541.70" x2="197.82" y2="952.50"/><line x1="255.94" y1="541.70" x2="255.94" y2="952.50"/><line x1="314.05" y1="541.70" x2="314.05" y2="952.50"/><line x1="372.16" y1="541.70" x2="372.16" y2="952.50"/><line x1="430.27" y1="541.70" x2="430.27" y2="952.50"/><line x1="488.39" y1="541.70" x2="488.39" y2="952.50"/><line x1="546.50" y1="541.70" x2="546.50" y2="952.50"/><line x1="604.61" y1="541.70" x2="604.61" y2="952.50"/><line x1="662.73" y1="541.70" x2="662.73" y2="952.50"/><line x1="720.84" y1="541.70" x2="720.84" y2="952.50"/><line x1="778.95" y1="541.70" x2="778.95" y2="952.50"/><line x1="837.06" y1="541.70" x2="837.06" y2="952.50"/><line x1="895.17" y1="541.70" x2="895.17" y2="952.50"/><line x1="953.29" y1="541.70" x2="953.29" y2="952.50"/><line x1="1011.40" y1="541.70" x2="1011.40" y2="952.50"/><line x1="1069.51" y1="541.70" x2="1069.51" y2="952.50"/><line x1="1127.62" y1="541.70" x2="1127.62" y2="952.50"/><line x1="1185.74" y1="541.70" x2="1185.74" y2="952.50"/><line x1="1243.85" y1="541.70" x2="1243.85" y2="952.50"/><line x1="1301.96" y1="541.70" x2="1301.96" y2="952.50"/><line x1="1360.08" y1="541.70" x2="1360.08" y2="952.50"/><line x1="1418.19" y1="541.70" x2="1418.19" y2="952.50"/><line x1="81.60" y1="849.80" x2="1476.30" y2="849.80"/><line x1="81.60" y1="747.10" x2="1476.30" y2="747.10"/><line x1="81.60" y1="644.40" x2="1476.30" y2="644.40"/></g><rect x="81.60" y="541.70" width="1394.70" height="410.80" fill="none" stroke="#000" stroke-width="1.6"/><g stroke="#000" stroke-width="1.4"><line x1="81.60" y1="952.50" x2="81.60" y2="958.50"/><line x1="139.71" y1="952.50" x2="139.71" y2="958.50"/><line x1="197.82" y1="952.50" x2="197.82" y2="958.50"/><line x1="255.94" y1="952.50" x2="255.94" y2="958.50"/><line x1="314.05" y1="952.50" x2="314.05" y2="958.50"/><line x1="372.16" y1="952.50" x2="372.16" y2="958.50"/><line x1="430.27" y1="952.50" x2="430.27" y2="958.50"/><line x1="488.39" y1="952.50" x2="488.39" y2="958.50"/><line x1="546.50" y1="952.50" x2="546.50" y2="958.50"/><line x1="604.61" y1="952.50" x2="604.61" y2="958.50"/><line x1="662.73" y1="952.50" x2="662.73" y2="958.50"/><line x1="720.84" y1="952.50" x2="720.84" y2="958.50"/><line x1="778.95" y1="952.50" x2="778.95" y2="958.50"/><line x1="837.06" y1="952.50" x2="837.06" y2="958.50"/><line x1="895.17" y1="952.50" x2="895.17" y2="958.50"/><line x1="953.29" y1="952.50" x2="953.29" y2="958.50"/><line x1="1011.40" y1="952.50" x2="1011.40" y2="958.50"/><line x1="1069.51" y1="952.50" x2="1069.51" y2="958.50"/><line x1="1127.62" y1="952.50" x2="1127.62" y2="958.50"/><line x1="1185.74" y1="952.50" x2="1185.74" y2="958.50"/><line x1="1243.85" y1="952.50" x2="1243.85" y2="958.50"/><line x1="1301.96" y1="952.50" x2="1301.96" y2="958.50"/><line x1="1360.08" y1="952.50" x2="1360.08" y2="958.50"/><line x1="1418.19" y1="952.50" x2="1418.19" y2="958.50"/><line x1="1476.30" y1="952.50" x2="1476.30" y2="958.50"/><line x1="81.60" y1="952.50" x2="87.60" y2="952.50"/><line x1="1470.30" y1="952.50" x2="1476.30" y2="952.50"/><line x1="81.60" y1="849.80" x2="87.60" y2="849.80"/><line x1="1470.30" y1="849.80" x2="1476.30" y2="849.80"/><line x1="81.60" y1="747.10" x2="87.60" y2="747.10"/><line x1="1470.30" y1="747.10" x2="1476.30" y2="747.10"/><line x1="81.60" y1="644.40" x2="87.60" y2="644.40"/><line x1="1470.30" y1="644.40" x2="1476.30" y2="644.40"/><line x1="81.60" y1="541.70" x2="87.60" y2="541.70"/><line x1="1470.30" y1="541.70" x2="1476.30" y2="541.70"/></g><g font-family='"Liberation Sans", sans-serif' font-size="17" fill="#000"><text x="81.60" y="977.80" text-anchor="middle">0</text><text x="139.71" y="977.80" text-anchor="middle">1</text><text x="197.82" y="977.80" text-anchor="middle">2</text><text x="255.94" y="977.80" text-anchor="middle">3</text><text x="314.05" y="977.80" text-anchor="middle">4</text><text x="372.16" y="977.80" text-anchor="middle">5</text><text x="430.27" y="977.80" text-anchor="middle">6</text><text x="488.39" y="977.80" text-anchor="middle">7</text><text x="546.50" y="977.80" text-anchor="middle">8</text><text x="604.61" y="977.80" text-anchor="middle">9</text><text x="662.73" y="977.80" text-anchor="middle">10</text><text x="720.84" y="977.80" text-anchor="middle">11</text><text x="778.95" y="977.80" text-anchor="middle">12</text><text x="837.06" y="977.80" text-anchor="middle">13</text><text x="895.17" y="977.80" text-anchor="middle">14</text><text x="953.29" y="977.80" text-anchor="middle">15</text><text x="1011.40" y="977.80" text-anchor="middle">16</text><text x="1069.51" y="977.80" text-anchor="middle">17</text><text x="1127.62" y="977.80" text-anchor="middle">18</text><text x="1185.74" y="977.80" text-anchor="middle">19</text><text x="1243.85" y="977.80" text-anchor="middle">20</text><text x="1301.96" y="977.80" text-anchor="middle">21</text><text x="1360.08" y="977.80" text-anchor="middle">22</text><text x="1418.19" y="977.80" text-anchor="middle">23</text><text x="1476.30" y="977.80" text-anchor="middle">24</text><text x="74.5" y="959.30" text-anchor="end">0</text><text x="74.5" y="856.60" text-anchor="end" textLength="34.3" lengthAdjust="spacingAndGlyphs">0.25</text><text x="74.5" y="753.90" text-anchor="end" textLength="25.5" lengthAdjust="spacingAndGlyphs">0.5</text><text x="74.5" y="651.20" text-anchor="end" textLength="34.3" lengthAdjust="spacingAndGlyphs">0.75</text><text x="76.5" y="548.50" text-anchor="end">1</text></g><text transform="translate(26.2,747.10) rotate(-90)" text-anchor="middle" font-family='"Liberation Sans", sans-serif' font-size="22.5" fill="#000" textLength="142" lengthAdjust="spacingAndGlyphs">Altitude (km)</text><text x="778.95" y="531.70" text-anchor="middle" font-family='"Liberation Sans", sans-serif' font-weight="bold" font-size="22" fill="#404040" textLength="660" lengthAdjust="spacingAndGlyphs">Attenuated backscattering coefficient (SNR-screened)</text><text x="778.95" y="1004" text-anchor="middle" font-family='"Liberation Sans", sans-serif' font-size="22" fill="#000" textLength="120" lengthAdjust="spacingAndGlyphs">Time (UTC)</text><rect x="1530.5" y="709.09" width="22.0" height="8.81" fill="#ebebff"/><rect x="1530.5" y="700.68" width="22.0" height="8.81" fill="#c2c2ff"/><rect x="1530.5" y="692.27" width="22.0" height="8.81" fill="#9999ff"/><rect x="1530.5" y="683.86" width="22.0" height="8.81" fill="#7070ff"/><rect x="1530.5" y="675.45" width="22.0" height="8.81" fill="#4747ff"/><rect x="1530.5" y="667.04" width="22.0" height="8.81" fill="#1f1fff"/><rect x="1530.5" y="658.63" width="22.0" height="8.81" fill="#0005ff"/><rect x="1530.5" y="650.22" width="22.0" height="8.81" fill="#001aff"/><rect x="1530.5" y="641.81" width="22.0" height="8.81" fill="#002eff"/><rect x="1530.5" y="633.40" width="22.0" height="8.81" fill="#0042ff"/><rect x="1530.5" y="624.99" width="22.0" height="8.81" fill="#0057ff"/><rect x="1530.5" y="616.58" width="22.0" height="8.81" fill="#006bff"/><rect x="1530.5" y="608.17" width="22.0" height="8.81" fill="#0080ff"/><rect x="1530.5" y="599.76" width="22.0" height="8.81" fill="#0094ff"/><rect x="1530.5" y="591.35" width="22.0" height="8.81" fill="#00a8ff"/><rect x="1530.5" y="582.94" width="22.0" height="8.81" fill="#00bdff"/><rect x="1530.5" y="574.53" width="22.0" height="8.81" fill="#00d1ff"/><rect x="1530.5" y="566.12" width="22.0" height="8.81" fill="#00e5ff"/><rect x="1530.5" y="557.71" width="22.0" height="8.81" fill="#00faff"/><rect x="1530.5" y="549.30" width="22.0" height="8.81" fill="#0ffff0"/><rect x="1530.5" y="540.89" width="22.0" height="8.81" fill="#24ffdb"/><rect x="1530.5" y="532.48" width="22.0" height="8.81" fill="#38ffc7"/><rect x="1530.5" y="524.07" width="22.0" height="8.81" fill="#4dffb2"/><rect x="1530.5" y="515.66" width="22.0" height="8.81" fill="#61ff9e"/><rect x="1530.5" y="507.25" width="22.0" height="8.81" fill="#75ff8a"/><rect x="1530.5" y="498.84" width="22.0" height="8.81" fill="#8aff75"/><rect x="1530.5" y="490.43" width="22.0" height="8.81" fill="#9eff61"/><rect x="1530.5" y="482.02" width="22.0" height="8.81" fill="#b3ff4c"/><rect x="1530.5" y="473.61" width="22.0" height="8.81" fill="#c7ff38"/><rect x="1530.5" y="465.20" width="22.0" height="8.81" fill="#dbff24"/><rect x="1530.5" y="456.79" width="22.0" height="8.81" fill="#f0ff0f"/><rect x="1530.5" y="448.38" width="22.0" height="8.81" fill="#fffa00"/><rect x="1530.5" y="439.97" width="22.0" height="8.81" fill="#ffe500"/><rect x="1530.5" y="431.56" width="22.0" height="8.81" fill="#ffd100"/><rect x="1530.5" y="423.15" width="22.0" height="8.81" fill="#ffbd00"/><rect x="1530.5" y="414.74" width="22.0" height="8.81" fill="#ffa800"/><rect x="1530.5" y="406.33" width="22.0" height="8.81" fill="#ff9400"/><rect x="1530.5" y="397.92" width="22.0" height="8.81" fill="#ff8000"/><rect x="1530.5" y="389.51" width="22.0" height="8.81" fill="#ff6b00"/><rect x="1530.5" y="381.10" width="22.0" height="8.81" fill="#ff5700"/><rect x="1530.5" y="372.69" width="22.0" height="8.81" fill="#ff4200"/><rect x="1530.5" y="364.28" width="22.0" height="8.81" fill="#ff2e00"/><rect x="1530.5" y="355.87" width="22.0" height="8.81" fill="#ff1a00"/><rect x="1530.5" y="347.46" width="22.0" height="8.81" fill="#ff0500"/><rect x="1530.5" y="339.05" width="22.0" height="8.81" fill="#f00000"/><rect x="1530.5" y="330.64" width="22.0" height="8.81" fill="#db0000"/><rect x="1530.5" y="322.23" width="22.0" height="8.81" fill="#c70000"/><rect x="1530.5" y="313.82" width="22.0" height="8.81" fill="#b30000"/><rect x="1530.5" y="305.41" width="22.0" height="8.81" fill="#9e0000"/><rect x="1530.5" y="297.00" width="22.0" height="8.81" fill="#8a0000"/><rect x="1530.5" y="297.0" width="22.0" height="420.5" fill="none" stroke="#000" stroke-width="1.4"/><g font-family='"Liberation Sans", sans-serif' font-size="23" fill="#000"><text x="1559" y="305.0" textLength="45" lengthAdjust="spacingAndGlyphs">1e-4</text><text x="1559" y="725.5" textLength="45" lengthAdjust="spacingAndGlyphs">1e-7</text></g><text transform="translate(1609,510.8) rotate(-90)" text-anchor="middle" font-family='"Liberation Sans", sans-serif' font-size="23" fill="#000" textLength="67.5" lengthAdjust="spacingAndGlyphs">1/m/sr</text></svg></body></html>
